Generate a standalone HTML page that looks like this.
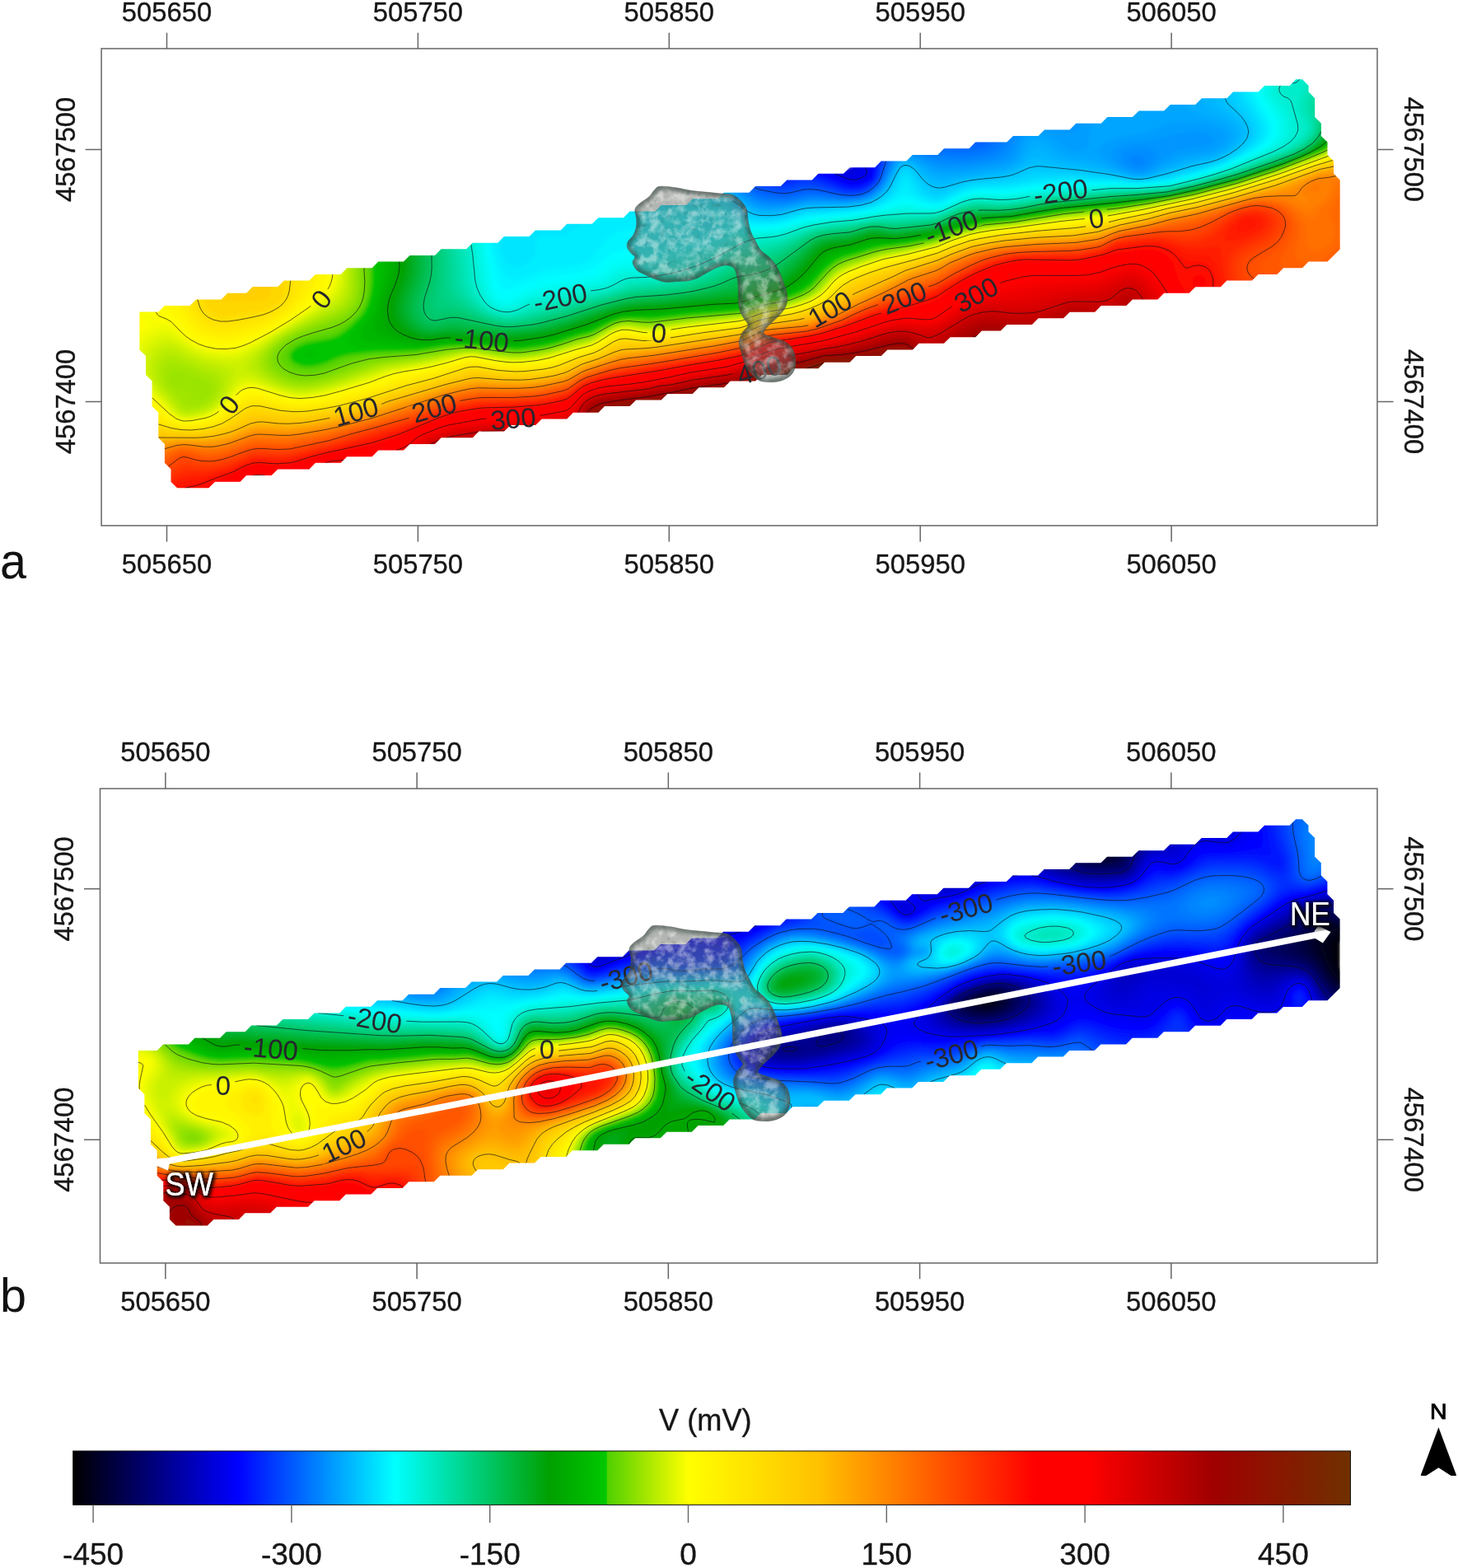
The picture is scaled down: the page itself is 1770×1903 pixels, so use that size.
<!DOCTYPE html>
<html lang="en"><head><meta charset="utf-8"><title>Self-potential maps</title>
<style>html,body{margin:0;padding:0;background:#fff}svg{display:block}text{font-family:"Liberation Sans",sans-serif}</style></head><body>
<svg width="1770" height="1903" viewBox="0 0 1770 1903" role="img" aria-label="Self-potential maps a and b with colour scale">
<rect width="1770" height="1903" fill="#fff"/>
<defs>
<clipPath id="cs"><path d="M230.4 371h-30.5l-7.6 7.6h-22.9v45.8l7.6 7.7v22.9l7.6 7.6v30.5l7.7 7.6v30.6l7.6 7.6v22.9l7.6 7.6v15.3l7.7 7.6h38.1l7.7-7.6h30.5l7.6-7.7h30.5l7.7-7.6h38.1l7.6-7.6h30.6l7.6-7.6h30.5l7.6-7.7h30.6l7.6-7.6h30.5l7.6-7.6h38.2l7.6-7.7h30.6l7.6-7.6h30.5l7.6-7.6h30.5l7.7-7.7h30.5l7.6-7.6h30.6l7.6-7.6h30.5l7.6-7.6h30.5l7.7-7.7h30.5l7.6-7.6h30.6l7.6-7.6h30.5l7.6-7.7h30.5l7.7-7.6h30.5l7.6-7.6h30.6l7.6-7.7h30.5l7.6-7.6h30.5l7.7-7.6h30.5l7.6-7.6h22.9l7.6-7.7h30.6l7.6-7.6h30.5l7.6-7.6h30.6l7.6-7.7h30.5l7.6-7.6h30.6l7.6-7.6h30.5l7.6-7.6h30.6l7.6-7.7h30.5l7.6-7.6h22.9l7.7-7.6h22.9l7.6-7.7h22.9l15.2-15.2v-84l-7.6-7.6v-15.3l-7.6-7.6v-15.3l-7.6-7.6v-15.3l-7.7-7.6v-22.9l-7.6-7.6v-7.6l-7.6-7.7h-7.7l-7.6 7.7h-30.5l-7.7 7.6h-30.5l-7.6 7.6h-30.5l-7.7 7.7h-30.5l-7.6 7.6h-30.5l-7.7 7.6h-30.5l-7.6 7.6h-30.5l-7.7 7.7h-30.5l-7.6 7.6h-30.5l-7.7 7.6h-38.1l-7.6 7.7h-30.6l-7.6 7.6h-30.5l-7.6 7.6h-30.6l-7.6 7.7h-30.5l-7.6 7.6h-30.6l-7.6 7.6h-30.5l-7.6 7.6h-30.6l-7.6 7.7h-30.5l-7.6 7.6h-30.6l-7.6 7.6h-30.5l-7.6 7.7h-30.6l-7.6 7.6h-30.5l-7.6 7.6h-30.6l-7.6 7.7h-30.5l-7.6 7.6h-30.6l-7.6 7.6h-30.5l-7.6 7.6h-30.6l-7.6 7.7h-30.5l-7.6 7.6h-30.6l-7.6 7.6h-30.5l-7.6 7.7h-30.6l-7.6 7.6h-30.5l-7.6 7.6h-30.6l-7.6 7.7h-22.9l-7.6 7.6h-30.5z"/></clipPath>
<filter id="soft" x="-2%" y="-5%" width="104%" height="110%"><feGaussianBlur stdDeviation="2.2"/></filter>
<filter id="glow" x="-30%" y="-40%" width="160%" height="180%"><feGaussianBlur stdDeviation="2.2"/></filter>
<filter id="tglow" x="-30%" y="-40%" width="160%" height="180%"><feMorphology in="SourceAlpha" operator="dilate" radius="2.2" result="d"/><feGaussianBlur in="d" stdDeviation="2.3" result="b"/><feOffset in="b" dx="0.5" dy="1" result="o"/><feComponentTransfer in="o" result="s"><feFuncA type="linear" slope="0.95"/></feComponentTransfer><feMerge><feMergeNode in="s"/><feMergeNode in="SourceGraphic"/></feMerge></filter>
<filter id="tex" x="0" y="0" width="100%" height="100%"><feTurbulence type="fractalNoise" baseFrequency="0.09" numOctaves="3" seed="7" result="n"/><feColorMatrix in="n" type="matrix" values="0 0 0 0 1  0 0 0 0 1  0 0 0 0 1  2.4 2.4 0 0 -2.1" result="w"/><feComposite in="w" in2="SourceGraphic" operator="in"/></filter>
<filter id="texd" x="0" y="0" width="100%" height="100%"><feTurbulence type="fractalNoise" baseFrequency="0.13" numOctaves="2" seed="3" result="n"/><feColorMatrix in="n" type="matrix" values="0 0 0 0 0.05  0 0 0 0 0.1  0 0 0 0 0.1  -2.6 -2.6 0 0 2.1" result="w"/><feComposite in="w" in2="SourceGraphic" operator="in"/></filter>
<linearGradient id="cb" x1="0" y1="0" x2="1" y2="0"><stop offset="0.0002" stop-color="#000000"/><stop offset="0.1286" stop-color="#0000ff"/><stop offset="0.2518" stop-color="#00ffff"/><stop offset="0.2880" stop-color="#00e4b4"/><stop offset="0.3734" stop-color="#00a000"/><stop offset="0.4174" stop-color="#00c800"/><stop offset="0.4184" stop-color="#50d000"/><stop offset="0.4816" stop-color="#ffff00"/><stop offset="0.5851" stop-color="#ffc000"/><stop offset="0.6420" stop-color="#ff8000"/><stop offset="0.7528" stop-color="#ff0000"/><stop offset="0.7942" stop-color="#ff0000"/><stop offset="0.8925" stop-color="#a00000"/><stop offset="0.9992" stop-color="#703000"/></linearGradient>
<mask id="lma" maskUnits="userSpaceOnUse" x="0" y="0" width="1770" height="1903"><rect width="1770" height="1903" fill="#fff"/>
<rect x="375.83" y="352.77" width="28.35" height="20.46" transform="rotate(-52 390 363)" fill="#000"/>
<rect x="641.98" y="350.77" width="76.03" height="20.46" transform="rotate(-12 680 361)" fill="#000"/>
<rect x="546.98" y="402.27" width="76.03" height="20.46" transform="rotate(6 585 412.5)" fill="#000"/>
<rect x="785.83" y="393.77" width="28.35" height="20.46" transform="rotate(4 800 404)" fill="#000"/>
<rect x="263.83" y="480.77" width="28.35" height="20.46" transform="rotate(-52 278 491)" fill="#000"/>
<rect x="399.48" y="489.27" width="65.04" height="20.46" transform="rotate(-16 432 499.5)" fill="#000"/>
<rect x="494.48" y="484.77" width="65.04" height="20.46" transform="rotate(-16 527 495)" fill="#000"/>
<rect x="590.48" y="497.77" width="65.04" height="20.46" transform="rotate(-5 623 508)" fill="#000"/>
<rect x="889.48" y="438.77" width="65.04" height="20.46" transform="rotate(-16 922 449)" fill="#000"/>
<rect x="1249.48" y="222.27" width="76.03" height="20.46" transform="rotate(-8 1287.5 232.5)" fill="#000"/>
<rect x="1116.98" y="265.77" width="76.03" height="20.46" transform="rotate(-20 1155 276)" fill="#000"/>
<rect x="1316.83" y="254.77" width="28.35" height="20.46" transform="rotate(-8 1331 265)" fill="#000"/>
<rect x="974.98" y="364.77" width="65.04" height="20.46" transform="rotate(-30 1007.5 375)" fill="#000"/>
<rect x="1064.98" y="350.77" width="65.04" height="20.46" transform="rotate(-22 1097.5 361)" fill="#000"/>
<rect x="1152.48" y="347.27" width="65.04" height="20.46" transform="rotate(-28 1185 357.5)" fill="#000"/>
</mask>
<mask id="lmb" maskUnits="userSpaceOnUse" x="0" y="0" width="1770" height="1903"><rect width="1770" height="1903" fill="#fff"/>
<rect x="418.32" y="330.72" width="76.03" height="20.46" transform="rotate(10 456.34 340.95)" fill="#000"/>
<rect x="292.46" y="365.91" width="76.03" height="20.46" transform="rotate(5 330.48 376.14)" fill="#000"/>
<rect x="258.37" y="411.16" width="28.35" height="20.46" transform="rotate(0 272.54 421.39)" fill="#000"/>
<rect x="650.93" y="366.92" width="28.35" height="20.46" transform="rotate(0 665.11 377.15)" fill="#000"/>
<rect x="386.36" y="484.06" width="65.04" height="20.46" transform="rotate(-25 418.88 494.29)" fill="#000"/>
<rect x="722.99" y="277.93" width="76.03" height="20.46" transform="rotate(-15 761 288.16)" fill="#000"/>
<rect x="825.37" y="416.19" width="76.03" height="20.46" transform="rotate(35 863.39 426.42)" fill="#000"/>
<rect x="1135.03" y="194.97" width="76.03" height="20.46" transform="rotate(-15 1173.05 205.2)" fill="#000"/>
<rect x="1272.38" y="261.34" width="76.03" height="20.46" transform="rotate(-8 1310.4 271.57)" fill="#000"/>
<rect x="1117.55" y="373.46" width="76.03" height="20.46" transform="rotate(-15 1155.57 383.69)" fill="#000"/>
</mask>
</defs>
<g>
<g clip-path="url(#cs)" filter="url(#soft)">
<path d="M230 370h-30.2l-.6 .3l-7.3 7.3h-22.5l-.6 .3l-.4 .7v45.9l.3 .7l7.3 7.3l.1 22.9l7.5 7.6l.1 30.3l7.6 7.9v30.3l7.6 7.8v22.7l7.6 7.8l.2 15.4l8.3 8.1h38.4l.6-.3l7.4-7.3h30.2l.6-.3l7.3-7.4h30.3l7.9-7.6h37.9l7.9-7.6h30.2l.6-.3l7.3-7.3l30.3-.1l7.9-7.6h30.2l.6-.3l7.3-7.3h30.4l7.8-7.6h37.9l7.8-7.7h30.2l.7-.3l7.3-7.3h30.4l7.7-7.6h30.3l7.9-7.7h30.3l7.8-7.6h30.3l7.9-7.6h30.3l7.8-7.6l30.3-.1l7.9-7.6h30.3l7.8-7.6h30.3l7.9-7.6h30.3l7.8-7.7h30.3l7.9-7.6h30.2l.6-.3l7.3-7.3l30.4-.1l7.8-7.6h30.3l7.8-7.6h30.4l7.8-7.6h30.3l7.8-7.6l22.9-.1l7.7-7.6h30.3l7.8-7.6h30.3l7.9-7.6h30.3l7.8-7.7h30.3l7.9-7.6h30.3l7.8-7.6h30.3l7.9-7.6l30.3-.1l7.8-7.6h30.3l7.9-7.6h22.6l7.9-7.6h22.6l.6-.3l7.3-7.4h22.8l15.9-16v-84.3l-.3-.6l-7.3-7.3l-.1-15.3l-7.5-7.6l-.1-15.2l-7.5-7.7l-.1-15.2l-7.6-7.7l-.1-22.9l-7.5-7.6l-.2-7.8l-7.7-7.8l-.7-.3h-7.8l-.6 .3l-7.3 7.4h-30.4l-7.8 7.6h-30.4l-7.7 7.6h-30.3l-7.9 7.7h-30.3l-7.8 7.6h-30.3l-7.9 7.6h-30.3l-7.8 7.6l-30.3 .1l-7.9 7.6h-30.3l-7.8 7.6h-30.3l-7.9 7.6l-37.9 .1l-7.9 7.6h-30.4l-7.7 7.6h-30.2l-.6 .3l-7.4 7.3h-30.3l-7.8 7.7h-30.3l-7.9 7.6h-30.3l-7.8 7.6l-30.4 .1l-7.8 7.5l-30.3 .1l-7.8 7.6h-30.2l-.6 .3l-7.4 7.3l-30.4 .1l-7.7 7.5l-30.3 .1l-7.9 7.6h-30.3l-7.8 7.6h-30.3l-7.9 7.6h-30.2l-.6 .3l-7.3 7.4h-30.4l-7.8 7.6h-30.2l-.6 .3l-7.3 7.3h-30.3l-7.9 7.6l-30.2 .1l-.6 .2l-7.3 7.4h-30.4l-7.8 7.6h-30.3l-7.8 7.6l-30.3 .1l-7.9 7.6h-30.3l-7.8 7.6h-30.4l-7.8 7.6h-30.3l-7.8 7.7h-22.9l-7.6 7.6h-30.4z" fill="#0000d4"/>
<path d="M1037.3 196.9l-4.3 5.6l-3 1.9l-6 .4l-11.2-3l-707.1 141.4l-137.5 30.6l-2.8 1.8l-1 3l.1 46.9l22.9 107l7.7 30.5l7.7 23.3l8.8 9.5l3.6 1.5l39.1-.1l320.5-61l610.4-122.1l335.7-68.7l91.8-22.9l17.6-16.6l1.4-3.5l-.2-85.5l-30.8-99.9l-7.6-15.3l-8.6-8.9l-11.2-1.5z" fill="#0000dc"/>
<path d="M1043.4 196l-5.6 12l-4.8 3l-9-1.4l-17-6.6l-701.3 140.2l-137.5 30.6l-2.8 1.8l-1 3l.1 46.9l22.9 107l7.7 30.5l7.7 23.3l8.8 9.5l3.6 1.5l39.1-.1l320.5-61l610.4-122.1l335.7-68.7l91.8-22.9l17.6-16.6l1.4-3.5l-.2-85.5l-30.8-99.9l-7.6-15.3l-8.6-8.9l-11.2-1.5l-390.1 76.4z" fill="#0000e4"/>
<path d="M1048.6 194.7l-1.4 13.3l-1.2 3l-3.4 3l-6.6 2.2l-10.7-2.2l-23.2-10l-696.4 139.2l-137.5 30.6l-2.8 1.8l-1 3l.1 46.9l22.9 107l7.7 30.5l7.7 23.3l8.8 9.5l3.6 1.5l39.1-.1l320.5-61l610.4-122.1l335.7-68.7l91.8-22.9l17.6-16.6l1.4-3.5l-.2-85.5l-30.8-99.9l-7.6-15.3l-8.6-8.9l-11.2-1.5l-390.1 76.4z" fill="#0000ec"/>
<path d="M1052.6 193.9l-.1 8.1l1.8 6l-.3 3.9l-1.5 2.1l-5.2 3l-8.3 2.5l-6-.1l-6-1.6l-29.5-12.9l-691.8 138.3l-137.5 30.6l-2.8 1.8l-1 3l.1 46.9l22.9 107l7.7 30.5l7.7 23.3l8.8 9.5l3.6 1.5l39.1-.1l320.5-61l610.4-122.1l335.7-68.7l91.8-22.9l17.6-16.6l1.4-3.5l-.2-85.5l-30.8-99.9l-7.6-15.3l-8.6-8.9l-11.2-1.5z" fill="#0000f4"/>
<path d="M1055.8 193.2l1.6 14.8l-1.2 6l-5.2 4.2l-9 3.3l-6 .6l-9-1.7l-34.2-14.6l-687.1 137.4l-137.5 30.6l-2.8 1.8l-1 3l.1 46.9l22.9 107l7.7 30.5l7.7 23.3l8.8 9.5l3.6 1.5l39.1-.1l320.5-61l610.4-122.1l335.7-68.7l91.8-22.9l17.6-16.6l1.4-3.5l-.2-85.5l-30.8-99.9l-7.6-15.3l-8.6-8.9l-11.2-1.5z" fill="#0000fc"/>
<path d="M1058.4 193l.9 15l-1 6l-2.1 3l-4.3 3l-9.9 3.6l-6 .5l-9-1.6l-27-11.7l-12.2-4l-682.1 136.4l-137.5 30.6l-2.8 1.8l-1 3l.1 46.9l22.9 107l7.7 30.5l7.7 23.3l8.8 9.5l3.6 1.5l39.1-.1l320.5-61l610.4-122.1l335.7-68.7l91.8-22.9l17.6-16.6l1.4-3.5l-.2-85.5l-30.8-99.9l-7.6-15.3l-8.6-8.9l-11.2-1.5l-390.1 76.4z" fill="#0005ff"/>
<path d="M1060.8 192.2l.1 15.8l-.9 6l-3 4.1l-3 2.4l-12 4.8l-6 .5l-9-1.5l-30-12.5l-14.9-3.8l-676.4 135.2l-137.5 30.6l-2.8 1.8l-1 3l.1 46.9l22.9 107l7.7 30.5l7.7 23.3l8.8 9.5l3.6 1.5l39.1-.1l320.5-61l610.4-122.1l335.7-68.7l91.8-22.9l17.6-16.6l1.4-3.5l-.2-85.5l-30.8-99.9l-7.6-15.3l-8.6-8.9l-11.2-1.5l-390.1 76.4z" fill="#000dff"/>
<path d="M1062.9 191.8l-1 19.2l-1.9 5.4l-3 3.4l-4.8 3.2l-10.2 3.7l-6 .5l-9-1.2l-39-14.9l-9-1.3l-9 .6l-664.3 132.8l-137.5 30.6l-2.8 1.8l-1 3l.1 46.9l22.9 107l7.7 30.5l7.7 23.3l8.8 9.5l3.6 1.5l39.1-.1l320.5-61l610.4-122.1l335.7-68.7l91.8-22.9l17.6-16.6l1.4-3.5l-.2-85.5l-30.8-99.9l-7.6-15.3l-8.6-8.9l-11.2-1.5l-390.1 76.4z" fill="#0015ff"/>
<path d="M1064.8 191.4l-1.6 19.6l-2.3 6l-6.9 6.4l-6 3l-6 1.7l-9 .4l-9-1.7l-30-11.9l-12-2.7l-9 .1l-18 3.2l-8.8-.4l-640.5 128.1l-137.5 30.6l-2.8 1.8l-1 3l.1 46.9l22.9 107l7.7 30.5l7.7 23.3l8.8 9.5l3.6 1.5l39.1-.1l320.5-61l610.4-122.1l335.7-68.7l91.8-22.9l17.6-16.6l1.4-3.5l-.2-85.5l-30.8-99.9l-7.6-15.3l-8.6-8.9l-11.2-1.5l-390.1 76.4z" fill="#001dff"/>
<path d="M1066.7 191l-2.5 20l-2.2 6l-2.2 3l-5.8 4.6l-12 4.7l-9 .4l-9-1.5l-30-11.2l-12-2.8l-9 .2l-18 3.7l-15.7-1.6l-633.6 126.7l-137.5 30.6l-2.8 1.8l-1 3l.1 46.9l22.9 107l7.7 30.5l7.7 23.3l8.8 9.5l3.6 1.5l39.1-.1l320.5-61l610.4-122.1l335.7-68.7l91.8-22.9l17.6-16.6l1.4-3.5l-.2-85.5l-30.8-99.9l-7.6-15.3l-8.6-8.9l-11.2-1.5z" fill="#0025ff"/>
<path d="M1068.5 190.7l-3.3 20.3l-2.2 6.2l-3 3.9l-6 4.8l-6 2.9l-6 1.7l-9 .4l-9-1.2l-30-10.7l-12-2.7l-9 .2l-15 3.7l-6 .5l-18.7-3l-627.6 125.5l-137.5 30.6l-2.8 1.8l-1 3l.1 46.9l22.9 107l7.7 30.5l7.7 23.3l8.8 9.5l3.6 1.5l39.1-.1l320.5-61l610.4-122.1l335.7-68.7l91.8-22.9l17.6-16.6l1.4-3.5l-.2-85.5l-30.8-99.9l-7.6-15.3l-8.6-8.9l-11.2-1.5z" fill="#002dff"/>
<path d="M1070.3 190.3l-4.1 20.7l-3.2 7.9l-3 3.6l-6 4.5l-6 3l-6 1.6l-9 .6l-9-1.2l-33-10.9l-9-1.7l-9 .4l-15 3.8l-6 .6l-9-.8l-15.5-3.5l-621.8 124.3l-137.5 30.6l-2.8 1.8l-1 3l.1 46.9l22.9 107l7.7 30.5l7.7 23.3l8.8 9.5l3.6 1.5l39.1-.1l320.5-61l610.4-122.1l335.7-68.7l91.8-22.9l17.6-16.6l1.4-3.5l-.2-85.5l-30.8-99.9l-7.6-15.3l-8.6-8.9l-11.2-1.5z" fill="#0035ff"/>
<path d="M1072 190l-2 6l-3.7 18l-3 6l-9.3 8.2l-6 2.9l-6 1.6l-9 .5l-10.5-1.2l-31.5-9.8l-9-1.7l-9 .4l-15 4.1l-6 .6l-12-1.3l-17.8-4.4l-616.5 123.3l-137.5 30.6l-2.8 1.8l-1 3l.1 46.9l22.9 107l7.7 30.5l7.7 23.3l8.8 9.5l3.6 1.5l39.1-.1l320.5-61l610.4-122.1l335.7-68.7l91.8-22.9l17.6-16.6l1.4-3.5l-.2-85.5l-30.8-99.9l-7.6-15.3l-8.6-8.9l-11.2-1.5z" fill="#003dff"/>
<path d="M1073.7 190l-3.2 9l-3.3 15l-2.9 6l-4.3 4.9l-6 4.4l-6 2.9l-6 1.5l-9 .6l-9-.8l-33-9.3l-9-1.5l-9 .5l-15 4.1l-9 .7l-18-3.1l-13.3-4.1l-612 122.4l-137.5 30.6l-2.8 1.8l-1 3l.1 46.9l22.9 107l7.7 30.5l7.7 23.3l8.8 9.5l3.6 1.5l39.1-.1l320.5-61l610.4-122.1l335.7-68.7l91.8-22.9l17.6-16.6l1.4-3.5l-.2-85.5l-30.8-99.9l-7.6-15.3l-8.6-8.9l-11.2-1.5l-390.1 76.4z" fill="#0045ff"/>
<path d="M1075.7 189.2l-3.7 9.3l-3.8 15.5l-2.9 6l-5.2 6l-6.1 4.4l-12 4.3l-9 .7l-9-.7l-30-7.6l-12-2.1l-9 .7l-18 4.6l-9-.2l-21-4l-11.3-4.5l-608 121.6l-137.5 30.6l-2.8 1.8l-1 3l.1 46.9l22.9 107l7.7 30.5l7.7 23.3l8.8 9.5l3.6 1.5l39.1-.1l320.5-61l610.4-122.1l335.7-68.7l91.8-22.9l17.6-16.6l1.4-3.5l-.2-85.5l-30.8-99.9l-7.6-15.3l-8.6-8.9l-11.2-1.5l-390.1 76.4z" fill="#004dff"/>
<path d="M1077.6 188.9l-4.4 10.1l-4.1 15l-3.1 6.5l-9 9.1l-6 3.4l-6 2.1l-9 1.2l-12-.4l-30-6.9l-12-1.6l-9 .9l-15 3.9l-9 .6l-27-5l-11.7-5.5l-604.6 120.9l-137.5 30.6l-2.8 1.8l-1 3l.1 46.9l22.9 107l7.7 30.5l7.7 23.3l8.8 9.5l3.6 1.5l39.1-.1l320.5-61l610.4-122.1l335.7-68.7l91.8-22.9l17.6-16.6l1.4-3.5l-.2-85.5l-30.8-99.9l-7.6-15.3l-8.6-8.9l-11.2-1.5l-390.1 76.4z" fill="#0055ff"/>
<path d="M1079.6 188.5l-5.2 10.5l-5.6 18l-3.5 6l-8.3 7.7l-6 3.3l-6 2l-9 1.3l-12-.3l-30-6.1l-12-1.1l-9 1.1l-15 3.7l-9 .5l-27-4.8l-6-2.2l-8.7-5.2l-601.6 120.3l-137.5 30.6l-2.8 1.8l-1 3l.1 46.9l22.9 107l7.7 30.5l7.7 23.3l8.8 9.5l3.6 1.5l39.1-.1l320.5-61l610.4-122.1l335.7-68.7l91.8-22.9l17.6-16.6l1.4-3.5l-.2-85.5l-30.8-99.9l-7.6-15.3l-8.6-8.9l-11.2-1.5l-375.3 73.5l-6 3.6l-9 2.7l-21.3 .9z" fill="#005dff"/>
<path d="M1081.7 188l-4.7 8l-7.2 21l-3.4 6l-9.4 8.8l-6 3.3l-6 1.9l-9 1.3l-12-.2l-27-4.9l-12-1l-9 .7l-21 4.4l-9-.2l-27-5.2l-6-2.7l-8.6-5.7l-598.7 119.7l-137.5 30.6l-2.8 1.8l-1 3l.1 46.9l22.9 107l7.7 30.5l7.7 23.3l8.8 9.5l3.6 1.5l39.1-.1l320.5-61l610.4-122.1l335.7-68.7l91.8-22.9l17.6-16.6l1.4-3.5l-.2-85.5l-30.8-99.9l-7.6-15.3l-8.6-8.9l-11.2-1.5l-367.3 72l-11 8.4l-12 3.5l-9 1.1l-29.7-.8z" fill="#0065ff"/>
<path d="M1084 187.6l-6.9 11.4l-6.3 18l-4.8 7.9l-9 8l-6 3.2l-6.3 1.9l-8.7 1.2h-12l-27-4.3l-12-.7l-12 1.5l-15 3.3l-12 .3l-15-2.1l-12-2.9l-9-4.4l-8.3-5.9l-596 119.2l-137.5 30.6l-2.8 1.8l-1 3l.1 46.9l22.9 107l7.7 30.5l7.7 23.3l8.8 9.5l3.6 1.5l39.1-.1l320.5-61l610.4-122.1l335.7-68.7l91.8-22.9l17.6-16.6l1.4-3.5l-.2-85.5l-30.8-99.9l-7.6-15.3l-8.6-8.9l-11.2-1.5l-361 70.7l-11.3 10.9l-6 3.3l-9 2.6l-15 1.7l-38.8-2.6z" fill="#006dff"/>
<path d="M1084 189.8l-5.5 9.2l-8.2 21l-4.1 6l-9.2 8l-12 4.9l-9 1.2l-12 .1l-36-4.2l-12 1.1l-21 4.2l-12-.1l-15-2.2l-9-2.3l-9-4.4l-10.9-7.7l-593.4 118.6l-137.5 30.6l-2.8 1.8l-1 3l.1 46.9l22.9 107l7.7 30.5l7.7 23.3l8.8 9.5l3.6 1.5l39.1-.1l320.5-61l610.4-122.1l335.7-68.7l91.8-22.9l17.6-16.6l1.4-3.5l-.2-85.5l-30.8-99.9l-7.6-15.3l-8.6-8.9l-11.2-1.5l-354.9 69.5l-6.4 8.2l-8 7.2l-9 4.4l-9 2.3l-15 1.8l-52.9-3.9l-31.4 6.2z" fill="#0075ff"/>
<path d="M1090 186.5l-4.1 3.5l-4.4 6l-8.7 21l-5.4 9l-10.4 9.1l-12 4.7l-9 1.3l-12 .2l-36-3.5l-12 1.1l-21 4.3l-15-.1l-15-2.3l-9-2.9l-9-5.1l-10.6-7.7l-590.7 118.1l-137.5 30.6l-2.8 1.8l-1 3l.1 46.9l22.9 107l7.7 30.5l7.7 23.3l8.8 9.5l3.6 1.5l39.1-.1l320.5-61l610.4-122.1l335.7-68.7l91.8-22.9l17.6-16.6l1.4-3.5l-.2-85.5l-30.8-99.9l-7.6-15.3l-8.6-8.9l-11.2-1.5l-349 68.4l-8.3 12.1l-6 6.3l-9 5l-14.1 3.9l-12.9 1.6h-9l-33-3l-21.6-3.3z" fill="#007dff"/>
<path d="M1229.6 158.7l-10.6 17.2l-6 6.4l-9 4.6l-15 3.7l-15 1.9l-15-.3l-24-2.2l-27-5.8l-9 .6l-6 1.9l-6 4.2l-4 5.1l-10.5 24l-6.5 9l-9 7.2l-12 4.5l-9 1.4l-12 .3l-36-3l-12 1.2l-21 4.3l-18 .1l-12-1.8l-9-2.9l-9-5.1l-13.2-9.6l-588.1 117.6l-137.5 30.6l-2.8 1.8l-1 3l.1 46.9l22.9 107l7.7 30.5l7.7 23.3l8.8 9.5l3.6 1.5l39.1-.1l320.5-61l610.4-122.1l335.7-68.7l91.8-22.9l17.6-16.6l1.4-3.5l-.2-85.5l-30.8-99.9l-7.6-15.3l-8.6-8.9l-11.2-1.5z" fill="#0085ff"/>
<path d="M1235.6 157.5l-11.7 20.5l-4.9 6.4l-9 5.3l-12.9 3.3l-17.1 2.8l-18 .7l-24-1.8l-21-6.6l-9-1.8l-9 .3l-6 1.9l-6 4.5l-3 4l-10.4 23l-6.2 9l-10.4 8.3l-12 4.4l-18 1.7l-30-2.2l-12-.1l-33 5.9l-18-.1l-12-2.1l-9-3.6l-21.8-15.1l-585.5 117.1l-137.5 30.6l-2.8 1.8l-1 3l.1 46.9l22.9 107l7.7 30.5l7.7 23.3l8.8 9.5l3.6 1.5l39.1-.1l320.5-61l610.4-122.1l335.7-68.7l91.8-22.9l17.6-16.6l1.4-3.5l-.2-85.5l-30.8-99.9l-7.6-15.3l-8.6-8.9l-11.2-1.5zM1378 188l6 .1l4.3 1.9l2.1 3l-.1 3l-2 3l-4.3 2.1l-3 .2l-6.2-2.3l-2.6-3l-.6-3l1.7-3z" fill="#008dff"/>
<path d="M1246 156l-6 4l-3 3.6l-9 19l-3 4.5l-6 4.3l-12 3.7l-30 4.7l-30 .3l-12-2l-18-7.2l-9-2.3l-9-.1l-6 1.9l-3.8 2.6l-4.8 6l-9.6 21l-6 9l-5.8 5.4l-6 4l-12 4.2l-21 1.9l-39-1.8l-33 6.1l-9 .6l-12-.6l-9-1.6l-9-3.5l-24.6-17l-582.7 116.5l-137.5 30.6l-2.8 1.8l-1 3l.1 46.9l22.9 107l7.7 30.5l7.7 23.3l8.8 9.5l3.6 1.5l39.1-.1l320.5-61l610.4-122.1l335.7-68.7l91.8-22.9l17.6-16.6l1.4-3.5l-.2-85.5l-30.8-99.9l-7.6-15.3l-8.6-8.9l-11.2-1.5l-262 51.3l-5.3 3.4l-9 3.3l-12 1.5l-19.3 .8zM1375 179.8h15l6 1.3l5.1 2.9l1.3 3l-.2 3l-4.6 9l-8.2 6l-8.4 1.2l-6.1-1.2l-9.9-6l-4.3-6l-.5-3l.7-3l5.1-4.6z" fill="#0095ff"/>
<path d="M1325.7 139.8l-19.7 18.2l-6 3.4l-6 .1l-18-3.8l-9-.9l-9 .7l-9 2.6l-4.6 2.9l-4.4 5.2l-6.8 15.8l-3.6 6l-7.6 5.3l-9 2.6l-36 5.4l-30 1.2l-12-2.5l-24-10.5l-9-1.4l-6 .8l-6 3.4l-3 3.2l-12.6 25.5l-5.4 7.3l-12 9.3l-12 4l-18 1.9l-42-1.3l-9 1l-27 5.7l-18 .1l-9-1.5l-9-3.4l-27.4-18.8l-579.9 115.9l-137.5 30.6l-2.8 1.8l-1 3l.1 46.9l22.9 107l7.7 30.5l7.7 23.3l8.8 9.5l3.6 1.5l39.1-.1l320.5-61l610.4-122.1l335.7-68.7l91.8-22.9l17.6-16.6l1.4-3.5l-.2-85.5l-30.8-99.9l-7.6-15.3l-8.6-8.9l-11.2-1.5zM1450 159.6l9 .7l9 2.8l4.1 2.9l1.2 3l-.9 3l-2.7 3l-6.7 3l-22 2.3l-15 4.5l-12 6.4l-12.9 10.8l-11.1 6.1l-6 1l-6-.3l-11.1-3.8l-9.5-6l-5.8-6l-1.5-3l.2-6l2-3l4.7-3.7l6-2.6l9-1.8l27-2.6l27-7.1z" fill="#009dff"/>
<path d="M1342 136.7l-6.7 5.3l-10.3 12l-3.5 9l.7 12l-.7 3l-4.4 3l-11.1 2.4l-6-.7l-6-2.8l-13.1-10.9l-4.8-3l-8.8-3l-6.3-.5l-9 1.8l-6 4.3l-3 4.5l-5.9 13.9l-6.1 7.9l-7.3 4.1l-10.7 2.7l-39 5.3l-27 1.6l-12-2.5l-19.2-10.1l-7.8-3l-6-1l-6 .7l-5.7 3.3l-3.3 4l-11.3 23l-6.7 8.9l-12 8.8l-12 3.9l-21 2l-39-1l-12 1.6l-24 5.5l-9 .7l-12-.6l-9-1.8l-9-4.1l-27.3-19.1l-577 115.4l-137.5 30.6l-2.8 1.8l-1 3l.1 46.9l22.9 107l7.7 30.5l7.7 23.3l8.8 9.5l3.6 1.5l39.1-.1l320.5-61l610.4-122.1l335.7-68.7l91.8-22.9l17.6-16.6l1.4-3.5l-.2-85.5l-30.8-99.9l-7.6-15.3l-8.6-8.9l-11.2-1.5l-166.9 32.7l-4.4 3l-8.5-.4zM1420 149.8l9-1l21 .2l24 4.6l8.7 3.4l3.7 3l1.8 3l.6 3l-.7 3l-4.4 6l-9.7 6.5l-7.3 2.5l-25.7 3.5l-12 3.4l-15 6.9l-16.9 10.2l-10.1 3.1l-12-.7l-14.8-5.4l-10.9-6l-8.4-6l-7.8-9l-.4-3l2.4-3l16.9-9l11-3.5l21-2.4l9-2.1z" fill="#00a5ff"/>
<path d="M1443.2 116.8l-3.4 7.2l.1 3l1.3 3l3 3l11.7 6l27.1 9.4l9.4 5.6l2.6 3.1l2.1 5.9l-.1 3l-2 5l-3 4l-6 5l-12 6.3l-9 2.4l-18 2.4l-12 2.8l-15 5.6l-21 10.1l-9 2.8l-9 .8l-9-1.5l-11.7-3.7l-33.3-13.6l-9-1.9l-18-1.6l-6-1.5l-10.3-5.4l-14.9-12l-4.8-2l-6-.6l-6 2.2l-3 3.1l-8 15.3l-7 7.6l-9 4.8l-12 2.8l-57 7.4h-12l-12-3.1l-22.4-13.5l-7.6-2l-6 .6l-6 3.9l-2.5 3.5l-10.3 21l-6.6 9l-11.8 9l-13.8 4.6l-18 2l-45-.2l-33 7.1l-9 .9l-12-.4l-9-1.6l-9-3.9l-21-15.3l-9.6-5.7l-573.7 114.7l-137.5 30.6l-2.8 1.8l-1 3l.1 46.9l22.9 107l7.7 30.5l7.7 23.3l8.8 9.5l3.6 1.5l39.1-.1l320.5-61l610.4-122.1l335.7-68.7l91.8-22.9l17.6-16.6l1.4-3.5l-.2-85.5l-30.8-99.9l-7.6-15.3l-8.6-8.9l-11.2-1.5z" fill="#00adff"/>
<path d="M1461.4 113.3l-1.1 7.7l.6 3l3.8 6l8.1 6l19.2 9.3l6 4.8l3 3.7l1.6 3.2l1.1 6l-1.7 6l-1.7 3l-9.4 9l-10.3 6l-6.6 2.6l-36 7.4l-18 6.2l-18.9 7.8l-10.4 3l-6.7 .8l-9.5-.8l-47.5-13.8l-36-5.7l-11.8-4.5l-12.2-7.6l-6-2.3l-3 .2l-3 1.4l-16.8 17.3l-7.2 4.5l-6 2.4l-9.2 2.1l-62.8 8.7h-12l-9-2.4l-6-3.4l-15.6-11.9l-5.4-2.3l-6-.8l-6 2.1l-3 2.9l-13 25.1l-5 6.4l-12 9.2l-6 2.7l-9 2.3l-18 2.1l-45 .1l-36 7.9l-21 .2l-9-2.1l-6-2.7l-23.4-17.1l-10.9-5.8l-570 114l-137.5 30.6l-2.8 1.8l-1 3l.1 46.9l22.9 107l7.7 30.5l7.7 23.3l8.8 9.5l3.6 1.5l39.1-.1l320.5-61l610.4-122.1l335.7-68.7l91.8-22.9l17.6-16.6l1.4-3.5l-.2-85.5l-30.8-99.9l-7.6-15.3l-8.6-8.9l-11.2-1.5z" fill="#00b5ff"/>
<path d="M1474 111.1l-.3 6.9l4.2 9l6.3 6l13.8 9.1l5.9 5.9l3.1 4.7l1.7 4.3l.5 6l-3.9 9l-5.7 6l-7.6 5.7l-15 7.6l-9 2.8l-27 5.5l-48 15.3l-9 1.2l-9-.6l-51-11.6l-39-5.6l-24-6.3l-9 2.5l-18 11.3l-12 4.2l-45 5.8l-27 5.3l-9 .4l-6-1l-6-2.5l-6-4.3l-12.3-11.7l-5.7-3l-6-1.2l-6 2.3l-3 3.6l-11.4 22.3l-7.4 9l-11.2 7.9l-15 4.8l-18 2.1l-45 .5l-9 1.4l-27 6.8l-21 .5l-9-1.8l-6-2.6l-24-17.6l-14.5-6.9l-565.8 113.1l-137.5 30.6l-2.8 1.8l-1 3l.1 46.9l22.9 107l7.7 30.5l7.7 23.3l8.8 9.5l3.6 1.5l39.1-.1l320.5-61l610.4-122.1l335.7-68.7l91.8-22.9l17.6-16.6l1.4-3.5l-.2-85.5l-30.8-99.9l-7.6-15.3l-8.6-8.9l-11.2-1.5z" fill="#00bdff"/>
<path d="M1484.6 109l.2 9l2.3 6l5.2 6l13.4 12l4.6 6l3 6l1 9l-4.4 9l-5.8 6l-7.9 6l-17.3 9l-10.9 3.5l-21 4.5l-32.9 10l-21.1 5.3l-9 1.1l-8-.4l-28-5.6l-33-5.2l-57-6l-9 2.3l-15 7.1l-9 3l-48 5.9l-30 7.5l-9 .7l-6-1.6l-6-3.4l-15.6-16.7l-5.4-3.6l-6-1.5l-5.2 2.1l-2.6 3l-10.8 21l-7 9l-13.4 9.3l-15 4.6l-21 2.2l-42 .8l-9 1.4l-27 7.1l-12 .9l-12-.4l-12-3.6l-7.1-4.3l-19.9-15.2l-9-4.2l-8.1-2.4l-560.2 112l-137.5 30.6l-2.8 1.8l-1 3l.1 46.9l22.9 107l7.7 30.5l7.7 23.3l8.8 9.5l3.6 1.5l39.1-.1l320.5-61l610.4-122.1l335.7-68.7l91.8-22.9l17.6-16.6l1.4-3.5l-.2-85.5l-30.8-99.9l-7.6-15.3l-8.6-8.9l-11.2-1.5z" fill="#00c5ff"/>
<path d="M1492.2 107.2l-.1 7.8l1.9 6l4.3 6l13.4 15l6.6 12l.5 9l-4.6 9l-6 6l-8 6l-10.2 6l-13 5.8l-57 15.7l-24.1 5.5l-8.9 1.3h-9l-33-5.4l-39-4.5l-48-2.3l-9 1.6l-17.3 6.3l-9.7 2.4l-33 2.9l-15 2.3l-30 9.7l-6 .7l-6-1.3l-6-3.4l-6-5.5l-12-15.6l-6-3.5l-3-.6l-3 .8l-3 2.6l-10.6 20.5l-4.4 6.6l-9.9 8.4l-11.1 5.9l-9 2.5l-15 2.3l-54 2.1l-30 7.9l-15 1.6l-15-.7l-9-2.7l-9-5.3l-12.7-10.6l-8.3-5.3l-9-3.4l-12.7-2.6l-552.6 110.5l-137.5 30.6l-2.8 1.8l-1 3l.1 46.9l22.9 107l7.7 30.5l7.7 23.3l8.8 9.5l3.6 1.5l39.1-.1l320.5-61l610.4-122.1l335.7-68.7l91.8-22.9l17.6-16.6l1.4-3.5l-.2-85.5l-30.8-99.9l-7.6-15.3l-8.6-8.9l-11.2-1.5z" fill="#00cdff"/>
<path d="M1498.3 106l.5 9l2.5 6l15.6 21l6 12l.2 9l-4.8 9l-6.2 6l-8.2 6l-10.1 6l-12.6 6l-10.2 3.5l-54 14.8l-24 4.2l-12 1l-33-4.4l-48-4.2h-42l-9 1.3l-27 7.1l-33 2.3l-15 2.4l-12 3.7l-16.7 7.3l-7.3 1.3l-7.1-1.3l-7.9-4.7l-6-6.4l-10.8-15.9l-4.2-2.7l-3-.6l-3 1l-3 3.3l-10.1 20l-4.7 6l-12.1 9l-9.1 4.3l-12 2.9l-12 1.6l-54 2.6l-30 8.1l-15 1.7l-15-.5l-9-2.3l-9-4.7l-15-12.5l-9-5.1l-12-3.2l-18.3-1.9l-541 108.2l-137.5 30.6l-2.8 1.8l-1 3l.1 46.9l22.9 107l7.7 30.5l7.7 23.3l8.8 9.5l3.6 1.5l39.1-.1l320.5-61l610.4-122.1l335.7-68.7l91.8-22.9l17.6-16.6l1.4-3.5l-.2-85.5l-30.8-99.9l-7.6-15.3l-8.6-8.9l-11.2-1.5z" fill="#00d5ff"/>
<path d="M1504.1 104.9l.1 7.1l1.9 6l17.6 27l3.7 9v9l-4.9 9l-6.5 6l-8.5 6l-22.2 12l-16.9 6l-51.4 13.9l-26.6 4.1l-9.4 .5l-33-3.7l-51-3.3l-39 1.5l-33 6.8l-33 1.8l-15 2l-12 3.6l-18.8 8.8l-8.2 1.9l-9-1.6l-9-5.3l-6-6.8l-8.9-15.2l-3.1-2.4l-3-.7l-3 1.5l-3 4l-7.4 15.6l-4.5 6l-9.1 7.2l-12 6.5l-12 3.3l-15 2.1l-54 3.1l-30 8.1l-15 1.8l-15-.3l-12-2.9l-9-4.9l-15-12.7l-6-3.1l-6-1.9l-15-1.8l-29.9-.3l-520.4 104l-137.5 30.6l-2.8 1.8l-1 3l.1 46.9l22.9 107l7.7 30.5l7.7 23.3l8.8 9.5l3.6 1.5l39.1-.1l320.5-61l610.4-122.1l335.7-68.7l91.8-22.9l17.6-16.6l1.4-3.5l-.2-85.5l-30.8-99.9l-7.6-15.3l-8.6-8.9l-11.2-1.5z" fill="#00ddff"/>
<path d="M1509.1 103.9l.4 8.1l1.9 6l16.8 27l3.4 9l-.1 9l-5 9l-6.7 6l-8.8 6l-16 9l-12 5.5l-12 4.2l-51.5 14.3l-38.5 4.4l-33-3.2l-51-2.2l-36 2l-36 6.5l-33 1.2l-12 1.3l-12 3.3l-24 11.2l-9 1.2l-9-2.2l-9.5-5.5l-5.4-6l-8.5-15l-3.6-1.5l-3 2l-7.2 14.5l-4.4 6l-9.4 7.4l-15 7.8l-9 2.5l-15 2.4l-57 3.8l-30 8.2l-15 1.9l-18-.5l-12-3l-9-4.8l-15-12.7l-9-3.1l-18-1.1l-48 1.8l-30.4 3.9l-468.9 93.7l-137.5 30.6l-2.8 1.8l-1 3l.1 46.9l22.9 107l7.7 30.5l7.7 23.3l8.8 9.5l3.6 1.5l39.1-.1l320.5-61l610.4-122.1l335.7-68.7l91.8-22.9l17.6-16.6l1.4-3.5l-.2-85.5l-30.8-99.9l-7.6-15.3l-8.6-8.9l-11.2-1.5z" fill="#00e5ff"/>
<path d="M1513.8 103l.6 9l3.3 9l13.2 21l4.1 9l1.2 6l-.6 6l-5.2 9l-6.8 6l-9.1 6l-29.2 15l-17.4 6l-47.9 13.1l-39 4.2l-33-2.7h-24l-30-1.4l-15 .7l-27 3.1l-27 5l-33 .6l-12 1.3l-15 4.7l-21 10.2l-9 1.3l-9-1.6l-11.7-5.5l-6.8-6l-5.5-7.9l-3-2l-3 2.7l-7.3 10.2l-7.4 6l-12.3 6.9l-12 4.7l-21 3.8l-57 4.3l-30 8.3l-12 1.7l-18 .1l-16.6-2.8l-10.4-4.8l-11.5-10.2l-3.5-2l-9-1.9l-54 2.8l-42 7.3l-21 1.4l-15-.6l-6 1.3l-8.5 3.7l-36.5 20.2l-9 1l-15-1.1l-6 1.6l-3.1 2.3l-1.3 3l.6 12l-.3 3l-2.9 6l-8 7.4l-6 3.1l-5.2 1.5h-4.7l-5.1-2l-6-6.3l-3-5.1l-3.1-7.6l-.9-6l1-8.6l2.1-6.8l-303.4 60.6l-137.5 30.6l-2.8 1.8l-1 3l.1 46.9l22.9 107l7.7 30.5l7.7 23.3l8.8 9.5l3.6 1.5l39.1-.1l320.5-61l610.4-122.1l335.7-68.7l91.8-22.9l17.6-16.6l1.4-3.5l-.2-85.5l-30.8-99.9l-7.6-15.3l-8.6-8.9l-11.2-1.5z" fill="#00edff"/>
<path d="M1518.3 102.1l.2 6.9l2.5 9l14.4 24l3.9 9l1 6l-.6 6l-5.2 9l-7 6l-9.4 6l-29.5 15l-16.4 6l-52.2 14.4l-39 3.8l-30-2.2l-63-.5l-33 3.7l-30 5.2l-39 .4l-15 3.3l-24 11.5l-9 2.6l-7.2-.2l-10.8-2.7l-18-8.6l-3-.7l-6 2l-11.7 7l-12.6 6l-14.7 4.9l-18 2.8l-57 4.8l-30 8.3l-12 1.8l-21 .1l-15-1.8l-15-4.6l-12-7.8l-6-.1l-6.9 3.6l-1.2 3l7.8 9v3l-2.1 3l-3.6 1.3l-6-.7l-3-1.6l-2.3-2l-3.7-9l-3-1.7l-15-4.1l-9.8-.2l-11.3 3l-29.9 11.5l-23.8 3.5l-9.2 3.5l-9 7.5l-17.9 22l-3.3 3l-5.8 3.2l-12 3.2l-33 4.4l-30 10.1l-9 2.1l-6-.1l-4-1.9l-4.7-6l-3.3-6.8l-6-16.5l-1.4-6.7l-.2-6l1.3-10.8l-295 59l-137.5 30.6l-2.8 1.8l-1 3l.1 46.9l22.9 107l7.7 30.5l7.7 23.3l8.8 9.5l3.6 1.5l39.1-.1l320.5-61l610.4-122.1l335.7-68.7l91.8-22.9l17.6-16.6l1.4-3.5l-.2-85.5l-30.8-99.9l-7.6-15.3l-8.6-8.9l-11.2-1.5z" fill="#00f5ff"/>
<path d="M1522.6 101.3l.1 7.7l2.5 9l14.5 24l3.8 9l.8 6l-.7 6l-5.2 9l-7 6l-9.8 6l-35.6 17.3l-20 6.7l-43.7 12l-41.3 3.9l-30-1.8l-27 .8l-33-.6l-39 4.6l-27 4.6h-39l-15 3.4l-24 11.4l-9 2.7l-12-.8l-24-6.7l-6-.2l-33 12.6l-18 4.1l-66 6.3l-27 7.6l-12 2.3l-18 .7l-33-.7l-6 2.3l-12 10.7l-9 3.5l-33 3.6l-33 9.7l-12 .5l-24-1.8l-9 1.3l-9 4.1l-18 14.7l-9.5 5.2l-13.9 3l-36.6 5l-18 5l-30 10.6l-3-.3l-3.3-2.3l-2.7-4.4l-3-8.5l-8.5-32.1l-.8-9l.5-9.7l-289.5 57.9l-137.5 30.6l-2.8 1.8l-1 3l.1 46.9l22.9 107l7.7 30.5l7.7 23.3l8.8 9.5l3.6 1.5l39.1-.1l320.5-61l610.4-122.1l335.7-68.7l91.8-22.9l17.6-16.6l1.4-3.5l-.2-85.5l-30.8-99.9l-7.6-15.3l-8.6-8.9l-11.2-1.5z" fill="#00fdff"/>
<path d="M1526.8 100.5v8.5l2.6 9l14.8 24l3.5 9l.7 6l-.9 6l-5.2 9l-7.1 6l-10 6l-37.9 18l-27.9 9l-39.4 10.4l-39 3.3l-30-1.4l-27 1l-33-.2l-33 4l-33 5.3l-39-.3l-15 3.4l-24 11.4l-9 2.8l-9-.1l-24-4.6l-9-.5l-9 2l-26.1 8.5l-12.9 2.8l-69 7.2l-27 7.8l-12 2.3l-45 2l-9 3.5l-14.2 10.4l-9.8 3.9l-66 16.8l-12 .9l-21-1.2l-12 1.7l-9 4.2l-17.4 12.7l-6.6 2.7l-15 3l-30 3.7l-18 4.1l-18 6l-21 10.8l-5.5-.3l-3.5-2l-3.4-4l-2.4-6l-9.2-43.2l-1.2-19.6l-285.1 57l-137.5 30.6l-2.8 1.8l-1 3l.1 46.9l22.9 107l7.7 30.5l7.7 23.3l8.8 9.5l3.6 1.5l39.1-.1l320.5-61l610.4-122.1l335.7-68.7l91.8-22.9l17.6-16.6l1.4-3.5l-.2-85.5l-30.8-99.9l-7.6-15.3l-8.6-8.9l-11.2-1.5z" fill="#00fdf9"/>
<path d="M1530.8 100l-.1 9l2.6 9l13.5 21l4.9 12l.5 6l-.9 6l-5.2 9l-7.2 6l-10.3 6l-38.6 18l-27.4 9l-42.6 11.2l-39 3.2l-30-1.2l-27 1.4l-33 .1l-36 4.5l-28.2 4.8l-40.8-.4l-9 1.5l-9 3l-21 10.1l-9 2.9l-9 .1l-27-3.6l-9 .3l-45 11.1l-69 7.6l-36 9.9l-42 2.8l-9 2.7l-18.6 12l-14.9 6l-39.9 12l-19.6 4.8l-12 1.5l-24-.7l-9 1.1l-9 3.6l-14.8 10.7l-6.2 3l-14.1 3l-33.9 4.5l-24 5.5l-15 5.3l-15 9.2l-6 2l-6-.4l-4.7-2.1l-4.3-4.1l-3-5.7l-3-11.2l-6.1-36l-1.8-20l-281.4 56.2l-137.5 30.6l-2.8 1.8l-1 3l.1 46.9l22.9 107l7.7 30.5l7.7 23.3l8.8 9.5l3.6 1.5l39.1-.1l320.5-61l610.4-122.1l335.7-68.7l91.8-22.9l17.6-16.6l1.4-3.5l-.2-85.5l-30.8-99.9l-7.6-15.3l-8.6-8.9l-11.2-1.5z" fill="#00faf2"/>
<path d="M1535.2 98.8l-.6 10.2l2.4 8.3l3.7 6.7l10.8 15l3.6 9l.7 12l-1.8 6l-4.2 6l-7.2 6l-10.6 6l-39.5 18l-26.8 9l-45.2 12l-37.2 3l-32.3-.9l-27 1.6l-33 .5l-33 4.2l-30 5.1l-15 .5l-27-1l-15 3.3l-24 11.1l-9 3l-9 .3l-27-2.5l-9 .3l-48 10.1l-39 3.8l-27 3.8l-36 10.1l-36 2.7l-13.3 4l-19.5 12l-9.2 4.2l-40.8 13.8l-16.2 4.4l-15 2.7l-12 .9l-18-.6l-9 1.4l-9 4l-12 8.7l-6 2.9l-51 8.1l-24 5.5l-12 4l-15 9l-9 3.1l-6-.4l-6.6-2.7l-5.4-5l-3.7-7l-3.8-15l-6.8-52.4l-278 55.6l-137.5 30.6l-2.8 1.8l-1 3l.1 46.9l22.9 107l7.7 30.5l7.7 23.3l8.8 9.5l3.6 1.5l39.1-.1l320.5-61l610.4-122.1l335.7-68.7l91.8-22.9l17.6-16.6l1.4-3.5l-.2-85.5l-30.8-99.9l-7.6-15.3l-8.6-8.9l-11.2-1.5z" fill="#00f8ea"/>
<path d="M1540 97.9l-1.6 8.1l1.7 9l3 6l11.6 15l3.1 6l1.7 6l.6 9l-1 6l-5.4 9l-7.4 6l-10.8 6l-40.5 18l-26.5 9l-45.5 12.2l-39 3.4l-33-.5l-63 2.8l-63 9.3l-39-.9l-15 3.3l-27 12.3l-6 1.8l-6 .5l-27-1.6l-12 .3l-48 8.8l-36 3.5l-27 3.9l-36 10.5l-30 2.4l-12 2.3l-9 3.5l-27 15.3l-40.6 14.9l-19.4 5.2l-15 2.7l-36 1.5l-9 3.5l-11.7 8.1l-6.3 3.2l-51 8.1l-24 5.4l-15 4.8l-15 8.8l-9 2.5l-9-1.2l-6-2.9l-5.2-4.7l-5-9l-3.9-15l-6.5-51.7l-274.7 54.9l-137.5 30.6l-2.8 1.8l-1 3l.1 46.9l22.9 107l7.7 30.5l7.7 23.3l8.8 9.5l3.6 1.5l39.1-.1l320.5-61l610.4-122.1l335.7-68.7l91.8-22.9l17.6-16.6l1.4-3.5l-.2-85.5l-30.8-99.9l-7.6-15.3l-8.6-8.9l-11.2-1.5z" fill="#00f5e3"/>
<path d="M1545.5 97l-2.9 9l1.7 9l3.6 6l8.2 9l4.2 6l3.8 12l.3 9l-1.1 6l-3 6l-2.6 3l-7.6 6l-11.1 6l-49.3 21l-39.4 12l-27.3 6.8l-39 3.4l-33-.3l-27 2l-36 1.3l-63 9.4l-12 .3l-27-1.3l-15 3.2l-24.7 11.2l-8.3 2.9l-9 .6l-27-1l-12 .8l-51 8.4l-30 2.7l-27 4.1l-36 10.9l-30 2.7l-12 3l-9 3.9l-20.7 12l-12.3 5.8l-23.8 9.2l-15.2 4.8l-17.5 4.2l-15.5 2.5l-24 .5l-9 1.2l-6 2.3l-13.1 8.5l-6.7 3l-49.2 7.8l-27 6.1l-12 3.5l-17.9 9.6l-6.1 1.7l-9-.1l-9-3.2l-6.1-4.4l-6-9l-3.4-9l-2-9l-6.3-51.1l-271.5 54.3l-137.5 30.6l-2.8 1.8l-1 3l.1 46.9l22.9 107l7.7 30.5l7.7 23.3l8.8 9.5l3.6 1.5l39.1-.1l320.5-61l610.4-122.1l335.7-68.7l91.8-22.9l17.6-16.6l1.4-3.5l-.2-85.5l-30.8-99.9l-7.6-15.3l-8.6-8.9l-11.2-1.5z" fill="#00f2db"/>
<path d="M1552 97l-4.1 6l-.7 3l.6 6l4.2 7.2l11.1 10.8l3.8 9l2.2 9l.2 9l-1.3 6l-6 9l-8.1 6l-11.4 6l-50.4 21l-39.2 12l-32.9 8.1l-36 2.7l-33-.1l-60 3.6l-66 9.6l-15 .3l-24-1.4l-15 3.2l-27 12l-9 2.4l-33-.1l-12 .8l-21 2.5l-30 5.1l-30 2.8l-24 3.8l-12 3l-27 8.9l-27 2.7l-12 2.9l-9 3.7l-36 19.2l-15 6.3l-21 7.1l-33 6.8l-33 2.1l-6 2l-15 8.7l-6 2.4l-51 8.5l-27 6.2l-12 3.5l-15 7.7l-9 2.8l-9-.2l-10.4-3.6l-7.8-6l-5.9-9l-3.7-9l-2-9l-6.1-50.4l-268.4 53.6l-137.5 30.6l-2.8 1.8l-1 3l.1 46.9l22.9 107l7.7 30.5l7.7 23.3l8.8 9.5l3.6 1.5l39.1-.1l320.5-61l610.4-122.1l335.7-68.7l91.8-22.9l17.6-16.6l1.4-3.5l-.2-85.5l-30.8-99.9l-7.6-15.3l-8.6-8.9l-11.2-1.5l-18.5 3.7z" fill="#00efd4"/>
<path d="M1580.8 92.3l-7.8 8.1l-3 .6l-9-1.1l-3 .9l-3 2l-1.8 3.2l-.4 3l2.2 5.2l12 7.9l8.5 28.9l-.3 9l-3.1 6l-5.5 6l-8.7 6l-11.9 6l-51.6 21l-38.9 12l-35.5 8.8l-39 2.8l-33 .1l-60 4.1l-63 9.4l-42-.8l-15 3.8l-24 10.8l-9 2.6l-33 .5l-27 2l-39 6.1l-27 2.4l-21 3.4l-12 2.9l-30 10.2l-27 3.1l-10.4 2.8l-10.6 4.6l-39 20.4l-30 11.2l-30 6.5l-39 3.6l-15.4 7.7l-11.6 4.4l-33 5.4l-33 6.8l-21 5.4l-18 8.3l-9 2.3l-12-.9l-11.2-4.7l-6.9-6l-6.1-9l-3.9-9l-2.1-9l-2.9-30l-3.1-19.8l-265.1 53l-137.5 30.6l-2.8 1.8l-1 3l.1 46.9l22.9 107l7.7 30.5l7.7 23.3l8.8 9.5l3.6 1.5l39.1-.1l320.5-61l610.4-122.1l335.7-68.7l91.8-22.9l17.6-16.6l1.4-3.5l-.2-85.5l-30.8-99.9l-7.6-15.3l-8.6-8.9z" fill="#00edcc"/>
<path d="M1586.3 94.7l-9.2 17.3l-3 12l1.4 12l6.1 15l.8 6l-2.7 6l-8.8 9l-9.1 6l-12.4 6l-52.7 21l-38.9 12l-35.8 9l-38 3.1l-36 .4l-60 4.4l-63 9.4l-15 .4l-18-1.5l-9 .3l-15 3.7l-24 10.8l-9 2.6l-33 1l-33 2.3l-33 5.3l-27 2.5l-18 2.9l-15 3.7l-30 10.7l-24 3.1l-12 3.1l-54 27l-27 9.7l-30 6.2l-36 3.3l-19.5 8.6l-9 3l-25.5 4.1l-36 7.5l-27 7l-18 7.6l-9 2l-12-.9l-12-4.8l-8.9-7.5l-6.3-9l-4.2-9l-2.2-9l-2.7-30l-3.1-19.1l-261.9 52.3l-137.5 30.6l-2.8 1.8l-1 3l.1 46.9l22.9 107l7.7 30.5l7.7 23.3l8.8 9.5l3.6 1.5l39.1-.1l320.5-61l610.4-122.1l335.7-68.7l91.8-22.9l17.6-16.6l1.4-3.5l-.2-85.5l-30.8-99.9l-7.6-15.3z" fill="#00eac5"/>
<path d="M1589.5 98.1l-9.3 19.9l-2 9l1.3 9l6.6 15l.5 6l-2.8 6l-5.5 6l-12.9 9l-12.8 6l-53.7 21l-28.3 9l-21.5 6l-32.1 7.3l-36 2.5l-33 .5l-57 4.5l-21 2.4l-33 5.9l-12 1.3l-15 .4l-18-1.5l-9 .3l-15 3.6l-24 10.7l-9 2.8l-69 3.5l-33 5.4l-24 2.2l-18 2.9l-15 4l-30 11.3l-24 3.6l-9 2.3l-15 6.5l-42 21.4l-24 8.8l-30 6.2l-39 4.1l-24 9.5l-66 13.6l-27 7l-15.2 6l-8.8 2.3h-12l-8.9-2.3l-6.1-2.7l-8.7-6.3l-9.6-12l-4.4-9l-2.3-9l-2.7-30l-2.9-18.5l-258.7 51.7l-137.5 30.6l-2.8 1.8l-1 3l.1 46.9l22.9 107l7.7 30.5l7.7 23.3l8.8 9.5l3.6 1.5l39.1-.1l320.5-61l610.4-122.1l335.7-68.7l91.8-22.9l17.6-16.6l1.4-3.5l-.2-85.5l-30.8-99.9l-7.6-15.3z" fill="#00e7bd"/>
<path d="M1592.3 101l-8 17l-2.3 9l1.2 9l6.1 15l.2 6l-2.7 6l-5.4 6l-12.9 9l-12.8 6l-54.6 21l-28.3 9l-33.5 9l-22.3 4.9l-36 2.4l-30 .6l-63 5.1l-63 9.5l-15 .4l-18-1.4l-9 .2l-15 3.5l-27 11.8l-9 2.2l-69 3.3l-30 5.1l-24 2.2l-15 2.4l-15 3.8l-33 12.9l-24 4.3l-9 2.6l-18 7.9l-36 18.3l-24 9.1l-30 6.3l-39 4l-30 10.5l-27 4.9l-36 8.4l-27 7l-21 7.1l-9 .9l-6-.5l-12.7-3.7l-10.3-6l-11.5-12l-5.4-9l-3-9l-3.3-33l-2.8-17.8l-255.3 51l-137.5 30.6l-2.8 1.8l-1 3l.1 46.9l22.9 107l7.7 30.5l7.7 23.3l8.8 9.5l3.6 1.5l39.1-.1l320.5-61l610.4-122.1l335.7-68.7l91.8-22.9l17.6-16.6l1.4-3.5l-.2-85.5l-30.8-99.9z" fill="#00e5b6"/>
<path d="M1594.5 104.5l-6.4 13.5l-2.6 9l.4 6l5.3 15l.6 9l-2.7 6l-5.2 6l-12.6 9l-12.6 6l-55.5 21l-28.3 9l-33.3 9l-24.6 5.4l-36 2.5l-30 .7l-63 5.4l-21 2.5l-27 5.2l-15 1.8l-15 .5l-18-1.5l-9 .2l-15 3.4l-27 11.8l-9 2.3l-45 2.8l-24 .4l-30 5.2l-24 2.2l-15 2.4l-15 4.1l-33 13.6l-24 5l-9 2.8l-24 10.5l-31 15.8l-23 8.4l-30 6l-39 4l-25 8.6l-62 13.8l-54 14.9l-9 .8l-6-.5l-15-4.5l-10.8-6.5l-12-12l-5.7-9l-3.1-9l-5.7-50.2l-252 50.4l-137.5 30.6l-2.8 1.8l-1 3l.1 46.9l22.9 107l7.7 30.5l7.7 23.3l8.8 9.5l3.6 1.5l39.1-.1l320.5-61l610.4-122.1l335.7-68.7l91.8-22.9l17.6-16.6l1.4-3.5l-.2-85.5l-30.8-99.9z" fill="#00e2ae"/>
<path d="M1596.3 108.1l-5.8 12.9l-1.5 6l.2 6l4.6 18l-.2 6l-2.6 6l-8.5 9l-8.9 6l-12.3 6l-56.1 21l-28.3 9l-33.2 9l-26.7 5.9l-36 2.5l-33 1.1l-57 5.1l-24 2.8l-30 5.7l-12 1.3l-15 .5l-27-1.1l-15 3.3l-27 11.7l-9 2.4l-45 3.1l-24-.1l-30 5.4l-24 2.2l-15 2.4l-15 4.4l-33 14.3l-24 5.8l-12 4.1l-21 8.9l-32.5 16.3l-18.5 6.7l-30 6.1l-42 4.3l-27 8.7l-30 6.4l-84 21.8l-15 .3l-9-2.2l-9-3.5l-14.4-9.6l-11.3-12l-4.8-9l-2.4-9l-2.4-30l-2.3-16.5l-248.7 49.7l-137.5 30.6l-2.8 1.8l-1 3l.1 46.9l22.9 107l7.7 30.5l7.7 23.3l8.8 9.5l3.6 1.5l39.1-.1l320.5-61l610.4-122.1l335.7-68.7l91.8-22.9l17.6-16.6l1.4-3.5l-.2-85.5l-30.8-99.9z" fill="#00dfa7"/>
<path d="M1597.8 112l-4.8 12l-.9 6l3.1 18l-.1 9l-4.1 8.2l-6.6 6.8l-14.3 9l-14 6l-49 18l-28.2 9l-33.1 9l-28.8 6.4l-36 2.6l-33 1.2l-60 5.6l-24 2.9l-27 5.3l-12 1.2l-15 .7l-27-1.2l-15 3.2l-27 11.7l-9 2.5l-45 3.4l-27-.2l-27 5.2l-36 4.1l-18 5.2l-33 15.1l-27 7.7l-18 6.5l-15 6.3l-27 13.8l-21 7.5l-33 6.3l-39 3.8l-26.5 8.2l-30.5 6.7l-81 21l-15 1.1l-9-1.6l-9-2.9l-7.3-3.3l-9.4-6l-13.5-12l-6-9l-3-9l-4.8-48.8l-245.3 49l-137.5 30.6l-2.8 1.8l-1 3l.1 46.9l22.9 107l7.7 30.5l7.7 23.3l8.8 9.5l3.6 1.5l39.1-.1l320.5-61l610.4-122.1l335.7-68.7l91.8-22.9l17.6-16.6l1.4-3.5l-.2-85.5l-30.8-99.9z" fill="#00dc9f"/>
<path d="M1599.7 115l-4.5 15l1.8 18l-.4 9l-4.7 9l-9.7 9l-10.1 6l-21.7 9l-50 18l-30.3 9l-22.3 6l-30.8 6.8l-36 2.7l-30 1.1l-63 6l-21 2.5l-27 5.2l-15 1.8l-15 .7l-27-1.1l-18 4.1l-24 10.7l-9 2.6l-45 3.6l-27-.6l-27 5.4l-36 4.1l-15.3 4.4l-35.7 17.2l-54 18l-31.8 15.8l-19.2 6.9l-30 5.9l-45 4.6l-21.8 6.6l-116.2 29l-15 1l-9-1.5l-9-2.8l-15.6-7.7l-12.6-9l-6.5-6l-6.1-9l-2.6-9l-4-48.1l-241.9 48.3l-137.5 30.6l-2.8 1.8l-1 3l.1 46.9l22.9 107l7.7 30.5l7.7 23.3l8.8 9.5l3.6 1.5l39.1-.1l320.5-61l610.4-122.1l335.7-68.7l91.8-22.9l17.6-16.6l1.4-3.5l-.2-85.5z" fill="#00d998"/>
<path d="M1601.2 118.5l-3.2 11.5l.5 21l-1.5 8.8l-6 8.8l-7.2 6.4l-16.1 9l-15.2 6l-50.2 18l-41.2 12l-44.1 10.2l-66 4.1l-63 6.1l-21 2.4l-27 5.3l-15 1.9l-15 .6l-21-1.2l-9 .6l-15 3.7l-24 10.6l-12 3.2l-42 3.4l-27-1.1l-30 6.1l-33 3.6l-15 4.6l-39 19.5l-51 17l-30 14.8l-21 7.4l-14 3.2l-19 2.8l-42 4.1l-109.3 29.1l-26.8 6l-16.9 1.2l-18.1-4.2l-19-9l-13.6-9l-7-6l-4.5-6l-2.9-9l-3.7-50.5l-238.5 47.7l-137.5 30.6l-2.8 1.8l-1 3l.1 46.9l22.9 107l7.7 30.5l7.7 23.3l8.8 9.5l3.6 1.5l39.1-.1l320.5-61l610.4-122.1l335.7-68.7l91.8-22.9l17.6-16.6l1.4-3.5l-.2-85.5z" fill="#00d690"/>
<path d="M1602.4 122.6l-2.2 10.4l-.3 18l-1.9 9l-4 6.6l-8.7 8.4l-15.9 9l-14.9 6l-50.5 18l-41.2 12l-45.8 10.7l-69 4.5l-66 6.5l-57 9l-15 .7l-21-1.1l-9 .7l-15 3.5l-27 11.8l-9 2.1l-42 3.6l-27-1.4l-30 6.2l-21 1.7l-12 2l-16.5 5.5l-25.5 14.2l-15 7.1l-18 6.6l-30 9.1l-28.6 14l-16.9 6l-11.5 3.1l-16.8 2.9l-52.2 5.3l-111 29.8l-21 4.5l-12 1.6l-9 .1l-18-4l-11.3-4.3l-11.9-6l-15.2-9l-7.5-6l-3.9-6l-1.5-6l-1.1-33l-1.7-19.8l-235.2 47l-137.5 30.6l-2.8 1.8l-1 3l.1 46.9l22.9 107l7.7 30.5l7.7 23.3l8.8 9.5l3.6 1.5l39.1-.1l320.5-61l610.4-122.1l335.7-68.7l91.8-22.9l17.6-16.6l1.4-3.5l-.2-85.5z" fill="#00d489"/>
<path d="M1603.6 127l-2.9 27l-1.5 6l-6 9l-10.9 9l-11.2 6l-22.9 9l-51.7 18l-31.9 9l-36.5 9l-14.1 2.5l-66 4.3l-63 6.3l-60 9.3l-15 .8l-21-1l-9 .7l-15 3.5l-27 11.8l-9 2.1l-42 3.8l-27-1.7l-9 1.3l-21 5.1l-21 1.7l-12 2l-15 5.1l-27 15.7l-18 9.2l-15 5.6l-30 8.4l-27 13l-12.2 4.5l-14.8 4.1l-15 2.8l-57 5.8l-48 12.4l-59.9 16.9l-18.1 3.9l-21 2.7l-9-.4l-9-1.8l-21.4-7.4l-31.3-15l-4.4-3l-3.9-6l-1.1-6l.3-30l-1.7-25.1l-231.8 46.3l-137.5 30.6l-2.8 1.8l-1 3l.1 46.9l22.9 107l7.7 30.5l7.7 23.3l8.8 9.5l3.6 1.5l39.1-.1l320.5-61l610.4-122.1l335.7-68.7l91.8-22.9l17.6-16.6l1.4-3.5l-.2-85.5z" fill="#00d181"/>
<path d="M1605 130.9l-2.6 20.1l-2.4 9.5l-5.6 8.5l-10.8 9l-17.8 9l-58.4 21l-52.3 15l-41.1 8.9l-66 4.5l-60 6.1l-21 2.5l-25.1 5l-16.9 2.2l-15 .8l-21-.9l-9 .7l-15 3.4l-27 11.9l-9 2.1l-42 4l-21-2.1l-9 .3l-27 6.3l-21 1.7l-12 2l-9 2.7l-8.2 3.9l-30.8 19l-15 7.8l-15 5.3l-27 6.8l-24 11.5l-12 4.5l-18 4.8l-12 2.2l-24 3.1l-36 3l-45 11.5l-34.4 10.5l-43.6 10.8l-24 2.9l-15-1.4l-21.3-6.3l-26.7-10.6l-14.6-4.4l-5-3l-1.8-3l-1.1-6l2.2-30l-1.4-30.5l-228.6 45.7l-137.5 30.6l-2.8 1.8l-1 3l.1 46.9l22.9 107l7.7 30.5l7.7 23.3l8.8 9.5l3.6 1.5l39.1-.1l320.5-61l610.4-122.1l335.7-68.7l91.8-22.9l17.6-16.6l1.4-3.5l-.2-85.5z" fill="#00ce7a"/>
<path d="M1606.2 134.9l-3.3 19.1l-3 9l-7.3 9l-12.8 9l-20 9l-50.9 18l-52.1 15l-39.9 9l-68.9 5l-60 6.2l-21 2.5l-24 4.7l-18 2.5l-45 .8l-15 3.4l-27 11.8l-9 2.2l-42 4l-21-2.2l-9 .3l-27 6.5l-31.1 3.3l-7.9 2.1l-8.7 3.9l-36.3 23.3l-12 6.5l-15 5.4l-27 6.1l-21 10l-12 4.5l-30.1 7.2l-26.9 3.3l-30 2l-9 1.5l-39 10.1l-39 12l-40.7 10.1l-22.3 2.7l-15-.6l-20.2-5.1l-30.8-10.3l-9-1.6l-12-.2l-3-.6l-3-2.2l-1.3-3.1l-.6-6l5-33l-1-32.8l-225.4 45l-137.5 30.6l-2.8 1.8l-1 3l.1 46.9l22.9 107l7.7 30.5l7.7 23.3l8.8 9.5l3.6 1.5l39.1-.1l320.5-61l610.4-122.1l335.7-68.7l91.8-22.9l17.6-16.6l1.4-3.5l-.2-85.5z" fill="#00cb72"/>
<path d="M1607.2 139l-3.9 18l-3.3 7.5l-9 9.9l-9.9 6.6l-19.7 9l-50.9 18l-52.1 15l-41.4 9.4l-69 5.3l-69 7.1l-54 8.8l-45 1l-18 4.3l-24 10.9l-9 2.1l-42 4.3l-21-2.5l-9 .2l-27 6.7l-30 3.2l-9 2.4l-9 4.4l-36 24.5l-12 6.9l-15 5.3l-27 5.6l-21 9.7l-9.4 3.4l-32.6 7.4l-66 6.7l-36 9.2l-40.4 12.7l-40.6 10.1l-24 2.8l-12-.2l-15-2.9l-42-11.4l-9-.1l-12 2.3l-6-.9l-3-3l-2.2-8.7l1.1-9l4.9-18l1.9-12l-.8-32.2l-222.2 44.4l-137.5 30.6l-2.8 1.8l-1 3l.1 46.9l22.9 107l7.7 30.5l7.7 23.3l8.8 9.5l3.6 1.5l39.1-.1l320.5-61l610.4-122.1l335.7-68.7l91.8-22.9l17.6-16.6l1.4-3.5l-.2-85.5z" fill="#00c86b"/>
<path d="M1608.1 142l-3.8 15l-4.2 9l-8.7 9l-9.1 6l-19.5 9l-50.8 18l-52 15l-43 9.7l-69 5.6l-66 6.8l-57 9.1l-15 .9l-21-.4l-9 .8l-18 4.3l-24 10.8l-9 2.1l-42 4.4l-21-2.6l-9 .2l-27 6.9l-30 3.2l-9 2.6l-6 2.8l-42 29.8l-9 5l-9 3.5l-30 6.2l-27.3 11.3l-26.7 6.7l-33 4.7l-36 2.4l-12 2.1l-31.5 8.1l-40.5 13l-42 10.4l-21 2.4l-12 .3l-12-1.6l-48-10.9l-9 .4l-15 3.3l-3-.3l-4.4-2l-4.2-6l-1.3-9l1.4-9l4.8-15l2.7-12l.8-12l-.9-22.6l-219.2 43.8l-137.5 30.6l-2.8 1.8l-1 3l.1 46.9l22.9 107l7.7 30.5l7.7 23.3l8.8 9.5l3.6 1.5l39.1-.1l320.5-61l610.4-122.1l335.7-68.7l91.8-22.9l17.6-16.6l1.4-3.5l-.2-85.5z" fill="#00c663"/>
<path d="M1609 144.1l-4.8 15.9l-3.2 6l-8.6 9l-8.9 6l-19.3 9l-50.8 18l-51.8 15l-44.6 10.1l-69 5.7l-63 6.5l-60 9.5l-15 1l-21-.3l-9 .9l-15 3.3l-27 11.7l-12 2.5l-39 4.1l-21-2.6l-9 .1l-27 7l-30 3.3l-9 2.7l-6.8 3.5l-41.2 30.9l-9 5l-9 3.5l-30 6.1l-27 10.4l-30 6.9l-33 4.2l-33 2l-12 2.1l-30 7.6l-42 13.7l-39 9.9l-21 2.4l-15 .6l-60-10.6l-9 .6l-15 3.3l-6-.8l-3.7-1.8l-3.1-3l-2.2-3.8l-1.5-5.2l-.3-6l1.5-9l6.1-18l2.5-12l.5-12l-.9-19l-216.2 43.2l-137.5 30.6l-2.8 1.8l-1 3l.1 46.9l22.9 107l7.7 30.5l7.7 23.3l8.8 9.5l3.6 1.5l39.1-.1l320.5-61l610.4-122.1l335.7-68.7l91.8-22.9l17.6-16.6l1.4-3.5l-.2-85.5z" fill="#00c35c"/>
<path d="M1609.7 146.3l-4.6 13.7l-5.4 9l-10.3 9l-10.4 6l-21.3 9l-51.7 18l-54.5 15l-37.5 7.9l-66 5.5l-63 6.5l-60 9.6l-42 1.4l-21 4.6l-21 9.5l-10.6 3l-43.4 4.9l-21-2.7l-9 .1l-27 7.2l-30 3.3l-7.3 2.2l-7.7 4l-40.8 32l-10.2 5.7l-9 3.4l-30 6.4l-24.1 8.5l-29.9 6.6l-33 4.3l-36 2.3l-12 2l-30 7.7l-39.1 13.1l-41.9 10.5l-21 2.4l-15 .6l-57-8.7l-9-.1l-18 3.5l-6-.5l-6-2.7l-3-2.6l-3.4-5.4l-1.7-6l-.2-6l1.5-9l6.3-18l2.7-12l.6-12l-.7-18.4l-213.4 42.6l-137.5 30.6l-2.8 1.8l-1 3l.1 46.9l22.9 107l7.7 30.5l7.7 23.3l8.8 9.5l3.6 1.5l39.1-.1l320.5-61l610.4-122.1l335.7-68.7l91.8-22.9l17.6-16.6l1.4-3.5l-.2-85.5z" fill="#00c054"/>
<path d="M1610.4 148.4l-5.6 14.6l-4.1 6l-10.2 9l-10.4 6l-21 9l-51.7 18l-54.3 15l-39.1 8.3l-126 11.9l-21 2.6l-42 7.3l-42 1.7l-21 4.6l-21 9.5l-9 2.6l-45 5.3l-21-2.7h-9l-27 7.4l-27 2.8l-9 2.5l-9 4.7l-39 32.2l-9 5.4l-12 4.7l-30 6.8l-27 8.1l-27 5.3l-33 4.2l-33 1.9l-15 2.3l-27 6.7l-45 15.1l-39 9.6l-21 2.4l-15 .5l-60-7.5l-9 .4l-18 2.8l-6-1l-6-3.1l-3.4-3.3l-3.5-6l-1.6-6l-.2-6l1.7-9l6.3-18l2.9-12l.7-12l-.7-17.9l-210.5 42.1l-137.5 30.6l-2.8 1.8l-1 3l.1 46.9l22.9 107l7.7 30.5l7.7 23.3l8.8 9.5l3.6 1.5l39.1-.1l320.5-61l610.4-122.1l335.7-68.7l91.8-22.9l17.6-16.6l1.4-3.5l-.2-85.5z" fill="#00bd4d"/>
<path d="M1611 150.3l-5.3 12.7l-4 6l-10.1 9l-10.4 6l-28.9 12l-43.6 15l-54 15l-40.7 8.6l-132 12.8l-57 9.3l-39 1.5l-24 5.1l-21 9.3l-9 2.6l-42 5.4l-9-.2l-15-2.5l-9 .1l-27 7.5l-27 2.9l-9 2.6l-7.5 4l-40.5 34.5l-9 5.2l-12 4.5l-50.1 12.8l-31.7 6l-35.2 4.4l-33 1.9l-15 2.2l-27 6.8l-43.3 14.7l-40.7 10l-21 2.4l-15 .5l-60-6.4l-9 .3l-15 2.5l-6-.1l-9.3-3.2l-3.9-3l-4.5-6l-2.3-6l-.8-6l1.7-12l7.4-21l2-9l.8-12l-.6-17.3l-207.8 41.5l-137.5 30.6l-2.8 1.8l-1 3l.1 46.9l22.9 107l7.7 30.5l7.7 23.3l8.8 9.5l3.6 1.5l39.1-.1l320.5-61l610.4-122.1l335.7-68.7l91.8-22.9l17.6-16.6l1.4-3.5l-.2-85.5z" fill="#00ba45"/>
<path d="M1611.5 152l-6.6 14l-5 6l-11.9 8.9l-11.9 6.1l-22.5 9l-43.6 15l-53.8 15l-42.2 9l-129 12.6l-60 9.7l-39 1.7l-24 5.2l-21 9.2l-9 2.5l-42 5.5l-9-.2l-15-2.4h-9l-27 7.7l-27 3l-8.4 2.5l-6.6 3.6l-39 34.4l-9 5.7l-12 4.9l-43.6 11.4l-40.4 7.2l-36 4.3l-33 1.9l-15 2.2l-24 5.9l-45 15.4l-42 10.3l-33 3l-66-5.7l-24 2.7l-9-1.4l-7.3-3.8l-3.3-3l-4.2-6l-2.2-6l-.8-6l1.8-12l7.4-21l2.1-9l.9-12l-.6-16.8l-205.1 41l-137.5 30.6l-2.8 1.8l-1 3l.1 46.9l22.9 107l7.7 30.5l7.7 23.3l8.8 9.5l3.6 1.5l39.1-.1l320.5-61l610.4-122.1l335.7-68.7l91.8-22.9l17.6-16.6l1.4-3.5l-.2-85.5z" fill="#00b73e"/>
<path d="M1611.9 154l-6 12l-5 6l-12 9l-11.7 6l-22.2 9l-43.7 15l-53.6 15l-43.7 9.4l-129 12.8l-60 9.7l-39 1.9l-24 5.3l-21 9.1l-9 2.5l-42 5.6l-9-.2l-15-2.4h-9l-27 7.8l-27 3.2l-9 3l-7.1 4.3l-28.6 27l-11.1 9l-10.2 5.6l-9.6 3.4l-32.4 9.2l-34.3 5.8l-45.5 6l-40.2 2.5l-15 2.2l-24 5.9l-47.9 16.4l-39.1 9.5l-33 2.9l-42-2.5l-24-2.6l-27 2.5l-9-2.1l-6-3.2l-5-4.5l-3.9-6l-2.1-6l-.8-6l1.9-12l7.5-21l2.1-9l1-12l-.7-16.2l-202.3 40.4l-137.5 30.6l-2.8 1.8l-1 3l.1 46.9l22.9 107l7.7 30.5l7.7 23.3l8.8 9.5l3.6 1.5l39.1-.1l320.5-61l610.4-122.1l335.7-68.7l91.8-22.9l17.6-16.6l1.4-3.5l-.2-85.5z" fill="#00b536"/>
<path d="M1612.5 155.2l-5.6 10.8l-4.9 6l-12.1 9l-11.7 6l-22 9l-43.6 15l-53.5 15l-45.1 9.7l-129 13l-60 9.8l-39 2.1l-24 5.4l-21 9l-9 2.4l-42 5.7l-9-.2l-15-2.3h-9l-24 7.3l-30 3.9l-8.8 3.2l-6.2 4l-26.7 26l-12.3 10.2l-9 5.2l-15 5.3l-24 7.3l-12 2.7l-62.9 8.3l-24.1 2.4l-30 1.5l-12 1.8l-24 6l-45 15.7l-27 7.2l-15 3l-33 3l-39-1.8l-27-2.7l-27 2.2l-9-1.6l-7.6-3.7l-4.4-3.7l-4.2-5.3l-2.9-6l-1.5-9l1.9-12l7.6-21l2.2-9l1-12l-.7-15.7l-199.7 39.9l-137.5 30.6l-2.8 1.8l-1 3l.1 46.9l22.9 107l7.7 30.5l7.7 23.3l8.8 9.5l3.6 1.5l39.1-.1l320.5-61l610.4-122.1l335.7-68.7l91.8-22.9l17.6-16.6l1.4-3.5l-.2-85.5z" fill="#00b22f"/>
<path d="M1612.7 157l-4.8 9l-4.9 6l-12.1 9l-11.6 6l-30.2 12l-44.4 15l-44.2 12l-46.5 10.1l-126 12.8l-62.6 10.1l-36.4 1.9l-27 6l-21 8.8l-9 2.4l-42 5.8l-9-.1l-15-2.3l-9 .1l-27 8l-24 2.8l-9 2.7l-9 5.6l-27 27.3l-15 11.5l-12 5.2l-32.3 10.3l-12.7 2.7l-57 6.8l-30 3l-30 1.4l-12 1.9l-21.3 5.2l-50.7 17.4l-24 6.5l-15 2.9l-33 3l-39-1.6l-30-2.8l-24 2.4l-9-1.4l-11.1-5.4l-6.1-6l-3.6-6l-2-6l-.6-6l1.9-12l7.8-21l2.3-9l.9-12l-.8-15.2l-197 39.4l-137.5 30.6l-2.8 1.8l-1 3l.1 46.9l22.9 107l7.7 30.5l7.7 23.3l8.8 9.5l3.6 1.5l39.1-.1l320.5-61l610.4-122.1l335.7-68.7l91.8-22.9l17.6-16.6l1.4-3.5l-.2-85.5z" fill="#00af27"/>
<path d="M1613.4 158l-6.7 11l-6.1 6l-9.6 6.5l-17.4 8.5l-23.2 9l-44.5 15l-44 12l-47.9 10.4l-126 13l-60 9.9l-39 2.3l-27 6.3l-27 10.3l-36 5.5l-15 1.1l-21-2.5l-9 .8l-21 6.9l-24 3.1l-12 3.6l-10.4 7.3l-19.6 21.1l-18 14.9l-12 5.6l-36 11.6l-12 2.4l-69.7 7.4l-47.3 3.1l-12 1.7l-21 5.2l-48.8 17l-23.2 6.4l-18 3.6l-30 2.9l-42-1.4l-30-2.6l-24 2.3l-12-1.9l-9-4.4l-5.9-4.9l-4.4-6l-2.6-6l-1.5-9l2.1-12l7.9-21l2.3-9l1-12l-.9-14.6l-194.3 38.8l-137.5 30.6l-2.8 1.8l-1 3l.1 46.9l22.9 107l7.7 30.5l7.7 23.3l8.8 9.5l3.6 1.5l39.1-.1l320.5-61l610.4-122.1l335.7-68.7l91.8-22.9l17.6-16.6l1.4-3.5l-.2-85.5z" fill="#00ac20"/>
<path d="M1613.8 159.4l-6.1 9.6l-6.1 6l-13.6 8.7l-13.4 6.3l-23 9l-44.4 15l-54.2 14.6l-39 8.2l-126 13.1l-60 9.9l-39 2.5l-27 6.4l-27 10.2l-36 5.6l-12 1.1l-24-2.3l-9 .9l-21 6.9l-24 3.2l-11.6 3.7l-8.6 6l-21.8 23.7l-15 12.5l-11.2 5.8l-39.8 12.9l-12 2.4l-81 7.9l-36 1.9l-12 1.7l-21 5.2l-35.6 13l-18.4 5.7l-21 5.6l-15 2.8l-30 3l-42-1.4l-30-2.5l-27 2.3l-12-2.5l-8.1-4l-7-6l-4.2-6l-2.5-6l-1.4-9l2.1-12l8.2-21l2.3-9l.9-12l-.9-14.1l-191.7 38.3l-137.5 30.6l-2.8 1.8l-1 3l.1 46.9l22.9 107l7.7 30.5l7.7 23.3l8.8 9.5l3.6 1.5l39.1-.1l320.5-61l610.4-122.1l335.7-68.7l91.8-22.9l17.6-16.6l1.4-3.5l-.2-85.5z" fill="#00a918"/>
<path d="M1614.1 160.6l-8.1 11.4l-7.5 6l-10.1 6l-20 9l-61.4 21.4l-54 14.6l-42 8.5l-123 12.9l-60 10l-39 2.6l-27 6.6l-27 10l-36 5.7l-12 1.1l-24-2.1l-9 .9l-21 7l-24 3.4l-9 2.7l-9 5.8l-21.6 23.9l-17.4 14.4l-12 5.5l-39 12.7l-12 2.2l-24 1.6l-60 6.2l-33 1.6l-12 1.6l-18 4.3l-39 14.1l-24 7.3l-15 4l-18 3.2l-27 2.6l-39-1.3l-33-2.6l-27 2.4l-12-2.1l-11.7-5.7l-6.6-6l-4-6l-2.4-6l-1.3-9l2.2-12l8.3-21l2.4-9l.9-9l-1-16.6l-189.1 37.8l-137.5 30.6l-2.8 1.8l-1 3l.1 46.9l22.9 107l7.7 30.5l7.7 23.3l8.8 9.5l3.6 1.5l39.1-.1l320.5-61l610.4-122.1l335.7-68.7l91.8-22.9l17.6-16.6l1.4-3.5l-.2-85.5z" fill="#00a611"/>
<path d="M1614.5 161.8l-7.5 10.2l-7.5 6l-10.2 6l-19.9 9l-59.9 21l-55.1 15l-43.4 8.9l-123 13.1l-60 9.9l-39 2.8l-30 7.6l-21 8.3l-39 6.5l-12 1.1l-24-1.9l-9 1l-21 7l-24 3.7l-9 2.9l-9 6.4l-18.9 21.7l-17.9 15l-11.2 5.5l-24 7.2l-18 6.4l-9 2l-132 10.7l-18 4.3l-36 13.3l-27 8.3l-15 3.9l-18 3.2l-27 2.6l-41.1-1.4l-30.9-2.4l-27 2.5l-12-1.8l-12-5.1l-6.9-5.2l-4.9-6l-2.9-6l-2-9l1.3-12l9.3-24l2.5-9l.8-9l-1.1-16l-186.4 37.2l-137.5 30.6l-2.8 1.8l-1 3l.1 46.9l22.9 107l7.7 30.5l7.7 23.3l8.8 9.5l3.6 1.5l39.1-.1l320.5-61l610.4-122.1l335.7-68.7l91.8-22.9l17.6-16.6l1.4-3.5l-.2-85.5z" fill="#00a409"/>
<path d="M1614.9 163l-6.8 9l-7.6 6l-10.2 6l-19.9 9l-23.9 9l-39.5 13.2l-51.2 13.8l-44.8 9.2l-36 4.5l-87 8.8l-60 10l-36 2.3l-33 8.3l-21 8.2l-36 6.1l-15 1.6l-24-1.6l-9 1.1l-21 6.9l-22.3 3.6l-9.4 3l-10.3 7.6l-19.3 22.4l-16.7 13.5l-9 4.6l-24 6.9l-21 7.6l-9 1.8l-24 1.3l-63 6.1l-33 1.5l-12 1.5l-18 4.3l-33 12.4l-33 10.3l-15 3.7l-18 2.9l-15 1.8l-12 .3l-72-3.8l-18 2.3l-9 .2l-12-2.1l-12-5.2l-7.6-5.9l-4.6-6l-2.7-6l-1.8-9l1.5-12l9.5-24l2.5-9l.8-9l-1.3-15.5l-183.6 36.7l-137.5 30.6l-2.8 1.8l-1 3l.1 46.9l22.9 107l7.7 30.5l7.7 23.3l8.8 9.5l3.6 1.5l39.1-.1l320.5-61l610.4-122.1l335.7-68.7l91.8-22.9l17.6-16.6l1.4-3.5l-.2-85.5z" fill="#00a001"/>
<path d="M1615 164.9l-5.6 7.1l-7.5 6l-10.3 6l-19.9 9l-23.6 9l-44.1 14.6l-46.3 12.4l-37.7 8.3l-27 3.8l-105 11.1l-60 10l-36 2.5l-33 8.5l-21 8l-36 6.3l-15 1.5l-21-1.2l-11.6 1.2l-21.4 7l-21 3.6l-9 2.9l-10.2 7.5l-19.8 23.2l-16.3 12.8l-10.7 5.1l-24 6.7l-21 7.6l-9 1.8l-27 1.3l-60 5.7l-33 1.5l-15 1.8l-15 3.9l-30 11.6l-36 11.3l-15 3.7l-24 3.8l-24 1l-69-3.7l-27 2.8l-16.7-2.9l-12.8-6l-7.4-6l-4.1-6l-2.2-6l-1.2-9l1.7-12l9.4-24l2.6-9l.7-9l-1.3-14.8l-180 36l-137.5 30.6l-2.8 1.8l-1 3l.1 46.9l22.9 107l7.7 30.5l7.7 23.3l8.8 9.5l3.6 1.5l39.1-.1l320.5-61l610.4-122.1l335.7-68.7l91.8-22.9l17.6-16.6l1.4-3.5l-.2-85.5z" fill="#00a600"/>
<path d="M1616.1 167l-7.4 8l-9.2 6l-11.6 6l-21.2 9l-61 21l-46.7 12.5l-39 8.6l-33 4.9l-99 10.4l-60 10.1l-36 2.7l-33 8.8l-21 8l-33 5.9l-18 2.1l-21-.5l-9 1l-24 7.5l-18 3.6l-9 2.9l-10.2 7.5l-20.5 24l-16.2 12l-10.1 4.6l-24 6l-24 8.8l-9 1.8l-27 1.2l-63 5.7l-33 1.2l-12 1.4l-12 3l-30 12.2l-39 12.2l-15 3.7l-24 3.8l-18 1l-75-4l-21 2.8l-12 .2l-18-3.3l-9-3.5l-9.3-4.8l-3.9-3l-4-6l-1.1-6l-.1-9l2.6-15l11.1-33l.6-9l-1.1-13.4l-173.1 34.6l-137.5 30.6l-2.8 1.8l-1 3l.1 46.9l22.9 107l7.7 30.5l7.7 23.3l8.8 9.5l3.6 1.5l39.1-.1l320.5-61l610.4-122.1l335.7-68.7l91.8-22.9l17.6-16.6l1.4-3.5l-.2-85.5z" fill="#00ae00"/>
<path d="M1616.8 169.2l-9.6 8.8l-10.8 6l-19.9 9l-23 9l-52.5 17.2l-54 14l-30 6.3l-33 5l-96 10.2l-60 10.1l-33 2.4l-33 8.6l-30 10.3l-39 6.3l-33 1.7l-24 7.2l-21 5l-6 2.2l-6.9 4.5l-23.1 26.1l-8.5 6.9l-9.8 6l-11.7 4.7l-27 6.4l-24 8.7l-102 8.3l-27 .6l-12 1.1l-15 4.1l-27 11.8l-39 12.1l-15 3.7l-24 3.9l-18 .7l-48-3.3l-27-.8l-24 3.3h-15l-21-3.5l-17.4-4.8l-7.4-3l-4.1-3l-1.5-3v-3l17.7-63l1.1-9l-.8-15l-165.9 33.2l-137.5 30.6l-2.8 1.8l-1 3l.1 46.9l22.9 107l7.7 30.5l7.7 23.3l8.8 9.5l3.6 1.5l39.1-.1l320.5-61l610.4-122.1l335.7-68.7l91.8-22.9l17.6-16.6l1.4-3.5l-.2-85.5z" fill="#00b600"/>
<path d="M1617.4 171.3l-7.6 6.7l-10.8 6l-44 18.4l-53.6 17.6l-54.4 14.1l-30 6.2l-36 5.6l-93 10.1l-60 10l-33 2.6l-36 9.7l-18 7l-9 2.5l-33 5.8l-33 2.5l-12 2.7l-36 10.2l-9 4.1l-9 7.6l-21 23.5l-6.5 4.8l-10.9 6l-9.6 3.6l-30 6.8l-21 8l-9 1.6l-45 2.8l-54 5.2l-36 .8l-14.8 4.2l-26.1 12l-19.1 5.2l-21 7.2l-15 3.7l-24 3.9l-15 .6l-48-3.9l-27-.4l-9 .5l-21 3.3l-18 .3l-47.5-5.4l-10.1-3l-3-3l-.6-6l2.9-6l10.3-14.9l4.5-12.1l8.1-33l1.2-12l-.5-13.5l-158.6 31.7l-137.5 30.6l-2.8 1.8l-1 3l.1 46.9l22.9 107l7.7 30.5l7.7 23.3l8.8 9.5l3.6 1.5l39.1-.1l320.5-61l610.4-122.1l335.7-68.7l91.8-22.9l17.6-16.6l1.4-3.5l-.2-85.5z" fill="#00be00"/>
<path d="M1618 173.2l-6 5.1l-10.3 5.7l-46.7 19.3l-51 16.8l-54 14.1l-33 6.9l-39 6.3l-30 3.9l-57 5.6l-63 10.4l-33 2.7l-33 8.9l-30 10.6l-30 5.6l-33 3.3l-12 2.7l-36 10.5l-9 4.1l-9 7.3l-20.8 23l-14.1 9l-15.3 6l-30.8 6.6l-22.6 8.4l-61.4 4.9l-48 4.9l-24-.7l-12 1.1l-12 3.9l-27 12.9l-15 3.7l-33 10.7l-30 5l-15 .6l-45-4.3l-15-.5l-21 .7l-24 3.9l-24 1.1l-54-1.7l-8.3-1.2l-6.4-3l-1.6-3l.1-3l2.6-6l6.3-9l12.6-15l3.7-6.6l3.1-8.4l5.4-27l.4-27l-151.2 30.2l-137.5 30.6l-2.8 1.8l-1 3l.1 46.9l22.9 107l7.7 30.5l7.7 23.3l8.8 9.5l3.6 1.5l39.1-.1l320.5-61l610.4-122.1l335.7-68.7l91.8-22.9l17.6-16.6l1.4-3.5l-.2-85.5zM376 426.4l6.1 .6l1.1 3l-4.2 3.1l-7.7-.1l-1.7-3l3.2-3z" fill="#00c500"/>
<path d="M1618.4 174.5l-6.4 5.1l-8.2 4.4l-51.7 21l-48.1 15.7l-54 14.1l-33 6.9l-39 6.6l-30 4l-57 5.6l-63 10.3l-33 2.9l-30 8l-33 11.6l-30 5.7l-30 3.5l-12 2.6l-36 10.7l-9 3.8l-12 9.6l-18 20.1l-12.1 8.3l-14.9 6.3l-33 6.9l-24 8.9l-9 1.6l-54 3.9l-48 5.2l-24-1.1l-12 1l-12 4l-24 12.2l-18 4.6l-27 9.1l-15 3.4l-30 3.9l-54-5.1l-30 .7l-39 5.6l-54 1.3l-27 2.5l-12 2.8l-21.7 9.3l-11.3 2.6l-12-.5l-9-3.8l-4.1-4.3l-1-3l.2-3l1.9-3.6l6-5.3l12-4.8l27-4.6l9-2.9l12-8.4l18.3-18.4l6.7-12l3.9-15l1.7-15l-.2-25.9l-145.7 29.1l-137.5 30.6l-2.8 1.8l-1 3l.1 46.9l22.9 107l7.7 30.5l7.7 23.3l8.8 9.5l3.6 1.5l39.1-.1l320.5-61l610.4-122.1l335.7-68.7l91.8-22.9l17.6-16.6l1.4-3.5l-.2-85.5z" fill="#04c800"/>
<path d="M1618.4 174.6l-6.4 5l-8.2 4.4l-51.6 21l-48.2 15.7l-54 14.2l-33 6.8l-39 6.6l-30 4l-57 5.6l-63 10.4l-33 2.8l-30 8l-33 11.6l-30 5.8l-30 3.4l-12 2.6l-36 10.7l-9 3.9l-12 9.6l-18 20l-12.1 8.3l-14.9 6.3l-33 6.9l-24 8.9l-9 1.6l-54 4l-48 5.2l-24-1.2l-12 1l-12 4l-24 12.2l-18 4.6l-27 9.1l-15 3.5l-30 3.9l-54-5.2l-30 .7l-39 5.6l-54 1.3l-27 2.6l-15 4l-18.3 8l-11.7 2.7l-12-.5l-9-3.7l-4.3-4.5l-1-3l.3-3l4-6l4-3l12-4.8l27-4.6l9-3l12-8.3l18.2-18.3l6.7-12l4-15l1.7-15l-.3-25.9l-145.6 29.1l-137.5 30.6l-2.8 1.8l-1 3l.1 46.9l22.9 107l7.7 30.5l7.7 23.3l8.8 9.5l3.6 1.5l39.1-.1l320.5-61l610.4-122.1l335.7-68.7l91.8-22.9l17.6-16.6l1.4-3.5l-.2-85.5z" fill="#0cc900"/>
<path d="M1618.5 174.6l-6.5 5l-8.1 4.4l-51.7 21l-48.2 15.7l-54 14.2l-33 6.8l-39 6.6l-30 4l-57 5.6l-63 10.4l-33 2.8l-30 8l-33 11.6l-30 5.8l-30 3.5l-12 2.5l-36 10.7l-9 3.9l-12 9.6l-18 20l-12 8.3l-15 6.4l-33 6.8l-24 8.9l-9 1.6l-54 4l-48 5.2l-24-1.1l-12 .9l-12 4l-24 12.2l-18 4.6l-27 9.1l-15 3.5l-30 3.9l-54-5.2l-30 .8l-39 5.6l-54 1.3l-27 2.7l-15 3.9l-18 7.9l-12 2.8l-12-.5l-9-3.7l-4.5-4.6l-1-3l.3-3l2.2-4l5.8-5l12.2-4.9l27-4.7l9-2.9l6-3.5l9-7.5l15.1-15.5l6.8-12l3.9-15l1.7-15l-.3-25.9l-145.5 29.1l-137.5 30.6l-2.8 1.8l-1 3l.1 46.9l22.9 107l7.7 30.5l7.7 23.3l8.8 9.5l3.6 1.5l39.1-.1l320.5-61l610.4-122.1l335.7-68.7l91.8-22.9l17.6-16.6l1.4-3.5l-.2-85.5z" fill="#14ca00"/>
<path d="M1618 175l-6 4.6l-8.1 4.4l-51.7 21l-48.2 15.7l-54 14.2l-33 6.8l-39 6.6l-30 4l-57 5.6l-63 10.4l-33 2.8l-36 9.9l-27 9.7l-30 5.8l-30 3.5l-12 2.6l-36 10.7l-9 3.9l-12 9.6l-18 20l-12 8.2l-15 6.4l-33 6.8l-24 9l-9 1.5l-54 4l-48 5.2l-24-1.1l-12 1l-12 3.9l-24 12.3l-18 4.5l-27 9.2l-15 3.4l-30 3.9l-54-5.2l-30 .8l-39 5.6l-54 1.4l-27 2.7l-15 4l-18 7.8l-12 2.8l-12-.5l-9-3.6l-4.7-4.8l-1-3l.3-3l2.4-4.2l5.6-4.8l6.4-3.1l9-2.7l24-3.9l9-3l6-3.5l9-7.4l15-15.4l6.8-12l3.9-15l1.7-15l-.3-25.8l-145.4 29l-137.5 30.6l-2.8 1.8l-1 3l.1 46.9l22.9 107l7.7 30.5l7.7 23.3l8.8 9.5l3.6 1.5l39.1-.1l320.5-61l610.4-122.1l335.7-68.7l91.8-22.9l17.6-16.6l1.4-3.5l-.2-85.5z" fill="#1ccb00"/>
<path d="M1618.1 175l-6.1 4.6l-8.1 4.4l-51.7 21l-48.2 15.7l-54 14.2l-33 6.8l-39 6.6l-30 4l-57 5.6l-63 10.4l-33 2.8l-36 9.9l-27 9.8l-30 5.7l-30 3.5l-12 2.6l-36 10.7l-9 3.9l-12 9.7l-18 19.9l-12 8.3l-15 6.3l-33 6.9l-24 8.9l-9 1.6l-54 3.9l-48 5.2l-24-1.1l-12 1l-12 4l-24 12.2l-18 4.6l-27 9.1l-15 3.5l-30 3.8l-54-5.2l-30 .8l-39 5.7l-54 1.4l-27 2.7l-12 3l-21 8.9l-12 2.7l-12-.4l-9-3.6l-4.9-5l-.9-3l.2-3l2.6-4.4l5.4-4.6l6.6-3.2l9-2.7l24-3.9l9-3l6-3.5l9-7.4l15-15.4l6.7-11.9l4-15l1.6-15l-.3-25.8l-145.3 29l-137.5 30.6l-2.8 1.8l-1 3l.1 46.9l22.9 107l7.7 30.5l7.7 23.3l8.8 9.5l3.6 1.5l39.1-.1l320.5-61l610.4-122.1l335.7-68.7l91.8-22.9l17.6-16.6l1.4-3.5l-.2-85.5z" fill="#24cc00"/>
<path d="M1618.1 175l-6.1 4.6l-8 4.4l-51.7 21l-48.3 15.8l-54 14.1l-33 6.9l-39 6.5l-30 4.1l-57 5.5l-63 10.4l-33 2.9l-36 9.8l-27 9.8l-30 5.8l-30 3.4l-12 2.6l-36 10.8l-9 3.9l-12 9.6l-18 20l-12 8.2l-15 6.3l-33 6.9l-24 8.9l-9 1.6l-54 4l-48 5.2l-24-1.2l-12 1l-12 4l-24 12.2l-18 4.6l-27 9.1l-15 3.5l-30 3.9l-54-5.2l-30 .7l-39 5.7l-54 1.4l-27 2.8l-12 3l-21 8.9l-12 2.7l-12-.4l-9-3.5l-3-2.4l-3-5.8l1.7-6l4.3-4.4l8.2-4.6l6.8-2.2l27-4.8l9-3l6-3.5l9-7.3l15-15.4l6.7-11.8l3.9-15l1.7-15l-.4-25.8l-145.2 29l-137.5 30.6l-2.8 1.8l-1 3l.1 46.9l22.9 107l7.7 30.5l7.7 23.3l8.8 9.5l3.6 1.5l39.1-.1l320.5-61l610.4-122.1l335.7-68.7l91.8-22.9l17.6-16.6l1.4-3.5l-.2-85.5z" fill="#2ccc00"/>
<path d="M1618.1 175l-6.1 4.7l-8 4.3l-51.7 21l-48.3 15.8l-54 14.1l-33 6.9l-39 6.5l-30 4.1l-57 5.6l-63 10.3l-33 2.9l-36 9.9l-27 9.7l-30 5.8l-30 3.5l-12 2.6l-36 10.7l-9 3.9l-12 9.7l-18 19.9l-12 8.2l-15 6.4l-33 6.8l-24 8.9l-9 1.6l-54 4l-48 5.2l-24-1.1l-12 .9l-12 4l-24 12.3l-18 4.5l-27 9.1l-15 3.5l-30 3.9l-54-5.2l-30 .8l-39 5.6l-54 1.5l-27 2.8l-12 3.1l-21 8.8l-12 2.7l-12-.4l-9-3.5l-3.1-2.3l-3.1-6l1.7-6l4.5-4.5l8-4.5l7-2.3l27-4.8l9-3l12-8.2l18-18l6.6-11.7l4-15l1.6-15l-.3-25.8l-145.2 29l-137.5 30.6l-2.8 1.8l-1 3l.1 46.9l22.9 107l7.7 30.5l7.7 23.3l8.8 9.5l3.6 1.5l39.1-.1l320.5-61l610.4-122.1l335.7-68.7l91.8-22.9l17.6-16.6l1.4-3.5l-.2-85.5z" fill="#34cd00"/>
<path d="M1618.2 175l-6.2 4.7l-8 4.3l-51.7 21l-48.3 15.8l-54 14.1l-33 6.9l-39 6.5l-30 4.1l-57 5.6l-63 10.3l-33 2.9l-36 9.9l-27 9.7l-30 5.8l-30 3.5l-12 2.6l-36 10.7l-9 4l-12 9.6l-18 20l-12 8.2l-15 6.3l-33 6.8l-24 9l-9 1.5l-54 4l-48 5.2l-24-1.1l-12 .9l-12 4l-24 12.3l-18 4.6l-27 9.1l-15 3.4l-30 3.9l-54-5.2l-30 .8l-39 5.7l-54 1.5l-27 2.9l-12 3l-21 8.8l-12 2.8l-12-.5l-9-3.4l-3.2-2.5l-3.1-6l1.7-6l4.6-4.6l7.7-4.4l7.3-2.4l27-4.9l9-3l12-8.1l18-18l6.5-11.6l4-15l1.6-15l-.3-25.8l-145.1 29l-137.5 30.6l-2.8 1.8l-1 3l.1 46.9l22.9 107l7.7 30.5l7.7 23.3l8.8 9.5l3.6 1.5l39.1-.1l320.5-61l610.4-122.1l335.7-68.7l91.8-22.9l17.6-16.6l1.4-3.5l-.2-85.5z" fill="#3cce00"/>
<path d="M1618.2 175l-6.2 4.7l-7.9 4.3l-51.7 21l-48.4 15.8l-54 14.1l-33 6.9l-39 6.6l-30 4l-57 5.6l-63 10.4l-33 2.8l-36 9.9l-27 9.7l-30 5.8l-30 3.5l-12 2.6l-36 10.8l-9 3.9l-12 9.7l-18 19.9l-12 8.2l-15 6.3l-33 6.9l-24 8.9l-9 1.6l-54 3.9l-48 5.3l-24-1.2l-12 1l-12 3.9l-24 12.3l-18 4.6l-27 9.1l-15 3.5l-30 3.8l-54-5.2l-30 .8l-39 5.7l-51 1.4l-27 2.6l-15 3.5l-18.8 8.1l-14.2 3.5l-12-.5l-9-3.3l-3.4-2.7l-3.1-6l1.7-6l4.8-4.8l7.5-4.2l7.5-2.5l27-4.9l9-3l12-8.1l18-18l6.5-11.5l3.9-15l1.6-15l-.3-25.8l-145 29l-137.5 30.6l-2.8 1.8l-1 3l.1 46.9l22.9 107l7.7 30.5l7.7 23.3l8.8 9.5l3.6 1.5l39.1-.1l320.5-61l610.4-122.1l335.7-68.7l91.8-22.9l17.6-16.6l1.4-3.5l-.2-85.5z" fill="#44cf00"/>
<path d="M1618.2 175l-6.2 4.7l-7.9 4.3l-51.7 21l-48.4 15.8l-54 14.1l-33 6.9l-39 6.6l-30 4l-57 5.6l-63 10.4l-33 2.8l-36 9.9l-27 9.8l-30 5.7l-30 3.6l-12 2.6l-36 10.7l-9 3.9l-12 9.7l-18 20l-12 8.1l-15 6.3l-33 6.9l-24 8.9l-9 1.6l-54 4l-48 5.2l-24-1.2l-12 1l-12 4l-24 12.2l-18 4.6l-27 9.1l-15 3.5l-30 3.9l-54-5.3l-30 .8l-39 5.7l-51 1.4l-27 2.7l-12 2.6l-21.5 8.9l-14.5 3.6l-12-.4l-9-3.4l-3.6-2.8l-2.2-3l-.9-3l1.7-6l5-4.9l7.2-4.1l7.8-2.6l27-5l9-2.9l12-8.1l18-18l6.4-11.4l4-15l1.6-15l-.4-25.7l-144.9 28.9l-137.5 30.6l-2.8 1.8l-1 3l.1 46.9l22.9 107l7.7 30.5l7.7 23.3l8.8 9.5l3.6 1.5l39.1-.1l320.5-61l610.4-122.1l335.7-68.7l91.8-22.9l17.6-16.6l1.4-3.5l-.2-85.5z" fill="#51d000"/>
<path d="M1618.4 175l-6.4 4.8l-7.7 4.2l-51.7 21l-48.6 15.8l-54 14.2l-33 6.8l-42 7.1l-27 3.6l-57 5.6l-63 10.4l-33 2.8l-36 9.9l-27 9.8l-30 5.8l-30 3.5l-12 2.7l-36 10.7l-9 4l-12 9.8l-18 19.9l-12 8l-15 6.3l-33 6.8l-24 8.9l-9 1.6l-54 4l-48 5.3l-24-1.2l-12 .9l-12 4l-24 12.3l-18 4.6l-27 9.1l-15 3.4l-30 3.9l-54-5.2l-30 .8l-39 5.8l-51 1.5l-27 3l-15 3.8l-21 8.6l-12 2.6l-12-.4l-10.2-3.8l-4.8-4.6l-1.6-4.4l1.7-6l5.9-5.8l6-3.3l8.1-2.9l27.9-5.4l9-3l15-10.4l15-15.4l6-10.8l4-15l1.5-15l-.4-25.6l-144.4 28.8l-137.5 30.6l-2.8 1.8l-1 3l.1 46.9l22.9 107l7.7 30.5l7.7 23.3l8.8 9.5l3.6 1.5l39.1-.1l320.5-61l610.4-122.1l335.7-68.7l91.8-22.9l17.6-16.6l1.4-3.5l-.2-85.5z" fill="#55d100"/>
<path d="M1618.7 175.4l-13.5 8.6l-51.8 21l-49.4 16.1l-54 14.2l-33 6.8l-42 7.1l-27 3.7l-57 5.6l-60 10l-36 3.3l-27 7l-36 12.7l-30 5.8l-27 3.3l-12 2.4l-39 11.7l-9 4.2l-11.2 9.1l-19.2 21l-5.6 4.1l-9.5 4.9l-14.5 5.3l-30 5.8l-24 8.9l-9 1.6l-54 4.1l-48 5.4l-24-1.4l-12 .9l-12 4l-24 12.5l-18 4.5l-27 9.1l-15 3.5l-30 3.9l-51-5.3l-18-.1l-18 1.3l-36 5.6l-48 2.2l-15 1.5l-21 4.2l-27 10.1l-15 3.3l-15-.8l-6-2l-6-3.4l-3.6-3.7l-2.1-6l1.9-6l5.7-6l7.1-4.3l9-3.5l33-7.8l9-3.7l15-10.8l11.2-11.9l6.2-12l3.3-15l.8-12l-.7-25.2l-142.1 28.4l-137.5 30.6l-2.8 1.8l-1 3l.1 46.9l22.9 107l7.7 30.5l7.7 23.3l8.8 9.5l3.6 1.5l39.1-.1l320.5-61l610.4-122.1l335.7-68.7l91.8-22.9l17.6-16.6l1.4-3.5l-.2-85.5z" fill="#5dd400"/>
<path d="M1618.9 175.9l-12.9 8.2l-54 21.7l-48 15.6l-54 14.1l-36 7.4l-42 7.1l-24 3.3l-57 5.6l-60 9.9l-36 3.4l-27 7.1l-36 12.7l-30 5.9l-30 3.9l-12 2.9l-36 11.1l-9 4.3l-9.8 7.9l-19.2 21l-7 5.1l-7.6 3.9l-16.4 6l-30 5.7l-24 9l-9 1.5l-57 4.5l-45 5.1l-27-1.5l-9 .9l-12 4.1l-24 12.6l-18 4.5l-30 9.8l-15 3.2l-21 3.1l-9 .2l-48-5.4h-18l-21 1.9l-33 5.4l-60 4.2l-21 4.6l-28.9 10.6l-13.1 3.1l-9 .5l-9-.8l-8.8-2.8l-5.4-3l-5.6-6l-1.5-6l2.1-6l5.4-6l7.8-5.1l9-4l36-9.5l9-3.7l12-7.7l12.1-12l5.9-10.5l3.5-13.5l1-12l-.9-27.7l-139.9 27.9l-137.5 30.6l-2.8 1.8l-1 3l.1 46.9l22.9 107l7.7 30.5l7.7 23.3l8.8 9.5l3.6 1.5l39.1-.1l320.5-61l610.4-122.1l335.7-68.7l91.8-22.9l17.6-16.6l1.4-3.5l-.2-85.5z" fill="#65d600"/>
<path d="M1619 176.4l-13 8.1l-54 21.5l-51 16.5l-51 13.3l-54 10.7l-36 5.6l-69 7.3l-60 9.8l-36 3.4l-33 9l-28.3 10.4l-29 6l-29.7 4l-12 2.6l-36 11.1l-9 3.8l-12 9l-18.7 20.5l-8.1 6l-5.9 3l-18.3 6.7l-30 5.6l-24 8.9l-9 1.5l-60 5l-42 4.9l-27-1.7l-9 .9l-12 4.1l-24 12.7l-18 4.5l-30 9.9l-14.1 3l-27.9 3.5l-54-5.8h-12l-21 1.9l-36 6l-42 2.9l-18 2.2l-21 5.2l-30.6 11.1l-14.4 2.7l-9 .2l-9-1.3l-9-3.2l-6-3.7l-5.5-6.7l-1-6l2.2-6l7.3-7.6l6.6-4.4l11.4-5.1l36-10.2l9-3.7l12-7.4l6-5.3l6-7.1l4.7-9.2l3.4-15l.5-12l-1.1-24.3l-137.8 27.5l-137.5 30.6l-2.8 1.8l-1 3l.1 46.9l22.9 107l7.7 30.5l7.7 23.3l8.8 9.5l3.6 1.5l39.1-.1l320.5-61l610.4-122.1l335.7-68.7l91.8-22.9l17.6-16.6l1.4-3.5l-.2-85.5z" fill="#6dd800"/>
<path d="M1619.2 176.9l-7.2 5l-10.9 5.1l-49.1 19.3l-51 16.5l-51 13.2l-54 10.8l-39 6.1l-66 6.9l-60 9.8l-36 3.5l-33 8.9l-27 10.1l-30 6.4l-30 4.2l-12 2.7l-36 11.2l-9 3.9l-12 9.2l-18 19.8l-6 4.7l-6.9 3.8l-20.1 7.3l-30 5.6l-24 8.9l-9 1.5l-60 5l-42 5.1l-27-1.9l-9 .8l-12 4.2l-24 12.8l-18 4.6l-27.7 9.1l-14.3 3.3l-30 3.8l-18-1.3l-36-4.6l-12 .1l-18 1.8l-39 6.5l-57 5.3l-21 5.4l-33 11.7l-15 2.9l-9 .2l-9-1l-9-2.9l-7.7-4.2l-5.7-6l-1.6-3.7l-.4-5.3l2.3-6l7.1-7.6l6.2-4.4l12.1-6l38.7-11.8l9-3.7l12-7.3l10-10.2l5-9.4l3.2-14.6l.5-9l-1.4-26.9l-135.6 27.1l-137.5 30.6l-2.8 1.8l-1 3l.1 46.9l22.9 107l7.7 30.5l7.7 23.3l8.8 9.5l3.6 1.5l39.1-.1l320.5-61l610.4-122.1l335.7-68.7l91.8-22.9l17.6-16.6l1.4-3.5l-.2-85.5z" fill="#74da00"/>
<path d="M1619.3 177.4l-7.3 4.9l-10 4.7l-50 19.6l-51 16.4l-51 13.3l-54 10.8l-39 6.2l-66 6.9l-60 9.8l-36 3.5l-30 8l-30 11.1l-33 7l-36 5.7l-39 12.2l-9 4.1l-12 9.3l-18 19.7l-12 7.8l-21 7.5l-30 5.5l-24 8.9l-9 1.6l-57 4.7l-45 5.6l-27-2.1l-9 .8l-12 4.2l-24 12.9l-18 4.6l-27 8.9l-18 4l-21 3l-9 .3l-48-5.8l-21 .6l-51 8l-54 5.5l-24 6.4l-33 11.6l-15 2.8l-12 .2l-7.8-1.1l-9.3-3l-6.9-3.7l-6-5.5l-3-5.8l-.4-3l.3-3l2.4-6l6.7-7.4l9-6.3l12-6l39-12.5l12-5.2l9-5.9l9-9.6l4.9-10.1l2.4-12l.4-9l-1.5-26.5l-133.5 26.7l-137.5 30.6l-2.8 1.8l-1 3l.1 46.9l22.9 107l7.7 30.5l7.7 23.3l8.8 9.5l3.6 1.5l39.1-.1l320.5-61l610.4-122.1l335.7-68.7l91.8-22.9l17.6-16.6l1.4-3.5l-.2-85.5z" fill="#7cdc00"/>
<path d="M1619.4 178l-13.4 7.7l-54 21.2l-51 16.4l-51 13.3l-57 11.4l-36 5.7l-66 6.9l-60 9.8l-36 3.5l-27 7.1l-33 12l-33 7.1l-36 6l-36 11.3l-12 5.2l-10.9 8.4l-19.1 20.7l-12 7.4l-21 7.4l-30 5.5l-24 8.9l-9 1.5l-57 4.9l-45 5.6l-27-2.2l-9 .8l-12 4.2l-24 13l-18 4.6l-30 9.7l-15 3.2l-21 3l-9 .3l-48-6l-18 .3l-54 8.8l-33 3l-21 3.1l-21 5.9l-35.7 12.4l-18.3 3.1l-9 .1l-9-1.3l-9-2.8l-9.4-5.1l-6-6l-1.6-3l-1.2-6l3.1-9l8.4-9l9.7-6.5l12-5.9l39-13.2l10.4-4.4l10.6-6.8l7.4-8.2l4.5-9l2.5-12l.3-9l-1.5-26.1l-131.5 26.3l-137.5 30.6l-2.8 1.8l-1 3l.1 46.9l22.9 107l7.7 30.5l7.7 23.3l8.8 9.5l3.6 1.5l39.1-.1l320.5-61l610.4-122.1l335.7-68.7l91.8-22.9l17.6-16.6l1.4-3.5l-.2-85.5z" fill="#84de00"/>
<path d="M1619.6 178.4l-15.8 8.6l-54.3 21l-48.5 15.6l-51 13.2l-57 11.5l-39 6.2l-63 6.6l-60 9.6l-36 3.6l-27 7.1l-33 12.1l-33 7.2l-36 6.1l-36 11.5l-12 5.3l-9.8 7.4l-19.4 21l-12.8 7.9l-20.5 7.1l-30.5 5.5l-24 8.9l-69 6.8l-42 5.4l-27-2.3l-9 .7l-12 4.3l-24 13.1l-18 4.6l-30 9.6l-15 3.3l-21 2.9l-9 .3l-21-2l-27-4.1l-18 .5l-54 9l-33 3.3l-18 2.8l-21 5.9l-39 13.3l-18 3.1h-12l-9-1.6l-9.4-3.3l-8.6-5l-6.6-7l-1.4-3l-.7-6l3.3-9l8.4-9l12-8.1l12-5.9l48-17.6l9-5.4l8-8l4.9-9l2.6-12l.3-9l-1.5-25.7l-129.6 25.9l-137.5 30.6l-2.8 1.8l-1 3l.1 46.9l22.9 107l7.7 30.5l7.7 23.3l8.8 9.5l3.6 1.5l39.1-.1l320.5-61l610.4-122.1l335.7-68.7l91.8-22.9l17.6-16.6l1.4-3.5l-.2-85.5z" fill="#8be000"/>
<path d="M1619.8 178.9l-15 8.1l-54.5 21l-49.3 15.8l-51 13.3l-57 11.5l-39 6.3l-63 6.6l-59.2 9.5l-36.8 3.8l-27 7l-33 12.1l-33 7.3l-36 6.3l-36 11.6l-12 5.5l-9 6.7l-19 20.7l-8 5.7l-6 2.9l-18.1 6.4l-32.9 6.1l-24 8.9l-69 6.9l-42 5.5l-9-.2l-18-2.3l-9 .7l-12 4.3l-24 13.2l-18 4.6l-30 9.6l-15 3.3l-18 2.6l-12 .6l-21-2.1l-27-4.1l-15 .1l-57 9.8l-30 3.1l-18 2.9l-21 5.9l-39.7 13.6l-20.3 3.7l-12 .1l-9-1.4l-9-3l-10.3-5.4l-6.6-6l-1.9-3l-1.7-6l2.1-9l4-6l5.4-5.4l9-6.7l15-8.2l51-19.7l9-5.7l6-6.1l4.6-8.2l2.8-12l.4-9l-1.5-25.3l-127.6 25.5l-137.5 30.6l-2.8 1.8l-1 3l.1 46.9l22.9 107l7.7 30.5l7.7 23.3l8.8 9.5l3.6 1.5l39.1-.1l320.5-61l610.4-122.1l335.7-68.7l91.8-22.9l17.6-16.6l1.4-3.5l-.2-85.5z" fill="#93e200"/>
<path d="M1619.9 179.3l-14.2 7.7l-56.7 21.7l-48 15.4l-51 13.3l-57 11.5l-39 6.4l-63 6.6l-57 9.2l-39 4.1l-24 6l-36 13.2l-30 6.7l-39 7.1l-36 11.7l-12 5.6l-9 6.9l-17.9 19.6l-8.3 6l-6 3l-18.8 6.5l-33 6.1l-24 8.9l-69 7l-42 5.6l-9-.2l-18-2.4l-9 .6l-12 4.3l-24 13.4l-18 4.6l-30 9.5l-15 3.3l-18 2.6l-12 .6l-21-2l-27-4.2l-15 .2l-54 9.6l-33 3.8l-18 3.2l-60 19.5l-21 4l-12 .1l-12-2.1l-9.8-3.5l-10.4-6l-6.1-6l-1.7-3l-1.4-6l2.6-9l4.2-6l6.1-6l12.7-9l12.8-6.8l51-20.6l8.3-5.6l5.6-6l4.1-7.8l2.4-10.2l.3-12l-1.4-21.9l-125.6 25.1l-137.5 30.6l-2.8 1.8l-1 3l.1 46.9l22.9 107l7.7 30.5l7.7 23.3l8.8 9.5l3.6 1.5l39.1-.1l320.5-61l610.4-122.1l335.7-68.7l91.8-22.9l17.6-16.6l1.4-3.5l-.2-85.5z" fill="#9be400"/>
<path d="M1620.1 179.8l-13.4 7.2l-57.7 22l-48 15.3l-51 13.3l-57 11.6l-42 6.9l-60 6.3l-57 9l-39 4.2l-24 6l-36 13.2l-33 7.4l-24 3.8l-12 2.8l-36 11.9l-12 5.7l-9.6 7.6l-16.2 18l-7.2 5.4l-6.6 3.6l-20.4 7.1l-33 6l-24 8.9l-69 7.1l-42 5.7l-9-.3l-18-2.4l-9 .6l-12 4.3l-24 13.4l-18 4.7l-30 9.5l-15 3.3l-21 2.9l-9 .3l-21-2.1l-27-4.3l-15 .3l-54 10l-30 3.5l-18 3.2l-62.6 20.3l-21.4 4.1l-12 .3l-12-2l-14.4-5.4l-9.5-6l-5.7-6l-1.7-3l-1-6l3-9l4.4-6l6.2-6l12.5-9l12.2-6.9l54-23.1l6-4.1l6-6.3l4-7.6l2.5-12l-1.1-30.5l-123.7 24.7l-137.5 30.6l-2.8 1.8l-1 3l.1 46.9l22.9 107l7.7 30.5l7.7 23.3l8.8 9.5l3.6 1.5l39.1-.1l320.5-61l610.4-122.1l335.7-68.7l91.8-22.9l17.6-16.6l1.4-3.5l-.2-85.5zM211 449.2l3-.4l6 1.3l12 5.6l15 5l6 3.1l3 3.7l.9 4.5l-.9 4.3l-2.7 4.7l-3.3 3.2l-6 3l-8.8-.2l-2.3-3l-2.1-6l-1.8-1.7l-12-2.8l-6-3.6l-5.5-6.9l-.8-6l2.9-6z" fill="#a2e600"/>
<path d="M1620.2 180.3l-12.6 6.7l-58.6 22.3l-48 15.3l-51 13.3l-60 12.2l-39 6.4l-60 6.3l-57 9l-39 4.3l-24 5.9l-36 13.3l-33 7.5l-33 5.8l-36 11.8l-12 5.2l-11.6 8.4l-16.1 18l-8 6l-6.3 3.4l-21 7.2l-33 6l-24 8.9l-69 7.2l-42 5.8l-9-.3l-18-2.5l-9 .6l-12 4.3l-24 13.5l-48 14.1l-15 3.4l-30 3.2l-21-2.1l-27-4.4l-15 .3l-54 10.4l-30 3.6l-15 2.8l-66 21.2l-12 2.8l-12 1.6l-12-.2l-12-2.4l-9.4-3.4l-11.6-6.4l-9.1-8.6l-2.2-6l1.9-9l3.8-6l5.4-6l11.2-9l16-9.7l54-24.2l7.6-5.1l5.6-6l4.4-9l1.8-9l-1-30.1l-121.7 24.3l-137.5 30.6l-2.8 1.8l-1 3l.1 46.9l22.9 107l7.7 30.5l7.7 23.3l8.8 9.5l3.6 1.5l39.1-.1l320.5-61l610.4-122.1l335.7-68.7l91.8-22.9l17.6-16.6l1.4-3.5l-.2-85.5zM211 441.1l9 1.9l30 11.7l9.5 5.3l3.2 6v6l-2.1 6l-4.1 6l-7.7 6l-8.3 3l-11.5 .9l-3.2-.9l-2.8-2.3l-7.6-9.7l-12.2-12l-4.3-9l.1-9l3-5.9l3-2.4z" fill="#aae800"/>
<path d="M1620 181l-11.4 6l-56.6 21.5l-48 15.5l-51 13.4l-63 13l-39 6.5l-60 6.4l-57 8.9l-39 4.3l-24 5.9l-36 13.3l-33 7.6l-33 6l-36 11.9l-12 5.2l-10.5 7.6l-16.5 18.3l-7.5 5.7l-7.5 4l-21 7.1l-33 6l-24 8.9l-72 7.7l-39 5.5l-9-.3l-18-2.6l-9 .5l-12 4.4l-24 13.5l-48 14.2l-15 3.3l-30 3.2l-21-2.1l-27-4.5l-15 .5l-51 10.2l-45 6.5l-12 3.2l-56.4 18.8l-12.6 3l-12 1.4l-15-.4l-12-2.8l-15-6.4l-10.3-6.8l-5.5-6l-1.4-3l-.3-6l4.1-9l11.4-12l12.3-9l16.7-9.8l50.2-23.2l6.8-4.8l4.1-4.2l4.9-8.7l2.2-9.3l.4-12l-1.1-17.7l-119.8 23.9l-137.5 30.6l-2.8 1.8l-1 3l.1 46.9l22.9 107l7.7 30.5l7.7 23.3l8.8 9.5l3.6 1.5l39.1-.1l320.5-61l610.4-122.1l335.7-68.7l91.8-22.9l17.6-16.6l1.4-3.5l-.2-85.5zM208 435.1l9 1.5l21 8.9l16.1 5.5l6.6 3l3.8 3l3.1 6l-.7 9l-4.2 9l-5.1 6l-8.5 6l-11.1 3.5l-12 .7l-3-1.1l-3-2.5l-7.4-9.6l-13.6-15l-3.1-6l-1.6-6l.2-9l2.4-6l5.1-5.1z" fill="#b2ea00"/>
<path d="M1620.5 181.2l-11.5 6l-60 22.6l-48 15.3l-51 13.3l-60 12.4l-39 6.5l-60 6.4l-57 8.8l-42 5l-24 6.3l-33 12.3l-33 7.7l-33 6.1l-33 11l-15 6.4l-9.5 6.7l-13.2 15l-6.5 6l-12.8 7.6l-21 7.1l-33 5.9l-24 8.9l-72 7.8l-39 5.5l-9-.2l-18-2.7l-9 .5l-12 4.4l-24 13.6l-48 14.1l-15 3.4l-21 2.8l-12 .2l-18-1.9l-27-4.6l-12 .1l-54 10.9l-44 6.6l-67 21.7l-12 3.1l-15 2.1h-12l-15-3l-14.6-5.9l-14.6-9l-5.7-6l-1.3-3l.1-6l5-9l8.4-9l11.4-9l20.3-12.5l51-24.9l6.7-4.6l5.3-5.7l3.5-6.3l2.5-9.8l.5-11.2l-.9-17.3l-117.9 23.5l-137.5 30.6l-2.8 1.8l-1 3l.1 46.9l22.9 107l7.7 30.5l7.7 23.3l8.8 9.5l3.6 1.5l39.1-.1l320.5-61l610.4-122.1l335.7-68.7l91.8-22.9l17.6-16.6l1.4-3.5l-.2-85.5zM208 429.7l6 1.3l24 10.5l21 6.9l6 2.6l4.1 3l3 6l-.1 6l-1.6 6l-4.6 9l-8.2 9l-7.6 4.9l-9 3l-12 2.1l-6-.9l-6-4.7l-19-22.4l-4-6l-2.5-6l-1.6-9l.5-6l2.3-6l3.3-4.3l6-4z" fill="#baec00"/>
<path d="M1620.6 181.6l-11.6 6l-60 22.5l-48 15.3l-51 13.3l-60 12.4l-42 7l-57 6.1l-57 8.7l-42 5l-24 6.3l-33 12.3l-33 7.8l-33 6.2l-36 12.2l-12 5.4l-9 6.3l-19.2 20.6l-13.8 8.3l-21 6.9l-33 5.9l-24 8.9l-69 7.5l-42 6l-9-.3l-18-2.8l-9 .5l-12 4.4l-24 13.7l-48 14.1l-15 3.4l-21 2.8l-12 .3l-18-1.9l-27-4.7l-12 .1l-51 10.8l-45 6.9l-72 23.2l-13.4 3l-13.6 1.5l-15-.9l-13.5-3.6l-19.6-9l-13.2-9l-3.8-6l.9-6l6.1-9l12.7-12l12.5-9l17.9-10.9l49.4-25.1l10.6-8.9l3.8-6.1l2.8-9l.9-12l-.9-16.9l-115.9 23.1l-137.5 30.6l-2.8 1.8l-1 3l.1 46.9l22.9 107l7.7 30.5l7.7 23.3l8.8 9.5l3.6 1.5l39.1-.1l320.5-61l610.4-122.1l335.7-68.7l91.8-22.9l17.6-16.6l1.4-3.5l-.2-85.5zM202 425.5l6-.4l6 1.6l24 11.2l27 8.5l9 4.6l2.3 3l.8 3l-2.5 12l-6 12l-8.1 9l-10.5 6.9l-18 4.7l-9-.4l-4.2-2.2l-3.3-3l-22.6-27l-3.3-6l-3-9l-.4-9l2.9-9l4.7-6z" fill="#c1ee00"/>
<path d="M1620.8 182l-14.8 7.1l-60 22.3l-45 14.2l-51 13.4l-60 12.4l-42 7.1l-57 6.1l-57 8.7l-42 5l-24 6.3l-33 12.4l-33 7.8l-33 6.3l-36 12.3l-12 5.5l-9 6.4l-18.2 19.7l-14.8 8.9l-21 6.8l-33 5.9l-24 8.8l-69 7.7l-42 6l-9-.2l-18-2.9l-9 .5l-12 4.4l-24 13.7l-48 14.2l-15 3.4l-21 2.7l-12 .3l-20.1-2.2l-24.9-4.4l-12 .1l-51 11.2l-45 7.1l-69 22.5l-15 3.6l-15 1.7l-15-.8l-15-4l-16.3-7l-21.9-12l-3.1-3l-.6-3l1-3l9.5-12l13.7-12l12.7-9l20-12.3l45-23.7l11.7-9l5.6-9l2.4-9l.7-12l-.8-13.5l-113.9 22.7l-137.5 30.6l-2.8 1.8l-1 3l.1 46.9l22.9 107l7.7 30.5l7.7 23.3l8.8 9.5l3.6 1.5l39.1-.1l320.5-61l610.4-122.1l335.7-68.7l91.8-22.9l17.6-16.6l1.4-3.5l-.2-85.5zM205 420.6l9 2.3l18 9.3l12 4.8l30 8.1l6.9 2.9l2.8 3l-.7 6l-10 21l-6.9 9l-10.1 8.6l-6.8 3.4l-11.2 3l-12 1.4l-5.8-1.4l-7.1-6l-22.8-27l-3.6-6l-3.4-9l-1-9l.9-6l2.5-6l4.7-6l8.6-5.4z" fill="#c9f100"/>
<path d="M1620.9 182.5l-14.9 7l-60 22.1l-45 14.3l-51 13.3l-60 12.5l-42 7.2l-57 6.2l-57 8.5l-42 5.1l-21 5.3l-36 13.4l-33 7.9l-33 6.4l-33 11.3l-15 6.7l-9.8 7.3l-16.4 18l-14.7 9l-22.1 7.1l-33 6l-24 8.8l-69 7.8l-42 6.1l-9-.3l-18-2.9l-9 .4l-12 4.5l-24 13.8l-57 16.4l-24 3.5l-15 .7l-21-2.4l-24-4.3l-12 .2l-48 10.9l-45 7.2l-69 22.4l-15 3.9l-12 1.8l-15 .5l-12-1.9l-15.9-5.2l-26.1-11.6l-6-1.9l-6-.4l-6 2.8l-3 3l-12.7 20.1l-11.3 12l-12 7.1l-18 4.3l-9 .1l-5.7-2.5l-3.3-2.7l-21.6-24.3l-8.4-12l-4.6-12l-.7-9l2.3-9l6-8.7l9-6.2l9-1.5l6 1.4l24 12.6l15 5.3l30 5.8l6 .1l6-1.6l27.9-22.2l13-9l25.1-15.3l37.9-20.7l12.3-9l6.4-9l2.8-9l.9-12l-.7-13.1l-111.9 22.3l-137.5 30.6l-2.8 1.8l-1 3l.1 46.9l22.9 107l7.7 30.5l7.7 23.3l8.8 9.5l3.6 1.5l39.1-.1l320.5-61l610.4-122.1l335.7-68.7l91.8-22.9l17.6-16.6l1.4-3.5l-.2-85.5z" fill="#d1f300"/>
<path d="M1621 182.9l-12 5.8l-60 22.2l-45 14.4l-51 13.5l-63 13.3l-45 7.7l-54 5.8l-57 8.4l-42 5.2l-21 5.2l-36 13.4l-33 8l-33 6.5l-33 11.3l-15 6.9l-9 6.6l-16.3 17.9l-14.4 9l-23.3 7.6l-33 5.9l-24 8.9l-75 8.6l-33 5.2h-12l-18-3l-9 .4l-12 4.4l-24 13.9l-51 15l-18 3.5l-27 2.1l-21-2.4l-24-4.3l-12 .2l-48 11.3l-45 7.3l-71.6 23.4l-24.4 4.8l-15 .6l-12-1.8l-12-3.6l-27-11l-12-2l-6 1.8l-6 4.9l-12.9 18.3l-12.8 12l-10.3 5.5l-15 3.6l-12 .7l-8-3.8l-25-27l-8.8-12l-5.1-12l-1-12l2.6-9l6.3-8.6l6-4.8l6-2.9l9-1l9 3.3l21 11.8l18 6.2l24 3.6l9-.5l6-1.9l6-3.3l32.7-22.9l61.2-36l12.7-9l7.2-9l3.2-9l1.2-12l-.6-12.7l-109.9 21.9l-137.5 30.6l-2.8 1.8l-1 3l.1 46.9l22.9 107l7.7 30.5l7.7 23.3l8.8 9.5l3.6 1.5l39.1-.1l320.5-61l610.4-122.1l335.7-68.7l91.8-22.9l17.6-16.6l1.4-3.5l-.2-85.5z" fill="#d9f500"/>
<path d="M1621 183.4l-12 5.7l-60 22.1l-48 15.2l-48 12.7l-63 13.3l-45 7.8l-57 6.2l-96 13.2l-21 5.2l-36 13.5l-33 8l-33 6.6l-33 11.4l-15 7l-9 6.7l-15.3 17l-14.7 9.3l-24 7.8l-33 5.9l-24 8.9l-72 8.3l-36 5.6h-12l-18-3.1l-9 .4l-12 4.5l-18 11.1l-6 2.8l-51 15l-18 3.5l-18 2h-12l-18-2.2l-24-4.4l-12 .2l-45 11l-48 8.2l-28.9 10.2l-38.4 12l-13.7 3.6l-14.5 2.4l-12.5 .7l-12-1.2l-15-4.2l-27-10.1l-6-1.3l-6 .1l-6 2.2l-3 2.1l-16.6 20.7l-13.4 11.4l-9 4.3l-18 3.9l-9 .3l-5.6-1.9l-4.4-3l-25.5-27l-9.1-12l-5.5-12l-1.7-12l.9-6l2.3-6l6.6-8.6l6-4.8l6-3.2l9-1.9l9 2.6l21 12.6l18 7l12 2.5l12 1.1l9-.3l9-2.3l9-4.8l32.4-20.9l50-30l17.6-12l7.8-9l3.2-7.3l1.9-10.7l-.4-15.3l-107.8 21.5l-137.5 30.6l-2.8 1.8l-1 3l.1 46.9l22.9 107l7.7 30.5l7.7 23.3l8.8 9.5l3.6 1.5l39.1-.1l320.5-61l610.4-122.1l335.7-68.7l91.8-22.9l17.6-16.6l1.4-3.5l-.2-85.5z" fill="#e0f700"/>
<path d="M167.2 438.3l1.2-8.3l2.5-6l7.1-8.9l12-8.1l9-2.7l9 1.7l27 16.7l18 6.3l12 2.1l12 .4l9-1l9-3l15-8.4l65.6-40.1l13.7-9l10.7-8.3l5.8-6.7l4.2-9l1.8-12l-.4-11.9l-105.7 21.1l-137.5 30.6l-2.8 1.8l-1 3l.1 46.9zM1621 183.9l-12 5.6l-60 22l-48 15.2l-48 12.6l-63 13.4l-48 8.4l-54 5.8l-99 13.7l-20.4 5.4l-33.6 12.7l-33 8.1l-33 6.7l-30 10.3l-15 6.5l-10 6.7l-14 15.7l-9 7.1l-12 6.2l-18 5.8l-33 5.9l-24 8.7l-9 2.1l-60 6.5l-45 6.7l-9-.3l-18-3.1l-9 .4l-12 4.5l-18 11.1l-6 2.8l-60 17.2l-24 3.1l-12 .4l-18-1.9l-27-4.9l-12 .3l-42 10.7l-48 8.3l-33 11.4l-39 12l-15 3.7l-15 2.1l-12 .3l-12-1.7l-39-13l-6-1l-6 .4l-6 2.5l-3 2.3l-14.8 17.7l-15.2 12.7l-13 5.3l-20 3.2l-9-2.2l-9-7l-28.1-30l-6.1-9l-3.4-6.9l17 79.4l7.7 30.5l7.7 23.3l8.8 9.5l3.6 1.5l39.1-.1l320.5-61l610.4-122.1l335.7-68.7l91.8-22.9l17.6-16.6l1.4-3.5l-.2-85.5z" fill="#e8f900"/>
<path d="M164.5 425.5l6.8-10.5l6.7-6l12-7l9-2.4l6 .9l3 1.4l24 16.8l9 4.3l9 3l12 2.4l12 .7l12-1.2l9-3l21-11.2l52.2-31.7l17.8-12l11.3-9l5.7-6.4l4.4-8.6l1.9-9v-14.5l-103.6 20.7l-137.5 30.6l-2.8 1.8l-1 3zM1621 184.4l-12.3 5.6l-59.7 21.7l-48 15.3l-48 12.6l-63 13.4l-48 8.6l-54 5.7l-99 13.7l-19.2 5l-34.8 13.1l-33 8.2l-33 6.8l-30 10.4l-15 6.5l-9.1 6l-14.9 16.5l-9 7l-13.1 6.5l-16.9 5.3l-33 5.8l-24 8.8l-9 2.1l-57 6.2l-48 7.1l-9-.3l-18-3.1l-9 .3l-12 4.5l-18 11.3l-6 2.7l-60 17.2l-24 3.1l-12 .4l-21-2.3l-24-4.5l-12 .3l-42 11l-46.2 8.1l-34.5 12l-39.7 12l-14.6 3.5l-15 2.1l-12 .3l-9-1l-15-3.9l-24-8.4l-9-1.4l-6 .6l-9 5l-16.1 18.2l-13.9 10.9l-9.2 4.1l-20.8 4l-9.8-1l-9.8-6l-26.8-27l-10.2-12.6l15 70.1l7.7 30.5l7.7 23.3l8.8 9.5l3.6 1.5l39.1-.1l320.5-61l610.4-122.1l335.7-68.7l91.8-22.9l17.6-16.6l1.4-3.5l-.2-85.5z" fill="#f0fb00"/>
<path d="M164.5 413.8l8.5-7.8l11-7l9-3.7l6-.9l6 1.3l3 1.7l21 17l9 5l9 3.5l12 2.9l12 .9l12-.7l12-3.4l18-8.8l33-19.3l28.7-18.5l19.2-15l6.1-6.6l4.7-8.4l2.2-9l.1-14l-101.3 20.2l-137.5 30.6l-2.8 1.8l-1 3zM1621.5 184.6l-11.8 5.4l-63.7 23l-45 14.3l-51 13.3l-63 13.3l-48 8.6l-51 5.3l-84 11.2l-27 5.2l-21 6.9l-18 7.6l-36 9.1l-30 6l-30 10.2l-15 6.2l-9 5.2l-6 5.1l-12.7 14.5l-8.1 6l-9.2 4.8l-22.1 7.2l-34.9 6.4l-27 9.5l-60 6.8l-48 7.2l-9-.3l-18-3.2l-9 .4l-12 4.5l-17.1 10.7l-6.9 3.3l-51 15.2l-15 3l-30 2.5l-21-2.3l-24-4.5l-12 .4l-42 11.3l-45 8l-31.6 11.1l-39.7 12l-27.7 6l-15 1.1l-12-1.1l-12.6-3l-26.4-8.8l-12-1l-6 1.7l-6 4.2l-14.4 15.9l-15.4 12l-12.2 4.7l-18 3.1l-9-.7l-8.5-4.1l-37.9-37.2l13.8 64.7l7.7 30.5l7.7 23.3l8.8 9.5l3.6 1.5l39.1-.1l320.5-61l610.4-122.1l335.7-68.7l91.8-22.9l17.6-16.6l1.4-3.5l-.2-85.5z" fill="#f8fd00"/>
<path d="M164.8 403l11.2-9l1-3l-8.2-9l-3.2-6.5l-1.2 3.1zM178 371.7l4.9 4.3l4.1 9.6l3 2.4l9 .9l6 2l6 4.6l14.1 13.5l12.9 8.2l12 4.6l12 2.3l12 .5l12-1.3l18-6.6l27-14.3l32.6-20.4l20.3-15l9.9-9l6.8-9l3.9-12l.3-13.6l-99.1 19.8zM1621.7 185l-11.1 5l-64.6 23.3l-45 14.2l-54 14l-60 12.8l-48 8.6l-51 5.4l-84 11.1l-27 5.2l-21 6.9l-18 7.6l-36 9.1l-30 6.2l-30 10.2l-15 6.2l-9 5.3l-6 5.3l-12 13.7l-7.9 5.9l-10.1 5.3l-21 6.9l-36 6.6l-27 9.6l-60 6.9l-45 7l-12-.1l-18-3.2l-9 .3l-12 4.5l-16.1 10.2l-7.9 3.8l-51 15.3l-15 3l-30 2.5l-21-2.3l-24-4.6l-12 .5l-42 11.6l-45 8.2l-30 10.7l-37.5 11.3l-16.5 4.4l-15 2.6l-15 1.1l-12-1l-12-2.8l-27-8.7l-12-.7l-9 3.7l-15.9 16.4l-15.1 12l-11 4.8l-21 3.8l-9-.7l-10.1-4.9l-35.5-33.2l13 60.7l7.7 30.5l7.7 23.3l8.8 9.5l3.6 1.5l39.1-.1l320.5-61l610.4-122.1l335.7-68.7l91.8-22.9l17.6-16.6l1.4-3.5l-.2-85.5z" fill="#fffd00"/>
<path d="M196.9 367.4l14.1 15.5l13.7 17.1l6.5 6l6.8 4.6l12 5.1l12 2.5l12 .4l12-1.4l18-5.7l24-11.3l21-12.5l20.2-14.7l12.8-12l9.8-12l4.9-12l.9-12.1l-91.9 18.3zM1622 186.2l-67 24.9l-42 13.6l-66 17.6l-57 12.4l-54 10.1l-48 5l-81 10.4l-30 5.5l-21 7.1l-18 7.5l-36 9.4l-30 6.3l-30 10.4l-12 4.9l-10.1 5.7l-7 6l-13.8 15l-15.2 9l-22.9 7.4l-36 6.7l-27 9.7l-60 7.1l-45 7.1l-9 .2l-21-3.5l-9 .2l-11 4.1l-16 10.2l-9 4.4l-51 15.5l-15 3l-21 2.1l-12 .1l-18-2.1l-24-4.6l-9 .1l-45 12.8l-42 8.3l-38.1 13.2l-42.3 12l-18.6 3.6l-15 1.4l-12-.4l-12-2.2l-30-8.7l-6-.7l-6 .7l-9 4.3l-18.2 17l-12.7 9l-11.1 4.3l-18 3.2l-12-.3l-10.5-4.2l-33.1-26.8l11 51.3l7.7 30.5l7.7 23.3l8.8 9.5l3.6 1.5l39.1-.1l320.5-61l610.4-122.1l335.7-68.7l91.8-22.9l17.6-16.6l1.4-3.5l-.2-85.5z" fill="#fff700"/>
<path d="M212.2 364l16.9 27l5.9 6.5l9 6.4l9 3.8l12 2.3l12 .1l12-1.8l18-5.3l21-8.7l15-8.4l13.5-9.9l11.8-12l8.6-12l5.8-12l2.4-12.6l-79.4 15.8zM1622.6 188.1l-67.6 24.4l-45 14.4l-60 16.1l-60 13.2l-57 11.3l-123 14.2l-33 5.9l-21 7.1l-18 7.6l-33 8.9l-33 7.5l-24 8.1l-15 6.1l-12 6.7l-6 5l-15 15.7l-15 8.4l-24 7.7l-36 6.7l-27 9.8l-48 5.8l-57 8.9h-12l-18-3.2l-9 .1l-9 3.2l-18 11.3l-9 4.2l-18 5.1l-30 10.1l-15 3.3l-24 2.4h-12l-18-2l-24-4.6l-9 .3l-42 13l-39 8.6l-42 14.1l-39 10.8l-21 4.1l-15 1.8l-15-.2l-15-2.5l-24-6.7l-12-.5l-9 3.4l-18.4 15.3l-13.3 9l-10.3 4l-12 2.5l-15 1.4l-12-2.1l-12.3-5.8l-22.8-15.5l8.5 40l7.7 30.5l7.7 23.3l8.8 9.5l3.6 1.5l39.1-.1l320.5-61l610.4-122.1l335.7-68.7l91.8-22.9l17.6-16.6l1.4-3.5l-.2-85.5z" fill="#ffef00"/>
<path d="M223.6 361.5l6.2 14.5l5.3 9l5.9 6.5l7.9 5.5l10.1 3.8l9 1.4l12-.4l12-2l18-4.9l15-5.3l14.8-7.6l9.2-6.7l8.1-8.3l7.3-12l4.7-12l2.6-13l-66 13.2zM1623.2 190l-71.2 24.9l-48 15.2l-48 12.8l-66 14.9l-60 12.4l-114 12.5l-39 6.8l-21 7.3l-18 7.5l-66 17.1l-35 12.6l-16.1 9l-20.9 20.1l-18 8.9l-21 6.3l-36 6.8l-27 9.9l-45 5.6l-60 9.4l-12 .1l-18-2.9h-9l-9 3.3l-24 14.2l-21 6.3l-27 9.8l-15 3.5l-24 2.5l-12 .3l-18-1.7l-24-4.6l-12 .3l-42 13.5l-36 8.7l-44.5 14.7l-39.5 10.4l-21 3.9l-18 2l-15-.5l-12-1.8l-24-6.2h-12l-9 3.8l-27 19.8l-10.8 4.6l-13.2 3.1l-18 1.4l-12-1.7l-15.6-5.8l-17.6-9.4l6.6 30.9l7.7 30.5l7.7 23.3l8.8 9.5l3.6 1.5l39.1-.1l320.5-61l610.4-122.1l335.7-68.7l91.8-22.9l17.6-16.6l1.4-3.5l-.2-85.5z" fill="#ffe700"/>
<path d="M234.3 359.1l3.7 12.8l3.5 7.1l5.5 6.4l9.2 5.6l8.8 2.4l9 .5l12-1.3l21-4.3l21-6.6l10.7-5.7l7.4-6l4.6-6l3.9-9l3.7-22.3l-52.6 10.5zM1623.8 191.9l-26.8 8.3l-45 16.1l-48 15.2l-51 13.5l-36 7.5l-27 6.9l-60 13l-114 12.1l-39 7l-21 7.3l-18 7.5l-68.6 18.7l-30.4 11.2l-9 4.4l-8.3 5.4l-19.1 18l-8.6 4.9l-12 5.2l-21 6.2l-36 6.7l-27 10.1l-45 5.8l-60 9.4l-12 .3l-21-2.9l-6 .4l-9 3.4l-24 13.7l-18 5.4l-27 10.4l-18 4.2l-24 2.5l-12 .1l-18-1.6l-24-4.3l-12 .5l-39 12.7l-39 10.3l-45 14.8l-36 9.3l-24 4.4l-18 2.1l-15-.1l-14.2-1.9l-21.8-5.2l-6-.5l-6 .8l-9 4l-17.8 12.9l-9.2 5.2l-12 4.2l-12 2.5l-15 1.2l-15-1.4l-12-3.2l-19.6-7.5l5 23.5l7.7 30.5l7.7 23.3l8.8 9.5l3.6 1.5l39.1-.1l320.5-61l610.4-122.1l335.7-68.7l91.8-22.9l17.6-16.6l1.4-3.5l-.2-85.5z" fill="#ffdf00"/>
<path d="M246 356.5l1.7 10.5l2.3 6.1l5.1 5.9l6.9 3.7l6 1.2l9-.1l39-6.2l15-5.5l6-4.1l3.7-4l3-6l1.3-6l.1-16.6zM1624.4 193.8l-24.4 7l-48 17l-51 16l-48 12.6l-33 6.9l-84 20.2l-30 4.5l-48 3.6l-42 4.7l-39 7.2l-39 14.9l-67.9 19.6l-31.1 11.6l-15 8.6l-21 18.3l-21 9.7l-21 6.1l-36 6.5l-27 10.4l-105 15.3l-12 .5l-21-2.2l-6 .4l-9 3.4l-15 8.9l-9 4.1l-18 5.5l-23.6 9.9l-18.4 4.5l-21 2.5l-15 .6l-21-1.5l-24-4l-9 .2l-45 13.9l-33 9l-51 16.7l-33 8.1l-27 4.8l-15 1.9l-18-.1l-12-1.4l-21-4.4h-9l-9 3.2l-18.3 12l-8.7 4.5l-12 4.1l-12 2.5l-15 1.4l-15-.7l-15.5-2.8l-17.8-5l3.7 17.5l7.7 30.5l7.7 23.3l8.8 9.5l3.6 1.5l39.1-.1l320.5-61l610.4-122.1l335.7-68.7l91.8-22.9l17.6-16.6l1.4-3.5l-.2-85.5z" fill="#ffd700"/>
<path d="M264.7 352.4l1.1 8.6l2.2 3.2l3 1.5l6 .6l15-1.4l15 .8l9-.8l6-2.1l6-4.8l2.9-9l-.9-9l-.4-1.5zM1625 195.7l-25 6.6l-45 16.1l-57 17.7l-45 11.8l-93 21l-24 6.7l-30 4.7l-48 3.3l-42 4.6l-39 7.3l-39 15.1l-42 12.4l-32.6 11l-23.1 9l-16.3 9.5l-18 14.9l-21 9.9l-21 6.4l-39 6.9l-27 10.6l-105 15.5l-12 .6l-21-1.2l-6 .5l-9 3.3l-18.8 10.1l-23.2 7.6l-18 8.4l-12 3.8l-12 2.4l-21 2.5l-15 .5l-21-1.3l-24-3.4l-9 .4l-99 28.9l-30 10.7l-30 7.2l-36 6.5l-12 1.2l-15 .2l-12-1.1l-21-3.5l-9 .4l-6 1.9l-18.5 10.7l-11.5 5.1l-15 4.1l-15 2.2l-12 .5l-15-.8l-29.2-4.8l2.6 12.2l7.7 30.5l7.7 23.3l8.8 9.5l3.6 1.5l39.1-.1l320.5-61l610.4-122.1l335.7-68.7l91.8-22.9l17.6-16.6l1.4-3.5l-.2-85.5z" fill="#ffcf00"/>
<path d="M1625.6 197.8l-25.6 6.1l-48 17.2l-51 15.7l-45 11.9l-36 7.6l-27 7.4l-33 7l-27 7.7l-30 4.5l-45 2.7l-39 4l-39 7l-24 8.6l-18 7.6l-40 12.2l-53.5 21l-17.5 9.2l-21 15.2l-24 10.5l-18 5l-39 6.5l-27 10.9l-102 15.3l-42 1.6l-9 3.1l-20.2 9.7l-21.8 7.2l-18 8.7l-24 5.8l-18 2.4l-15 .7l-21-.8l-27-3.1l-9 .7l-96 27.3l-33 12.1l-21 5.1l-42 7.9l-12 1.7l-18 .7l-30-3.3l-9 .1l-9 2.7l-22.6 11.1l-16.4 4.8l-15 2.6l-15 .8l-24-.8l-22.2-2.4l1.6 7.5l7.7 30.5l7.7 23.3l8.8 9.5l3.6 1.5l39.1-.1l320.5-61l610.4-122.1l335.7-68.7l91.8-22.9l17.6-16.6l1.4-3.5l-.2-85.5z" fill="#ffc700"/>
<path d="M1626.3 200l-24.5 5l-52.8 19l-51 15.2l-45 11.9l-33 6.9l-27 7.4l-33 7l-27 8.2l-27 4.2l-48 2.8l-42 4.2l-36 6.9l-23.1 8.3l-18.9 8.2l-40.5 12.8l-58.5 25.8l-32 19.2l-25 10.6l-15 4l-39 5.8l-30 11.9l-102 15.4l-42 2.9l-9 2.9l-18 8l-21 6.9l-21 10.3l-22.5 5.3l-19.5 2.7l-12 .7l-21-.4l-30-2.6l-12 1.3l-27 6.9l-66 19.4l-33 12.2l-21 5.1l-45 8.5l-27 2.3l-36-2.5l-9 1.9l-24 10.6l-21 5.3l-21 2.1l-51.2-1.1l.6 3.1l7.7 30.5l7.7 23.3l8.8 9.5l3.6 1.5l39.1-.1l320.5-61l610.4-122.1l335.7-68.7l91.8-22.9l17.6-16.6l1.4-3.5l-.2-85.5z" fill="#ffc000"/>
<path d="M1626.8 201.6l-23.8 4.4l-51 18.6l-51 14.9l-45 12.1l-35.5 7.4l-27.5 7.7l-33 7l-27 8.4l-30 4.5l-45 2.4l-39 3.8l-15.2 2.2l-23.8 5.1l-24 8.8l-18 8l-39 12.5l-15 7.7l-48 21.8l-30 16.9l-21 8.6l-15 4.4l-42 5.8l-30 12.1l-102 15.6l-42 3.5l-27 10.4l-18.2 5.8l-23.8 11.6l-24 5.3l-27 3.1l-24-.2l-30-2.1l-12 1.4l-27 6.6l-66 19.4l-21 8.5l-12 3.8l-21 5.1l-45 8.6l-27 2.5l-36-2.1l-9 2l-24 10l-21 4.9l-18 1.7l-53.6 .4l7.7 30.5l7.7 23.3l8.8 9.5l3.6 1.5l39.1-.1l320.5-61l610.4-122.1l335.7-68.7l91.8-22.9l17.6-16.6l1.4-3.5l-.2-85.5z" fill="#ffb700"/>
<path d="M1627 203l-15 2l-12 2.9l-45 17l-60 17.2l-45 11.9l-27 5.4l-30 8.3l-33 6.9l-27 8.7l-27 4.3l-48 2.5l-42 4.1l-36 7l-24 8.9l-18 8.2l-39 12.6l-15 8.1l-45 20.9l-29.6 16.1l-24.4 10.1l-15 4l-42 5.4l-30 12.3l-99 15.3l-45 4.4l-45 15.7l-24 11.8l-27 5.8l-24 2.6l-24-.1l-30-1.9l-12 1.5l-27 6.4l-66 19.6l-21 8.5l-12 3.7l-21 5.1l-45 8.7l-27 2.6l-36-1.8l-9 2l-24 9.6l-21 4.8l-15 1.3l-24-.4l-32 1.6l7.1 28.4l7.7 23.3l8.8 9.5l3.6 1.5l39.1-.1l320.5-61l610.4-122.1l335.7-68.7l91.8-22.9l17.6-16.6l1.4-3.5l-.2-85.5z" fill="#ffaf00"/>
<path d="M1627.7 204.5l-24.4 3.5l-42.3 16.4l-18 5.7l-90 24.2l-33 6.8l-27 7.6l-33 6.9l-27 8.9l-27 4.3l-48 2.4l-40.4 3.8l-37.6 7.4l-24 9l-18 8.3l-36 11.5l-40.5 20.8l-22.5 10.3l-25.6 13.7l-28.4 11.7l-12.3 3.3l-44.7 5.5l-30 12.4l-99 15.5l-45 4.8l-45 15.3l-24 12l-27 5.7l-24 2.5h-24l-27-1.6l-15 1.5l-30 7.1l-60.4 18.3l-32.7 12l-23.9 5.9l-45 8.7l-27 2.8l-36-1.6l-9 2l-24 9.3l-18 4.2l-18 1.5l-27-.5l-28.5 2.6l6.6 26.1l7.7 23.3l8.8 9.5l3.6 1.5l39.1-.1l320.5-61l610.4-122.1l335.7-68.7l91.8-22.9l17.6-16.6l1.4-3.5l-.2-85.5z" fill="#ffa700"/>
<path d="M1628.2 206l-25.2 3.4l-39 15.6l-15 5.1l-27 6.4l-66 18.1l-36 7.6l-27 7.6l-33 6.8l-27 9.2l-30 4.4l-45 2.2l-39 3.5l-15 2.3l-24 5.4l-24.9 9.4l-17.1 8.2l-36 11.7l-15 8.4l-45 21.6l-24.7 13.1l-28.7 12l-15.6 4.2l-45 5.3l-30 12.5l-99 15.7l-45 5.1l-45 15l-24 12.1l-30 6.2l-12 1.5l-18 .6l-45-1.4l-15 2.1l-30 7.4l-60 18.4l-30 10.9l-30 7.2l-39 7.6l-27 2.9l-36-1.5l-9 2l-24 9.1l-18 4.1l-15 1.2l-27-.9l-30.9 3.8l6 23.9l7.7 23.3l8.8 9.5l3.6 1.5l39.1-.1l320.5-61l610.4-122.1l335.7-68.7l91.8-22.9l17.6-16.6l1.4-3.5l-.2-85.5z" fill="#ff9f00"/>
<path d="M1628.7 207.7l-25.7 3l-48 19.7l-33 7.2l-72 19.6l-30 6.1l-27 7.5l-30.6 6.2l-29.4 10l-27 4.2l-48 2.3l-39 3.5l-36.3 7l-24.5 9l-20.2 9.8l-36 11.8l-18 10l-69 34.3l-22.5 9.1l-13.5 4.4l-51 6l-6 2l-18 8.8l-12 3.1l-96 15.1l-42 4.9l-42 13.6l-27 13.4l-27 5.6l-21 2.4l-24 .3l-33-1.1l-15 2.1l-27 6.4l-63 19.7l-27 9.7l-51 11.9l-42 6.6l-12 .3l-30-1.4l-9 1.9l-24 9l-18 4.1l-15 1l-27-1.3l-30.4 4.8l5.5 21.7l7.7 23.3l8.8 9.5l3.6 1.5l39.1-.1l320.5-61l610.4-122.1l335.7-68.7l91.8-22.9l17.6-16.6l1.4-3.5l-.2-85.5z" fill="#ff9700"/>
<path d="M1629.3 209.6l-20.3 1.7l-11.1 2.7l-27.9 13.6l-15 5.3l-33 5.8l-69 18.9l-33 6.9l-27 7.5l-30 5.9l-30 10.4l-30 4.4l-45 1.9l-38.8 3.4l-18.2 3l-18 4.2l-28.6 10.8l-19.4 9.6l-33 10.9l-15 8.5l-68.7 34l-30 12l-9.3 2.6l-51 5.8l-6 2l-18 8.9l-12 3.2l-93 14.8l-45 5.5l-42 13.4l-27 13.5l-27 5.6l-12 1.8l-15 .8l-51-.8l-15 2.2l-27 6.4l-90 29.3l-51 12.1l-42 6.8l-45-.7l-30 10.3l-18 4.2l-15 .7l-27-1.7l-29.8 5.9l4.9 19.4l7.7 23.3l8.8 9.5l3.6 1.5l39.1-.1l320.5-61l610.4-122.1l335.7-68.7l91.8-22.9l17.6-16.6l1.4-3.5l-.2-85.5z" fill="#ff8f00"/>
<path d="M1629.9 211.7l-24.1 2.3l-10.6 3l-11.8 6l-13.4 9.3l-6 2.2l-33 3.7l-12 2.3l-63 17.7l-33 6.8l-30 8.1l-33 6.5l-27 10l-27 4l-48 2.2l-36 3l-15.1 2.2l-23.9 5.5l-27 10.3l-18 9.6l-33 10.9l-34.1 17.7l-28.9 13.2l-21 11l-39 15l-54 6.2l-27 12.1l-30 5.9l-75 11.7l-42 5.2l-42 13.1l-27 13.7l-27 5.7l-12 1.7l-15 .8l-51-.5l-18 2.8l-24 5.8l-90 29.2l-51 12.4l-45 7.1l-42-.9l-9 2.4l-21 7.8l-15 3.7l-15 1.1l-30-2.2l-11.5 2l-17.7 5l4.3 17l7.7 23.3l8.8 9.5l3.6 1.5l39.1-.1l320.5-61l610.4-122.1l335.7-68.7l91.8-22.9l17.6-16.6l1.4-3.5l-.2-85.5z" fill="#ff8700"/>
<path d="M1630 214.2l-9 .7l-12 3l-9 .3l-6 1.8l-5.4 3l-3.7 3l-3.5 6l.6 3.6l3 3.4l3.4 2l1.1 3l-1.5 .9l-6 .2l-15-4.8l-9-1.2l-18-.1l-15 1.4l-15.2 3.6l-56.8 16.3l-33 6.8l-24 6.5l-36 7.1l-24 9.3l-6 1.5l-27 3.6l-45 1.9l-36 2.9l-15 2.3l-20.8 4.8l-31.4 12l-19.8 10.9l-33 11.1l-84 41.1l-36 13.1l-54 6.2l-27 12.2l-33 6.6l-72 11.3l-45 6l-39 12.2l-27 13.8l-27 5.7l-12 1.8l-18 .8l-48-.4l-21 3.5l-21 5.3l-87 28.2l-54 13.5l-45 7.2l-42-.9l-9 2.4l-24 8.7l-12 2.8l-15 1l-21-2.7l-9-.1l-9 1.7l-19.6 6.4l3.7 14.6l7.7 23.3l8.8 9.5l3.6 1.5l39.1-.1l320.5-61l610.4-122.1l335.7-68.7l91.8-22.9l17.6-16.6l1.4-3.5l-.2-85.5z" fill="#ff7f00"/>
<path d="M1591.8 226l-1.3 3l3.5 3.7l5.4-.7l2.6-3l.3-3l-2.3-3h-3.3zM1616.4 223l-1.8 9l-2.9 6l-14.7 12.8l-6 3.8l-3 .5l-6-1.3l-15-8.4l-9-3.1l-15-1.5l-15 .4l-18 3.8l-60 17.5l-27.5 5.5l-26.5 6.8l-36 6.9l-24 9.5l-6 1.5l-27 3.7l-45 1.7l-33 2.6l-15 2.2l-18.7 4.1l-11.3 3.4l-21.4 8.6l-23.6 13.4l-33 11.1l-60 27.7l-21 10.8l-33 12.6l-12 2.7l-48 5.1l-27 12.3l-33 6.7l-75 11.9l-42 5.6l-39 12l-21 11.6l-9 3.2l-27 5.5l-12 1.4l-27 .9l-33-.6l-12 1.2l-27 6l-90 29l-54 14l-48 8.1l-42-.9l-9 2.3l-24 8.7l-18 3.6l-12-.1l-18-3l-9-.2l-10.2 2.4l-17.8 6.9l3.1 12.1l7.7 23.3l8.8 9.5l3.6 1.5l39.1-.1l320.5-61l610.4-122.1l335.7-68.7l91.8-22.9l17.6-16.6l1.4-3.5l-.2-85.3l-10.5 1.7l-2.3 1.2z" fill="#ff7700"/>
<path d="M1631.5 221.2l-7.5 2.6l-6.9 17.2l-12.8 12l-7.3 10.5l-3 1.5l-3-.1l-6-2.4l-17.4-12.5l-9.6-4.7l-12-2.5l-18-.3l-21.4 4.5l-53.6 16.5l-57 12.5l-36 6.8l-9 2.9l-15 6.8l-6 1.5l-27 3.6l-72 3.6l-24 3.5l-18 4.4l-12 4.1l-21 8.9l-21 12.7l-33 11.2l-57 25.1l-28 13.9l-34 12l-52 5.7l-9 3l-21 10.1l-33 6.8l-75 12l-42 5.6l-39 11.8l-21 11.9l-6 2.4l-27 5.8l-12 1.7l-21 1l-45-.2l-21 3.5l-18 4.6l-87 28l-57 14.8l-45 7.8l-42-.8l-9 2.2l-24 8.7l-18 3.6l-12-.2l-18-3.5l-9-.2l-9 2.4l-18.3 8.1l10.1 32.7l8.8 9.5l3.6 1.5l39.1-.1l320.5-61l610.4-122.1l335.7-68.7l91.8-22.9l17.6-16.6l1.4-3.5z" fill="#ff6f00"/>
<path d="M1630.1 229l-7.2 15l-7.5 12l-.7 3l1.5 6l5.1 12l.5 6l-.8 3.7l-2.5 5.3l-3.5 4.6l-6 4.9l-6 2.8l-9 .6l-3-1l-3.2-2.9l-2.1-6l-.8-15l-1.4-6l-5.2-9l-12.1-12l-8.2-4.9l-12-3.4l-15-1l-12 1.3l-18.9 5l-29.1 10l-21 6.1l-90 17.7l-9 3l-15 6.9l-6 1.5l-27 3.6l-45 1.7l-30 2.1l-18 2.8l-18 4.3l-12 4.1l-21 9.1l-24 14.3l-39 13.5l-51 21.7l-25.2 12.6l-34.8 12.4l-12 2l-42 4.3l-7.3 2.3l-22.7 10.9l-33 6.9l-120 18.5l-36 10.9l-7.8 3.8l-13.2 8.3l-6 2.5l-27 5.8l-12 1.6l-21 1.1h-45l-24 4l-13.7 3.7l-43.3 14.6l-42 12.8l-60 16l-45 8.1l-42-.8l-9 2.2l-27 9.5l-15 2.9l-12-.3l-18-4l-9-.2l-7.9 2.2l-18.7 9.5l9.4 29.8l8.8 9.5l3.6 1.5l39.1-.1l320.5-61l610.4-122.1l335.7-68.7l91.8-22.9l17.6-16.6l1.4-3.5l-.2-74.2z" fill="#ff6700"/>
<path d="M1631.6 245.5l-3.2 10.5l3.1 24l-.5 6l-2 6l-5 8.3l-6 6.8l-15 10.9l-6 2.3l-9 .5l-6-1l-6-2.9l-3-3.9l-.6-9l3.6-18l.5-9l-1.3-6l-2.7-6l-7.5-9l-8.9-6l-10.1-3.3l-15-1.5l-12 1l-24.5 6.8l-20.5 7.9l-21 6.6l-90 16.7l-9 2.6l-15 7l-9 2.7l-27 3.6l-75 3.6l-15 2.4l-16.9 3.9l-16.1 5.7l-20.8 9.3l-25.6 15l-40.6 14l-45 18.4l-27 13.2l-31.2 11.4l-13.8 3l-45 4.7l-6 1.8l-24 11.5l-33 7l-72 11.8l-48 6.8l-36 10.8l-9 4.5l-12 7.8l-9 3.4l-24 5l-12 1.6l-27 1.3l-36-.3l-18 2.4l-18 4.2l-48 16.2l-42 12.6l-57 15.5l-48 9.2l-15 .2l-21-1.2l-9 .8l-33 11.1l-15 3l-12-.4l-18-4.4l-9-.3l-9.4 3.4l-16.4 9.6l8.6 26.7l8.8 9.5l3.6 1.5l39.1-.1l320.5-61l610.4-122.1l335.7-68.7l91.8-22.9l17.6-16.6l1.4-3.5z" fill="#ff5f00"/>
<path d="M1577.5 331.3l-17.8-3.3l-4.9-3l-1.8-3l.9-6l10.1-17.2l5.7-15.8l.8-6l-.5-6l-4-9l-8-7.9l-9-4.5l-15-2.8l-15 .6l-20.7 5.6l-27.3 11.1l-18 6l-15 3.3l-75 11.9l-12 3.7l-12 6l-9 2.8l-27 3.6l-72 3.2l-12 1.6l-18 3.9l-15 4.9l-22.1 10l-28.9 16.4l-45 15.8l-42 16.5l-30 14.3l-27 9.5l-15 3.3l-45 4.9l-6 1.9l-24 11.6l-30 6.5l-126 19.9l-33 10l-8.8 4.4l-12.2 8.1l-9 3.5l-33 6.2l-30 1.7l-36-.2l-18 2.4l-18 4.3l-60 20.1l-87 24.4l-48 9.6l-15 .3l-21-1.2l-9 .8l-33 11.1l-15 3.1l-12-.3l-18-4.7l-9-.4l-6 2.2l-19 11.9l7.8 23.4l8.8 9.5l3.6 1.5l39.1-.1l320.5-61l610.4-122.1l335.7-68.7zM1631 304l-1 1.1l-3.5 4.4l3.8-3.6z" fill="#ff5700"/>
<path d="M1548.8 338.5l-11.8-4.1l-4.7-3.4l-3.8-6l.3-3l4.9-6l18.3-13.9l6-6.9l3.4-6.2l3.3-9l.9-6l-.8-6l-5.3-9l-4.5-3.8l-6-3.3l-6-2l-9-1.5l-15 .2l-25.2 7.4l-22.8 10.5l-18 6.7l-18 3.7l-24 2.2l-45.7 6.9l-11.3 3l-15 7.3l-9 2.7l-27 3.7l-72 3l-12 1.7l-18 4.1l-13.2 4.5l-16.8 7.6l-36 19.7l-81 29.3l-41.4 18.4l-30.6 9.7l-51 6.1l-6.5 2.2l-17.5 9l-12 3.9l-39 7.6l-111 17.4l-33 9.8l-9 4.6l-12 8.2l-6 2.7l-24 5.4l-12 1.7l-24 1.5l-42 .1l-27 4.3l-57 19.1l-39 11.4l-57 16l-45 9.8l-15 1.4l-33-1l-9 2.1l-27 9.6l-15 3.1l-12-.1l-21-5.3l-6 .1l-6 2.7l-17.8 12.2l6.6 20l8.8 9.5l3.6 1.5l39.1-.1l320.5-61l610.4-122.1l335.7-68.7z" fill="#ff4f00"/>
<path d="M1530.9 342.9l-9.3-5.9l-5.6-6l-1.4-6l1.4-5.2l6.1-6.8l17.9-10.5l12-9.4l6.1-10.1l2.2-6l.7-6l-1.5-6l-1.7-3l-2.8-3.2l-6-4.3l-12-3.9l-15-1l-9 1.6l-15.3 4.8l-32.7 16.2l-18 6.2l-15 2.1l-24 .9l-42 5.7l-15 4.3l-15 7.5l-24 4.2l-78 3.5l-15 2.1l-18 4.3l-12 4.2l-15 6.9l-39 21l-78.6 27.9l-40.9 18l-33.5 10.5l-51 6.3l-6 2.1l-18 9.3l-12 3.9l-39 7.6l-114 18.2l-33 10.3l-18 11.8l-6 2.7l-24 5.4l-36 3.2l-42 .3l-27 4.2l-66 22.2l-87 24.7l-45 10.1l-15 1.5l-33-.9l-9 2.1l-27 9.7l-15 3.2l-15-.3l-18-4.6l-6 .3l-3 1.2l-12 9.4l-7.7 4.4l5.5 16.5l8.8 9.5l3.6 1.5l39.1-.1l320.5-61l610.4-122.1z" fill="#ff4700"/>
<path d="M1519 345.5l-6-5.1l-4.3-6.4l-1.7-9l1.4-6l4-6l3.3-3l24.3-14l8.5-7l5.6-9l2.4-9l-1.3-6l-6.2-7.2l-9-4.4l-12-2.2l-12 .8l-14.1 4l-13 6l-23.9 14l-9 4l-9 2.4l-15 1.5l-24-.6l-42 5.1l-13.5 3.6l-16.5 8.2l-27 4.7l-72 2.5l-15 2l-15.9 3.6l-11.1 3.4l-15 6.5l-45 23.9l-78 27.3l-36 15.9l-27 9.3l-15 3.5l-48 6.1l-30 13.8l-27 6l-132 21.5l-30 8.9l-9 4.7l-12 8.7l-9 3.6l-33 6.1l-27 1.8h-36l-27 3.8l-15 4.2l-48 17.2l-96 27.3l-48 10.6l-15 .7l-21-1.2l-9 .8l-30 10.6l-18 4.2l-15 .1l-21-3.8l-6 2.3l-9.2 7.2l-9.3 5.4l4.3 12.9l8.8 9.5l3.6 1.5l39.1-.1l320.5-61l610.4-122.1z" fill="#ff3f00"/>
<path d="M1510 347.3l-5.5-7.3l-3.1-9l-.1-9l2.7-7.4l3.5-4.6l5.5-4.5l21-11.4l7.3-5.1l5.7-6l4.3-9l.3-6l-2.9-6l-5.7-4.6l-6-2.4l-9-2l-6-.2l-15.3 3.2l-13.8 6l-27.9 18.6l-9 4l-9 2.1l-12 .7l-27-2l-27 2.5l-24 3.9l-21 9.7l-24 4.4l-15 1.3l-57 1.2l-14.6 1.6l-12.4 2.6l-15 4.3l-15 6.3l-48 25.3l-42 15.3l-36 11.7l-35.8 15.5l-33.2 10.9l-57 8.2l-24 11.5l-15 4.7l-36 6.9l-117 19l-30 9.4l-18 12.4l-6 2.8l-21 4.7l-12 1.9l-27 2l-42 .5l-27 4.2l-66 22.9l-60 16.5l-27 8.3l-45 10.6l-15 1.8l-33-.9l-9 2.3l-24 9.1l-21 4.6l-12 .3l-15-2.2l-6 .1l-6 2.7l-17.3 10.7l3.1 9.4l8.8 9.5l3.6 1.5l39.1-.1l320.5-61l610.4-122.1z" fill="#ff3700"/>
<path d="M1503.1 349l-5-9l-2.3-9l-.2-9l2.5-9l4.4-6l4.5-3.7l21.6-11.3l9.1-6l5.6-6l3-6l.3-6l-3.2-6l-3.9-3l-7.8-3l-12.7-1.1l-15.3 4.1l-11.2 6l-24.5 19.4l-9 4.2l-9 2.3l-15 .3l-27-3.6l-22.2 1.4l-25.8 3.5l-9 2.8l-15 7.6l-27 4.9l-69 1.7l-12 1.3l-15 3.1l-15 4.5l-15 6.4l-48 25.4l-39 14.5l-39 12.3l-36 15.2l-30 9.7l-12 2.6l-48 6.7l-24 11.6l-15 4.7l-33 6.4l-108 17.1l-15 3.3l-27 8.5l-21 14.3l-24 5.9l-12 1.9l-27 2l-42 .6l-27 4.3l-12 3.6l-51 18.8l-90 25.6l-51 12l-15 .8l-24-1.2l-6 .8l-27 10.3l-21 5.3l-12 1.2l-18-1.1l-6 .8l-22.1 11.8l1.9 5.8l8.8 9.5l3.6 1.5l39.1-.1l320.5-61l610.4-122.1z" fill="#ff2f00"/>
<path d="M1496.7 350.4l-4.3-10.4l-2.3-12l-.1-9l2-9l3-4.9l4.6-4.1l28.4-14l9-7.2l3.6-5.8l.5-6l-1.2-3l-2.8-3l-5.5-3l-6.6-1.6l-6-.2l-9 1.8l-7.6 3l-9.1 6l-19.3 19.6l-9 4.9l-12 3.2h-15l-27-5.5l-18 .1l-21 1.9l-15 2.5l-21 9.7l-27 4.9l-12 .8l-54 .4l-15 1.6l-15 3.2l-15 4.6l-15 6.4l-45 24.5l-42 15.8l-40.6 12.4l-34.4 14.3l-30 9.5l-12 2.5l-45 6.3l-9 3.2l-21 10.6l-12 3.4l-156 26.7l-18 5l-9 3.5l-21 14.7l-24 5.8l-12 1.9l-27 2l-42 .8l-27 4.3l-15 4.6l-51 19.1l-84 23.9l-54 13l-18 .8l-21-1.1l-6 .8l-27 10.6l-18 4.8l-15 2.5h-18l-6 1.2l-20.9 10.5l.7 2.1l8.8 9.5l3.6 1.5l39.1-.1l320.5-61l610.4-122.1z" fill="#ff2700"/>
<path d="M1504 264.5l-8.2 6.5l-5.9 9l-2.9 9l.5 3l1.5 1.2l12-1.2l18.1-6l9.9-6l4.9-6l.8-3l-.2-3l-1.8-3l-4.1-3l-3.6-1.2l-9-.4l-6.5 1.6zM1360 295.9l-7.5 2.1l-16.5 7.8l-27 5.1l-12 .8h-54l-12.5 1.3l-14.8 3l-14.7 4.3l-18 7.6l-48 26l-34.4 13.1l-40.6 11.9l-36 14.4l-33 10.5l-57 9l-9 3.3l-21 10.5l-12 3.5l-159 27.4l-24 7.7l-21 15l-21 5.3l-15 2.4l-24 1.8l-45 1.2l-27 4.3l-18 5.6l-51 19.5l-78 21.9l-30 6.8l-27 7.3l-15 1l-21-1.3l-9 .8l-27 11l-18 5.1l-15 3.2l-21 1.7l-22 9.8l7.6 8.2l3.6 1.5l39.1-.1l320.5-61l610.4-122.1l305.1-62.4l-5.2-20.7l-3.1-27l-2-4.2l-6-.5l-21 2.5l-9-.1l-27-7.6l-15-2.1l-15 .8z" fill="#ff1f00"/>
<path d="M1510 266.5l-6 3.9l-2.5 3.6l-.5 4.1l.8 1.9l2.2 1.4l6 .4l6-1.5l5.7-3.3l2.8-3l1.1-3l-.6-2.9l-3-2.3l-6-1zM1384 295.3l-27 3.3l-21 8.8l-27 5.2l-12 .7l-54-.4l-15 1.9l-15 3.3l-12.4 3.9l-14.6 6.1l-17.3 8.9l-27.7 16.4l-34.7 13.6l-46.3 13.5l-33 13l-33 10.4l-15 3.2l-39 5.6l-9 2.2l-24 11.7l-9 3.4l-33 6.5l-132 22.3l-15 4.1l-9 3.5l-21 15.4l-24 5.8l-39 3.9l-39 .8l-30 4.6l-18 5.6l-51 20l-39 12l-69 16.5l-27 7.5l-15 1l-21-1.3l-9 .7l-30 12.3l-30 8.8l-21 3l-19 7.8l4.6 5l3.6 1.5l39.1-.1l320.5-61l610.4-122.1l298.5-61.1l-3.4-19l-3.3-11.7l-3.1-6.3l-5.9-5.1l-6-1.5l-15-.6l-6-1.2l-21-9.3l-12-3.1l-9-.7z" fill="#ff1700"/>
<path d="M1476.4 354.5l-.2-11.5l-1.6-9l-2.3-6l-4.3-6l-3-2.3l-6-2.1l-18-.7l-17.5-12.9l-6.5-3l-12-3.3l-15-.4l-32.1 3.7l-21.9 8l-30 5.6l-57-.5l-19.9 1.9l-22.1 5.4l-17 6.6l-18.2 9l-33.8 20.5l-21 8.1l-56.8 16.4l-33.2 12.7l-33 10.2l-60 10.3l-36 16.1l-30 5.9l-138 23.5l-21 7l-21 15.7l-24 5.8l-39 3.9l-39 .9l-33 5.4l-18 5.9l-48 19.5l-36 11.4l-57 12.9l-42 11.5l-15 1l-21-1.4l-9 .7l-9 3l-21 9.8l-33 11.2l-18 3.8l-15.8 5.6l5 3l39.1-.1l320.5-61l610.4-122.1z" fill="#ff0f00"/>
<path d="M1465.2 356.8l4.1-7.8l.8-6l-2-9l-3.1-4.4l-6-3.5l-6-.2l-6 2.7l-6 7.1l-3 2.1l-3-4.6l-5.3-14.2l-6.3-9l-9.1-6l-12.3-3.6l-12-.3l-33 4.2l-21 6.4l-30 5.7l-60-.8l-18 2.2l-21 5.3l-26.2 10.9l-25.9 15l-16.9 11.8l-9 4l-63.6 17.2l-38.4 14l-30 9.1l-12 2.8l-51 8.6l-36 16.1l-99 18.1l-69 11.2l-14.2 4.1l-6.8 2.9l-21 16.1l-24 5.8l-39 4l-39 .9l-33 5.4l-18 5.8l-51 21.3l-36 11.3l-54 11.2l-42 12l-18 1l-21-1.5l-9 1.4l-21 10.2l-42 16.8l-24.2 6.7l37.5-.1l320.5-61l610.4-122.1z" fill="#ff0700"/>
<path d="M1447.8 343l2.2 4.6l3 1.9l3 .4l3-.7l3-2.9l.7-6.3l-1.5-3l-2.2-2l-3-.9l-3 .5l-3.3 2.4zM1390 303.2l-36 4.8l-45 10.1l-15 .6l-48-1.6l-12 1.2l-17.5 3.7l-17.6 6l-20.1 9l-20.1 12l-17.7 13.7l-9 4.9l-63 15l-39 13.7l-30 9.1l-12 2.9l-54 9.5l-30 14l-12 3.6l-99 17.8l-66 10.7l-18 6.3l-18 14.7l-6 2.9l-6 1.6l-21 4.1l-15 1.5l-21 1.7l-39 1l-33 6l-15 4.8l-28.3 11.5l-22.7 10.7l-33 10.5l-54 10.3l-45 13.2l-18 1.1l-21-1.6l-9 1.3l-6 2.3l-15 8.2l-21 8.8l-25.6 12.5l17.9-.1l320.5-61l610.4-122.1l257.4-52.7l-10.6-17.6l-9-24.8l-6-8.1l-9-5.2l-9-2.3z" fill="#ff0000"/>
<path d="M1420.5 366l-18.5-26l-5.2-6l-9.8-6.8l-9-3.3l-6-.3l-8 1.4l-28 9.7l-15 3.4l-51 1.6l-21 2.2l-30 6.8l-30 10.7l-27 12.5l-24 15.9l-6 2.2l-9 .7l-24-2l-15 1.8l-42 13.4l-36 9.7l-69 13.1l-30.1 12.3l-23.9 7.6l-45 6.9l-54 11.3l-57 7.3l-12 4l-6 3.4l-7.9 7.5l-7.1 9.3l-3 2.4l-6 2.2l-27 5.2l-30 4l-42 .3l-42 7.6l-12 3.6l-18.2 7.4l-5.8 3.4l-9 8.1l-6 3.8l-24 8.3l-24 5.1l-45 4.3l-33 12.3l-15 4l-15 1.4l-24-.7l-6 .6l-6 2.2l-14.2 9.2l288-54.8l610.4-122.1z" fill="#f60000"/>
<path d="M1416.4 366.8l-17.4-23.4l-5.9-6.4l-9.1-6.2l-9-2.8l-9 .9l-27 9.9l-15 3.9l-54 3.9l-54 9.9l-21 5.4l-24 9.3l-12 6.1l-18 12.5l-6 2.6l-12 1.2l-27-2.3l-12 1.4l-42 13.3l-33 8.8l-69 12.8l-30 11.6l-27 9l-45 6.9l-54 11.2l-57 7.1l-12 4.1l-6 3.6l-6.1 5.9l-8.7 12l-6.2 3.3l-27 5.5l-27 4l-15 1.1l-33-.1l-42 7.4l-9.8 2.8l-17.2 6.9l-8.4 5.1l-12.6 10.5l-15 6.2l-18 5l-15 3l-45 3.8l-9 2.6l-22.1 8.7l202.9-38.6l610.4-122.1zM333.5 582.1l-20.5-.2l-6 .8l-6 2.4l-7.3 4.6z" fill="#ee0000"/>
<path d="M1411.8 367.7l-21.8-27.1l-9-5.8l-9-1.9l-9 1.8l-24 9.3l-15 3.9l-36 3.2l-45 8.8l-42 4.7l-15 4.2l-15 5.9l-13.5 7.3l-13.5 9.5l-9 4.1l-12 .9l-27-2.6l-12 1.2l-42 13.1l-30 7.7l-72 13.5l-57 20.4l-42 6.3l-57 11.6l-57 7.1l-9.7 3.2l-8.3 4.8l-6.8 7.2l-5.3 9l-5.9 4.3l-6 2l-27 5.2l-27 3.9l-45 .8l-45 8l-23.1 8.8l-6.9 4.3l-12 10.1l-16.5 7.3l92.3-17.5l610.4-122.1zM320.5 584.6l-10.5 .7l-8.1 2.9zM430.4 563.7l-27.4 2l-19.5 6.9z" fill="#e60000"/>
<path d="M1406.6 368.8l-19.6-24.4l-6-4l-9-2.2l-9 1.5l-24 9.7l-12 3.4l-36 4l-45 9.9l-15 1.2l-21-.1l-12 1.5l-15 4l-12 4.9l-12 6.6l-15 10.1l-9 3.9l-12 .8l-27-3.2l-12 1l-42 12.9l-30 7.5l-72 13.3l-57 20.3l-42 6.2l-57 11.5l-57 7.1l-9 3l-8.3 4.8l-5.8 6l-6.9 11.6l-9 4.9l-27 5.7l-27 4.1l-12 1l-36 .3l-42 7.2l-13.5 4.2l-13.1 6l-15.2 12l-7.5 4.4l80.1-15.2l610.4-122.1zM414.7 566.7l-11.7 1.3l-8.5 2.5z" fill="#de0000"/>
<path d="M1401.1 369.9l-17.1-21.6l-6-3.6l-9-1.3l-6 1.2l-18 8.5l-12 4.3l-39 4l-39 10.5l-24 1.7l-24-1.4l-12 1.4l-12 3.2l-9 3.4l-30 18.1l-12 4.6h-9l-24-3.9l-15 .8l-12 2.9l-28.5 9.3l-24.3 6l-79.2 14.9l-39 13l-18 7.1l-42 6.2l-27 5.9l-15 1.8l-15 3.6l-57 7.1l-9 3.1l-6 3.3l-6.3 6l-6.9 12l-4.8 3.9l-6 2.6l-24 5.3l-27 4.3l-15 1.4l-36 .6l-42 7.2l-9 2.5l-12.3 5.2l-8.7 5.4l-12.3 9.7l73.1-13.9l610.4-122.1z" fill="#d60000"/>
<path d="M1395.5 371.1l-14.5-19.1l-6-3.2l-6-.7l-6 1.4l-15 9.7l-9 3.7l-9 1.3l-33 1l-33 10.5l-9 1.9l-24 1.1l-27-2.4l-12 1.6l-18 5.9l-30 18.1l-12 5.4l-6 .6l-27-6.5l-15 .8l-12 2.8l-27 8.7l-17.6 4.3l-87.4 16.7l-39 12.5l-12 5.8l-6 1.6l-42 6.1l-27 5.9l-15 1.6l-15 3.7l-57 7.2l-9 3.2l-6 3.5l-6 6.3l-6 10.9l-6 4.9l-6 2.6l-24 5.5l-27 4.3l-15 1.3l-36 1l-39 6.5l-10.8 2.9l-10.2 4.2l-9 5.2l-9.9 7.7l678.1-135z" fill="#ce0000"/>
<path d="M1389.9 372.2l-11.9-16.7l-3-1.9l-6-1l-6.7 2.4l-3.6 3l-7.7 9.1l-6 3l-9 .7l-36-2.1l-33 11.2l-18 3.2l-21 .1l-24-2.9l-12 1.2l-9 2.3l-9 3.8l-36 22l-9 4l-6-.8l-12-6.2l-9-2.6l-9-.6l-9 1.1l-48 13.5l-96 18.4l-37.1 11.6l-16.9 7.6l-45 6.6l-27 5.9l-12 .9l-18 4.3l-54 6.6l-9 2.8l-8.1 4.3l-5.7 6l-7.2 12.3l-6 4.4l-9 3.6l-24 5.3l-24 3.8l-51 2.7l-36 5.9l-12 3l-9 3.6l-9 4.9l-7.8 5.6l62.6-11.9l610.4-122.1z" fill="#c60000"/>
<path d="M1384.2 373l-7.2-12l-4-3l-4-.7l-3 1l-3.3 2.7l-8.7 12.2l-3 2l-6 1.8h-9l-30-4.2l-6-.1l-30 11l-18 3.6l-21 .5l-27-3.4l-15 1.6l-15 5.6l-36.9 23.4l-8.1 3.3l-6-.7l-12-7.9l-9-3.4l-9-.7l-12 1.7l-45 12.7l-18 3.5l-18 2.2l-60 12.5l-36 11.1l-12 6.1l-6 1.8l-45 6.6l-27 5.8l-12 .9l-15 3.8l-60 7.9l-9 3.5l-6 4l-3 3.3l-6.9 12l-5.1 4.7l-5.6 3.2l493.8-98.8zM628 525.5l-45 2.4l-30 5l-18 5l-17.2 9.1z" fill="#be0000"/>
<path d="M1377.7 374.7l-5.7-9l-3-.5l-3 2.8l-5.3 8l-3.4 2.9zM612.4 528.6l-29.4 1.8l-27.9 4.6l-17.1 4.6l-13 6zM1338.1 382.8l-35.1-5.8l-6 .9l-27 10.4l-21 3.5l-18 .2l-27-3.5l-12 .9l-15 5l-18 10.4l-19.3 13.2l-4.7 2.4l-6 1.5l-6-.7l-3-1.4l-10.4-7.8l-7.6-3.4l-9-.8l-12 1.8l-42 11.7l-21 3.8l-18 2l-24 5.8l-36 7.1l-35.9 11l-11.3 6l-6.8 1.9l-45 6.4l-27 5.7l-12 1l-15 3.8l-48 5.8l-12 2.3l-9 3.7l-6 4.4l-9 14.1l-6.3 5.7z" fill="#b60000"/>
<path d="M1324 385.6l-15-3.1l-9-.1l-30 10.4l-27 3.8l-12-.4l-27-3.4l-12 .8l-9 2.6l-9 4.2l-32.2 20.6l-9.8 3.7l-6 .1l-6-1.8l-12-8.8l-6-3.1l-6-1.1l-12 1.3l-42 11.2l-21 3.8l-21 2l-24 6.1l-33 6.6l-36 11l-12 6.1l-6 1.8l-48 6.9l-27 5.8l-12 1.1l-15 3.6l-57 7.5l-9 3.2l-7.6 5l-7.9 12l-5.4 6.1l485.1-97zM593.4 532.4l-13.4 .9l-24 4.1l-12 3l-9.3 3.4z" fill="#ae0000"/>
<path d="M1311.6 388.2l-14.6 .4l-20.1 6.7zM1122.3 426.7l-20.3-12.9l-9-1.4l-15 2.5l-39 10.2l-18 2.8l-21 1.7l-24 6.4l-39 8.4l-27 8.6l-12 5.9l-9 2.7l-48 6.8l-54 10.4l-57 7.8l-8.9 3.4l-6.1 3.9l-12.1 16.7zM1264.6 397.8l-24.6 3.1l-33-3.6l-15 .8l-9 2.7l-9 4.3l-26.2 16.5z" fill="#a60000"/>
<path d="M1118 427.5l-16-10.7l-9-1.9l-15 2.4l-39.5 9.7l-17.5 2.5l-21 1.4l-24 6.6l-39 8.7l-24.3 7.8l-12.3 6l-8.4 2.7l-51 7.2l-51 10.1l-33 4l-27 4.5l-9 3.7l-6 4.2l-9.8 13.7zM1232.1 404.5l-25.1-2.9l-15 1.1l-15 5.6l-19.3 11.3z" fill="#9e0200"/>
<path d="M1113 428.5l-14-8.6l-9-1l-12 1.8l-39 8.8l-18 2.2l-21 1.1l-24 6.9l-42 9.9l-18 6l-15 7l-6 1.8l-54 7.7l-48 9.7l-36 4.6l-24 4.1l-7.3 2.5l-7.7 4.4l-3 2.7l-6.7 9.4zM1214.9 408l-13.9-.2l-9 1.4l-17.2 7z" fill="#990700"/>
<path d="M1107.5 429.6l-11.5-5.6l-9-.7l-48 8.9l-39 2.7l-24 7.1l-42 10.3l-15 5.1l-18 8l-6 1.6l-54 7.5l-45 9.4l-36 4.7l-24.6 4.4l-8.4 2.8l-6 3.3l-3.7 2.9l-5.5 6.8z" fill="#930d00"/>
<path d="M1101.2 430.9l-8.2-2.8l-9-.5l-45 7.3l-39 2.2l-24 7.3l-42 10.7l-36 13.7l-57 8.1l-42 9.2l-39 5.2l-24 4.7l-12 4.9l-8.1 7.1z" fill="#8d1300"/>
<path d="M1092.5 432.6l-17.5-.1l-42 5.7l-33 1.2l-24 7.4l-39.3 10.2l-38.7 14.3l-57 8.1l-42 9.3l-51 7.6l-15 3.9l-11.9 6.7z" fill="#881800"/>
<path d="M799 491.3l-48 7.3l-12 2.9l-9.2 3.7zM859.4 479.2l-24.4 3.8l-26.7 6.5zM1074.4 436.2l-38.4 4.4l-36 1.3l-63 17.8l-22.9 8.6z" fill="#821e00"/>
<path d="M1040.9 442.9l-40.9 1.5l-72.4 21.2z" fill="#7c2400"/>
<path d="M1022 446.7l-22 .3l-48.5 13.8z" fill="#772900"/>
<path d="M1009.6 449.2l-9.6 .5l-16.7 4.8z" fill="#722e00"/>
</g>
<g clip-path="url(#cs)"><path d="M1013.7 210.8l7.3 3.3l9 3.3l6 .9l3-.3l3.9-1l6.3-3l1.8-1.6l1-1.4v-3l-1.2-4.8M915.6 227.6l3.4 1.4l6 1.7l15 2.9l9 1.2l9-.5l18-4.3l9-.4l9 1l21 4.7l9 1.5l9 .5l9-.8l6-1.4l6-2.7l6-4.2l5.1-5.2l2.1-3l2.7-6l5.7-18.5M877.2 235.5l8.8 4.8l15 12l9 5.6l6 2.3l6 1.2l15 .3l12-1.4l21-5.9l9-1.8l9-.6l42-.9l15-2l12-3.2l9.2-4.9l5.8-4.3l4.9-4.7l4-6l6.1-12.7l4.7-8.3l1.3-1.7l3-2.2l3-.6l3 .4l3 1.1l4.5 3l3 3l7.5 9.5l6 5.6l6 3.4l6 1.5l3 .1l6-1l21-6.1l9-1.9l12-1.6l27-2.6l9-1.5l7.7-2.4l16.3-7.2l9-2l6 .1l48 4.7l36 5.3l27 5.3l9 .4l9-1l23-5.6l31-9.4l21-4.6l9-2.8l9-3.8l6.4-3.4l9-6l6.9-6l4.8-6l1.4-3l1.2-6l-1.1-6l-3-6l-4.3-6l-6.3-6.5l-9.4-8.5l-2.3-3l-2-4.8M571.9 296.6l2 13.4l2.9 30l2.1 9l3.9 9l6.1 9l2.9 3l4 3l6 3l5.2 1.7l6 1l6-.1l9-2.3l12-6l6-2.3l21-5.4l15-3.4l18-3.4l12-2.2l15-1.9l6-1.3l4.6-1.4l7-3l9.4-5.3l6-2.4l6-1.1l18-.7l15-1.8l18-3.4l12-3.1l18-6.1l12-5.1l15-7.3l24-13.1l10.6-4.6l10.4-2.8l18-1.6l9-1.5l9-2.6l21-7.6l12-2.9l21-3.4l27-2.4l27-4.6l12-1.5l27-2l27-.1l6-.4l9-2.6l24-10.8l9-2.7l6-1.1l9-.4l21 1.5l12-.3l11.2-1.2l24.8-4.7l27-3.5l36-1.9l24-2.2l33-.1l39-2.8l35.5-8.8l20.8-6l18.1-6l51.6-21l11.9-6l8.7-6l5.5-6l3.1-6l.6-3l-.3-6l-6.8-24l-1.7-4.9l-3-2.7l-6-2.6l-3-2.6l-1.3-2.2l-.9-3l.4-3l1.1-2M1568.8 100.8l1.2 .2l3-.6l3-2.2l1.7-1.9M523.9 310l.3 15l-.8 9l-1.9 9l-6 18l-1.5 9l.5 6l.7 3l1.8 3.8l3 3.4l3 1.9l3 .8l3 .2l18-3.8l9 .2l45 9.6l12 1.6l12-.3l21-2.3l12-2.4l30-8l42-13.6l30-7.6l12-2.1l36.4-2.4l20.6-2.5l12-2l18-4.1l9-2.5l9-3.4l12-5.5l6-1.9l18-3.1l12-3l9-3.6l9-5l40.1-29.4l7.9-4.1l9-2.6l12-1.8l18-1.4l6-1.4l12-3.8l9-1.8l9-.1l15 2.2l6 .4l42-4.5l9-2.1l18-8.5l9-3.3l9-2.2l9-1.4l9-.6l21 .3l15-1.1l12-1.6l24-4.8l18-2.4l66-6.8l33-2.3l36-3.4l32.1-6.9l34-9l20.7-6l43.5-15l23.5-9l12.1-6l9-6l3.4-3l4.7-5.3l3.9-7.1M484.7 317.6l.3 7.4l-1.4 9l-3 9l-7.3 18l-2.2 9l-.6 6l.9 9l1.8 6l3.8 6l3.1 3l4.1 3l5.8 3.3l9 3.6l9 2l6 .7h9l15-2.3l6-.4l69 3.7l12 .1l9-.7l24-3.6l15-3.4l39-12.1l33-12.8l12-2.9l15-1.8l33-1.4l60-5.6l27-1.3l9-1.8l21-7.7l24.6-6.6l7.2-3l4.2-2.5l9-6.5l7-6l5.7-6l14.3-17.5l3.9-3.5l5.1-3.2l9-3.1l21-3.8l18-6l6-1.6l9-.7l21 1l15-1.6l33-5.5l6-1.7l12-5.1l9-2.9l21-5.7l9-1.9l6-.8l30-1.8l39-6.9l21-3.2l66-6.5l36-4.2l30-4.2l36-7.9l47.6-12.7l53.6-18l22.4-9l12.7-6l10.4-6l4.1-3l3.7-3.4M441.9 325.2l1 17.8l-.9 12.2l-1.1 5.8l-1.8 6l-2.9 6l-3.2 4.6l-4 4.4l-5 4.5l-6 4.1l-6 3.2l-9 3.6l-21 5.9l-15 4.9l-9 3.8l-9.9 6l-3.7 3l-4.4 4.9l-2.3 4.1l-.8 3l.1 3.8l.5 2.2l1.5 3l2.4 3l3.4 3l7.2 3.9l9 2.9l9 1.1l12-.6l12-2.5l33-11.8l21-5.3l18-2.2l39-3l36-6.1l21-2.1l15 .1l27 3.6l18 1.9l9 .1l6-.6l21-3.1l9-2l14.9-4.3l18.1-6.2l15-3.6l6-2.2l21-11.6l6-2.5l6-1.6l9-.8l18 1.7l9 .1l45-5.4l63-5.5l6-1.6l12-4.9l9-3.1l9-2.1l21-3.5l6-1.7l13.9-5.5l7.1-3.9l6-4.7l18-19.8l6-5.2l6-4l9-3.9l36-11.2l12-2.7l30-4.2l30-6.3l6-1.9l12-5.2l9-3l18-5.4l15-3.6l36-3.4l60-9.9l66-6.8l39-6.1l54-10.8l51-13.3l45.9-14.7l39.5-15l19.6-8.2l5.5-2.7M403.8 332.9l-.5 4.1l-1.4 6l-1.9 4.5l-2.7 4.5l-8 9l-14.2 12l-21.7 15l-25.4 15.4l-24 12.5l-9 3.7l-9 2.7l-12 1.3l-12-.4l-12-2.5l-9-3.2l-9-4.8l-6-4.3l-6.1-5.4l-11.9-12.4l-6-3.5l-9-3.6l-1.7-1.5l-2.2-3.4M184.6 482.6l20.8 19.4l8.4 6l6.2 2.4l3 .6l9-.3l18-3.5l6-2.1l5.9-3.1l8.1-6l6.9-6l12.1-12.9l3-2.5l3-1.9l6-2l6-.3l6 .9l27 8.5l12 2.8l12 1l15-1.1l15-2.6l18.4-4.9l35.6-10.7l19.1-7.3l10.9-3.4l11.8-2.6l21.2-3.3l12.9-2.7l17.1-4.3l24-7.1l6-.8l6 .2l24 4.6l12 1.6l9 .7l12-.4l18-2l15-3.1l33-10.4l18-4.9l8.4-4.1l15.6-9.9l6-2.8l6-1.8l3-.3l6 .1l18 3.2l6 .3l6-.3l39-6.2l66-7.7l6-1.6l21-8l9-2l18-2.8l9-1.8l11.7-3.4l9.3-3.4l6-2.9l9-5.8l6-5.5l9-10.6l6-5.3l6-3.8l6-3l15-6l27-9.1l30-6.1l36-9.2l18-7.6l21-7l12-2.7l15-2.4l30-3.6l54-7.5l48-4.9l51-9.2l60-12.8l45-11.5l21-6.1l42-13.6l57.9-21.1M352.7 340.5l-1.3 11.5l-1.5 6l-2.8 6l-5 6l-5.1 3.9l-9 4.9l-9 3.3l-12 2.8l-18 3.5l-12 1.6l-9 .1l-9-2l-6.3-3.1l-3.8-3l-2.8-3l-3.4-6l-2.9-9.6M192.3 514.9l15.7 4.7l12 2l12 .4l15-1.5l12-2.7l10.5-3.8l10.5-6l18-12.4l6-2.4l3-.6l9 .2l24 5.4l15 1.4h9l9-.6l20.1-3l18.9-3.7l33-8.5l48-15.8l33-8.7l39-12.7l6-1.3l9-.2l24 4.3l21 1.6l12-.4l23.2-2.6l9.8-2l9-2.7l24-9.7l18-5.4l8.7-4.2l15.3-9.3l6-2.6l3-.8l6-.3l21 2.6l12-.4l60-9.4l45-5.9l6-1.7l15-6.5l6-2l6-1.4l30-5.2l12-3.1l9-3.1l12-5l9-5l4.8-3.9l10.2-10.3l5.7-4.7l9.3-5.7l7.1-3.3l15.4-6l18-6l37.5-10l27-7.8l18-7.6l21-7.3l12-2.7l27-4.4l42-4.8l48-3.9l30-4.3l24-6.1l33-6.8l24.4-6.3l35.6-7.4l45-11.9l51-15.8l48-17.1l21.1-6.3M192.3 531l45.7 .3l9-.5l12-1.4l12-2.6l9-2.5l9-3.5l15-6.7l9-2l6-.1l18 1.9l12 .4l15-.8l12-1.6l45-8.5l21-5.1l12-3.8l15-6.5l6-2l66-19.4l27-6.7l6-1.1l6-.3l30 2.4l21 .3l12-.6l18-2.5l12-2.2l12-3.3l6-2.5l15.6-8.1l20.4-6.7l18-7.7l9-2.9l6-.8l21-1l15-1.4l102-15.5l9-3.2l15-7l6-1.8l41.4-6l6.6-1.5l9-3.1l21-8.8l8.4-4.6l15.6-9.6l9-4.8l45-19.8l15-7.4l39-12.4l18-7.9l24-8.7l21-4.5l18-2.8l39-3.8l45-2.4l30-4.6l27-8.3l33-7l27-7.5l33-6.8l45-11.9l51-15l54-19.5l16.1-3.3M199.9 544.7l14.1-4.1l9-1l6 .3l18 2.3l9 .1l6-.5l15-3.3l26.4-9.5l6.6-1.6l6-.4l24 1.4l12-.1l12-1.4l33-5.8l15-3.3l39-10.1l87-28.2l24-5.9l9-1.8l9-1l33 .6l18-.2l15-.8l12-1.7l27-5.8l6-2.4l15-8.7l6-2.6l30-9.7l12-3.3l9-1.5l30-3.3l75-11.7l27-5l6-1.5l6-2.4l15-7.7l6-2.1l9-1.4l36-3.3l9-1.5l11.9-3.8l23-9l25.1-12.8l31.1-14.2l18-9l11-6l7.9-3l25-8l6-2.7l12.3-7.3l21.9-9l9-3l22.8-5.3l15-2.2l36-3l48-2.1l27-4.1l6-1.9l12-5.2l9-2.9l36-7.2l24-6.5l33-6.9l55.3-15.7l13.7-3.5l15-2l18-.8h15l3-.6l3-2.6l3.6-5.5l2.9-3l4-3l5.2-3l8.3-3.2l12-1.3l10-1.9M204.3 566.2l12.7-9.8l3-1.3l3-.5l3 .2l12 3.4l6 1.1l9 .6l6-.3l9-1.6l9-2.5l21-7.8l9-2.6l9-.8l21 1.2l15-.6l48-10.3l28.7-8.6l25.3-6.7l42-11.9l51-18l15-3.7l15-2.4l9-.8l36 .1l27-1.7l12-1.7l21-4.5l6-2l3-1.6l12-8.4l9-4.7l30-9l12-2.5l39-5.3l78-13.1l24-4.9l6-1.6l9-3.7l15-7.9l6-2.1l9-1.5l39-4.3l12-2.7l30-10.4l24-11.3l12-4.8l78-27.7l6-2.8l18-10.6l18-9l15-6.7l12-3.8l18-4.1l15-1.8l18-.9l45-1.1l12-1.2l18-2.8l6-1.4l15-7.6l6-2.1l9-2.1l42-5.7l9-.6l15-.1l12-1.5l6-1.3l9-3l12-5.4l20-10.6l7-3l8.8-3l12.2-3l6-.4l6 .3l12 2.3l3 1l6 3.4l3 2.5l2.5 2.9l1.7 3l1 3l.3 6l-.6 3l-2.2 6l-2.7 5.3l-3 4.2l-3 2.9l-6 4.5l-21.7 13.1l-3.4 3l-2.2 3l-1.3 3l-.5 3l.3 3l1.1 3l2 3l4.8 4.3M224.3 592.3l13.7-2.9l6-2l18.8-7.4l20.2-7.3l15-7.7l9-3l9-.6l12 1.1l9 .3l15-1l9-2.2l18-5.7l15-3.9l57-12.4l33-10.4l51-21l18-5.9l21-3.8l12-1.5l39-1l27-2.2l12-1.7l18-3.8l6-2.1l6-3.9l9-7.9l6-4l9-3.7l12-3.3l15-3l54-8.4l36-6.6l36-6l27-5.4l9-3.4l18-9.1l9-3.6l9-1.9l42-6.5l12-2.8l30-9.3l36-13.4l44.4-12l21.6-6.8l9-3.9l20.2-13.3l15.4-9l11.8-6l22.4-9l11-3l9.2-1.9l9-1.5l9-.7l48 1.1l12-.4l9-1.3l24-5.1l15-5.6l3-.7l33-4.1l6-.2l6 .4l6 1.1l6 2l4.6 1.9l4.8 3l6.1 6l8.5 11.5l3 .8l9-2.8l6-.6l6 1.4l3 1.8l3 3l3.2 5.9l1.4 6l.1 8.2M306.3 577l6.7-.5l9 .5M374.7 569.4l1.1-.4M394.5 561.8l8.5-2.3l14.1-1.2M481.1 546.5l6.9-2.5l6.2-3l4.2-3l6.4-6l6.2-3.7l21-8.6l12-3.7l42-7.7l9-.4l24 .6l9-.5l30-3.9l27-5.2l3-1l3.4-1.9l2.6-2.4l9-10.4l6-5.2l6-3.3l12-3.9l9-1.6l30-3.2l18-2.6l27-5.2l27-6.1l45-7l21-6.2l24-10.5l9-3.2l9-2.2l42-7.2l15-3.1l36-9.8l35.5-11.9l9.5-2.5l15-2.2h6l18 1.6l6-.3l3-.7l6-2.6l12-8.6l12-7.5l30-15.1l27-11.5l24-5.9l12-1.3l51 .1l15-.8l15-3.5l14.6-5.2l11.1-3l10.3-1.6l6-.1l6 1.2l3 1.2l6 3.1l6 4.4l6 7.1l12.5 18.5M522.7 538.9l10.1-4.7M541.4 531.3l10.3-2.3l29.3-5M584 523.6l29-1M702.1 500.7l3.9-7.7l2.2-3l3-3l6.8-4.1l9-3.3l9-1.7l48-5.5l6-1.1l9-2.6l15-1.6l27-5.9l42-6.1l6-1.5l12-5.9l15-4.4l24-8l9-2l33-5.9l18-3.9l16.4-2.5l13.9-3l14.7-3.6l27-8.6l9-2.3l9-1.3l9-.1l12 2.5l15 5.2h3l3-.8l9-4.1l24-14.8l9-5.1l9-3.6l9-2.3l12-1.4l6 .3l18 2.2l12 .1l12-.6l6-.8l6-1.5l33-10.8l6-.6l30 .3l6-.6l6-1.6l3-1.6l12-9.6l6-2.8l3-.5l6 .8l3.3 1.6l3.5 3l6 8.4M712.7 500.7l2.3-2.8l6-4.4l6-2.8l6-1.8l24-3.9l33-4.1l12-2.5l12-1.8l24-5.3l46.4-6.4M896.4 462.6l4.6-1.7l12-5.8l21-7l12-3.2l30-6.5l24-6.7l21-1.3l18-2.4l12-2.4l27-6.9l12-2h6l3 .7l3 1.2l6.9 4.8M1181.2 409.2l5.1-2.1M949.5 455l7.8-2M979 447.3l20.9-6.4" fill="none" stroke="#101018" stroke-width="0.9" stroke-opacity="0.75" stroke-linejoin="round" mask="url(#lma)"/></g>
</g>
<g font-size="33" fill="#26262e" text-anchor="middle">
<text x="390" y="374.71" textLength="18.35" lengthAdjust="spacingAndGlyphs" transform="rotate(-52 390 363)">0</text>
<text x="680" y="372.71" textLength="66.03" lengthAdjust="spacingAndGlyphs" transform="rotate(-12 680 361)">-200</text>
<text x="585" y="424.21" textLength="66.03" lengthAdjust="spacingAndGlyphs" transform="rotate(6 585 412.5)">-100</text>
<text x="800" y="415.71" textLength="18.35" lengthAdjust="spacingAndGlyphs" transform="rotate(4 800 404)">0</text>
<text x="278" y="502.71" textLength="18.35" lengthAdjust="spacingAndGlyphs" transform="rotate(-52 278 491)">0</text>
<text x="432" y="511.21" textLength="55.04" lengthAdjust="spacingAndGlyphs" transform="rotate(-16 432 499.5)">100</text>
<text x="527" y="506.71" textLength="55.04" lengthAdjust="spacingAndGlyphs" transform="rotate(-16 527 495)">200</text>
<text x="623" y="519.72" textLength="55.04" lengthAdjust="spacingAndGlyphs" transform="rotate(-5 623 508)">300</text>
<text x="922" y="460.71" textLength="55.04" lengthAdjust="spacingAndGlyphs" transform="rotate(-16 922 449)">400</text>
<text x="1287.5" y="244.22" textLength="66.03" lengthAdjust="spacingAndGlyphs" transform="rotate(-8 1287.5 232.5)">-200</text>
<text x="1155" y="287.71" textLength="66.03" lengthAdjust="spacingAndGlyphs" transform="rotate(-20 1155 276)">-100</text>
<text x="1331" y="276.71" textLength="18.35" lengthAdjust="spacingAndGlyphs" transform="rotate(-8 1331 265)">0</text>
<text x="1007.5" y="386.71" textLength="55.04" lengthAdjust="spacingAndGlyphs" transform="rotate(-30 1007.5 375)">100</text>
<text x="1097.5" y="372.71" textLength="55.04" lengthAdjust="spacingAndGlyphs" transform="rotate(-22 1097.5 361)">200</text>
<text x="1185" y="369.21" textLength="55.04" lengthAdjust="spacingAndGlyphs" transform="rotate(-28 1185 357.5)">300</text>
</g>
<clipPath id="bca"><path d="M801.36 226.27C805.88 225.85 815.48 227.12 821.69 227.97C827.91 228.81 832.99 230.51 838.64 231.36C844.29 232.2 849.94 232.49 855.59 233.05C861.24 233.62 866.89 234.18 872.54 234.75C878.19 235.31 884.97 234.89 889.49 236.44C894.01 237.99 896.84 241.1 899.66 244.07C902.49 247.03 905.03 250.28 906.44 254.24C907.85 258.19 907.29 263.28 908.14 267.8C908.98 272.32 910.11 277.4 911.53 281.36C912.94 285.31 914.63 287.85 916.61 291.53C918.59 295.2 920.56 300 923.39 303.39C926.21 306.78 930.45 308.76 933.56 311.86C936.67 314.97 939.77 318.64 942.03 322.03C944.29 325.42 945.42 328.25 947.12 332.2C948.81 336.16 950.79 341.53 952.2 345.76C953.62 350 955.17 353.67 955.59 357.63C956.02 361.58 955.88 365.82 954.75 369.49C953.62 373.16 951.5 376.27 948.81 379.66C946.13 383.05 941.75 386.72 938.64 389.83C935.54 392.94 932.01 395.76 930.17 398.31C928.33 400.85 925.93 403.11 927.63 405.08C929.32 407.06 935.96 408.47 940.34 410.17C944.72 411.86 950.23 412.99 953.9 415.25C957.57 417.51 960.4 420.06 962.37 423.73C964.35 427.4 965.48 433.05 965.76 437.29C966.05 441.53 965.48 445.76 964.07 449.15C962.66 452.54 960.4 455.37 957.29 457.63C954.18 459.89 949.66 461.72 945.42 462.71C941.19 463.7 936.1 463.84 931.86 463.56C927.63 463.28 923.67 463.14 920 461.02C916.33 458.9 912.51 454.24 909.83 450.85C907.15 447.46 905.59 444.63 903.9 440.68C902.2 436.72 900.79 431.36 899.66 427.12C898.53 422.88 896.84 419.21 897.12 415.25C897.4 411.3 899.52 406.78 901.36 403.39C903.19 400 907.85 397.74 908.14 394.92C908.42 392.09 904.75 389.55 903.05 386.44C901.36 383.33 899.1 380.23 897.97 376.27C896.84 372.32 896.55 367.23 896.27 362.71C895.99 358.19 896.55 353.67 896.27 349.15C895.99 344.63 895.42 339.55 894.58 335.59C893.73 331.64 893.16 327.68 891.19 325.42C889.21 323.16 885.82 322.32 882.71 322.03C879.6 321.75 876.5 322.32 872.54 323.73C868.59 325.14 863.22 328.25 858.98 330.51C854.75 332.77 851.07 335.59 847.12 337.29C843.16 338.98 839.49 339.97 835.25 340.68C831.02 341.38 826.21 341.24 821.69 341.53C817.18 341.81 812.37 342.8 808.14 342.37C803.9 341.95 800.23 340.4 796.27 338.98C792.32 337.57 788.08 335.59 784.41 333.9C780.73 332.2 776.78 330.79 774.24 328.81C771.69 326.84 770.14 324.01 769.15 322.03C768.16 320.06 768.02 318.64 768.31 316.95C768.59 315.25 771.27 313.56 770.85 311.86C770.42 310.17 767.32 308.76 765.76 306.78C764.21 304.8 762.09 302.26 761.53 300C760.96 297.74 761.1 295.76 762.37 293.22C763.64 290.68 767.46 287.85 769.15 284.75C770.85 281.64 771.98 277.97 772.54 274.58C773.11 271.19 772.82 267.8 772.54 264.41C772.26 261.02 770.28 257.06 770.85 254.24C771.41 251.41 773.11 250 775.93 247.46C778.76 244.92 784.69 241.81 787.8 238.98C790.9 236.16 792.32 232.63 794.58 230.51C796.84 228.39 796.84 226.69 801.36 226.27Z"/></clipPath>
<g clip-path="url(#bca)">
<path d="M801.36 226.27C805.88 225.85 815.48 227.12 821.69 227.97C827.91 228.81 832.99 230.51 838.64 231.36C844.29 232.2 849.94 232.49 855.59 233.05C861.24 233.62 866.89 234.18 872.54 234.75C878.19 235.31 884.97 234.89 889.49 236.44C894.01 237.99 896.84 241.1 899.66 244.07C902.49 247.03 905.03 250.28 906.44 254.24C907.85 258.19 907.29 263.28 908.14 267.8C908.98 272.32 910.11 277.4 911.53 281.36C912.94 285.31 914.63 287.85 916.61 291.53C918.59 295.2 920.56 300 923.39 303.39C926.21 306.78 930.45 308.76 933.56 311.86C936.67 314.97 939.77 318.64 942.03 322.03C944.29 325.42 945.42 328.25 947.12 332.2C948.81 336.16 950.79 341.53 952.2 345.76C953.62 350 955.17 353.67 955.59 357.63C956.02 361.58 955.88 365.82 954.75 369.49C953.62 373.16 951.5 376.27 948.81 379.66C946.13 383.05 941.75 386.72 938.64 389.83C935.54 392.94 932.01 395.76 930.17 398.31C928.33 400.85 925.93 403.11 927.63 405.08C929.32 407.06 935.96 408.47 940.34 410.17C944.72 411.86 950.23 412.99 953.9 415.25C957.57 417.51 960.4 420.06 962.37 423.73C964.35 427.4 965.48 433.05 965.76 437.29C966.05 441.53 965.48 445.76 964.07 449.15C962.66 452.54 960.4 455.37 957.29 457.63C954.18 459.89 949.66 461.72 945.42 462.71C941.19 463.7 936.1 463.84 931.86 463.56C927.63 463.28 923.67 463.14 920 461.02C916.33 458.9 912.51 454.24 909.83 450.85C907.15 447.46 905.59 444.63 903.9 440.68C902.2 436.72 900.79 431.36 899.66 427.12C898.53 422.88 896.84 419.21 897.12 415.25C897.4 411.3 899.52 406.78 901.36 403.39C903.19 400 907.85 397.74 908.14 394.92C908.42 392.09 904.75 389.55 903.05 386.44C901.36 383.33 899.1 380.23 897.97 376.27C896.84 372.32 896.55 367.23 896.27 362.71C895.99 358.19 896.55 353.67 896.27 349.15C895.99 344.63 895.42 339.55 894.58 335.59C893.73 331.64 893.16 327.68 891.19 325.42C889.21 323.16 885.82 322.32 882.71 322.03C879.6 321.75 876.5 322.32 872.54 323.73C868.59 325.14 863.22 328.25 858.98 330.51C854.75 332.77 851.07 335.59 847.12 337.29C843.16 338.98 839.49 339.97 835.25 340.68C831.02 341.38 826.21 341.24 821.69 341.53C817.18 341.81 812.37 342.8 808.14 342.37C803.9 341.95 800.23 340.4 796.27 338.98C792.32 337.57 788.08 335.59 784.41 333.9C780.73 332.2 776.78 330.79 774.24 328.81C771.69 326.84 770.14 324.01 769.15 322.03C768.16 320.06 768.02 318.64 768.31 316.95C768.59 315.25 771.27 313.56 770.85 311.86C770.42 310.17 767.32 308.76 765.76 306.78C764.21 304.8 762.09 302.26 761.53 300C760.96 297.74 761.1 295.76 762.37 293.22C763.64 290.68 767.46 287.85 769.15 284.75C770.85 281.64 771.98 277.97 772.54 274.58C773.11 271.19 772.82 267.8 772.54 264.41C772.26 261.02 770.28 257.06 770.85 254.24C771.41 251.41 773.11 250 775.93 247.46C778.76 244.92 784.69 241.81 787.8 238.98C790.9 236.16 792.32 232.63 794.58 230.51C796.84 228.39 796.84 226.69 801.36 226.27Z" fill="#666b66" fill-opacity="0.5"/>
<path d="M801.36 226.27C805.88 225.85 815.48 227.12 821.69 227.97C827.91 228.81 832.99 230.51 838.64 231.36C844.29 232.2 849.94 232.49 855.59 233.05C861.24 233.62 866.89 234.18 872.54 234.75C878.19 235.31 884.97 234.89 889.49 236.44C894.01 237.99 896.84 241.1 899.66 244.07C902.49 247.03 905.03 250.28 906.44 254.24C907.85 258.19 907.29 263.28 908.14 267.8C908.98 272.32 910.11 277.4 911.53 281.36C912.94 285.31 914.63 287.85 916.61 291.53C918.59 295.2 920.56 300 923.39 303.39C926.21 306.78 930.45 308.76 933.56 311.86C936.67 314.97 939.77 318.64 942.03 322.03C944.29 325.42 945.42 328.25 947.12 332.2C948.81 336.16 950.79 341.53 952.2 345.76C953.62 350 955.17 353.67 955.59 357.63C956.02 361.58 955.88 365.82 954.75 369.49C953.62 373.16 951.5 376.27 948.81 379.66C946.13 383.05 941.75 386.72 938.64 389.83C935.54 392.94 932.01 395.76 930.17 398.31C928.33 400.85 925.93 403.11 927.63 405.08C929.32 407.06 935.96 408.47 940.34 410.17C944.72 411.86 950.23 412.99 953.9 415.25C957.57 417.51 960.4 420.06 962.37 423.73C964.35 427.4 965.48 433.05 965.76 437.29C966.05 441.53 965.48 445.76 964.07 449.15C962.66 452.54 960.4 455.37 957.29 457.63C954.18 459.89 949.66 461.72 945.42 462.71C941.19 463.7 936.1 463.84 931.86 463.56C927.63 463.28 923.67 463.14 920 461.02C916.33 458.9 912.51 454.24 909.83 450.85C907.15 447.46 905.59 444.63 903.9 440.68C902.2 436.72 900.79 431.36 899.66 427.12C898.53 422.88 896.84 419.21 897.12 415.25C897.4 411.3 899.52 406.78 901.36 403.39C903.19 400 907.85 397.74 908.14 394.92C908.42 392.09 904.75 389.55 903.05 386.44C901.36 383.33 899.1 380.23 897.97 376.27C896.84 372.32 896.55 367.23 896.27 362.71C895.99 358.19 896.55 353.67 896.27 349.15C895.99 344.63 895.42 339.55 894.58 335.59C893.73 331.64 893.16 327.68 891.19 325.42C889.21 323.16 885.82 322.32 882.71 322.03C879.6 321.75 876.5 322.32 872.54 323.73C868.59 325.14 863.22 328.25 858.98 330.51C854.75 332.77 851.07 335.59 847.12 337.29C843.16 338.98 839.49 339.97 835.25 340.68C831.02 341.38 826.21 341.24 821.69 341.53C817.18 341.81 812.37 342.8 808.14 342.37C803.9 341.95 800.23 340.4 796.27 338.98C792.32 337.57 788.08 335.59 784.41 333.9C780.73 332.2 776.78 330.79 774.24 328.81C771.69 326.84 770.14 324.01 769.15 322.03C768.16 320.06 768.02 318.64 768.31 316.95C768.59 315.25 771.27 313.56 770.85 311.86C770.42 310.17 767.32 308.76 765.76 306.78C764.21 304.8 762.09 302.26 761.53 300C760.96 297.74 761.1 295.76 762.37 293.22C763.64 290.68 767.46 287.85 769.15 284.75C770.85 281.64 771.98 277.97 772.54 274.58C773.11 271.19 772.82 267.8 772.54 264.41C772.26 261.02 770.28 257.06 770.85 254.24C771.41 251.41 773.11 250 775.93 247.46C778.76 244.92 784.69 241.81 787.8 238.98C790.9 236.16 792.32 232.63 794.58 230.51C796.84 228.39 796.84 226.69 801.36 226.27Z" fill="#fff" filter="url(#tex)" opacity="0.42"/>
<path d="M801.36 226.27C805.88 225.85 815.48 227.12 821.69 227.97C827.91 228.81 832.99 230.51 838.64 231.36C844.29 232.2 849.94 232.49 855.59 233.05C861.24 233.62 866.89 234.18 872.54 234.75C878.19 235.31 884.97 234.89 889.49 236.44C894.01 237.99 896.84 241.1 899.66 244.07C902.49 247.03 905.03 250.28 906.44 254.24C907.85 258.19 907.29 263.28 908.14 267.8C908.98 272.32 910.11 277.4 911.53 281.36C912.94 285.31 914.63 287.85 916.61 291.53C918.59 295.2 920.56 300 923.39 303.39C926.21 306.78 930.45 308.76 933.56 311.86C936.67 314.97 939.77 318.64 942.03 322.03C944.29 325.42 945.42 328.25 947.12 332.2C948.81 336.16 950.79 341.53 952.2 345.76C953.62 350 955.17 353.67 955.59 357.63C956.02 361.58 955.88 365.82 954.75 369.49C953.62 373.16 951.5 376.27 948.81 379.66C946.13 383.05 941.75 386.72 938.64 389.83C935.54 392.94 932.01 395.76 930.17 398.31C928.33 400.85 925.93 403.11 927.63 405.08C929.32 407.06 935.96 408.47 940.34 410.17C944.72 411.86 950.23 412.99 953.9 415.25C957.57 417.51 960.4 420.06 962.37 423.73C964.35 427.4 965.48 433.05 965.76 437.29C966.05 441.53 965.48 445.76 964.07 449.15C962.66 452.54 960.4 455.37 957.29 457.63C954.18 459.89 949.66 461.72 945.42 462.71C941.19 463.7 936.1 463.84 931.86 463.56C927.63 463.28 923.67 463.14 920 461.02C916.33 458.9 912.51 454.24 909.83 450.85C907.15 447.46 905.59 444.63 903.9 440.68C902.2 436.72 900.79 431.36 899.66 427.12C898.53 422.88 896.84 419.21 897.12 415.25C897.4 411.3 899.52 406.78 901.36 403.39C903.19 400 907.85 397.74 908.14 394.92C908.42 392.09 904.75 389.55 903.05 386.44C901.36 383.33 899.1 380.23 897.97 376.27C896.84 372.32 896.55 367.23 896.27 362.71C895.99 358.19 896.55 353.67 896.27 349.15C895.99 344.63 895.42 339.55 894.58 335.59C893.73 331.64 893.16 327.68 891.19 325.42C889.21 323.16 885.82 322.32 882.71 322.03C879.6 321.75 876.5 322.32 872.54 323.73C868.59 325.14 863.22 328.25 858.98 330.51C854.75 332.77 851.07 335.59 847.12 337.29C843.16 338.98 839.49 339.97 835.25 340.68C831.02 341.38 826.21 341.24 821.69 341.53C817.18 341.81 812.37 342.8 808.14 342.37C803.9 341.95 800.23 340.4 796.27 338.98C792.32 337.57 788.08 335.59 784.41 333.9C780.73 332.2 776.78 330.79 774.24 328.81C771.69 326.84 770.14 324.01 769.15 322.03C768.16 320.06 768.02 318.64 768.31 316.95C768.59 315.25 771.27 313.56 770.85 311.86C770.42 310.17 767.32 308.76 765.76 306.78C764.21 304.8 762.09 302.26 761.53 300C760.96 297.74 761.1 295.76 762.37 293.22C763.64 290.68 767.46 287.85 769.15 284.75C770.85 281.64 771.98 277.97 772.54 274.58C773.11 271.19 772.82 267.8 772.54 264.41C772.26 261.02 770.28 257.06 770.85 254.24C771.41 251.41 773.11 250 775.93 247.46C778.76 244.92 784.69 241.81 787.8 238.98C790.9 236.16 792.32 232.63 794.58 230.51C796.84 228.39 796.84 226.69 801.36 226.27Z" fill="#000" filter="url(#texd)" opacity="0.30"/>
<path d="M801.36 226.27C805.88 225.85 815.48 227.12 821.69 227.97C827.91 228.81 832.99 230.51 838.64 231.36C844.29 232.2 849.94 232.49 855.59 233.05C861.24 233.62 866.89 234.18 872.54 234.75C878.19 235.31 884.97 234.89 889.49 236.44C894.01 237.99 896.84 241.1 899.66 244.07C902.49 247.03 905.03 250.28 906.44 254.24C907.85 258.19 907.29 263.28 908.14 267.8C908.98 272.32 910.11 277.4 911.53 281.36C912.94 285.31 914.63 287.85 916.61 291.53C918.59 295.2 920.56 300 923.39 303.39C926.21 306.78 930.45 308.76 933.56 311.86C936.67 314.97 939.77 318.64 942.03 322.03C944.29 325.42 945.42 328.25 947.12 332.2C948.81 336.16 950.79 341.53 952.2 345.76C953.62 350 955.17 353.67 955.59 357.63C956.02 361.58 955.88 365.82 954.75 369.49C953.62 373.16 951.5 376.27 948.81 379.66C946.13 383.05 941.75 386.72 938.64 389.83C935.54 392.94 932.01 395.76 930.17 398.31C928.33 400.85 925.93 403.11 927.63 405.08C929.32 407.06 935.96 408.47 940.34 410.17C944.72 411.86 950.23 412.99 953.9 415.25C957.57 417.51 960.4 420.06 962.37 423.73C964.35 427.4 965.48 433.05 965.76 437.29C966.05 441.53 965.48 445.76 964.07 449.15C962.66 452.54 960.4 455.37 957.29 457.63C954.18 459.89 949.66 461.72 945.42 462.71C941.19 463.7 936.1 463.84 931.86 463.56C927.63 463.28 923.67 463.14 920 461.02C916.33 458.9 912.51 454.24 909.83 450.85C907.15 447.46 905.59 444.63 903.9 440.68C902.2 436.72 900.79 431.36 899.66 427.12C898.53 422.88 896.84 419.21 897.12 415.25C897.4 411.3 899.52 406.78 901.36 403.39C903.19 400 907.85 397.74 908.14 394.92C908.42 392.09 904.75 389.55 903.05 386.44C901.36 383.33 899.1 380.23 897.97 376.27C896.84 372.32 896.55 367.23 896.27 362.71C895.99 358.19 896.55 353.67 896.27 349.15C895.99 344.63 895.42 339.55 894.58 335.59C893.73 331.64 893.16 327.68 891.19 325.42C889.21 323.16 885.82 322.32 882.71 322.03C879.6 321.75 876.5 322.32 872.54 323.73C868.59 325.14 863.22 328.25 858.98 330.51C854.75 332.77 851.07 335.59 847.12 337.29C843.16 338.98 839.49 339.97 835.25 340.68C831.02 341.38 826.21 341.24 821.69 341.53C817.18 341.81 812.37 342.8 808.14 342.37C803.9 341.95 800.23 340.4 796.27 338.98C792.32 337.57 788.08 335.59 784.41 333.9C780.73 332.2 776.78 330.79 774.24 328.81C771.69 326.84 770.14 324.01 769.15 322.03C768.16 320.06 768.02 318.64 768.31 316.95C768.59 315.25 771.27 313.56 770.85 311.86C770.42 310.17 767.32 308.76 765.76 306.78C764.21 304.8 762.09 302.26 761.53 300C760.96 297.74 761.1 295.76 762.37 293.22C763.64 290.68 767.46 287.85 769.15 284.75C770.85 281.64 771.98 277.97 772.54 274.58C773.11 271.19 772.82 267.8 772.54 264.41C772.26 261.02 770.28 257.06 770.85 254.24C771.41 251.41 773.11 250 775.93 247.46C778.76 244.92 784.69 241.81 787.8 238.98C790.9 236.16 792.32 232.63 794.58 230.51C796.84 228.39 796.84 226.69 801.36 226.27Z" fill="none" stroke="#23302a" stroke-opacity="0.5" stroke-width="9" filter="url(#glow)"/>
</g>
<path d="M801.36 226.27C805.88 225.85 815.48 227.12 821.69 227.97C827.91 228.81 832.99 230.51 838.64 231.36C844.29 232.2 849.94 232.49 855.59 233.05C861.24 233.62 866.89 234.18 872.54 234.75C878.19 235.31 884.97 234.89 889.49 236.44C894.01 237.99 896.84 241.1 899.66 244.07C902.49 247.03 905.03 250.28 906.44 254.24C907.85 258.19 907.29 263.28 908.14 267.8C908.98 272.32 910.11 277.4 911.53 281.36C912.94 285.31 914.63 287.85 916.61 291.53C918.59 295.2 920.56 300 923.39 303.39C926.21 306.78 930.45 308.76 933.56 311.86C936.67 314.97 939.77 318.64 942.03 322.03C944.29 325.42 945.42 328.25 947.12 332.2C948.81 336.16 950.79 341.53 952.2 345.76C953.62 350 955.17 353.67 955.59 357.63C956.02 361.58 955.88 365.82 954.75 369.49C953.62 373.16 951.5 376.27 948.81 379.66C946.13 383.05 941.75 386.72 938.64 389.83C935.54 392.94 932.01 395.76 930.17 398.31C928.33 400.85 925.93 403.11 927.63 405.08C929.32 407.06 935.96 408.47 940.34 410.17C944.72 411.86 950.23 412.99 953.9 415.25C957.57 417.51 960.4 420.06 962.37 423.73C964.35 427.4 965.48 433.05 965.76 437.29C966.05 441.53 965.48 445.76 964.07 449.15C962.66 452.54 960.4 455.37 957.29 457.63C954.18 459.89 949.66 461.72 945.42 462.71C941.19 463.7 936.1 463.84 931.86 463.56C927.63 463.28 923.67 463.14 920 461.02C916.33 458.9 912.51 454.24 909.83 450.85C907.15 447.46 905.59 444.63 903.9 440.68C902.2 436.72 900.79 431.36 899.66 427.12C898.53 422.88 896.84 419.21 897.12 415.25C897.4 411.3 899.52 406.78 901.36 403.39C903.19 400 907.85 397.74 908.14 394.92C908.42 392.09 904.75 389.55 903.05 386.44C901.36 383.33 899.1 380.23 897.97 376.27C896.84 372.32 896.55 367.23 896.27 362.71C895.99 358.19 896.55 353.67 896.27 349.15C895.99 344.63 895.42 339.55 894.58 335.59C893.73 331.64 893.16 327.68 891.19 325.42C889.21 323.16 885.82 322.32 882.71 322.03C879.6 321.75 876.5 322.32 872.54 323.73C868.59 325.14 863.22 328.25 858.98 330.51C854.75 332.77 851.07 335.59 847.12 337.29C843.16 338.98 839.49 339.97 835.25 340.68C831.02 341.38 826.21 341.24 821.69 341.53C817.18 341.81 812.37 342.8 808.14 342.37C803.9 341.95 800.23 340.4 796.27 338.98C792.32 337.57 788.08 335.59 784.41 333.9C780.73 332.2 776.78 330.79 774.24 328.81C771.69 326.84 770.14 324.01 769.15 322.03C768.16 320.06 768.02 318.64 768.31 316.95C768.59 315.25 771.27 313.56 770.85 311.86C770.42 310.17 767.32 308.76 765.76 306.78C764.21 304.8 762.09 302.26 761.53 300C760.96 297.74 761.1 295.76 762.37 293.22C763.64 290.68 767.46 287.85 769.15 284.75C770.85 281.64 771.98 277.97 772.54 274.58C773.11 271.19 772.82 267.8 772.54 264.41C772.26 261.02 770.28 257.06 770.85 254.24C771.41 251.41 773.11 250 775.93 247.46C778.76 244.92 784.69 241.81 787.8 238.98C790.9 236.16 792.32 232.63 794.58 230.51C796.84 228.39 796.84 226.69 801.36 226.27Z" fill="none" stroke="#4c5650" stroke-opacity="0.5" stroke-width="1"/>
<g transform="matrix(1.00110 0 0 0.99450 -1.840 898.425)">
<g clip-path="url(#cs)" filter="url(#soft)">
<path d="M230 370h-30.2l-.6 .3l-7.3 7.3h-22.5l-.6 .3l-.4 .7v45.9l.3 .7l7.3 7.3l.1 22.9l7.5 7.6l.1 30.3l7.6 7.9v30.3l7.6 7.8v22.7l7.6 7.8l.2 15.4l8.3 8.1h38.4l.6-.3l7.4-7.3h30.2l.6-.3l7.3-7.4h30.3l7.9-7.6h37.9l7.9-7.6h30.2l.6-.3l7.3-7.3l30.3-.1l7.9-7.6h30.2l.6-.3l7.3-7.3h30.4l7.8-7.6h37.9l7.8-7.7h30.2l.7-.3l7.3-7.3h30.4l7.7-7.6h30.3l7.9-7.7h30.3l7.8-7.6h30.3l7.9-7.6h30.3l7.8-7.6l30.3-.1l7.9-7.6h30.3l7.8-7.6h30.3l7.9-7.6h30.3l7.8-7.7h30.3l7.9-7.6h30.2l.6-.3l7.3-7.3l30.4-.1l7.8-7.6h30.3l7.8-7.6h30.4l7.8-7.6h30.3l7.8-7.6l22.9-.1l7.7-7.6h30.3l7.8-7.6h30.3l7.9-7.6h30.3l7.8-7.7h30.3l7.9-7.6h30.3l7.8-7.6h30.3l7.9-7.6l30.3-.1l7.8-7.6h30.3l7.9-7.6h22.6l7.9-7.6h22.6l.6-.3l7.3-7.4h22.8l15.9-16v-84.3l-.3-.6l-7.3-7.3l-.1-15.3l-7.5-7.6l-.1-15.2l-7.5-7.7l-.1-15.2l-7.6-7.7l-.1-22.9l-7.5-7.6l-.2-7.8l-7.7-7.8l-.7-.3h-7.8l-.6 .3l-7.3 7.4h-30.4l-7.8 7.6h-30.4l-7.7 7.6h-30.3l-7.9 7.7h-30.3l-7.8 7.6h-30.3l-7.9 7.6h-30.3l-7.8 7.6l-30.3 .1l-7.9 7.6h-30.3l-7.8 7.6h-30.3l-7.9 7.6l-37.9 .1l-7.9 7.6h-30.4l-7.7 7.6h-30.2l-.6 .3l-7.4 7.3h-30.3l-7.8 7.7h-30.3l-7.9 7.6h-30.3l-7.8 7.6l-30.4 .1l-7.8 7.5l-30.3 .1l-7.8 7.6h-30.2l-.6 .3l-7.4 7.3l-30.4 .1l-7.7 7.5l-30.3 .1l-7.9 7.6h-30.3l-7.8 7.6h-30.3l-7.9 7.6h-30.2l-.6 .3l-7.3 7.4h-30.4l-7.8 7.6h-30.2l-.6 .3l-7.3 7.3h-30.3l-7.9 7.6l-30.2 .1l-.6 .2l-7.3 7.4h-30.4l-7.8 7.6h-30.3l-7.8 7.6l-30.3 .1l-7.9 7.6h-30.3l-7.8 7.6h-30.4l-7.8 7.6h-30.3l-7.8 7.7h-22.9l-7.6 7.6h-30.4z" fill="#000004"/>
<path d="M1631.3 283l-4.2-6l-2.4-6l-1.8-12l1.9-9l2.2-3l4.6-2.8l-.1-27.3l-30.8-99.9l-7.6-15.3l-8.6-8.9l-11.2-1.5l-390.1 76.4l-877.5 175.5l-137.5 30.6l-2.8 1.8l-1 3l.1 46.9l22.9 107l7.7 30.5l7.7 23.3l8.8 9.5l3.6 1.5l39.1-.1l320.5-61l610.4-122.1l335.7-68.7l91.8-22.9l17.6-16.6l1.4-3.5z" fill="#00000c"/>
<path d="M1631.1 289l-5.5-6l-4.9-9l-2.8-9l-1.7-12l.9-6l1.7-3l5.2-3.9l7.6-2.2l-.1-21l-30.8-99.9l-7.6-15.3l-8.6-8.9l-11.2-1.5l-390.1 76.4l-877.5 175.5l-137.5 30.6l-2.8 1.8l-1 3l.1 46.9l22.9 107l7.7 30.5l7.7 23.3l8.8 9.5l3.6 1.5l39.1-.1l320.5-61l610.4-122.1l335.7-68.7l91.8-22.9l17.6-16.6l1.4-3.5z" fill="#000014"/>
<path d="M1631.7 294.1l-8.4-8.1l-5.4-9l-6.6-18l-1.9-12l2.3-6l3.3-3.2l6.2-2.8l10.4-1.8l-.1-16.3l-30.8-99.9l-7.6-15.3l-8.6-8.9l-11.2-1.5l-390.1 76.4l-877.5 175.5l-137.5 30.6l-2.8 1.8l-1 3l.1 46.9l22.9 107l7.7 30.5l7.7 23.3l8.8 9.5l3.6 1.5l39.1-.1l320.5-61l610.4-122.1l335.7-68.7l91.8-22.9l17.6-16.6l1.4-3.5z" fill="#00001c"/>
<path d="M1349.5 135.2l-7.5 3.6l-11.4 .1l-147.4 28.8l-877.5 175.5l-137.5 30.6l-2.8 1.8l-1 3l.1 46.9l22.9 107l7.7 30.5l7.7 23.3l8.8 9.5l3.6 1.5l39.1-.1l320.5-61l610.4-122.1l335.7-68.7l91.8-22.9l17.6-16.6l1.4-3.5v-4.4l-7.7-6.5l-6.5-8.5l-12.8-27l-2-9l1.5-6l5-6l8.8-3.8l13.6-1.9l-.1-12.4l-30.8-99.9l-7.6-15.3l-8.6-8.9l-11.2-1.5zM1201 314.8l6.8 1.2l1 3l-2.2 3l-5.6 2h-3l-5.3-2v-3l3.8-3z" fill="#000024"/>
<path d="M1354.9 134.1l-6.9 6l-6 1.8h-9l-9.6-1.6l-140.2 27.4l-877.5 175.5l-137.5 30.6l-2.8 1.8l-1 3l.1 46.9l22.9 107l7.7 30.5l7.7 23.3l8.8 9.5l3.6 1.5l39.1-.1l320.5-61l610.4-122.1l335.7-68.7l91.8-22.9l17.6-16.6l1.4-4.3l-8-6.6l-7.5-9l-16.9-30l-2.3-6v-4.4l1.3-4.6l4.7-6.7l9-5.5l9-2l10.5-.9v-9l-30.8-99.9l-7.6-15.3l-8.6-8.9l-11.2-1.5zM1201 312l6-.1l3.9 1.1l2.9 3l.1 3l-1.8 3l-4.1 3l-7 2h-6l-6.5-2l-2.4-3l.9-3l5-3.9z" fill="#00002c"/>
<path d="M1358.6 133.4l-7.6 8.5l-6 2.1l-12 .3l-14.8-3l-1012.5 201.9l-137.5 30.6l-2.8 1.8l-1 3l.1 46.9l22.9 107l7.7 30.5l7.7 23.3l8.8 9.5l3.6 1.5l39.1-.1l320.5-61l610.4-122.1l335.7-68.7l91.8-22.9l17.6-16.6l.6-1.6l-9.9-8.6l-6-7.1l-12-20.3l-8.9-12.3l-2.5-6l-.2-3l1.7-6l6.9-9l6-4.2l6-2.3l19.5-2.6v-6l-30.8-99.9l-7.6-15.3l-8.6-8.9l-11.2-1.5zM1204 309.6l6.5 .4l5.8 3l1.6 3l-.1 3l-1.6 3l-3.3 3l-6.3 3l-8.6 1.3l-9-.9l-6.5-3.4l-1.1-3l1.2-3l3.2-3l9.2-4.4z" fill="#000034"/>
<path d="M1361.6 133l-6.1 9l-4.5 2.9l-6 1.6l-15-.3l-16.4-4l-1007.9 201l-137.5 30.6l-2.8 1.8l-1 3l.1 46.9l22.9 107l7.7 30.5l7.7 23.3l8.8 9.5l3.6 1.5l39.1-.1l320.5-61l610.4-122.1l335.7-68.7l91.8-22.9l16.9-16l-14.6-14.2l-13.5-21.3l-12.9-15l-2.7-6v-3l2.3-6l4.2-6l7.6-7l6-3.4l6-2.1l19.5-2.3v-3.3l-30.8-99.9l-7.6-15.3l-8.6-8.9l-11.2-1.5zM1198 309l9-1.3l9.8 2.3l3.5 3l1.2 3l-.2 3l-1.5 3l-7.7 6l-8.1 2.6l-6 .7l-12-1.3l-5-2l-3.3-3l-.6-3l1.5-3l3.4-3l5-3z" fill="#00003c"/>
<path d="M1627.9 308.1l-13.4-13.1l-17.5-25.7l-14.4-13.3l-2-3l-.3-6l3-6l7.6-9l7.2-6l5.1-3l8.6-3l19.7-2.4v-.7l-30.8-99.9l-7.6-15.3l-8.6-8.9l-11.2-1.5l-208.8 40.9l-4.5 8.7l-3 3.4l-9 4l-9 .7l-9-.7l-20.6-5.3l-1003.7 200.2l-137.5 30.6l-2.8 1.8l-1 3l.1 46.9l22.9 107l7.7 30.5l7.7 23.3l8.8 9.5l3.6 1.5l39.1-.1l320.5-61l610.4-122.1l335.7-68.7l91.8-22.9zM1207 306.2l9 1.2l5.1 2.6l2.7 3l1 3l-1.7 6l-6.7 6l-9.4 3.7l-15 1.2l-12-2.6l-4.1-2.3l-2.4-3l-.2-3l1.8-3l8.3-6l14.6-5.5z" fill="#000044"/>
<path d="M1626.3 309.6l-14.2-14.6l-15.1-22.2l-6-5.7l-15.5-11.1l-1.8-3l.6-6l4-6l8.4-9l10.3-8.2l7.4-3.8l7.6-2.3l19-2.5l-30.3-98.2l-7.6-15.3l-8.6-8.9l-11.2-1.5l-206.2 40.4l-4.1 8.8l-3.1 4.5l-4.1 3l-7.8 2.4l-9 .6l-12-1.2l-21.6-6l-999.7 199.4l-137.5 30.6l-2.8 1.8l-1 3l.1 46.9l22.9 107l7.7 30.5l7.7 23.3l8.8 9.5l3.6 1.5l39.1-.1l320.5-61l610.4-122.1l335.7-68.7l91.8-22.9zM1201 305.6l12-.5l9 3l5.1 4.9l.8 3l-1.6 6l-4.3 4.5l-6 3.8l-6 2.2l-9 1.8l-15.3-.3l-8.7-2.6l-5.3-3.4l-1.8-3l.1-3l1.8-3l3.5-3l11.2-6z" fill="#00004c"/>
<path d="M1369.5 131.3l-4.9 10.7l-4.5 6l-9.1 3.7l-12 1.1l-12-1l-9-1.9l-16.5-5.3l-995.8 198.6l-137.5 30.6l-2.8 1.8l-1 3l.1 46.9l22.9 107l7.7 30.5l7.7 23.3l8.8 9.5l3.6 1.5l39.1-.1l320.5-61l610.4-122.1l335.7-68.7l91.8-22.9l12.1-11.4l-12.8-13.3l-12-18l-6-7.1l-9-6.5l-14.2-7.2l-3.4-3l-1.3-3l.4-3l3.9-6l12.3-12l11.3-9l6-3.4l9-3.4l21.3-3.2l-29.6-96l-7.6-15.3l-8.6-8.9l-11.2-1.5zM1207 303.5l8.5 .5l6.5 2l6 3.9l2.1 3.1l.8 3l-1.6 6l-7.3 7l-12 5.2l-18 2l-13.8-2.2l-6.8-3l-3.4-3l-1.3-3l.4-3l5.2-6l11-6l7.8-3z" fill="#000054"/>
<path d="M1371.8 130.8l-8.5 17.2l-3.6 3l-5.7 2l-12 1.4l-15-.8l-12-2.5l-17.3-5.8l-992 197.9l-137.5 30.6l-2.8 1.8l-1 3l.1 46.9l22.9 107l7.7 30.5l7.7 23.3l8.8 9.5l3.6 1.5l39.1-.1l320.5-61l610.4-122.1l335.7-68.7l91.8-22.9l10.7-10.1l-11.4-11.9l-18-25.1l-9-6.5l-17.5-6.9l-5.3-3l-2.9-3l-.9-3l.8-3l5.1-6l21.7-18l8.9-6l14.1-5.8l20.6-3.4l-28.9-93.8l-7.6-15.3l-8.6-8.9l-11.2-1.5zM1201 303.3l9-1l6 .5l6 1.5l5.8 2.7l5.2 6l.7 3l-1.4 6l-5.5 6l-7.8 4.6l-9 3.1l-9 1.5l-12 .4l-9-1.3l-9-3.2l-6.2-5.1l-.9-3l.5-3l5.3-6l16.3-8.3z" fill="#00005c"/>
<path d="M1622 313.7l-11.6-12.7l-13.4-19.6l-6-6.2l-9-5.3l-23.5-7.9l-5.1-3l-2.8-3l-.6-3l4.3-6l36.6-27l15.1-6.9l23-4.3l-28.3-91.8l-7.6-15.3l-8.6-8.9l-11.2-1.5l-199.3 39.1l-8 17.6l-6 5.1l-6 1.7l-15 1.3l-15-1.1l-9-2l-21.2-6.9l-988.1 197.1l-137.5 30.6l-2.8 1.8l-1 3l.1 46.9l22.9 107l7.7 30.5l7.7 23.3l8.8 9.5l3.6 1.5l39.1-.1l320.5-61l610.4-122.1l335.7-68.7l91.8-22.9zM1198 302.9l15-1.7l9 1.6l6 2.4l6 4.8l1.8 3l.7 3l-1.3 6l-5.2 6l-8 5l-9 3.4l-9 1.7l-12 1l-12-1.2l-9-2.8l-6.7-4.1l-2.3-3l-.7-3l.8-3l5.2-6l10.5-6z" fill="#000064"/>
<path d="M1620.6 315l-11.6-13.2l-12.7-18.8l-8.3-7.8l-9-4.1l-22.7-6.1l-8.1-3l-5.5-3l-2.5-3l.2-3l6.4-6l45.4-30l14.4-6l21.8-4.1l-27.7-89.9l-7.6-15.3l-8.6-8.9l-11.2-1.5l-197 38.6l-10.1 21.1l-3.6 3l-5.6 2l-15 1.6l-18-.9l-9-1.8l-25.1-8.1l-984.2 196.4l-137.5 30.6l-2.8 1.8l-1 3l.1 46.9l22.9 107l7.7 30.5l7.7 23.3l8.8 9.5l3.6 1.5l39.1-.1l320.5-61l610.4-122.1l335.7-68.7l91.8-22.9zM1207 300.3l9 .1l6 1.1l7.4 2.5l4.6 3l2.8 3l2.6 6l-.1 3l-3.1 6l-7 6l-10.2 5l-9 2.5l-12 1.6l-12 .2l-9-1.5l-9-3.1l-6.7-4.7l-1.8-3l-.5-3l.9-3l2.1-3l6-5l7.3-4l13.7-5.5z" fill="#00006c"/>
<path d="M1619.1 316l-10.1-11.8l-14.6-21.2l-6.4-5.8l-12-5l-33-7.6l-6-2.7l-3.2-2.9l-1.3-3l.2-3l4.3-4.6l27-15.3l27-17.5l15-6.2l21.8-4.4l-27.1-88l-7.6-15.3l-8.6-8.9l-11.2-1.5l-194.7 38.2l-10 21.5l-5.6 4.9l-6 1.8l-18 1.4l-18-1.1l-34.9-10.4l-980.4 195.6l-137.5 30.6l-2.8 1.8l-1 3l.1 46.9l22.9 107l7.7 30.5l7.7 23.3l8.8 9.5l3.6 1.5l39.1-.1l320.5-61l610.4-122.1l335.7-68.7l91.8-22.9zM1201 300.3l15-1l9.3 1.7l7.4 3l4.1 3l4.5 6l.9 6l-1 3l-4.7 6l-11.5 7.2l-12 4.1l-12 1.8l-12 .7l-13.5-1.8l-10.5-3.8l-6.4-5.2l-1.4-3l-.2-3l1-3l7-7.3l14.6-7.7z" fill="#000074"/>
<path d="M1617.9 317.5l-11.9-15l-10.9-16.5l-7.1-6.9l-6-3.1l-9-2.6l-33-5.8l-5.8-2.6l-3.2-2.7l-3.1-6.3l.1-3l1.6-3l3.1-3l31.3-16.6l26.1-16.4l15.9-6.4l21.3-4.4l-26.6-86.2l-7.6-15.3l-8.6-8.9l-11.2-1.5l-192.4 37.7l-11.9 24.5l-4.1 3.5l-4.9 1.8l-21 1.8l-18-.9l-38.6-11.4l-976.7 194.9l-137.5 30.6l-2.8 1.8l-1 3l.1 46.9l22.9 107l7.7 30.5l7.7 23.3l8.8 9.5l3.6 1.5l39.1-.1l320.5-61l610.4-122.1l335.7-68.7l91.8-22.9zM1198 300.1l15-2l9 1l9 2.5l4.8 2.4l6.5 6l2.8 6l-.8 6l-4.6 6l-11.7 7.5l-12 4.5l-15 2.4l-15 .6l-12-1.8l-11.2-4.2l-6.6-6l-1.1-3l1-6l2.2-3l6.7-5.7l12.3-6.3z" fill="#00007c"/>
<path d="M1616.7 318.7l-10.7-14l-10.2-15.7l-7.8-8.1l-6-3.2l-9-2.5l-27-3.1l-9-1.9l-7.8-5.2l-2.3-3l-1.9-5.1v-3.9l1.2-3l4.8-4.9l33-17.2l22.4-13.9l19.6-8.1l20.8-4.4l-26.1-84.5l-7.6-15.3l-8.6-8.9l-11.2-1.5l-189.9 37.2l-4.5 7.5l-8.2 18l-4.7 4.3l-6 2.1l-21 1.6l-18-.7l-9-2l-33-10.3l-973.3 194.2l-137.5 30.6l-2.8 1.8l-1 3l.1 46.9l22.9 107l7.7 30.5l7.7 23.3l8.8 9.5l3.6 1.5l39.1-.1l320.5-61l610.4-122.1l335.7-68.7l91.8-22.9zM1009 360.2l7.2 .8l-.2 3l-4.8 3l-5.2 1.5l-3 .3l-3-1l-.6-.8l1.2-3l4.6-3zM1210 297.4l15 1.2l8 2.4l5.6 3l6.5 6l2.9 6l-.7 6l-1.8 3l-8.5 7.6l-12 5.9l-12 3.5l-18 2.2l-12-.2l-15-3l-8.5-4l-5.5-6l-.9-3l1.4-6l5.2-6l5.3-3.9l10-5.1l14-5.2l12-3.2z" fill="#000084"/>
<path d="M1615.4 319.9l-21.1-30.9l-6.3-6.4l-6-3.3l-9-2.3l-30-2.2l-6-1.2l-5.5-2.6l-3.5-2.8l-3-4l-2.1-5.2l-.3-6l1-3l1.8-3l5.6-4.5l30-15.4l30-17.3l15-5.6l20.2-4.4l-25.5-82.8l-7.6-15.3l-8.6-8.9l-11.2-1.5l-187.3 36.7l-5.2 8l-8.8 18.9l-5.7 5.1l-6.3 2l-21 1.4l-18-.5l-12-2.7l-33.5-10.5l-969.8 193.5l-137.5 30.6l-2.8 1.8l-1 3l.1 46.9l22.9 107l7.7 30.5l7.7 23.3l8.8 9.5l3.6 1.5l39.1-.1l320.5-61l610.4-122.1l335.7-68.7l91.8-22.9zM958 372.3l11 .7l3.6 3l-1.2 3l-7.4 2.1l-9-.1l-7.8-2l-.3-3l6.1-3zM1000 358.2l12-3l6 .2l7 2.6l1.9 3l-1 3l-3.4 3l-14.6 6l-10.9 2.1l-3-.3l-3-1.7l-.8-3.1l2.2-6zM1204 297.2l9-.8l12 1.1l9 2.5l7.4 4l3.7 3l4.7 6l1.3 6l-2.4 6l-8.7 8l-12 5.9l-12 3.9l-18 2.4l-12 .4l-15-2.2l-9.8-3.4l-7.6-6l-1.7-3l-.3-6l3.5-6l6.8-6l6.1-3.7l12.1-5.3z" fill="#00008c"/>
<path d="M1614.1 321.2l-20.1-30.7l-7.9-7.5l-4.1-2.1l-9-2.3l-30-.7l-9-1.9l-6-3.8l-3-3.3l-3-5.3l-1.3-4.6l-.1-6l1.4-4.1l3.7-4.9l5.3-3.8l27-13.8l32.9-18.4l15.1-5.5l19.7-4.4l-25-81.1l-7.6-15.3l-8.6-8.9l-11.2-1.5l-184.4 36.2l-6.2 8.5l-10.3 21l-3.4 3.2l-6.7 2.8l-23.3 1.8l-21-.8l-25.7-7l-20.3-6.7l-966.3 192.9l-137.5 30.6l-2.8 1.8l-1 3l.1 46.9l22.9 107l7.7 30.5l7.7 23.3l8.8 9.5l3.6 1.5l39.1-.1l320.5-61l610.4-122.1l335.7-68.7l91.8-22.9zM1006 353.5l12-1l9 2.3l3.9 3.2l1.2 3l-.5 3l-2.3 3l-4.8 3l-16.5 6l-11 2.8l-15 1.6l-12 3.4l-9 .8l-12-.7l-6.6-1.9l-2.7-3l.3-3.3l2.3-2.7l3.7-1.9l6-1.6l12-1.4l15 .9l3-.9l11.6-10.1zM1201 297l9-1.4l9 .1l12 2.1l8.4 3.2l8.6 6l4.7 6l1.3 6l-2.1 6l-5.9 6.2l-12 7l-15 5.2l-15 2.5l-15 1.1l-15-1.5l-12-3.3l-9-5.9l-3.1-5.3l.1-6l3-5.3l3.6-3.7l8.3-6l6.1-3.1l15-5.9z" fill="#000094"/>
<path d="M1612.5 322l-18.5-29.6l-3-3.7l-6-4.8l-6-2.5l-9-1.4l-27 1.1l-9-1.5l-6-3.4l-3-3l-3.5-5.2l-2.8-9l.1-6l2.3-6l3.9-4.6l6-4.2l57-30.7l18-6.6l19.2-4.4l-24.5-79.5l-7.6-15.3l-8.6-8.9l-11.2-1.5l-181.2 35.5l-8.1 10.2l-9.8 20l-5.2 4.9l-6 2.4l-24 2l-21-.8l-27-7.1l-22.4-7.4l-962.9 192.2l-137.5 30.6l-2.8 1.8l-1 3l.1 46.9l22.9 107l7.7 30.5l7.7 23.3l8.8 9.5l3.6 1.5l39.1-.1l320.5-61l610.4-122.1l335.7-68.7zM1006 351.3l12-.9l9.1 1.6l5.3 3l2.7 3l1.1 3l-.2 3l-1.6 3l-3.6 3l-6.8 3.2l-24 7.4l-27 5.3l-12 .9l-15-.9l-6-1.8l-3-2.1l-1.5-3l.1-3l1.7-3l5.7-3.8l9-2.4l27-3.7l14.8-8.1zM1213 294.6l12 .9l10.6 2.5l6.8 3l8.6 6l2.7 3l2.8 6l-.2 6l-3.4 6l-9.9 7.8l-12 5.3l-15 4.3l-21 2.6l-15-.3l-15-2.8l-9-3.7l-6-5.5l-2-4.7l-.1-3l2-6l5.2-6l6.9-5.2l9-4.8l15-5.8l15-4z" fill="#00009c"/>
<path d="M1611 322.9l-17-28.7l-4.4-5.2l-4.6-3.6l-6-2.5l-9-1.3l-27 2.7l-9-1l-6-3.1l-3.5-3.2l-4.1-6l-3-9l-.2-9l1.8-5.5l3-4.3l6-5.1l57-31l18-6.9l21.7-5.3l-24-77.9l-7.6-15.3l-8.6-8.9l-11.2-1.5l-177.3 34.8l-9.3 9.9l-9.1 18l-4 6l-4.6 3.5l-6 2.2l-24 1.9l-21-.6l-27.6-7l-25.3-8.3l-959.4 191.5l-137.5 30.6l-2.8 1.8l-1 3l.1 46.9l22.9 107l7.7 30.5l7.7 23.3l8.8 9.5l3.6 1.5l39.1-.1l320.5-61l610.4-122.1l335.7-68.7zM1012 348.7l12 .4l9 3.4l5.8 5.5l1.1 6l-1.2 3l-5.7 4.9l-9.9 4.1l-23.1 6.7l-27 5.3l-12 .6l-15.2-.6l-8.8-2.6l-3.9-3.4l-1.1-3l1.6-6l3.4-3.4l4.9-2.6l34.1-6.6l19.9-8.4zM1207 294.3l9-.5l11.9 1.2l9.1 2.3l8.5 3.7l8.5 6l4.4 6l1.2 6l-1.6 6l-3 4.2l-5.4 4.8l-11 6l-19.1 6l-15.5 2.4l-18 1l-18-2.2l-12-3.9l-7.6-6.3l-2.3-6l.8-6l3.8-6l6.6-6l9.6-6l14.3-6l13.8-4.2z" fill="#0000a4"/>
<path d="M1609 323l-15-26.9l-3.1-4.1l-5.9-5.1l-6-2.5l-9-1.1l-9 .8l-18 3.6h-6l-6-1.6l-6-3.9l-4.2-5.2l-2.9-6l-2.4-9l.1-9l2-6l4.4-6l6-4.7l54-29.7l19.9-7.6l22.3-5.7l-23.5-76.3l-7.6-15.3l-8.6-8.9l-11.2-1.5l-172.3 33.8l-8 6.4l-6 7l-12 21.9l-6 4.6l-6 2l-24 2l-21-.6l-27-6.5l-29.5-9.5l-955.8 190.8l-137.5 30.6l-2.8 1.8l-1 3l.1 46.9l22.9 107l7.7 30.5l7.7 23.3l8.8 9.5l3.6 1.5l39.1-.1l320.5-61l610.4-122.1l335.7-68.7zM1006 347.9l15-.9l12 3.2l6 3.9l3.3 3.9l1.2 6l-.9 3l-2.2 3l-4 3l-6.6 3l-31.6 9l-22.2 4.3l-18 1l-15-1l-9-3.1l-4.2-4.2l-.9-3l1.6-6l3.5-4l6-3.5l33-6.9l21-7.7zM1204 294l12-1l12 1.1l12 3l8.7 3.9l8.3 6l4.2 6l1.2 6l-1.4 6l-6 7.5l-11.9 7.5l-18.1 6l-18 3.3l-21 1.3l-18-1.8l-12-3.5l-4.3-2.3l-4.7-4.3l-2.3-4.7l-.4-3l1.1-6l3.9-6l6.6-6l9.1-6l12-5.2l12-4.2z" fill="#0000ac"/>
<path d="M1607.5 323.8l-13.5-25.8l-4.6-6l-4.4-3.7l-6-2.5l-9-.9l-9 1.3l-18 5.2l-6 .3l-6-1.2l-6-3.4l-5.9-7.1l-3.1-7.2l-1.8-7.8l-.5-9l2.3-9l4.2-6l7.8-6.5l53.5-29.5l21.5-7.9l20.7-5.4l-23-74.7l-7.6-15.3l-8.6-8.9l-11.2-1.5l-165.4 32.4l-11.9 7.9l-6 5.8l-5.1 7.6l-5.9 12l-4 5.3l-6 4.1l-6 1.8l-24 2.2l-24-1.1l-26-6.3l-31.5-9.8l-951.8 190l-137.5 30.6l-2.8 1.8l-1 3l.1 46.9l22.9 107l7.7 30.5l7.7 23.3l8.8 9.5l3.6 1.5l39.1-.1l320.5-61l610.4-122.1l335.7-68.7zM1015 345.5l12 .9l8 2.6l5.2 3l3.4 3l3.3 6l-.4 6l-1.8 3l-5.7 4.4l-11.8 4.6l-34.8 9l-17.5 3l-16.9 .7l-15-.8l-10.2-2.9l-4.2-3l-1.9-3l-.2-6l1.5-3.5l5.1-5.5l5.4-3l31.5-6.8l27-8.8zM1201 293.8l12-1.6l12 .5l12.2 2.3l11.8 4.5l7.7 4.5l5.7 6l2.6 6v6l-.9 3l-3.1 4.9l-4.1 4.1l-10.9 6.6l-18 6l-21 3.9l-21 1.4l-18-1.7l-15-4.2l-7.9-6l-2.6-6l.4-6l5-9l6.6-6l7.5-5.2l9-4.5l15-5.6z" fill="#0000b4"/>
<path d="M1605.7 324.2l-11.7-24.3l-3.4-4.9l-5.6-5.2l-6-2.6l-9-.7l-9 1.9l-18 7l-6 .7l-6-.9l-6-2.9l-6-6.1l-4.3-9.2l-2-9l-.6-9l1.3-9l5-9l6.6-6.2l52.3-29.8l22.7-8.5l23.3-6.3l-22.6-73.2l-7.6-15.3l-8.6-8.9l-11.2-1.5l-156.7 30.7l-17.6 10.2l-6 4.6l-6 7.6l-6.5 12.6l-4.4 6l-4.1 3.2l-9 3.3l-24 2.2l-24-1l-24-5.5l-27-8.7l-11.1-2.4l-947.2 189.1l-137.5 30.6l-2.8 1.8l-1 3l.1 46.9l22.9 107l7.7 30.5l7.7 23.3l8.8 9.5l3.6 1.5l39.1-.1l320.5-61l610.4-122.1l335.7-68.7zM1006 345.2l18-.8l7.8 1.6l7.4 3l4.8 3l5.3 6l1.4 6l-2 6l-6.7 5.6l-9 3.6l-33.5 8.8l-26.5 4.6l-21 .4l-15-1.7l-8.3-3.3l-3.3-3l-1.4-3v-6l3.1-6l3.9-3.8l6-3.5l30-6.7l22.5-7zM1210 291.6l12-.1l12 1.7l12 3.5l9.4 4.3l7.7 6l3.8 6l1.1 9l-2.2 6l-4.8 5.5l-4.4 3.5l-11.4 6l-21.4 6l-22.8 3.4l-18 .6l-21-2.3l-12-4l-5.4-3.7l-2.5-3l-1.8-6l2.1-9l4.1-6l10.6-9l10.9-6.2l15-6l15-4.1z" fill="#0000bc"/>
<path d="M1604 324.7l-10.6-23.7l-4.2-6l-4.2-3.8l-6-2.6l-9-.4l-9 2.5l-18 9.2l-6 1l-6-.6l-9-4.4l-6-6.9l-3-7.3l-2-10.7l-.5-12l1.4-9l4.8-9l8.3-7.9l48.2-28.1l23.8-9l25.8-7.3l-22.1-71.7l-7.6-15.3l-8.6-8.9l-11.2-1.5l-147.4 28.9l-8.9 6.3l-15 6.7l-6 3.7l-6 6l-12.1 20.1l-5.9 4.6l-9 3.1l-24 2.3l-24-1l-27-6l-27-8.6l-13.7-2.2l-73.1 14.3l-15.2 6.1l-9 1l-8.2-.6l-387.3 77.5l-18.5 6.4l-6 .7l-5.3-1.2l-419 83.8l-137.5 30.6l-2.8 1.8l-1 3l.1 46.9l22.9 107l7.7 30.5l7.7 23.3l8.8 9.5l3.6 1.5l39.1-.1l320.5-61l610.4-122.1l335.7-68.7zM1018 342.9l15 1.9l9 3.5l5.9 3.7l3 3l3.1 6l-.1 6l-3.6 6l-8.3 5.1l-11.7 3.9l-37.7 9l-19.6 3l-18 .4l-15-1l-12-3.6l-5.5-4.8l-1.4-6l1.6-6l5.3-6.7l8.5-5.3l30.5-6.8l28.6-8.2zM1207 291.2l12-.7l15 1.7l12 3.1l12.9 5.7l7.4 6l3.7 6l1.2 9l-2 6l-5 6l-3.7 3l-11.5 6.3l-19 5.7l-23 4l-21 1.3l-21-1.5l-15-3.7l-5.6-3.1l-3.3-3l-2.9-6l1.1-9l5.8-9l6.6-6l10.3-7.1l12-5.5l15-5.2z" fill="#0000c4"/>
<path d="M1602.2 325l-10-24l-4.2-5.8l-6-4.2l-6-1.4l-9 1l-9.1 4.4l-14.9 10l-6 1.2l-6-.5l-9-3.6l-6-5l-4.7-8.1l-1.9-9l-.6-18l1.7-12l4.6-9l6.9-7.3l39-24.2l12-6.3l24-8.7l25.3-7.3l-21.6-70.2l-7.6-15.3l-8.6-8.9l-11.2-1.5l-139.9 27.4l-7.4 7.3l-6 4l-18 5.9l-6 3.5l-6 6.3l-8.2 14.3l-3.8 4.6l-6 4.4l-9 2.9l-24 2.4l-24-1l-30-6.6l-27-8.4l-17.8-1.7l-55.5 10.9l-16.7 7.8l-9 3.2l-12 1.2l-13.3-2.1l-368.7 73.8l-17 7.2l-15 4.9l-6 .1l-6.9-3.3l-414.4 82.9l-137.5 30.6l-2.8 1.8l-1 3l.1 46.9l22.9 107l7.7 30.5l7.7 23.3l8.8 9.5l3.6 1.5l39.1-.1l320.5-61l610.4-122.1l335.7-68.7zM1009 342.5l12-.8l9 .9l9 2.5l8.7 3.9l4.3 3l4.7 6l1.1 6l-1.5 6l-5.3 6l-14 6l-37 8.9l-21 3.8l-24 1l-18-1.4l-10.9-3.3l-4.2-3l-2-3l-1.1-6l1.7-6l4.5-6.4l9-6.3l6-2.2l21-4l29.6-8.1zM1204 290.9l15-1.3l15 1.7l15.2 3.7l11.8 5.2l8.5 6.8l3.6 6l1.4 9l-1.7 6l-2.8 4l-5.4 5l-15.6 8.3l-18 4.9l-24 3.9l-24 1.3l-24-1.8l-14.4-4.6l-7.2-6l-2.1-6l2.1-9l6.2-9l6.6-6l11.8-8l9-4.3l15-5.5zM1369 281.1l6-1.1l3 .7l3.9 2.3l.8 3l-3.3 6l-6.8 6l-6.6 2.5l-3-.4l-3-2.8l-.4-5.3l2.8-6l3-3z" fill="#0000cc"/>
<path d="M1600.4 325l-5.1-15l-4.2-9l-3.1-4.1l-6-4.5l-6-1.4l-9 1.5l-8.9 5.5l-12.1 11.1l-6 2.2l-6 .2l-9-2.2l-9.5-5.3l-5.5-6l-3.4-9l-.1-15l1.8-21l3.3-9l7.4-9.3l9-6.9l42-25.2l17.9-6.6l34-10.2l-21.2-68.8l-7.6-15.3l-8.6-8.9l-11.2-1.5l-133.3 26.1l-11 12.3l-6 4.5l-18 3.4l-9 4.3l-5.6 6.1l-7.1 12l-4.9 6l-6.4 4.3l-9 2.7l-21 2.4l-24-.6l-29.7-5.8l-33.3-9.6l-12-1l-13.6 .3l-31.5 6.1l-38.9 16.3l-18 1.3l-6-.7l-7.7-2.8l-351.1 70.2l-23 9.9l-20.2 7.2l-6 .6l-3-.6l-7.1-5.2l-411.2 82.2l-137.5 30.6l-2.8 1.8l-1 3l.1 46.9l22.9 107l7.7 30.5l7.7 23.3l8.8 9.5l3.6 1.5l39.1-.1l320.5-61l610.4-122.1l335.7-68.7zM1003 342.4l15-1.7l9 .3l10.6 2l10.4 3.8l8.3 5.2l3.7 5.1l1.3 6.9l-1.5 6l-5.8 6.9l-12 5.4l-39 9.4l-27 4.6l-24 .5l-18-1.8l-11.6-4l-3.2-3l-1.7-3l-.8-6l1.6-6l4-6l8.7-6.9l9-3.5l18-3.4zM1216 288.8l12 .7l15 2.6l12 3.6l11.1 5.3l6.7 6l4.7 9l.1 9l-2.7 6l-4.9 5.1l-5.7 3.9l-15.3 7.1l-20.6 4.9l-27.4 3.8l-24 .7l-21-1.7l-9-2.3l-6-2.6l-5.4-3.9l-2.2-3l-1-3l.4-6l4.4-9l8-9l11.9-9l10.9-5.9l18-6.8l18-4.2zM1375 276.1l9 .5l6 2.3l4.6 4.1l-.2 3l-2.3 3l-20.1 18.1l-9 3l-6-1.2l-3-2l-2.5-5.9l2-9l3.7-6l5.8-5.9l6-3z" fill="#0000d4"/>
<path d="M1598.8 326l-4.7-16l-3.1-6.9l-6-7.4l-6-2.8l-6-.2l-6.9 2.3l-7.4 6l-9.7 12.4l-6 3.2l-6 .6l-12-2.2l-10.7-5l-8-6l-4.2-6l-.9-3l.3-9l6.1-36l4.3-9l7.1-8.1l9-6.8l39.1-24.1l11.9-4.7l42.5-13l-20.8-67.3l-7.6-15.3l-8.6-8.9l-11.2-1.5l-125.2 24.6l-7.1 6.2l-12 15.1l-6 2.9h-15l-9 2.5l-6 4.9l-10.1 15.5l-4.9 5l-6 3.6l-9 2.6l-21 2.5l-24-.7l-30-5.7l-33-9.3l-18-.8l-18 1.7l-24 6.2l-12 4.7l-16.2 8.2l-10 3l-12.8 1.3l-9-.1l-6-1.2l-7.4-3.9l-209.4 41.8l-17.2 5.3l-16.2 1.4l-92.9 18.6l-27 11.8l-28.9 10.6h-6l-3-1.4l-6.9-6.6l-408.4 81.6l-137.5 30.6l-2.8 1.8l-1 3l.1 46.9l22.9 107l7.7 30.5l7.7 23.3l8.8 9.5l3.6 1.5l39.1-.1l320.5-61l610.4-122.1l335.7-68.7zM1018 339.6l11.5 .4l9.5 1.8l12 3.9l6.5 3.3l3.7 3l3.3 6l-.2 9l-2.8 6l-2.4 3l-5.1 3.7l-14.6 5.3l-36.4 8.2l-27 4.3l-24 .5l-18-1.7l-12-3.5l-3-2l-3-4l-1.4-7.8l1.7-6l6.6-9l8.8-6l8.3-3l18-3.3l36.1-8.7zM1210 288.4l15-.1l18 2.7l14.5 4l12.4 6l6.5 6l4.9 9l.4 9l-2.2 6l-3.5 4.2l-6.6 4.8l-17.4 7.9l-16.3 4.1l-31.7 4.7l-24 1.2l-24-1.1l-9-1.9l-8.2-2.9l-5.3-3l-3-3l-2.1-6l2.8-9l9.2-12l10.8-9l10.8-7l15-6.5l15-4.6zM1375 273.3l9-.3l9.5 1l20.5 4l16.8 2l11.9 3l11.2 6l11.2 9l2.7 6l-.9 3l-1.9 1.8l-3 .4l-15-8.7l-12-3.7l-33-1.5l-6 .9l-6 2.8l-5.5 5l-6.5 8l-6 4.2l-6 1.8l-6 .4l-9.7-2.4l-4-3l-2.7-6l.6-6l2.6-6l6.4-9l6.8-6.7l6-3.6z" fill="#0000dc"/>
<path d="M1596.9 326.4l-4.1-16.4l-4.4-9l-6.4-5.6l-6-1.3l-6 1.1l-6 3.8l-4.4 5l-7.6 13.4l-6 4.3l-9 1.3l-9-1.4l-9-3l-21-9.9l-6-1.3l-3 .5l-3 1.8l-15 16.4l-3 2.1l-3 .7l-3-.8l-3-2.6l-7.4-9.5l-4.6-4.4l-6-3.7l-9-2.5h-9l-15 2.1l-12-1.3l-3 1.3l-2 2.5l-4 9l-3.3 3l-8.7 2.6l-9 .8l-12-.4l-10-3l-7.2-6l-2.2-6l1.1-6l3.4-6l7.4-9l9.3-9l9-6l13.2-3.4l24 .2l38.7 3.2l9.9 3l29.4 14.8l6 1.3l3-1l6-5.9l4.7-9.2l5.4-24l3.5-9l6.4-9l6.5-6l45.5-29l10.6-4l43.4-13.1l-20.3-65.9l-7.6-15.3l-8.6-8.9l-11.2-1.5l-77.8 15.3l-6.5 6l-6 2.1l-18-.1l-9 1.9l-6 3.1l-5.2 4.4l-10.7 15l-5.1 4.7l-6 1.5l-15-2l-9 2l-6 5.3l-8.4 12.5l-5.8 6l-6.8 3.9l-9 2.5l-21 2.5l-24-.8l-28.7-5.1l-34.3-9.3l-18-.6l-18 1.8l-24 6.3l-29.8 13.8l-9.2 2.4l-18 2l-9-.1l-6-2.5l-6.8-4.7l-191.5 38.3l-15.1 6.6l-17.6 5l-12 1.1l-13.8-1l-70.1 14.1l-31.6 13.8l-34.5 13.1l-6 .5l-3-1l-9.4-9.6l-405.9 81.2l-137.5 30.6l-2.8 1.8l-1 3l.1 46.9l22.9 107l7.7 30.5l7.7 23.3l8.8 9.5l3.6 1.5l39.1-.1l320.5-61l610.4-122.1l335.7-68.7zM1009 339.6l12-1.1l12 .7l17 3.8l10 3.9l6 4.6l2 3.5l.9 6l-2.2 9l-4.1 6l-3.3 3l-11.3 5.2l-36 8.8l-30 5.2l-27 1l-21-1.6l-13.4-3.6l-4.1-3l-2.2-3l-1.3-3l-.4-6l3.2-9l6.2-7.3l9-6l9-3.2zM1096 198.3l6 3.3l3 3.1v3.4l-3 1.8l-3-.1l-3.3-1.8l-3.4-6l.7-3.9zM1207 288l15-.8l15.7 1.8l14.7 3l16.6 6l8.6 6l6.9 9l2 9l-2 9l-4.8 6l-4.3 3l-20.9 9l-17.5 4.2l-33 4.6l-27 1.4l-24-.8l-12-2.6l-9-3.3l-5.3-3.5l-2.3-3l-.8-6l4.5-9l10.5-12l14.4-11.3l12-7.2l15-6l12-3.6z" fill="#0000e4"/>
<path d="M1595 326.9l-3.5-16.9l-3.5-7.3l-6-5.7l-6-1.3l-6 1.6l-5 3.7l-4.2 6l-5.8 13.9l-3 3.6l-6 3.2l-6 1l-9-.5l-9-2.2l-18-6.4l-9-.8l-7.5 3.2l-13.5 14l-6 2.6l-6-.9l-3-2l-9.5-13.7l-5.5-5.8l-6-3.5l-6-1.6l-9 .6l-6 2.3l-7.4 5l-13.6 12.3l-9 2.3l-33-2.3l-9-1.8l-6-2.4l-8.1-5.1l-5.4-6l-1-3l1.1-6l4.1-6l23.1-21l10.2-6.9l15-4.4l24-1.4l36 1.5l12 2.4l27 10.9l6 1l6-1.2l6-4.8l3-4.8l6.4-22.3l4.3-9l7.3-8.9l6-5.2l36-23.9l9-5l53.6-16.6l-19.9-64.4l-7.6-15.3l-8.6-8.9l-11.2-1.5l-67.4 13.2l-7 10.5l-3.9 3.5l-6 2.9l-6 .5l-18-2l-9 1.6l-9 6.2l-10 14.3l-5 4.7l-3 1.6l-6 .9l-15-2.9l-6 .5l-3 1.2l-6 5.6l-6.5 9.4l-5.6 6l-8.9 5.2l-9 2.4l-21 2.5l-27-1.1l-31.6-6l-25.4-7.1l-18-1.1l-18 1.6l-15 3.2l-18 6.1l-26.4 12.3l-30.6 5.2l-6 .5l-3-.7l-9-7.5l-5.1-1.9l-8.6 1.7l-2.4 2.7l-.7 3l.7 3l2.1 3l7.1 6l2 3l-.5 3l-2.9 3l-3.7 1.1l-5.5-1.1l-3.9-3l-13-19.5l-147.6 29.5l-19 9.5l-21 6.7l-15 1.3l-20.1-2.5l-42 8.4l-15.9 5.1l-28.8 12.5l-37.2 14.5l-6 1.6l-6-.5l-3-1.8l-8.7-10.3l-403.6 80.7l-137.5 30.6l-2.8 1.8l-1 3l.1 46.9l22.9 107l7.7 30.5l7.7 23.3l8.8 9.5l3.6 1.5l39.1-.1l320.5-61l610.4-122.1l335.7-68.7zM1006 339.1l15-1.6l12 .5l18 3.1l15 4.7l4.5 3.2l2.9 6l-.1 6l-1.6 6l-3.3 6l-5.5 6l-4.5 3l-7.1 3l-33.3 8.3l-33 5.8l-24 1.3l-27-1.6l-9-1.6l-6-2.2l-5-4l-2-3l-1.1-3l-.3-6l2.4-7.4l5.4-7.6l9.6-7.3l12-4.7zM1201 288.1l15-1.8l18 1.2l23.2 4.5l15.8 5.8l9.3 6.2l7.8 9l2 9l-2.1 9l-4 6l-3.6 3l-12.9 6l-23.5 6.9l-36 5.4l-36 2.3l-24-.4l-22.7-5.2l-5.8-3l-3.2-3l-1.7-3l-.2-3l2.9-6l14-15l14.7-12l11-7.3l12-5.8l15-5.3z" fill="#0000ec"/>
<path d="M1593 327.4l-2-14.4l-3.7-9l-5.3-5.3l-6-1.3l-6 2.1l-4.8 4.5l-3.1 6l-4.9 15l-2.2 3.3l-6 4.4l-9 2l-9-.2l-24-5.8l-9-.3l-6 2.3l-14.8 12.3l-6.2 2l-6-.2l-6-2.7l-4.7-5.1l-10.3-15.4l-6-4.3l-9-1.8l-6 1.2l-6 3.1l-19.1 17.2l-4.9 2.2l-6 1l-42-5.1l-11.1-4.1l-27.9-13.8l-3 2.8l-10.9 17l-7.1 6l-6 3l-33 8.4l-39 5.3l-45 2.9l-21-1.1l-15-2.6l-11.2-3.9l-11-6l-.5-3l5.2-6l25.8-21l24.7-17.4l21-9.1l21-5.3l12-1.6h12l21 2.7l16.5 3.7l16.1 6l21.4 13.5l6 2.5l15-13l37.3-27l7.7-3.8l9-2.7l24-2.8l36 .1l15 2.3l27 9.1l6 .6l6-1.3l3-1.9l4.3-5.6l6.3-18l4.4-9l7.2-9l7.8-6.9l36-24.3l8.8-4.8l53.3-16l-19.4-63l-7.6-15.3l-8.6-8.9l-11.2-1.5l-59.2 11.6l-3.3 9.1l-4.6 6l-7.8 6l-6.4 2.6l-9 .6l-18-2.3l-9 1.9l-6 4.1l-11 14.1l-7 5.5l-9 1.9l-15-2.9l-6 .3l-6 3.6l-10 12.6l-5 4.6l-6 3.7l-9 2.9l-21 3l-24-.6l-29.7-4.6l-36.3-9l-12-.5l-18 1.4l-12 2.2l-15 4.3l-36 15.7l-27 5.5l-15 4.8l-3 .4l-1.5-.8l-.6-6l-3.9-4.4l-3-.9l-3 .9l-1.3 1.4l-.2 3l1.5 2.5l3 2.4l6 2.2l1.1 1.9l-3.1 6l-2.9 3l-7.1 2.9l-6-1.4l-5.8-4.5l-14.8-18.7l-137.2 27.4l-22.8 12.3l-26.4 9l-12 1.1l-27-3.3l-12 1l-39 12.3l-27 11.5l-45 16.6h-6l-3-1.4l-11-12.8l-401.3 80.2l-137.5 30.6l-2.8 1.8l-1 3l.1 46.9l22.9 107l7.7 30.5l7.7 23.3l8.8 9.5l3.6 1.5l39.1-.1l320.5-61l610.4-122.1l335.7-68.7zM1021 336.6l21 1.1l28.1 5.3l6.3 3l3.4 3l1.4 3l-1.1 6l-4.1 9l-4 6l-5.8 6l-6.2 4.2l-21 7.1l-33 7l-33 4.1l-33-.7l-20.3-3.7l-5.2-3l-4.6-6l-1.2-9l3.2-9l7.5-9l11.6-7.3l12-3.7l52.1-10z" fill="#0000f4"/>
<path d="M1536.4 341.6l-32.4-2.7l-6 1.5l-18 9l-6 1.3l-6-.1l-6-1.8l-6-4.2l-10.9-16.6l-4.1-4.5l-6-3.4l-6-.8l-6 1.4l-6 3.7l-18 16.9l-6 2.8l-6 1.1l-12-.5l-24-3.4l-9-2.2l-21-7.5l-9-1.3l-6 1.3l-3 1.7l-12 10l-12 6.3l-47.6 8.4l-24.4 2.7l-54 4l-24-1.7l-24-4.3l-12 .4l-6 2.7l-17.4 17.2l-9.6 6.2l-30 9l-21 4.3l-18 2.5l-18 1.6h-18l-30-2.8l-8.9-2.8l-4.2-3l-4.1-6l-1.2-6l1.9-9l5.8-9l7.7-6.8l12-6.1l9-2.5l47.5-8.6l30.5-4.3l12-.1l17.8 1.4l18.2 1.9l15 2.8l9-.8l12-5l12-6.7l30-21.1l15-9.3l21-8.4l15-3.6l21-2.4l24 2.4l25.6 5.2l25.4 8.9l9 .9l9-2.3l12-5.7l36.9-22.8l8.1-3.3l15-3.6l24-2.4l27-.1l15 2l27 7.6l6 .4l6-1.7l6-6.1l6.9-16.8l5.4-9l7.9-9l9.8-7.7l39-26.2l9-3.2l24-5.8l22.7-7.6l-19-61.5l-7.6-15.3l-8.6-8.9l-11.2-1.5l-52.2 10.3l-1.8 10.4l-2.7 6l-3.6 3.9l-8.3 5.1l-7.7 3l-8 1.4l-21-1.6l-9 1.1l-6 3.3l-12.9 13.8l-8.1 5.4l-9 1.8l-15-2.6l-6 .4l-6 3.8l-7.9 9.2l-7.1 6.3l-9 4.5l-9 2.2l-21 2.5l-21-.8l-33-5.1l-33-7.9l-12-.4l-15 1.1l-24 5.2l-15 5.4l-24 11.1l-30 7.1l-12 5.6l-15 10.9l-6 1.5l-6-1.1l-4.8-3.1l-19.2-21l-127.6 25.5l-30.4 16.5l-19 7.4l-9 2.6l-15 .7l-24-3.6l-9 1.2l-18 6l-21 5.3l-24.7 10.4l-47.3 17.1l-6 .2l-4.8-2.3l-11.4-13.6l-399.1 79.8l-137.5 30.6l-2.8 1.8l-1 3l.1 46.9l22.9 107l7.7 30.5l7.7 23.3l8.8 9.5l3.6 1.5l39.1-.1l320.5-61l610.4-122.1l335.7-68.7zM1590.7 328l-1.2-15l-3.9-9l-3.6-3.4l-3-1.2l-6 .7l-3 1.8l-4.1 5.1l-5.7 21l-2.2 4.2l-5.6 5.3z" fill="#0000fc"/>
<path d="M1469.8 355.9l-7.8-2.4l-6.4-4.5l-4.9-6l-9.7-15.4l-6-4.1l-6-.8l-9 3.4l-18 17.6l-6 3.5l-6 1.9l-12 .8l-21-2.7l-12-2.7l-21-7.1l-9-1.3l-9 1.7l-21 12.9l-9 2.8l-54 6.9l-69 6.5l-15 .1l-30-3.2l-9 .4l-6 1.3l-6 2.8l-17.9 13.7l-12 6l-27.1 7.9l-33 5.9l-21 1.9l-18 .1l-18-.9l-18-2.4l-6-2l-6.5-4.5l-3.7-6l-1.1-6l.9-6l2.5-6l7.1-9l9.8-7.3l11.2-4.7l63.8-11.5l21-2.7l15-.3l48 2.1l9-1l12-3.9l12-5.9l45-28.1l18-7.4l15-3.9l18-2.7l15 .3l34 5l29 7l12 .6l9-1.9l12-4.6l40.6-22.1l22.4-6.2l24.7-2.8l23.3-.3l15 1.8l27 6.4l9-.7l6-4.2l11.3-21l9.9-12l8.8-7.4l36-25.3l9-4.7l27-6l25.2-8.5l-18.5-60.1l-7.6-15.3l-8.6-8.9l-11.2-1.5l-46.2 9.1l-1 17.6l-2.8 6l-4.3 3.3l-6.8 2.7l-17.2 4.4l-9 .6l-18-.9l-9 1.7l-6 3.6l-12.4 11.6l-5.6 3.6l-6 2.3l-6 .8l-15-1.9l-6 .5l-6 3.9l-8.5 8.8l-6.5 5l-6 3.1l-9 2.6l-21 2.9l-21-.6l-27-3.5l-42-9.1l-12-.4l-15 1.3l-12 2.2l-15 4.1l-12 4.5l-21 9.7l-33 8.8l-9 4.4l-15.2 10l-8.8 2.6l-6-1.2l-6-3.7l-21.1-21.1l-117 23.4l-35.9 19.3l-24 10.2l-9 2.6l-15 .5l-24-3.8l-6 1.1l-18 6l-18 3.4l-27 10.7l-48 16.8l-6 .3l-6-2.7l-12.4-14.5l-396.9 79.3l-137.5 30.6l-2.8 1.8l-1 3l.1 46.9l22.9 107l7.7 30.5l7.7 23.3l8.8 9.5l3.6 1.5l39.1-.1l320.5-61l610.4-122.1zM1588.2 328l.2-12l-2.7-9l-3.7-4.3l-3-1.3l-6 1l-3 2.4l-3.1 5.2l-4.4 25z" fill="#0005ff"/>
<path d="M1570.9 307l-1.7 3l-1.5 6l1.1 17.5l16.1-4.1l1.6-7.4l-.3-9l-1.2-3.9l-3-4.1l-3-1.5h-3zM1532.1 100l1.5 24l-1.9 6l-3.7 2.4l-33 5.2h-24l-9 1.3l-6 2.7l-15 11.7l-6.3 3.7l-11.7 2.9l-15-1.1l-6 .8l-6 3.7l-13.9 11.7l-7.1 3.4l-9 2.5l-18 2.6l-18-.1l-27-2.8l-48-9.6l-12-.3l-15 1.4l-27 6.4l-33 13.9l-30 8.1l-12 5.7l-15 9.2l-9 2.4l-6-1.1l-6-3.4l-24-22.1l-107.9 21.6l-41.6 22.2l-33.5 14.8l-6 1.3l-9 .3l-19.9-4.4l-7.1-.1l-18 6.3l-24 3.4l-20.9 8.4l-24.1 7.3l-27 9.9l-6 .5l-6-2.3l-10.3-12.4l-4.2-3.7l-394.8 78.9l-137.5 30.6l-2.8 1.8l-1 3l.1 46.9l22.9 107l7.7 30.5l7.7 23.3l8.8 9.5l3.6 1.5l39.1-.1l320.5-61l610.4-122.1l276.3-56.5l-8.5-6.6l-10.3-17l-4.7-5.5l-3-1.8l-6-1l-6 1.8l-3 2l-18 18.3l-6 3.4l-9 2.4l-12 .4l-15-1.8l-15-3.7l-21-7.1l-12-.9l-9 2.8l-18 10.4l-9 2.5l-15 .7l-39 4.6l-27 2l-45 5.7l-15 .4l-24-2l-12 .7l-9 2.8l-22.5 13.9l-10.5 4.5l-27 8.1l-27 5.1l-21 1.8l-18 .5l-21-.8l-21-2.5l-9-3.2l-5.7-4.5l-3.4-6l-1-6l2-9l3.4-6l4.7-5.7l9-7.2l12-5.6l9.7-2.5l77.3-12.1l63-.9l12-1.7l12-4.1l12-5.7l42-25l18-7.3l15-3.8l18-2.6l12 .1l26.8 3.1l36.2 6.6l12 .6l12-1.9l9-2.9l18-7.8l24-13.1l15-5.2l15-3.2l21-2.5l18-.5l18 1.7l24 4.9l6 .3l6-1.4l6-4.9l11.5-18.7l9.5-10.8l45-33.2l9-4.5l27-5.2l24.8-8.6l-18.1-58.7l-7.6-15.3l-8.6-8.9l-11.2-1.5z" fill="#000dff"/>
<path d="M1571.8 310l-1.7 6l1.4 9l1.5 3.2l3 2.2l3-.5l3-3l2-4.9l.3-9l-2.3-5l-3-1.9h-3zM1536.7 98.5l1.5 13.5l4.8 24l-.7 3l-2.3 1.4l-24-1.4l-51 2.7l-9 3.6l-12.2 8.7l-8.8 4.9l-12 3.2l-15-.4l-6 1.1l-21 14.5l-15 4.9l-18 2.4l-18-.2l-27-2.7l-48-9.2l-9-.2l-15 1.2l-27 6l-15 5.4l-21 9.1l-30 8.4l-9 4.1l-18 10.4l-9 2.1l-6-1.1l-6-3.1l-26.9-23l-100.1 20l-6.9 5.2l-67.1 33.9l-15 5.8l-9 .3l-21-5.6l-6 .9l-12 5.2l-24 .8l-24 8.8l-27 7.7l-18 7.2l-9 2l-6-.5l-3-1.4l-3-2.2l-9-11.3l-4.7-3.9l-392.6 78.5l-137.5 30.6l-2.8 1.8l-1 3l.1 46.9l22.9 107l7.7 30.5l7.7 23.3l8.8 9.5l3.6 1.5l39.1-.1l320.5-61l610.4-122.1l270.9-55.4l-6.3-6.7l-8.1-15l-3.7-5l-3-2.2l-6-1.2l-6 2.1l-3 2.4l-12 13.7l-6 5.1l-6 3.1l-9 2.5l-12 .7l-15-1.8l-12-2.9l-24-8.4l-12-1l-9 2.6l-15 8.3l-9 3.3l-21 .6l-63 5.6l-51 7.4l-33-1.2l-12 1.3l-9 2.9l-19 10.1l-14.3 6l-26.7 8.3l-27 5l-24 1.6h-21l-18-.9l-21-2.8l-6.1-2.2l-7.7-6l-3.2-6l-.8-6l1-6l1.8-4.6l7.4-10.4l10.6-8.4l12-5.3l9-2.3l75-11.5l66-3.5l12-1.7l12-3.9l15-6.8l42-23.7l15-5.8l12-3.2l18-2.8l12-.3l66 8.3l15-.1l12-2.3l9-2.8l15-6.2l27-13.6l15-5l12-2.7l18-2.7l18-1.1l18 1.2l27 4.4l6-.1l6-1.8l6-5.4l9.5-13.9l11.5-12.7l45-33.8l9-4.2l21-2.9l9-2.2l21.4-7.9l-17.7-57.3l-7.6-15.3l-8.6-8.9l-11.2-1.5z" fill="#0015ff"/>
<path d="M1573.2 316l.6 3l2.2 3.5h3l2.4-3.5l.3-6l-2.7-3.4l-3 .2l-2.3 3.2zM1541 97.7l3.5 20.3l9.4 27l.5 3l-.8 3l-1.6 1.4l-3 .1l-18-6.8l-12-2.5l-12-.3l-39 1.5l-9 2.7l-18 10.9l-9 4.2l-9 2l-18 .9l-6 2.3l-12 8.3l-9 4.5l-12 3.3l-18 2.3l-15-.1l-24-2.1l-54-9.4l-12-.1l-15 1.7l-24 5.6l-36 14.2l-27 7.5l-9 3.7l-18.2 10.2l-8.8 3l-9-.8l-6-3l-30.1-23.8l-92.6 18.5l-6.3 6.1l-24 10.8l-30.8 16.2l-26.2 15.4l-9 3.4l-9-.6l-18-4.2l-15 5.1l-18-2.3l-9 .1l-24 8.2l-24 6.2l-21 8.1l-12 2l-6-1.7l-3-2l-9-10.7l-7.1-5.8l-390.2 78l-137.5 30.6l-2.8 1.8l-1 3l.1 46.9l22.9 107l7.7 30.5l7.7 23.3l8.8 9.5l3.6 1.5l39.1-.1l320.5-61l610.4-122.1l266.3-54.5l-5.7-7.6l-7.8-15.8l-3-2.9l-6-1.6l-5.6 2.3l-3.3 3l-9.1 11.4l-6 5.8l-9 4.9l-9 2.3l-12 .9l-15-1.6l-12-3.2l-24-8.9l-12-1.2l-9 2.4l-15.8 8.2l-8.2 2.5l-24 .2l-60 4.7l-39 7.2l-15 1.9l-27-.9l-12 1.1l-12 3.5l-21.5 9.8l-29.5 10.4l-18 4.8l-15 2.5l-27 1.4l-21-.1l-18-1l-21-2.6l-9-3.4l-4.2-3l-4.6-6l-1.7-6l.9-9l2.6-6l4-6l9.2-9l5.8-3.8l9-4l15-3.7l72-10.8l69-5.8l9-1.4l12-3.8l15-6.4l42-22.6l12-4.8l12-3.5l15-2.7l15-1l63 6.7h21l12-2.2l12-3.6l15-5.9l27-12.9l15-5l15-3.3l18-2.6l12-.6l15 .6l27 3.7l6 .1l6-1.2l6-3.8l15.3-18.7l8.7-8.7l29-21.3l16-13.3l9-3.9l18-1.4l9-1.7l23.9-8.9l-17.2-55.8l-7.6-15.3l-8.6-8.9l-11.2-1.5z" fill="#001dff"/>
<path d="M1447 360.4l-3.5-5.4l-5.5-12.8l-3-4.7l-3-2l-3-.3l-6 3.4l-10.5 13.4l-7.5 6.7l-9 4.4l-9 2.2l-12 .9l-15-1.5l-15-4.3l-21-8.6l-12-1.5l-9 2.2l-17.7 8.5l-6.3 1.5l-27-.2l-54 3.7l-54 10.4l-9 .5l-21-.7l-9 .9l-15 4l-57 20.8l-18 4.4l-15 1.5l-45 .2l-36-3.5l-9-3l-6.5-4.5l-4.2-6l-1.6-6l.3-6l1.8-6l7.2-11.1l11.4-9.9l12.6-6l12-3.1l78-11.4l75-8.5l12-3.7l18-7.5l39-20.3l12-4.8l12-3.4l15-2.7l15-.9l57 5.6l27-.2l15-2.7l12-3.7l15-5.8l27-12.4l12-4.2l15-3.6l18-2.9l12-.8l15 .6l27 2.8l6-.2l6-1.6l6-4l15.8-17.6l8.2-7.7l26.3-19.3l18.7-16.6l9-3.3l18-.1l9-1.6l23.5-9l-16.8-54.4l-7.6-15.3l-8.6-8.9l-11.2-1.5l-28.3 5.6l2.9 18.1l9.9 27l1.4 6l-.4 6l-1.6 3l-2.2 1.7l-6-.3l-18-8.5l-12-3l-12-.9l-33 .7l-9 1.4l-6 2.1l-18 10l-9 3.9l-9 2.3l-18 1.6l-6 2.4l-19 10.6l-11 3.2l-12 2l-18 .8l-24-1.7l-60-9.6l-9-.1l-15 1.5l-27 6.2l-36 13.8l-27 7.7l-9 3.7l-21 11l-9 1.9l-6-1l-6-2.8l-33.3-24.6l-85.6 17.2l-2.4 3.8l-4.7 3.9l-30 13l-29.4 16.1l-24.6 16.2l-9 3.5h-6l-18-2.6l-18 4l-18-4.4l-9-.3l-24 7.6l-24 5.7l-21 7.9l-12 2l-6-1.5l-3.5-2.1l-11.5-12.7l-6.6-4.6l-387.7 77.5l-137.5 30.6l-2.8 1.8l-1 3l.1 46.9l22.9 107l7.7 30.5l7.7 23.3l8.8 9.5l3.6 1.5l39.1-.1l320.5-61l610.4-122.1z" fill="#0025ff"/>
<path d="M1442.1 361l-8.5-18l-1.6-2l-3-.9l-3 1.6l-10.7 13.3l-7.3 6.4l-9 4.7l-15 3.4l-12 .5l-15-2.1l-12-3.6l-21-9.3l-6-1.6l-6-.4l-9 2l-15 7l-9 2.3l-27-.6l-54 3.2l-54 11.5l-9 .7l-18-.6l-9 .9l-21 5.3l-57 19.8l-12 3.1l-12 1.6l-51-.1l-39-4.1l-9-3.5l-5.7-4.5l-3.9-6l-1.5-6l.4-6l1.9-6l5.8-9.5l12-11.3l12-6.2l15-4l153-21.4l12-3.7l18-7.1l42-20.8l21-6.9l15-2.6l12-.8l57 5l18 .2l15-1.2l12-2.3l18-5.4l42-18.1l24-6.6l24-3.5h12l33 2.5l6-.4l6-1.9l6-4.1l21-21.1l30.4-22.8l14.6-15l6-4.5l6-.5l15 1.6l9-.8l12-3.7l14-6.2l-16.3-52.9l-7.6-15.3l-8.6-8.9l-11.2-1.5l-24.5 4.8l2.9 18.9l9.3 26.3l1.5 6.7l-.1 6l-1.4 5.3l-3 4l-3 1.2l-6-1.4l-18-9.5l-12-3.4l-15-1.3l-27 .3l-15 2.6l-24 11.9l-9 3.4l-24 3.9l-24 11.3l-12 3.3l-12 1.8l-15 .8l-27-2l-60-8.9l-21 1.1l-15 2.8l-18 5l-30 11.4l-30 8.9l-9 3.6l-19 9.9l-11 2.6l-6-.9l-6-2.7l-36.9-25.2l-78.2 15.6l-2.4 4.6l-5.5 5l-24 9.3l-12 5.7l-23.2 13l-25.2 18l-8.6 3.9l-6 .8l-18-1.8l-15 3.2l-6 .4l-18-4.9l-9-.7l-24 6.9l-24 5.2l-21.6 8l-11.4 1.7l-6-1.3l-3-1.6l-13.8-13.8l-7.4-4.8l-385.1 77l-137.5 30.6l-2.8 1.8l-1 3l.1 46.9l22.9 107l7.7 30.5l7.7 23.3l8.8 9.5l3.6 1.5l39.1-.1l320.5-61l610.4-122.1z" fill="#002dff"/>
<path d="M1552.5 95.4l2.8 19.6l8 24l1.9 9l-.2 9l-2.7 12l.8 3l4 3l8.6 3l12.3 .8l12-2.9l16.5-7.6l-15.8-51.3l-7.6-15.3l-8.6-8.9l-11.2-1.5zM1459 155.7l-30 13.5l-24 4.7l-24 10.1l-21 4.4l-18 .9l-24-1.7l-63-8.7l-15 .6l-15 2.2l-21 5.5l-33 12l-30 8.9l-9 3.6l-18 9.2l-9 2.7l-6 .1l-9-3.2l-15-10.2l-26.1-15.7l-70.3 14.1l-4.1 8.3l-3.6 3l-24.9 8.7l-12 5.3l-24 13.5l-27 20.2l-9 3.7l-6 .6l-18-1.2l-15 3l-6 .3l-18-4.9l-9-.8l-21.6 5.6l-23.4 4.5l-21 7.6l-15 2.8l-6-1.2l-3.4-1.7l-14.6-13.8l-9-5.4l-382.3 76.4l-137.5 30.6l-2.8 1.8l-1 3l.1 46.9l22.9 107l7.7 30.5l7.7 23.3l8.8 9.5l3.6 1.5l39.1-.1l320.5-61l610.4-122.1l198.6-40.6l-11.8 .4l-15-2l-15-4.8l-21-10l-6-1.3l-6 .1l-6 1.6l-15 6.5l-9 2.1l-27-1l-54 2.7l-9 1.5l-30 8.3l-12 2.4l-9 1l-27 .5l-45 11.8l-42 14.7l-9 2.1l-9 .8l-54-.9l-36-3.8l-9-3.1l-6-4.1l-4.1-5l-2.8-9l.4-6l1.9-6l7.9-12l11.7-10.3l12-5.8l15-3.8l42-5.2l111-17.7l27-9.2l42-20l24-8.1l15-2.7l12-.6l54 4.7l18-.1l18-1.3l12-2.2l21-6.2l42-18.1l24-6.7l24-3.4l39 2l12-1.7l9-5.3l21-19.7l31-23.6l7.9-9l5.2-9l.6-3l-.9-3l-3.3-3l-16.5-10.5l-12-4.4l-15-2.2l-27-.1l-12 1.2zM1436.4 362.7l-7.4-8.7l-3 .2l-13.6 9.8l-12.4 6.2z" fill="#0035ff"/>
<path d="M1556.1 94.7l2.5 20.3l8.4 28.6l.8 7.4l-.6 15l.6 3l2 3l4.4 3l4.8 1.6l9 .7l12-2.9l16-7.7l-15.3-49.7l-7.6-15.3l-8.6-8.9l-11.2-1.5zM1459 158.3l-30 13.1l-24 5.4l-27 9.8l-18 3.2l-15 .7l-24-1.6l-63-8.3l-12 .1l-18 2.2l-24 6.1l-33 11.7l-30 9l-9 3.5l-18 9l-12 2.9l-6-.7l-6-2.4l-15-9.8l-30.6-16.7l-62.2 12.4l-3.4 9.1l-2.8 3.3l-5.4 2.7l-24.6 7.1l-12 5.3l-25 14.6l-22.3 18l-5.6 3l-7.1 2.3l-6 .6l-18-1l-15 2.8l-6 .3l-21-5h-9l-18 4.5l-24 4.3l-21 7.4l-15 2.7l-6-1l-5.5-2.9l-15.5-14.1l-9.1-4.5l-379.2 75.8l-137.5 30.6l-2.8 1.8l-1 3l.1 46.9l22.9 107l7.7 30.5l7.7 23.3l8.8 9.5l3.6 1.5l39.1-.1l320.5-61l610.4-122.1l180.8-37l-9-1.5l-12-3.4l-24-12l-9-1.9l-6 .7l-18 6.9l-9 1.8l-30-1.2l-24 1.7l-27 .5l-9 1.6l-27 8.3l-12 2.7l-12 1.6l-27 1.1l-48 11.5l-39 14.4l-9 2l-9 .7l-57-1.7l-36-4.2l-9-3.7l-6-4.8l-4.5-7.2l-1.2-6l.5-6l2-6l5.4-9l5.1-6l6.8-6l6.9-4.4l15-5.6l51-6.8l111-19.3l30-10.1l29.4-13.8l21.6-8.7l21-5.5l21-1.2l51 4.4l36-1.8l15-2.9l21-6.2l42-18.3l24-6.7l18-3l39 1.3l9-.6l6-1.5l9-5.3l21.4-19l26.6-20l6.7-7l4.9-9v-6l-4.2-6l-10.4-7.2l-12-4.7l-15-2.4l-24-.3l-12 .8z" fill="#003dff"/>
<path d="M1559.7 94l2 21l7.9 30l.9 21l2.5 4.6l3 2.4l4.6 2l10.4 .5l11.2-3.5l13.3-7l-14.8-48l-7.6-15.3l-8.6-8.9l-11.2-1.5zM1477 157.2l-9 1.1l-9 2.5l-36 14.8l-18 4.2l-24 7.8l-18 3.4l-15 .7l-15-.8l-75-8.8l-15 .5l-15 2.1l-21 5.3l-36 12.3l-30 8.9l-27 12.2l-12 3l-6-.5l-6-2.2l-15-9.6l-35.7-17.6l-53.4 10.7l-3.9 12.1l-3.8 3.7l-29.2 7.5l-15 6.3l-22.4 13.2l-22.6 18.9l-12 5.5l-9 1l-18-.6l-15 2.7l-6 .2l-21-4.6l-9-.1l-18 4.1l-24 4l-23.5 7.9l-12.5 1.9l-9-2.1l-6-4.1l-12-10.8l-6-3.5l-6.6-2.3l-375.7 75.1l-137.5 30.6l-2.8 1.8l-1 3l.1 46.9l22.9 107l7.7 30.5l7.7 23.3l8.8 9.5l3.6 1.5l39.1-.1l320.5-61l781.4-157.1l-17.2-5.5l-18-10.3l-9-2.5l-6 .6l-18 6.3l-9 1.7l-30-1.5l-24 1.5l-27 .2l-9 1.7l-36 11.2l-15 2.2l-24 1.1l-15 4.1l-30 5.3l-12 3.6l-30 12l-9 2.4l-9 1l-57-2l-39-4.3l-9-3.3l-6.6-4.6l-4.5-6l-2.3-9l.5-6l2-6l4.9-8.3l5.6-6.7l12.4-10l9-4.3l9-2.6l48-6.1l30-4.9l33-6.1l30-7l21-3.4l27-8.6l51.8-22l23.2-6.4l9-1.1h12l48 4.3l39-2.2l15-2.9l21-5.8l42-18.6l27-8l15-2.6l39 .8l9-.8l6-1.7l9-5.2l21-17.8l25.3-19l7.5-9l2.2-6l.1-3l-2.7-6l-5.4-4.9l-6-3.6l-9-3.3l-18-2.9z" fill="#0045ff"/>
<path d="M1563.3 93.3l1 18.7l6.7 27l1.9 24l2.5 6l6.6 4.3l9 .6l9-2.6l14.9-8.1l-14.2-46.2l-7.6-15.3l-8.6-8.9l-11.2-1.5zM1471 160.5l-18 5l-24 10.6l-9 3.1l-33 9l-21 4.1l-15 .7l-15-.7l-78-8.7l-12 .4l-15 1.9l-24 6l-66 20.9l-27 11.9l-12 3.1l-6-.3l-6-1.9l-15-9.3l-18-6.9l-24.1-11.6l-42.6 8.5l-2.1 4.7l-1.1 9l-2.1 3.6l-5.7 2.4l-27.3 5l-15 5.7l-24 14.1l-23.6 20.2l-12.4 5l-9 1l-18-.4l-18 2.6l-6-.4l-18-3.7l-9-.1l-42 7.3l-21 7.1l-15 2.5l-6-.9l-4.8-2l-19.2-15.1l-6-2.9l-7.7-2.1l-371.6 74.3l-137.5 30.6l-2.8 1.8l-1 3l.1 46.9l22.9 107l7.7 30.5l7.7 23.3l8.8 9.5l3.6 1.5l39.1-.1l320.5-61l773.4-155.4l-12.2-4.6l-15-9.4l-9-3.2l-6 .3l-18 5.6l-9 1.5l-30-1.6l-24 1.3l-27-.2l-9 1.9l-27 9.6l-9 2.3l-15 2.1l-21 1.3l-18 5.2l-15 1.3l-18 3.1l-9 2.9l-30 12.5l-9 2.4l-9 .8l-60-2.7l-30-3.1l-9-1.7l-9-3.8l-6-4.6l-4.2-6l-2.1-9l.7-6l2-6l3.6-6.4l6.9-8.6l6.4-6l7.7-5.4l15-5.7l9-1.8l42-4.7l30-5l30-6l33-8.3l21-3.8l27-8.2l57-23l18-4.8l9-1.1l12 .1l48 4.4l42-3l36-9l39-18l30-9.5l15-2.3l30 .8l18-1.9l6-2.5l6-3.8l39.4-30.5l8.6-8.1l4-6.9l.3-6l-3.4-6l-6.9-5.1l-6-2.6l-9-2.5l-13.7-1.8zM1057 241.1l-.2-.1h1.2z" fill="#004dff"/>
<path d="M1567 92.6l.3 19.4l6.2 27l1.5 21l1.6 6l2.4 3.1l6 3l6 .2l9-2.7l14.4-8.3l-13.7-44.3l-7.6-15.3l-8.6-8.9l-11.2-1.5zM1468 163.7l-18 5.2l-30 13.2l-30 7.8l-21 3.8l-15 .6l-15-.6l-78-8.4l-12 .1l-18 2.3l-21 5.2l-69 21.4l-27 11.6l-12 3.3l-6 .1l-6-1.4l-18-10.3l-15-4l-21-10l-11.8-4.1l-27.9 5.6l-2.3 2.9l-1.7 6l1.7 6.3l4.4 5.7l-37.4 4.3l-12 2.9l-9 3.4l-15 8l-12 7.8l-21 19.1l-6 3.2l-9 2.8l-27 .5l-18 2.5l-7.8-.5l-16.2-3l-9-.1l-42 6.6l-21 6.9l-15 2.4l-6-.7l-6-2.6l-21-15.4l-6-2.4l-9.6-1.8l-366.7 73.3l-137.5 30.6l-2.8 1.8l-1 3l.1 46.9l22.9 107l7.7 30.5l7.7 23.3l8.8 9.5l3.6 1.5l39.1-.1l320.5-61l766.6-154.1l-11.4-5.2l-12-8.2l-3.7-1.7l-5.3-.8l-21 5.2l-12 1.4l-27-1.9l-24 1l-27-.5l-9 2l-27 10.2l-9 2.4l-36 4l-18 5.7l-15 .5l-18 2.4l-9 2.9l-27 12l-9 2.8l-9 1.3l-63-3.3l-39-4.6l-9.6-3.7l-7.7-6l-3.9-6l-1.9-9l.8-6l2-6l8.3-12.6l12.2-11.4l5.8-3.7l9-3.7l15-3.3l39-4.1l36-6.1l28.2-6.1l34.8-9.5l18-3.5l27-7.8l54-21l21-6.1l9-1.2h9l51 4.7l42-3.4l21-4.5l18-5.2l39-18.6l30-10l12-1.8l33 .7l15-2.2l6-2.5l9-5.8l32.9-25.3l9.7-9l3.1-6l-.2-6l-3.5-5.1l-6-4.1l-7.6-2.8l-10.4-2.2l-12-1.2l-18-.1zM1051 233l9-.3l6 2.7l6.5 5.6l1.9 3l.6 3.8l-2.5 2.2l-3.5 .1l-12-2.8l-9-3.3l-10.5-6l4.9-3z" fill="#0055ff"/>
<path d="M1570.8 91.8l-.4 20.2l5.5 27l2.3 24l1.6 3l5.2 3.9l6 .6l6-1.5l16.7-9.7l-13-42.3l-7.6-15.3l-8.6-8.9l-11.2-1.5zM1003 207.8l-2.5 3.2l.2 3l3.3 3l26 10l6 1.3l6 .1l8.2-2.4l3.9-3l-.8-3l-8.2-6l-18.1-7.9l-12-1.8l-6 .7zM1462 167.7l-13.5 4.3l-28.5 13.3l-24 6l-21 3.5l-12 .9l-18-.4l-75-8l-12-.6l-12 .6l-18 2.7l-18 4.8l-72 22l-24 10.4l-12 3.6l-9 .3l-6-1.3l-15-8.1l-3-.3l-5.8 1.6l1 3l10.8 9.1l4.4 5.9l5.3 12l-.7 1.4l-3 1.2l-13.2-2.6l-40.8-14l-24-6.2l-15-2.5l-21 .5l-18 3.6l-15 6.4l-19.6 12.2l-22.4 20.6l-7.3 3.4l-7.7 1.8l-24 .4l-21 2.5l-24-3.1l-9-.1l-42 6.2l-21 6.7l-15 2.4l-6-.7l-6-2.4l-18-13.1l-6-3.1l-9-2.4l-10.5-.8l-359.8 71.9l-137.5 30.6l-2.8 1.8l-1 3l.1 46.9l22.9 107l7.7 30.5l7.7 23.3l8.8 9.5l3.6 1.5l39.1-.1l320.5-61l760.6-152.8l-8.4-4.4l-12-8.4l-6-1.5l-24 4.6l-9 .7l-27-2l-24 .8l-27-.9l-9 2.1l-27 10.8l-9 2.4l-33 4.2l-21 6.6l-18-.2l-15 1.7l-9.4 3.1l-26.6 12.3l-9 2.8l-9 1.1l-63-3.7l-33-3.5l-9-1.9l-9.5-4.1l-7.1-6l-3.6-6l-1.7-9l.8-6l2.2-6l3.3-6l7.1-9l14.1-12l12.4-5.5l15-2.9l45-4.8l30-5.4l23.9-5.4l39.1-11.4l42-10.2l57-21.1l24-7l15-.7l36 4.2l18 .6l39-3.5l27-6l15-4.8l33-16.6l33-12.5l12-1.8l33 .5l12-1.6l6-1.9l15-9.1l29.7-23.1l6.2-6l3.1-6l-.8-6l-2.2-3l-6-3.8l-9-3l-12-2.1l-15-.8l-15 .3z" fill="#005dff"/>
<path d="M1574.8 91.5l-1.1 20.5l4.9 27l1.6 21l1.8 4.2l3 2.9l3 1.1l6-.3l9-4.2l10-6.7l-12.3-40l-7.6-15.3l-8.6-8.9zM1462 170.5l-14.1 4.5l-21.9 11.5l-9 3.4l-18 4.1l-27 3.2l-30-.9l-60-6.6l-21-1.5l-18 1l-18 3.3l-87 25.9l-30 12.3l-19.8 4.3l-2.7 3l.6 6l7.9 12l-1 3l-3 1.2l-6 .1l-5.6-1.3l-48.4-16.8l-33-8.4l-15-1.7l-18 .4l-18 4.2l-15 7l-18.2 12.3l-17.8 17.8l-6 3.3l-9 2.6l-9 1l-21 .1l-18 2.2l-24-2.8h-9l-42 5.7l-21 6.5l-15 2.3l-6-.6l-6-2.2l-18-12.5l-9-4.2l-12-1.9l-15.2 .1l-349.1 69.8l-137.5 30.6l-2.8 1.8l-1 3l.1 46.9l22.9 107l7.7 30.5l7.7 23.3l8.8 9.5l3.6 1.5l39.1-.1l320.5-61l755.2-151.7l-15-10l-6-2.2l-33 3.8l-27-2.1l-21 .6l-30-1.3l-10.6 2.7l-28.4 11.9l-39 6.2l-18 6.5l-21-.7l-15 1.4l-9 3l-27 12.9l-9 2.7l-9 1l-27-2.6l-36-1.6l-33-3.5l-9-1.7l-12-5.2l-6-5.3l-4.2-7l-1.5-9l.9-6l2.1-6l7.8-12l12.9-12.5l8.5-5.5l6.5-2.7l16.3-3.3l46.7-4.8l45-9l51-15.4l42-10l57.9-20.8l20.1-6.1l15-.6l36 4.4l18 .6l39-3.7l30-6.7l12-4l36-18.5l30-12.7l12-1.9l21 1.1l12-.4l12-1.8l6-2l13.3-7.7l26.8-21l6.1-6l3-6l-1.2-5.1l-3-3l-6-2.9l-9-2.4l-12-1.8l-15-.5l-12 .6z" fill="#0065ff"/>
<path d="M1578.9 92.1l-1.8 19.9l4.3 27l1.2 18l2.4 6.2l3 2.1l6 .1l6-2.5l12.2-8.5l-11.5-37.4l-7.6-15.3l-8.6-8.9zM1462 173.5l-14 4.5l-28 15.2l-9 2.6l-12 1.7l-36 1.6l-24-1.8l-57-6.4l-21-1.2l-15 .8l-18 3l-90 26.4l-45 17.8l-2.5 3.3v3l7.4 12l-.6 3l-1.3 1.4l-6 2.8l-9-.8l-36-13.9l-30-9l-27-5.5l-15-.8l-9 .5l-18 4.1l-15 7.1l-16.2 11.1l-14.1 15l-5.7 4.9l-6 2.9l-9 2.2l-27 .7l-21 2.3l-24-2.4l-9 .1l-42 5.3l-21 6.3l-15 2.3l-6-.5l-6-2.1l-18-11.9l-9-4.2l-12-1.8l-26 .5l-338.3 67.6l-137.5 30.6l-2.8 1.8l-1 3l.1 46.9l22.9 107l7.7 30.5l7.7 23.3l8.8 9.5l3.6 1.5l39.1-.1l320.5-61l750.7-150.8l-13.5-8.6l-6-1.5l-33 2.6l-24-2.2l-21 .3l-30-1.8l-12 3.4l-27 11.9l-36 6.1l-20.7 7.4l-24.3-1.5l-13.4 1.5l-8.3 3l-26.3 13l-9 2.7l-9 .7l-27-2.8l-39-2l-30-3.2l-11.9-2.4l-12.1-5.9l-6-6l-3.2-6.1l-1.3-9l.9-6l2.2-6l3.4-6l7.1-9l13.3-12l7.6-4.5l6-2.3l15-2.8l45-4.3l42-8.2l24-6.7l36-12.2l42-9.8l60-20.8l18-5.3l12-.2l33 4.5l21 .8l39-3.9l30-6.6l13.6-4.7l52.4-27.9l15-6.1l9-1.1l30 1.5l12-1.4l9-2.8l9-4.8l11.5-8.4l17.5-15l4.4-6l.6-3l-.9-3l-3.1-2.8l-12-4.3l-12-1.8l-12-.6l-12 .4z" fill="#006dff"/>
<path d="M1583.4 92.7l-2.7 19.3l3.5 24l1.3 18l2.5 6.7l3 1.6l3-.1l6-2.6l11.3-8.1l-10.6-34.5l-7.6-15.3l-8.6-8.9zM1468 175.6l-11 2.4l-7 2.6l-27 16.9l-6 2.4l-9 1.5l-42-.4l-81-8.5l-18-1.2l-18 .5l-21 3.4l-93 27.2l-36.6 15.6l-3.2 3l-.7 3l5 9l1 3l-.4 3l-4.1 4l-6 2.6l-9-1l-33-13.7l-36-10.7l-24-4.7l-15-1.1l-9 .5l-18 4.1l-15 7.2l-15 10.4l-18 19.2l-6 3.5l-9 2.5l-12 1.2l-18-.1l-21 2.1l-24-2l-9 .2l-42 4.9l-21 6.1l-15 2.3l-6-.5l-6-1.9l-21-13.2l-9-3.1l-9-.9l-21 .9l-13.9-.4l-100.7 20.1l-6.9 3.5l-7.5 2.2l-9 1.1l-8.5-.4l-196.8 39.3l-137.5 30.6l-2.8 1.8l-1 3l.1 46.9l22.9 107l7.7 30.5l7.7 23.3l8.8 9.5l3.6 1.5l39.1-.1l320.5-61l746.4-149.9l-9.2-5.7l-9-2.3l-30 1.4l-24-2.3l-21 .1l-21-2.3h-9l-12 3.5l-27 12.3l-36 6.7l-18 7l-9 .6l-21-2.3l-12 1.8l-30 14.9l-9 3.1l-9 1.3l-33-3.6l-33-1.3l-36-4l-9-1.9l-10.4-4.3l-7.6-6l-5.2-9l-1.1-9l.9-6l2.3-6l7.9-12l15.6-15l12.6-6.9l15-3l48-4.6l36-6.9l27-7.6l42-15.1l30-5.8l21-5.8l66-22.6l12-.2l30 4.5l21 1.3l39-3.7l33-7.1l9-2.7l8-3.8l61-35.4l9-1.7l21 2.5l12 .4l12-1.4l9-2.9l11.4-6.5l11-9l9-9l3.2-6l-.5-3l-2.9-3l-7.2-3.1l-18-2.8z" fill="#0075ff"/>
<path d="M1587.8 96.2l-2.6 12.8l.1 9l4.4 33l1.3 3.9l3 2l6-2l10.2-7.2l-9.5-30.7l-7.6-15.3zM1453 183.5l-10.7 6.5l-12.2 12l-1.8 3l-.1 3l3 3l9.8 3.9l12 2.4l12-.1l9-1.7l10.4-4.5l8.4-6l8.7-9l2.9-6l-.4-3l-2.7-3l-7.3-3l-8-1.4l-18-.1zM1246 193.7l-21 4.1l-33 10.7l-54 14.6l-29.7 11.9l-5.5 3l-3.4 3l-1.1 3l4.5 12l-.4 3l-6.4 6.1l-6 2.5l-3 .4l-6-1.2l-33-14.7l-33-10l-27-5.4l-15-1l-9 .3l-18 4.2l-15 7.2l-15.8 11.6l-17.2 19l-6 3.1l-7.8 1.9l-10.2 1h-21l-21 2.1l-24-1.8l-9 .2l-42 4.8l-21 5.9l-15 2.2l-6-.4l-6-1.9l-21-12.5l-9-3.1l-9-.7l-27 1.4l-15.4-1.3l-87 17.3l-8.6 5.6l-9 3.3l-12 1.4l-14-1.5l-191.3 38.2l-137.5 30.6l-2.8 1.8l-1 3l.1 46.9l22.9 107l7.7 30.5l7.7 23.3l8.8 9.5l3.6 1.5l39.1-.1l320.5-61l742-149l-7.8-4.2l-9-1.9l-30 .4l-21-2.3l-21-.1l-21-2.8l-9-.2l-10.1 2.9l-25.9 12.7l-36 7.3l-21 8.1l-9 .4l-21-2.9l-11.1 1.4l-7.5 3l-23.4 12.6l-9 3.1l-9 1l-30-3.7l-36-1.4l-42-5.2l-10.8-3.4l-7.2-4l-6-5.8l-4.3-8.2l-1-6l1.1-9l2.3-6l5.6-9l7.8-9l9.5-8.7l9-5.9l6-2.5l12-2.3l48-4.2l39-7.5l30-9.1l39-15.3l33-5.8l21-5.5l63-21.9l12-.3l30 4.9l21 1.3l39-3.9l33-7.1l15-5.4l34.5-20.8l14.5-12l6.2-9l-.8-3l-5-3l-16.4-3.7l-21-1.4l-84-9.4l-21-.7z" fill="#007dff"/>
<path d="M1592.3 100.9l-1.9 8.1l-.2 9l3.2 21l1.9 6l1.7 2.2l3 .4l8.7-4.8l-8-25.8zM1459 186.2l-9 4.8l-7 8l-.9 3l.5 3l2.4 3l6.1 3l13.9 1.4l12-2.8l6-3.2l5.4-4.4l4.5-6l.9-3l-.6-3l-3.1-3l-7.1-2.5l-12-.8zM1234 197.3l-39 12.4l-60 15.9l-23.4 9.4l-6.6 4l-2.2 2l-1.4 3l.1 3l3.2 9l-.2 3l-5.5 5.7l-9 5l-3 .4l-6-1.3l-15-7.9l-15-6.6l-36-11.1l-30-5.7l-21-.4l-15 3.2l-18 8.3l-15 11.3l-15 17.9l-6 3.8l-9 2.4l-12 1l-21 .1l-21 1.9l-33-1.1l-42 4.5l-21 5.7l-15 2.2l-6-.4l-6-1.7l-21-12.1l-9-3l-9-.4l-27 1.9l-21.8-2.5l-75.1 15.1l-12.9 8.8l-10.2 3.5l-15 1l-15.5-2.6l-186.8 37.3l-137.5 30.6l-2.8 1.8l-1 3l.1 46.9l22.9 107l7.7 30.5l7.7 23.3l8.8 9.5l3.6 1.5l39.1-.1l320.5-61l737.5-148.1l-7.5-3.1l-7.8-1.3l-24-.1l-24-2.5l-21-.4l-21-3.4l-9-.2l-12 3.8l-24 12.4l-36 7.7l-21 8.3l-9 .2l-21-3.5l-12 1.7l-30 15.8l-9 3l-6 .9l-36-4.4l-33-1l-42-5.3l-12-3.7l-7.4-4l-6.3-6l-3.5-6l-1.7-6l.2-9l1.7-6l4.8-9l7.2-9l9.1-9l7.9-6.4l9-4.9l12-2.6l30-1.9l21-2.4l36-6.9l34.9-10.9l37.1-15.9l6-1.5l24-2.9l24-5.6l21-6.5l36-13.8l9-2.5l9 .1l33 5.8l18 1l39-4l33-7.2l15-5.6l26.8-16.4l7.8-6l5.8-6l3.5-6l.4-3l-.9-3l-3-3l-10.4-3.9l-63.4-8.1l-35.6-3.9l-15-.8l-18 .4z" fill="#0085ff"/>
<path d="M1597.3 110.2l-.2 10.8l2.3 9l3.6 4.3l3 .1l-5.3-17.4zM1456 198.5l.4 3.5l2.6 2l3 1.2l6 .3l3-.5l6.1-3l2.9-3l.9-3l-1.3-3l-2.6-1.4l-9-.9l-7.1 2.3l-3.6 3zM1249 196.5l-21 4l-33 11.4l-60 15.3l-20.2 7.8l-6.8 4l-4 5l-.2 3l2.9 9l-.1 3l-2.3 3l-8.3 6.6l-6 3.4l-3 .5l-6-1.5l-15.6-9l-14.4-6.6l-30-9.6l-33-6.8l-24-.8l-9 1.5l-9 2.7l-15.3 7.6l-15.1 12l-14.6 18l-6 3.4l-6 1.5l-12 1.1l-24 .2l-21 1.7l-33-.8l-42 4.4l-21 5.5l-15 2.2l-6-.4l-6-1.6l-21-11.6l-9-2.9l-9-.1l-27 2.5l-28.2-3.7l-62.7 12.6l-17.1 12l-9 3.4l-18 1.1l-19.8-3.8l-182.5 36.5l-137.5 30.6l-2.8 1.8l-1 3l.1 46.9l22.9 107l7.7 30.5l7.7 23.3l8.8 9.5l3.6 1.5l39.1-.1l320.5-61l732.3-147l-10.1-2.8l-66-3.8l-24-4.2l-9-.3l-12 3.9l-24 12.9l-33 7.2l-24 9.4h-9l-21-4l-11.4 1.5l-6.9 3l-23.7 13.5l-9 2.9l-6 .7l-36-4.8l-33-.9l-45-6.1l-12-4l-7.1-4.3l-5.9-6l-4.2-9l-.8-6l.5-6l1.7-6l4.8-9l7.2-9l12.6-12l8-6l7.2-3.5l12-2.3l27-1.2l24-2.7l36-7.1l23.5-7.2l15.9-6l32.6-15.6l6-1.5l27-2.3l27-6.1l21-6.8l33-13.4l6-1.5h9l33 6.3l18 1l39-4l30-6.6l15-4.9l22.7-13.6l7.9-6l6-6l3.6-6l.6-3l-.5-3l-2-3l-4.5-3l-9.8-2.8l-15-2.6l-75-9.2l-18-.7z" fill="#008dff"/>
<path d="M1301.1 390.4l-10.1-1.8l-63-4.4l-21-4.7l-9-.4l-9.6 2.9l-26.4 14.5l-33 7.6l-21 9l-9 .9l-21-4.7l-12 .6l-9 3.6l-15 9.5l-9 4.5l-9 2.9l-6 .6l-33-5.1l-36-.8l-39-5.3l-12-2.7l-11.8-5.1l-7.2-6l-5.4-9l-1.5-9l2.2-12l3-6l6.5-9l18.7-18l7.5-5.1l6-2.7l9-1.7l30-1.1l21-2.2l39-7.8l24-7.6l19.3-7.8l28.7-15.9l6-1.3l15 .4l9-.7l30-5.9l24-7.8l30-13l6-1.8l9 .1l30 6.6l21 1.4l39-4.2l33-7.4l12-4.4l10.7-6.1l13.3-9l6.5-6l4.1-6l.9-6l-2.5-4.4l-6-3.7l-15-3.9l-18.1-3l-59.9-7.2l-30-.2l-21 3.1l-36 12.7l-60 14.7l-24 8.9l-5.6 4l-2 3l-.4 3l3.1 12l-2.3 3l-13.8 11.1l-6 2.2l-6-1.9l-21-12.8l-21-8.5l-21-6.2l-15-3.2l-18-3l-15-.8l-9 .7l-9 2l-18 7.7l-9 6l-7.7 6.7l-11.3 15l-5 5.1l-6 3l-6 1.3l-36 .8l-21 1.7l-33-.5l-42 4.3l-24 5.9l-15 1.5l-9.8-2.1l-20.2-10.9l-9-2.7l-6-.1l-21 3l-9 .4l-12-1l-22.6-4l-48.2 9.6l-9.8 5.7l-12.4 9.4l-6 2.9l-6 1.5l-9 .8l-12-.4l-21.2-4.6l-178.1 35.6l-137.5 30.6l-2.8 1.8l-1 3l.1 46.9l22.9 107l7.7 30.5l7.7 23.3l8.8 9.5l3.6 1.5l39.1-.1l320.5-61z" fill="#0095ff"/>
<path d="M1294 391.7l-63-5.2l-24-5.8l-9-.5l-6 1.4l-6 2.7l-18 11.2l-6 2.6l-32.8 7.9l-21.2 9.5l-9 .7l-24-5.6l-9 .8l-8.6 3.6l-15.4 10l-9 4.6l-9 2.8l-6 .5l-33-5.6l-39-1l-36-5.2l-13.7-3.1l-13-6l-6.7-6l-5-9l-1.4-9l2.3-12l3-6l6.6-9l18.9-18.3l9-6.3l6-2.4l9-1.4l27-.5l21-2.1l18-2.9l23-5.1l27-9l20.6-9l10.4-6l15-11.7l3-1.2l12 2.6l9 .5l12-1.1l21-3.8l27-8.2l16.9-7.1l13.1-6.8l6-1.9l9 .1l30 7.2l21 1.5l36-3.8l33-7.3l9-2.7l9.1-4.3l14.2-9l10.1-9l3.5-6l.5-3l-.5-3l-1.9-3l-4.2-3l-9.8-3.3l-18-3.6l-35.3-5.1l-27.7-2.9h-30l-19.5 2.9l-10.5 3.1l-27 10.8l-57.2 13.1l-14.8 4.6l-10.6 4.4l-4.4 3l-2.2 3l-.7 3l.5 3l4 9l-11.6 9l-11 11.2l-3 .5l-3-1.2l-21-15.1l-21-9.3l-33-9.3l-24-4.1l-15-.8l-9 .7l-9 2l-18 7.8l-15 11.6l-16.5 21l-5.2 3l-8.3 1.8l-33 .2l-24 1.7l-33-.1l-42 4.2l-24 5.7l-15 1.5l-12-2.8l-18-9.7l-9-2.4h-6l-18 3.4l-12 .8l-12-1l-29.5-5.2l-31.2 6.2l-15.3 7.7l-16.2 12l-9.8 3.6l-9 .9l-15-.6l-26-5.3l-173.3 34.6l-137.5 30.6l-2.8 1.8l-1 3l.1 46.9l22.9 107l7.7 30.5l7.7 23.3l8.8 9.5l3.6 1.5l39.1-.1l320.5-61z" fill="#009dff"/>
<path d="M1240 202.7l-15 4.2l-27 11.6l-51 10.7l-20.2 5.8l-9.8 4.1l-5.8 4.9l-.9 3l.4 3l3.3 4.4l6.4 1.6l.8 3l-10.2 4.2l-7.9 4.8l-5.2 6l-1.9 6l3 3.7l9 2.5l12-.3l24-3.6l27-8l14.8-6.3l15.2-8.5l9-2.5l6 .6l24 6.8l21 2.6l15-.6l33-4.2l27-6.5l15-5.6l18.5-12.1l6-6l3-6l-.9-6l-5.6-4.7l-12-4.1l-16.4-3.2l-31.6-4.7l-30-3l-24 .2zM1286.2 393.4l-55.2-4.9l-24-6.7l-9-.5l-11.1 3.7l-21.9 13.6l-36 9.5l-21 9.8l-9 .6l-21-5.9l-9-.2l-9 2.9l-24 15l-9 3.5l-6 1.1l-9-.7l-27-5.4l-30 .1l-9-.8l-42-6.8l-9-2.3l-9-3.6l-9.1-6.4l-6.2-9l-2.3-9l1.2-12l4-9l6.7-9l11.8-12l14.9-12.2l6-3.1l6-1.6l33-.5l18-1.7l18-2.7l27-6.2l23.2-8l21.8-9.7l13-8.3l6.1-6l1.7-3l.5-3l-1.1-3l-8.4-9l-11.8-8l-15-6.9l-24-7.5l-15-3.5l-21-3.4l-18-.6l-9 1.1l-9 2.5l-17.2 8.3l-14.1 12l-13.7 18.9l-6 3.6l-6 1.4l-36 .1l-24 1.6l-30-.1l-45.3 4.5l-23.7 5.5l-15 1.4l-12-2.6l-18-9.3l-6-1.9h-9l-18 3.9l-12 1l-12-1.1l-27-5.4l-12-.3l-12 2.7l-13.8 6.1l-10.9 6l-14.3 10.8l-9 3.6l-9 1.1l-15-.6l-34.4-6.2l-167.9 33.5l-137.5 30.6l-2.8 1.8l-1 3l.1 46.9l22.9 107l7.7 30.5l7.7 23.3l8.8 9.5l3.6 1.5l39.1-.1l320.5-61l401-80.2l3.2-2.9l3-.9l5.5 1.4z" fill="#00a5ff"/>
<path d="M1255 202.2l-12 1.5l-12 2.9l-33 14.7l-48 8.9l-17.4 4.8l-15.2 6l-3.4 3l-1 3l.7 3l3.3 2.1l6 1.7l1.8 2.2l-.1 3l-3.2 3l-10.5 3.2l-6 3.2l-4.5 5.6l-.7 3l.7 3l4.5 3.1l9 1.2l18-1.3l18-2.9l24-7.8l15.5-7.3l11.5-7.6l9-2.6l6 .8l24 7.6l18 2.6l15-.1l36-4.6l30-7.7l12-5l11.7-7.4l7.2-6l4.3-6l.8-3l-.2-3l-1.7-3l-3.7-3l-7.4-3l-12.1-3l-34.9-5.9l-27-3l-12-.6zM1277.3 395.3l-46.3-4.7l-24-7.5l-9-.7l-6 1.5l-6 2.9l-21 13.5l-33 8.7l-24 11.4l-9 .5l-21-6.5l-9-.3l-9 3.1l-24 15.3l-9 3.6l-6 1.1l-9-.9l-27-5.8l-36-.1l-45-7.8l-18-5.5l-6-3.4l-5.6-4.7l-5.8-9l-2.2-9l1.2-12l4.1-9l6.7-9l15.3-15l13.3-10.8l6-3l6-1.3l33 .1l24-2.4l15-2.6l24-5.8l27.7-10.2l18.6-9l11.8-9l3.9-6l-.4-6l-7.2-9l-8.2-6l-13.2-6.7l-18-6.1l-21-5.6l-21-3.6l-18-1l-9 .7l-9 2.2l-18.2 8.1l-14.5 12l-12.2 18l-3 3l-3.1 2l-6 2l-36-.1l-24 1.5l-33 .2l-48 5l-21 4.9l-12 1.4l-6-.2l-7.4-1.7l-19.6-9.5l-6-1.7l-6-.1l-21 5l-12 1.1l-12-1.1l-27-5.8l-12-.3l-9 1.9l-10.7 4.5l-13.3 7.2l-15 11.1l-6 2.9l-6 1.5l-9 .8l-15-.9l-27-5.2l-13.9-1.4l-161.4 32.2l-137.5 30.6l-2.8 1.8l-1 3l.1 46.9l22.9 107l7.7 30.5l7.7 23.3l8.8 9.5l3.6 1.5l39.1-.1l320.5-61l396.8-79.4l1.4-2.9l3-2.9l3-1.4l6-.3l6.5 3.5z" fill="#00adff"/>
<path d="M1240 205.9l-12 3.6l-21 11.3l-9 3.5l-45 6.9l-14.1 3.8l-16.6 6l-4.5 3l-1.2 3l9.3 6l1.2 3l-.2 3l-3.9 4.2l-15 5.2l-3.3 2.6l-1.6 3l-.1 3l2 2.8l3 1.4l9 1.1l18-.9l15-2.2l15-4.2l10.2-4l12.3-6l13.5-9.8l3-1.6l6-1.2l6 1.1l21 7.8l21 3.5l15-.1l33-4.1l29.7-7.6l14.7-6l9.4-6l7.1-6l4.1-6l.6-3l-.7-3l-2.5-3l-8.4-4.2l-19.3-4.8l-25.7-4.5l-39-3.6l-21 .9zM1269.4 396.9l-38.4-4.1l-9-2.4l-15-6l-9-.9l-6 1.5l-6 3l-15 10.9l-6 3.1l-33 9.1l-24 11.9l-9 .4l-21-7.2l-9-.4l-9 3.4l-24 15.5l-9 3.7l-6 1.2l-9-.9l-27-6.2l-12-.3l-15 1l-9-.6l-48-9.3l-18-6l-6-3.7l-4.9-4.6l-5.6-9l-2.1-9l1.3-12l4-9l6.9-9l12-12l15.4-13.3l6-3.7l6-1.9l33 .5l15-1l24-3.5l27-6.6l25-9.5l18.4-9l8.8-6l5.3-6l1.4-3l-.1-6l-6.5-9l-8.3-6l-11.8-6l-17.7-6l-20.5-5.5l-21-3.6l-18-.9l-9 .8l-9 2.1l-18 8.2l-6.7 4.9l-8.3 8.1l-12.6 18.9l-5.4 3.9l-6 1.7l-36-.8l-24 1.5l-30 .2l-51 5.3l-21 4.7l-12 1.4l-9-.7l-6-1.6l-18-8.5l-6-1.7l-8 .6l-19 5.4l-12 1.1l-15-1.5l-24-5.6l-12-.4l-6 1.2l-9 3.5l-15.2 8.3l-17.2 12l-9.6 3.4l-9 1l-15-.8l-33-5.9l-18.4-1.2l-153.9 30.7l-137.5 30.6l-2.8 1.8l-1 3l.1 46.9l22.9 107l7.7 30.5l7.7 23.3l8.8 9.5l3.6 1.5l39.1-.1l320.5-61l393.4-78.7l3-6.5l4-3l3.8-1.5l9 .6l7 5z" fill="#00b5ff"/>
<path d="M1255 205.3l-12 1.6l-12 3.2l-8.1 3.9l-15.9 10l-9 3.8l-42 4.4l-15 4.1l-12.1 4.7l-4.7 3l-.4 3l2.2 1.9l3 6.6l-.3 3.5l-1.5 3l-4.2 3.2l-15 5.7l-1.7 3.1l.9 3l6.8 2.8l9 .6l18-.8l15-2.7l15-4.9l14.5-7l15.5-12.6l6-2.6l9 1.5l21 8.9l18 3.3l15 .4l33-3.8l21-5l22.9-8.1l13.6-9l5.6-6l1.4-3l.2-3l-1.3-3l-3.6-3l-6.8-3l-17-4.4l-27-5.1l-24-2.6l-12-.5zM1262 398.4l-31-3.4l-9-2.6l-15-6.6l-6-1.2l-4.7 .4l-10.3 4.4l-18 12.9l-9 3.4l-27 7.5l-24 12.5l-9 .3l-21-7.9l-9-.5l-8.6 3.4l-15.4 10.9l-9 5.2l-9 3.9l-6 1.3l-9-.6l-24-5.9l-12-.7l-24 .5l-24-6l-30-5.7l-16.9-5.9l-10.1-7.6l-6.6-10.4l-2-9l1.4-12l4-9l6.9-9l8.9-9l20.4-17.9l6-3.7l6-1.7l30 1.3l15-.6l24-3.3l27-6.4l25.3-9.7l18.3-9l10.4-7.4l5.2-7.6l.1-6l-1.3-3l-4.9-6l-8.3-6l-12.1-6l-35.7-10.6l-21-3.6l-18-.8l-9 .8l-9 2.2l-12 5l-7 4l-13.2 12l-12.8 19.5l-3 2.6l-6 2.6l-9 .5l-30-1.5l-24 1.4l-27 .2l-54 5.7l-21 4.6l-12 1.3l-9-.6l-6-1.5l-18-8.2l-6-1.4l-6 .5l-21 6.3l-12 1.1l-15-1.3l-24-5.8l-12-.4l-6 1.3l-7.5 3.1l-13.5 7.8l-15 10.2l-6 3l-9 2.5l-18 .3l-15-1.8l-24-4.5l-26.1-1.5l-146.2 29.2l-137.5 30.6l-2.8 1.8l-1 3l.1 46.9l22.9 107l7.7 30.5l7.7 23.3l8.8 9.5l3.6 1.5l39.1-.1l320.5-61l390.3-78.1l.6-4.1l3.4-6l3.9-2.9l6-2.2l9 .4l6 3l5.1 5z" fill="#00bdff"/>
<path d="M1240 209.2l-13.3 4.8l-19.7 14.1l-6 3.3l-6 .8l-21-.2l-15 1.4l-12 2.8l-12.3 4.8l-4.2 3l-1.1 3l1.4 9l-1.8 6.4l-3 3.2l-12 5.4l-2.2 3l5.2 3.2l18 1.3l12-.6l15-3.5l9.3-3.4l12.1-6l8.1-6l9.5-10.5l6-2.6l6 1.5l21 10.6l15 3.6l18 1.4l33-3.5l21-4.8l21.9-7.7l14-9l5.2-6l1.1-3l-.3-3l-2.4-3l-6.5-3.7l-17.3-5.3l-24.7-5l-36-3.2l-24 1.3zM1254.4 399.9l-26.4-3.3l-21-9.3l-6-1.3l-6 .6l-9 4.2l-18 13.4l-35 10.8l-19 11l-6 2.5l-9 .3l-21-8.5l-9-.6l-6 2.2l-18 12.5l-12 6.6l-12 4.5l-15 .9l-1.4 1.6l.3 2.1zM962 458.7l2-13.7l-.5-3l-32.5-9.9l-39-8.4l-9-3.1l-9.6-5.6l-8.1-9l-4-9l-.9-9l2.3-12l5.1-9l7.7-9l25.5-23.3l9-6l9-1.5l21 1.9l15 .2l33-4.4l21-5.1l11.4-3.8l20.7-9l16.5-9l5.4-4.2l4.2-4.8l2-6l-1.5-6l-4.8-6l-3.8-3l-17.1-9l-27-8.3l-24-4.6l-18-1.1l-15 1.5l-15 5.2l-12 7.1l-12 12.1l-8.9 15.1l-3.1 3.7l-6 3.9l-6 1.1l-33-2l-54 1.6l-54 6l-21 4.4l-12 1.3l-9-.6l-6-1.4l-18-7.6l-6-1.3l-6 .8l-18 6l-15 1.8l-15-1l-21-5.3l-12-1.3l-6 .9l-9 3.6l-24.6 15.4l-8.4 4.3l-9 2.7l-9 1l-21-1.5l-33-5.5l-30.1-1.6l-139.2 27.8l-137.5 30.6l-2.8 1.8l-1 3l.1 46.9l22.9 107l7.7 30.5l7.7 23.3l8.8 9.5l3.6 1.5l39.1-.1l320.5-61z" fill="#00c5ff"/>
<path d="M1255 208.3l-18 3.4l-11.9 5.3l-7.9 6l-6 6l-3.9 6l-.4 3l2 3l8.1 6l15.1 9l16.9 4.6l18 1.4l30-3l25.3-6l22.3-9l8.4-6l4.7-6l.5-3l-1-3l-3.1-3l-9.1-4.3l-16.5-4.7l-19.5-4l-21-2.3l-12-.5zM1150 236.9l-10.7 4.1l-4.4 3l-2 3l-.5 9l-1.4 6l-2 3.5l-7 5.5l-.3 3l10.3 2.5l12 .6l12-1.9l13.3-4.2l12.1-6l8-6l6.4-9l3.3-9l-2.5-3l-4.6-1.8l-12-2.1l-18 .5zM1246 401.5l-12-1.5l-9-2.2l-21-10h-9l-7 3.2l-14 11.2l-6 3.7l-36 11.8l-16.8 10.4zM1098.7 431.4l-20.7-8.8l-9-.6l-6 2.3l-18 12.6l-15.3 8.3zM959.2 459.3l-2-11.3l-2-3l-10.4-6l-16.8-6l-39.6-9l-8.4-3.2l-9.1-5.8l-7.7-9l-3.9-9l-.7-12l3.4-12l6.1-9l8.5-9l24.4-22.1l9-5.9l9-1.1l18 2.4l15 .6l33-3.9l33.2-9l20.2-9l15.6-8.5l6-4.4l4.6-5.1l2.2-6l-.3-3l-3-6l-2.9-3l-14.2-9l-26.4-9l-14-3.4l-21-3.2l-21 .1l-15 3.9l-9 4l-7.4 4.6l-12.3 12l-8.8 15l-4.5 5.7l-3 2.3l-6 2.2l-36-2.7l-51 1.6l-57 6.5l-21 4.2l-12 1.2l-15-1.7l-18-7.2l-6-1l-6 1.1l-18 6.2l-15 1.8l-15-.7l-24-5.8l-9-.7l-6 1.1l-6 2.4l-30 17.7l-15 4.7l-18 .5l-42-6.3l-39.4-2.4l-132.9 26.5l-137.5 30.6l-2.8 1.8l-1 3l.1 46.9l22.9 107l7.7 30.5l7.7 23.3l8.8 9.5l3.6 1.5l39.1-.1l320.5-61z" fill="#00cdff"/>
<path d="M1243 211.8l-12 3.9l-6.9 4.3l-9 9l-2.4 6l1.8 6l9.5 9l10 5.5l12 3.5l12 1.6l12 .3l24-2.5l15-2.9l17.7-5.5l13.6-6l8.5-6l4.1-6v-3l-1.7-3l-6.2-4.3l-12.6-4.7l-20.4-5l-33-3.4l-24 1.3zM1144 240.8l-5.5 3.2l-3.5 5.2l-2.2 12.8l-3.8 9l3 3l6 1.5l9 .3l9-1.4l12-3.7l11.4-5.7l7.9-6l4.1-6l1.9-6l-.2-3l-1.7-3l-5-3l-6.4-1.6l-9-.6l-12 .8zM1238.6 403l-13.6-3.1l-21-10.5l-9-.1l-9 4.6l-12 10.2l-6 3.7l-33 11l-13.3 8zM1093.6 432.4l-15.6-7.2l-9-.7l-6 2.5l-25 16.5zM956.5 459.8l-4.5-11.8l-6-5.2l-6.9-3.8l-14.1-5.1l-40.9-9.9l-7.1-3.1l-8.5-5.9l-7.4-9l-3.9-9l-.6-12l3.4-12l6-9l8.7-9l29.3-26.5l6-3.3l6-.9l21 3.3l12 .8l12-.6l21.1-2.8l14.9-3.3l19.1-5.7l19.7-9l16.1-9l5.1-3.7l5.1-5.3l1.5-3l.6-6l-1.2-3.3l-4.7-5.7l-14.5-9l-27.1-9l-22.7-4.6l-21-1.4l-15 1.7l-15 5.4l-12 7.6l-9.3 9.3l-8.7 15l-6 7.8l-3 2.3l-6 1.9l-33-3.5l-54 1.5l-57 6.9l-21 4l-12 1.2l-15-1.6l-21-7.1l-6 .3l-21 7l-18 2l-15-.7l-21-5.2l-9-.5l-9 2.4l-31.3 17.3l-10.7 3.5l-12 1.7l-18-.8l-36-5.5l-45.2-3.1l-127.1 25.4l-137.5 30.6l-2.8 1.8l-1 3l.1 46.9l22.9 107l7.7 30.5l7.7 23.3l8.8 9.5l3.6 1.5l39.1-.1l320.5-61z" fill="#00d5ff"/>
<path d="M1255 211.4l-12 2l-9 2.8l-6.8 3.8l-6.6 6l-3.7 6l-.2 6l3.4 6l6.4 6l12.3 6l16.2 3.3l15 .5l24-2.5l19.8-4.3l15.8-6l11-6l3.6-3l3.5-6l-.5-3l-2.1-3l-4.3-3l-10.8-4.4l-15.8-4.6l-14.2-2.4l-18-1.5zM1153 239.3l-11.1 4.7l-3.3 3l-1.6 3l-3.9 18l.7 3l4.2 2.6l12 .9l15-3.6l6.9-2.9l10-6l3.3-3l3.7-6l.7-6l-1.1-3l-5.5-4.1l-6-1.6l-9-.7zM1232.8 404.4l-10.8-3.6l-18-9.7l-9-.3l-6.6 3.2l-14.2 12l-6.2 3.6l-30 10.4l-10.3 5.6zM1089.1 433.3l-11.1-5.1l-6-1.1l-3 .4l-6 2.6l-17.5 11.9zM953.7 460l-2.3-6l-3.9-6l-10.5-7.5l-15-5.7l-39-9.8l-9-4l-6-4.3l-9-10.7l-4-9l-.5-12l3.4-12l6-9l8.7-9l31.4-28.7l6-3.2l6-.4l18 3.8l15 1.3l30-2.8l15-3.2l19.8-5.8l13.5-6l16.6-9l9.3-6l6.1-6l1.7-3l.7-6l-1.7-4.2l-4.1-4.8l-8.8-6l-6.3-3l-27.9-9l-21.9-4.2l-18-.8l-15 1.9l-15 5.5l-10.6 6.6l-10.4 10.5l-9 15.8l-6 7.8l-3 2.2l-6 1.7l-33-4.6l-51 1.3l-27 2.9l-57 8.9l-12 .8l-12-1.4l-18-5.8l-6-.4l-24 7.2l-24 2.4l-12-.7l-18-4.3l-9-.4l-9 2.9l-18.5 10.2l-11.5 4.9l-12 3.5l-12 1.5l-18-.8l-36-5.4l-50.9-3.7l-121.4 24.2l-137.5 30.6l-2.8 1.8l-1 3l.1 46.9l22.9 107l7.7 30.5l7.7 23.3l8.8 9.5l3.6 1.5l39.1-.1l320.5-61z" fill="#00ddff"/>
<path d="M1243 215.1l-9 3l-9 6.2l-5.3 7.7l-.3 6l3.1 6l6.4 6l8.1 4.2l12 3.1l21 1.5l24-2.5l15.6-3.3l9.1-3l12.6-6l8.2-6l2.2-3l.8-3l-.8-3l-2.6-3l-4.6-3l-15.3-6l-13.2-3.1l-18-2.1l-12-.3l-21 1.5zM1145.3 244l-4 3l-2.2 3l-3.3 15l.1 3l1.9 3l6.2 2.2l12-.7l13.8-4.5l10-6l3.3-3l3.3-6l-.2-6l-2.1-3l-7.1-3.5l-9-1.2l-9 .4l-6.4 1.3zM1228 405.3l-9-3.8l-15-8.6l-6-.9l-3 .5l-6 2.9l-18 14.6l-36.6 14.3zM1084 434l-9-3.3l-6 .2l-6 2.6l-10.8 7.2zM951.3 460.9l-3.1-6.9l-4.7-6l-9.5-6.6l-13.4-5.4l-40.6-10.7l-8.7-4.3l-6.3-5l-8.1-10l-4.1-9l-.8-6l.5-6l3.3-12l3.6-6l8-9l20.8-18l12.8-13.3l6-4.9l6-1.2l21 5.1l12 1.5l12-.2l15-1.6l18-3.4l20.7-6l24.2-12l17.9-12l3.2-3.7l2.2-5.3l-1-6l-1.9-3l-6.9-6l-5.1-3l-24.5-9l-22.8-5.3l-15-1.7l-18 .8l-18 5.4l-12 6.9l-11.8 11.9l-12.2 20.9l-3 3.6l-6 3.4l-6-.3l-21-4.5l-15-.8l-51 1.8l-84 12.1l-15-.4l-24-5.8l-6 .7l-21 6.3l-24 2.7h-12l-18-3.8l-6-.3l-9 2.2l-14.3 7.2l-15 6l-12.7 3.5l-15 1.9l-15-.5l-39-5.3l-33-2l-23.4-2.5l-115.9 23.1l-137.5 30.6l-2.8 1.8l-1 3l.1 46.9l22.9 107l7.7 30.5l7.7 23.3l8.8 9.5l3.6 1.5l39.1-.1l320.5-61z" fill="#00e5ff"/>
<path d="M1255 214.5l-12 2.3l-9 3.2l-6 4l-4.4 5l-2 6l1.2 6l4.5 6l3.9 3l11.8 4.9l15 2.5l12 .3l24-2.5l15-3.3l12.8-4.9l9.9-6l5.1-6l.5-3l-1.1-3l-2.8-3l-11.1-6l-10.3-3.3l-12-2.3l-15-1.4zM1153 242.4l-9 4.5l-4.2 6.1l-2 12l.8 3l3.3 3l5.1 1.2l6-.2l12-3l12.6-7l5.3-6l1-3l-.9-5.3l-3-3.2l-3-1.6l-12-2zM1223.9 406l-19.9-11.1l-3-.9l-6 .2l-6 3.1l-12 10.7l-6 4l-26.6 10.2zM1078.8 435.4l-9.8-.8l-9.5 4.6zM948.9 461.4l-6.2-10.4l-5.7-5.2l-6.1-3.8l-14.9-5.8l-36-9.4l-9-4.3l-6-4.5l-10.2-12l-4.3-9l-.7-6l.6-6l3.3-12l3.5-6l5.1-6l27.4-24l14.3-16.3l3-1.9l6-.3l18 5.8l9 1.7l9 .7l12-.4l21-3l17.9-4.3l15.1-5.1l13.4-6.9l22.3-15l3.3-3.6l2.5-5.4v-3l-2.8-6l-7.1-6l-5.4-3l-24.9-9l-22.3-5l-19.3-1l-16.7 2.2l-15 5.6l-12 8.3l-9 10.1l-9 16.5l-6 8.7l-3 2.4l-3 .8l-24-6.1l-18-1.3l-51 1.8l-84 12.3l-15-.2l-24-4.7l-27 6.7l-30 3.5l-9 .1l-15-2.7l-6-.1l-6 1.5l-18 7.4l-16.9 5.2l-13.1 2.7l-12 1.1l-15-.3l-39-5.1l-33-2.1l-29.2-3.1l-110.1 22l-137.5 30.6l-2.8 1.8l-1 3l.1 46.9l22.9 107l7.7 30.5l7.7 23.3l8.8 9.5l3.6 1.5l39.1-.1l320.5-61z" fill="#00edff"/>
<path d="M1246 217.8l-9 2.8l-6 3.4l-4.9 5l-2.3 6l1.2 6l4.5 6l7.5 4.7l9 2.8l21 2.2l33.1-3.7l11.9-3.4l11.4-5.6l7.1-6l1.6-3l.3-3l-1.3-3l-2.9-3l-11.3-6l-10.9-3.1l-15-2l-12-.6l-18 1.1zM1147 246.9l-5.3 6.1l-1.9 9l1.6 6l5.6 2.8l6 .2l6-1.1l12-4.9l7.5-6l2.7-6l-.4-3l-2.1-3l-7.7-3.6l-12-.6l-6 1.3zM1220.7 406.8l-16.7-9.7l-6-1.2l-3 .4l-6 3.3l-15 12.7l-16.1 7.2zM946.4 461.8l-7.1-10.8l-5.3-4.6l-7.3-4.4l-13.7-5.1l-36-9.9l-6.3-3l-7.9-6l-10.2-12l-4.6-9l-.4-9l3.9-15l3.5-6l8-9l27.9-24l13.1-18.5l3-1.8l24 9.8l12 2.2l12 .4l18-1.8l18-3.5l16.3-4.8l13.7-6l26.3-18l3.7-4l2.5-5l.1-3l-2.9-6l-7.3-6l-5.8-3l-25.1-9l-21.5-4.5l-21-.2l-15 3l-15 6.4l-12.4 10.3l-6.7 9l-13.9 26.2l-3 3l-21-8.1l-12-2.5l-12-.5l-45 1.3l-90 13.1l-15-.1l-21-3.5l-6 .3l-21 5.3l-39 5.7l-6 .3l-12-1.5l-6 .4l-15 4.7l-27 6.2l-24 3l-18-.6l-33-4.1l-39-2.7l-32.1-3.5l-104.2 20.8l-137.5 30.6l-2.8 1.8l-1 3l.1 46.9l22.9 107l7.7 30.5l7.7 23.3l8.8 9.5l3.6 1.5l39.1-.1l320.5-61z" fill="#00f5ff"/>
<path d="M1267 216.4l-24 3.9l-9 3.8l-5.5 4.9l-2.5 6l.9 6l4.7 6l5.4 3.4l9 3l21 2.2l33-3.8l12-3.7l7.9-4.1l6.6-6l1.4-3l.1-3l-1.4-3l-3-3l-8.6-4.7l-9-2.8l-24-2.7zM1145.9 250l-3.5 6l-.8 6l.6 3l2.4 3l5.4 1.7l9-.9l9.7-3.8l7.4-6l2.3-6l-.9-3l-3.2-3l-9.3-2.6h-6l-6 1.4zM958 254.6l-18 7.4l-9 7.1l-7.1 7.9l-9.6 18l-3.6 9l.1 6l6.3 6l13.9 6.7l18 2.9l21-1.4l21-4l21-6.8l12.1-6.4l19.8-15l4.1-4.5l2.2-4.5l-.7-6l-5.1-6l-10.7-6l-21.7-8l-17.1-4l-9.9-1.1l-15 .4zM1217.4 407.5l-13.4-8l-6-1.3l-3 .4l-6 3.5l-12 10.4l-8.6 5zM944.1 462.3l-5.2-8.3l-4.9-4.9l-11.4-7.1l-12.6-4.6l-30-8l-11.9-5.4l-10.3-9l-11.2-15l-1.8-6l.4-6l2.9-12l2.8-6l4.3-6l8.8-9l25.3-21l6.6-9l3.6-9l-.4-3l-2.1-3l-4.1-3l-12.9-5.6l-12-2.1l-57 1.2l-51 8.4l-36 4.7l-15 .2l-24-2.5l-21.7 4.7l-26.3 4l-24 6l-15 2.7l-24 .6l-39 5.3l-21-.4l-33-3.8l-39-2.8l-37.6-4.1l-98.7 19.7l-137.5 30.6l-2.8 1.8l-1 3l.1 46.9l22.9 107l7.7 30.5l7.7 23.3l8.8 9.5l3.6 1.5l39.1-.1l320.5-61z" fill="#00fdff"/>
<path d="M1243 222.1l-6 2.4l-6 4.5l-3 6l.8 6l2.2 3.4l6 4.6l15 4.3l18 1.1l21-2.1l11.4-2.3l14.1-6l3.9-3l3.7-6l-.1-3l-1.5-3l-3.1-3l-7.4-3.9l-12-3.2l-15-1.6l-12 .2l-18 1.9zM1148.5 250l-4.3 6l-.7 6l1.1 3l5.4 3.2l7.5-.2l8.5-3l4.7-3l4.5-6l.2-3l-1.6-3l-5.8-3.2l-6-.8l-6 .6zM967 253.8l-12 2.9l-12 4.8l-9 6.3l-8.8 9.2l-9.6 18l-2.8 9l1 6l5.9 6l11.7 6l17.6 3.1l21-1.4l21-4.1l20.1-6.6l11.1-6l18.1-15l5.1-6l1.3-3l-.6-6l-5.4-6l-11.1-6l-14.6-5.9l-24-5.8l-12-.4zM1214.2 408.2l-13.2-7.1l-6 .2l-3.5 1.7l-16.6 13.1zM941.9 462.8l-8.9-11.8l-11-7.4l-15-5.7l-29.2-7.9l-9.8-4.6l-6.1-4.4l-8.7-9l-7.3-9l-3.3-6l-.6-6l2.1-9l3.1-9l3.6-6l14.2-15l22.6-18l6.5-9l2.2-6l-.7-6l-6-6l-9.6-4.4l-12-2.4l-54 .9l-78 12.4l-24 1.7l-27-1.5l-48 8.3l-16.5 6l-6.8 6l-2.2 6l-1.5 16.4l-3 2l-3.9-3.4l-11.1-17.1l-6-3.7l-6-1.5l-9-.4l-30 3.3l-21 .5l-78-6.8l-43.1-4.7l-93.2 18.6l-137.5 30.6l-2.8 1.8l-1 3l.1 46.9l22.9 107l7.7 30.5l7.7 23.3l8.8 9.5l3.6 1.5l39.1-.1l320.5-61z" fill="#00fdf9"/>
<path d="M1255 221.1l-15 4l-6 3.6l-2.8 3.3l-1.2 3l.7 6l5.4 6l9.9 3.9l15 2.3l12-.1l18-2l12-2.6l9-3.8l5.2-3.7l3.5-6l-.2-3l-1.7-3l-3.3-3l-6.5-3.3l-9-2.4l-21-1.6zM1147 254.4l-1.6 4.6l.2 3l1.6 3l5.8 2l6-.7l6-2.3l6.1-5l1.4-3l-.3-3l-2.6-3l-7.6-2.2l-9 1.5zM952 258.8l-12 5.7l-12 10.5l-7.2 11l-6.1 15l-.1 6l3.7 6l8.1 6l7.6 3.1l15 2.4l15-.7l21-3.3l18-5.2l12.5-5.3l8.9-6l12.7-12l4.7-6l1.2-3l-.6-6l-5.6-6l-17.5-9l-13.3-4.6l-15-3.2l-12-.4l-15 1.5zM1210.9 408.8l-9.9-4.9l-6 .2l-15.1 11zM939.7 463l-8.7-11.2l-9.8-6.8l-14.9-6l-29.3-8.1l-12-6l-13.8-12.9l-7.7-9l-3.7-6l-.7-3l.7-6l4.1-12l5-9l16.1-16.9l21.1-16.1l4.7-6l2.8-6l.5-6l-3.4-6l-9.9-6l-12.8-3l-54 .9l-72 12l-27 2.5l-30-.5l-45 7.1l-13.8 5l-7.6 6l-4 9l-1.6 15l-3 4.3l-3 .1l-3-1.8l-12-16.3l-4.3-4.3l-4.7-2.9l-6-1.9l-9-.6l-30 2.5l-21 .2l-75-6.4l-48.2-5.3l-88.1 17.6l-137.5 30.6l-2.8 1.8l-1 3l.1 46.9l22.9 107l7.7 30.5l7.7 23.3l8.8 9.5l3.6 1.5l39.1-.1l320.5-61z" fill="#00faf2"/>
<path d="M1258 222.2l-18 4.9l-6 4.4l-1.9 3.5l.5 6l2.1 3l5.3 3.6l15 3.7l18 .6l17.9-1.9l9.1-1.9l12-5.5l4.6-4.6l1-3l-.4-3l-1.9-3l-3.8-3l-7.1-3l-10.4-2.1l-12-.8l-12 .5zM1150.5 253l-2.2 3l-.9 3l.5 3l2.1 2.4l3 1l6-.4l6-2.8l3.4-3.2l1.1-3l-1.5-3.6l-6-2.6l-6 .4zM958 257.9l-15 5.9l-9 6.6l-9 10l-7.3 14.6l-1.9 9l1.9 6l5.7 6l7.6 4.3l12 3.1l15 .5l21-2.8l20-5.1l14.8-6l8.9-6l11.3-12l5.1-9l-.7-6l-5.7-6l-10.2-6l-14.4-6l-14.1-3.5l-9-.9l-15 .8zM1207 409.5l-6-2.5l-6 .3l-10.3 6.9zM937.8 463.6l-7.2-9.6l-5.6-4.7l-7.1-4.3l-13.9-5.4l-27-7.5l-12-5.7l-6.8-5.4l-8.9-9l-8.3-9l-3.9-6l-.8-3l.8-6l4.7-12l5.2-9l16.9-18l20.7-15l4.6-6l2.6-6l.2-6l-3.7-6l-8.3-5.1l-12-3l-54 .8l-60 10.8l-39 4l-30 .5l-45 6.7l-12 4.8l-8.1 7.5l-2.7 6l-3.2 18l-1 1.8l-3 2.1l-4.7-.9l-3.8-3l-15.5-18.3l-6-3.7l-6-1.7l-9-.6l-33 1.9l-18-.2l-72-5.9l-53.2-5.9l-83.1 16.6l-137.5 30.6l-2.8 1.8l-1 3l.1 46.9l22.9 107l7.7 30.5l7.7 23.3l8.8 9.5l3.6 1.5l39.1-.1l320.5-61z" fill="#00f8ea"/>
<path d="M1255 224.6l-12 3.4l-6.6 4l-2 3l-.6 3l.9 3l2.3 3l6 3.3l12 2.8l12 .9l14-1l16-2.5l9-3.2l5.1-3.3l2.4-3l.9-3l-.5-3l-4.9-4.9l-12-4.1l-21-1.2zM1150 258.6l1.1 3.4l4.9 1.5l6-1.7l3.2-2.8l.7-3l-2.3-3l-1.6-.6h-6l-5 3.6zM967 256.8l-12 3.1l-12 5.1l-9 6.7l-7.7 8.3l-6.4 12l-2.8 9l.6 6l1.6 3l5.7 6l4.9 3l7.1 2.6l15 1.9l18.8-1.5l20.2-4.2l14.4-4.8l11.7-6l9.7-9l7.7-12l.8-6l-3.1-6l-7.7-6l-11.2-6l-10.3-3.5l-12-2.6l-12-.3zM1201.8 410.7l-6.8 .1l-4.1 2.1zM935.8 464l-7.8-10l-12-8.3l-15-5.9l-24.6-6.8l-12.5-6l-7.5-6l-15.1-15l-6.7-9l-.6-6l1.7-6l5.6-12l5.7-8.3l15-16.2l21-14.5l6.3-9l1.2-6l-.4-3l-4-6l-9.1-5.1l-9-2.1l-54 .8l-21.4 3.4l-35.6 7.4l-42 4.3l-30 1.4l-45 6.1l-10.9 4.8l-6.5 6l-4.2 9l-2.6 15l-2.8 4.3l-3 1.5l-3-.2l-4.6-2.6l-13.4-15.1l-6-5.3l-6-3.1l-6-1.5l-60 .6l-69-5.6l-58.2-6.4l-78.1 15.6l-137.5 30.6l-2.8 1.8l-1 3l.1 46.9l22.9 107l7.7 30.5l7.7 23.3l8.8 9.5l3.6 1.5l39.1-.1l320.5-61z" fill="#00f5e3"/>
<path d="M1249 228.3l-9 3.7l-3 3l-.7 3l.7 3l3 3.1l6 2.5l15 2.8l15-.2l21-3.3l5.8-1.9l5-3l2.6-3l.8-3l-.7-3l-4.5-4.1l-6-2.4l-9-1.7h-21zM1156 260.3l4.3-1.3l-.1-3h-4.6l-1.6 3zM955 261l-12 5.1l-10.1 7.9l-7.6 9l-5.6 12l-1.4 9l2.3 6l5.8 6l7.6 4l12 2.6l12 .2l21-2.8l18-4.6l13.4-5.4l9-6l7.6-9l4.4-9l.4-6l-3.2-6l-11.9-9l-10.7-4.5l-12-3.3l-12-.8l-15 1.4zM933.9 464.4l-8.9-10.8l-12-7.8l-12-4.7l-27-7.8l-12-6.2l-23-21.1l-4-4.4l-2.6-4.6l-.5-6l1.7-6l4.2-9l6.2-9.6l18-20.3l18-10.8l4.3-4.3l3.5-6l1.1-6l-.6-3l-2.3-3.9l-6.7-5.1l-11.3-3.3l-54 .7l-24 4.1l-30 6.7l-78 7.1l-39 4.7l-10.7 4l-7.3 6l-4.9 9l-4.1 17.8l-3 3.3l-3 1l-5.5-1.1l-3.5-2.4l-18-18.2l-6-3.5l-6-1.9l-9-.7l-36 1l-18-.5l-66-5.2l-63.3-7l-73 14.6l-137.5 30.6l-2.8 1.8l-1 3l.1 46.9l22.9 107l7.7 30.5l7.7 23.3l8.8 9.5l3.6 1.5l39.1-.1l320.5-61z" fill="#00f2db"/>
<path d="M1261 227.1l-18 6.4l-2.1 1.5l-1.6 3l.9 3l4.2 3l10.6 3l12 1.2l9-.4l21.9-3.8l6.2-3l2.9-3l.8-3l-1-3l-3.6-3l-9.5-3l-17.7-.9zM958 261l-12 4.6l-9 5.9l-9 9.1l-6.3 11.4l-2.4 9l.9 6l4.1 6l8.9 6l9.8 2.7l12 .7l18-1.9l18-3.9l12-4.1l10.9-5.5l7-6l5.8-9l2.4-9l-1.5-6l-4.9-6l-10.7-7l-12-4.4l-12-2.2l-15 .5zM931.9 464.7l-9-10.7l-9.9-6.6l-12.8-5.4l-26.2-7.7l-9.5-4.3l-11.6-9l-16.2-15l-4.9-6l-1.6-6l1.5-9l4.4-9l5.8-9l20.1-23.2l15-7.6l5.8-5.2l3.6-6l.9-6l-2.4-6l-3-3l-4.9-2.9l-9-2.4l-51 .2l-24 4.1l-33 7.4l-117 12l-9 3.4l-6 4.4l-3 3.4l-3.3 6.4l-4.6 18l-2.2 3l-4.9 2.3l-3-.2l-6-3l-15-14.9l-6-4.5l-6-2.9l-6-1.4l-48 .1l-24-1.1l-54-4.3l-68.6-7.4l-67.7 13.5l-137.5 30.6l-2.8 1.8l-1 3l.1 46.9l22.9 107l7.7 30.5l7.7 23.3l8.8 9.5l3.6 1.5l39.1-.1l320.5-61z" fill="#00efd4"/>
<path d="M1258 230.4l-10.5 4.6l-3 3l1.2 3l6.3 3l9 1.9l15 .3l14.6-2.2l6.4-2l6-4l.7-3l-1.6-3l-5.1-2.8l-9-1.8l-18 .1zM964 260.4l-12 3.7l-9 4.2l-9 7.1l-6.7 7.6l-4.7 9l-2.3 9l1.1 6l1.6 3l6.2 6l7.8 3.7l12 2.1l12-.3l17.3-2.5l12.7-3l15.9-6l9.4-6l5.3-6l4.3-9l.3-9l-3.2-6l-6.5-6l-10.5-5.4l-15-4l-12-.3zM930 465.1l-9.7-11.1l-10.3-6.6l-13.4-5.4l-22.6-6.6l-11.6-5.4l-24.8-21l-5.6-5.7l-2-3.3l-1.4-6l.6-6l3.6-9l7.4-12l19.7-24l11.1-4.6l6-3.5l4.3-3.9l3.6-6l.8-6l-2.6-6l-6.1-4.6l-9-2.8l-51 .1l-24 4.3l-30 7.3l-120 12.5l-9 3.6l-7.4 6.6l-3.5 6l-4.8 18l-2.3 3.4l-3 2.2l-3 .8l-3.8-.4l-5.8-3l-14.4-13.6l-6-4.5l-6-3.1l-6-1.6l-9-.7l-45 .2l-36-2l-110-10.9l-62.3 12.4l-137.5 30.6l-2.8 1.8l-1 3l.1 46.9l22.9 107l7.7 30.5l7.7 23.3l8.8 9.5l3.6 1.5l39.1-.1l320.5-61z" fill="#00edcc"/>
<path d="M1273 229.2l-9 1.9l-8.4 3.9l-2.8 3l1.5 3l7.8 3l10.9 .7l18-3.3l6.6-3.4l.8-3l-4.4-3.6l-9-2.1zM955 264.1l-9 3.6l-9.1 6.3l-8.6 9l-4.8 9l-2.3 9l1.3 6l4.2 6l7.3 4.9l9 2.6l12 .8l18-1.9l15.6-3.4l14.4-5.1l9-4.8l5.8-5.1l5.4-9l1.4-9l-1.8-6l-7.8-8.4l-9-4.9l-12-3.7l-9-.9l-15 1.1zM928 465.3l-9-10.3l-10.8-7l-13.2-5.4l-22.3-6.6l-12.1-6l-25.6-21.4l-6.5-8.6l-1.2-6l1.4-9l3.3-7.4l6.7-10.6l12.9-15l7.4-10.6l15-5.8l5.8-4.6l3.7-6l.7-6l-2.9-6l-7.3-4.8l-9-2l-21 .8l-27-.5l-24 4.6l-30 7.4l-36 3.1l-36 5.3l-39 2.6l-9 1.6l-9 3.9l-6 5.4l-4.7 8.6l-4.3 15.6l-4.8 5.4l-4.2 1.3l-6-1.1l-3-1.6l-15-13.2l-9-6.3l-6-2.5l-6-1.2l-54-.5l-36-1.8l-112.3-11.3l-57 11.4l-137.5 30.6l-2.8 1.8l-1 3l.1 46.9l22.9 107l7.7 30.5l7.7 23.3l8.8 9.5l3.6 1.5l39.1-.1l320.5-61z" fill="#00eac5"/>
<path d="M1271.5 232l-8.2 3l-2.2 3l2.6 3l6.3 1.2l12-1.2l7.1-3l.8-3l-4.9-2.3l-6-1zM958 264.1l-12 4.7l-9 6.2l-7.7 8l-5 9l-2.1 9l1.2 6l4.4 6l6.2 4.2l9 2.7l12 .9l15-1.5l16.2-3.3l10.8-3.4l12.1-5.6l7.3-6l4-6l2.5-9l-.8-6l-4.1-6.9l-9-6.9l-10.9-4.2l-10.1-1.9l-15 .6zM926.3 465.9l-10.3-11.3l-9-5.8l-12-5l-24-7.4l-12-6.2l-25.5-21.2l-4.5-5.2l-1.9-3.8l-1.1-6l1.5-9l4-9l5.8-9l15.2-18l5.7-9l15.8-5.6l4.3-3.4l3.9-6l.5-6l-3.2-6l-5.5-3.6l-9-2.2l-18 .8l-30-.6l-24 4.8l-27 7.1l-39 3.3l-36 5.9l-39 2.3l-9 1.5l-6 2.4l-7 5.3l-5 7.9l-6 18.4l-3.2 3.7l-5.8 2.1l-3-.1l-6-2.3l-15-12.6l-9-6.2l-12-3.9l-57-.9l-33-1.5l-117.3-11.8l-52 10.4l-137.5 30.6l-2.8 1.8l-1 3l.1 46.9l22.9 107l7.7 30.5l7.7 23.3l8.8 9.5l3.6 1.5l39.1-.1l320.5-61z" fill="#00e7bd"/>
<path d="M967 262.6l-15 4.5l-8.1 3.9l-9.9 7.9l-5.8 7.1l-4.2 9l-1 6l1.4 6l1.8 3l4.8 4.6l9 4l9 1.5l12-.3l15-2.2l15-3.6l10.6-4l10.2-6l5.5-6l2.9-6l.9-9l-2-6l-7.1-7.6l-9-4.7l-12-3.4l-12-.3zM924.3 466l-7.7-9l-9.6-6.7l-12-5.4l-27-8.8l-9-4.8l-27-21.9l-3-3.4l-3-5.5l-1-6.5l1.3-9l3.9-9l5.7-9l15.2-18l5.1-9l2.8-2.2l9-1.8l6-2.8l3-2.4l3.8-5.8l.5-6l-3.6-6l-4.9-3l-7.8-1.8l-18 .9l-21-1.3l-9 .4l-22.6 4.8l-28.4 7.6l-39 2.9l-39 6.9l-36 1.6l-9 1.5l-9 4.5l-5 5l-3.4 6l-3.4 12l-2.7 6l-3.5 3.8l-6 2.2l-9-2.4l-21-16.2l-6-3.3l-9-2.6l-90.8-2.5l-121.4-12.2l-47.1 9.4l-137.5 30.6l-2.8 1.8l-1 3l.1 46.9l22.9 107l7.7 30.5l7.7 23.3l8.8 9.5l3.6 1.5l39.1-.1l320.5-61z" fill="#00e5b6"/>
<path d="M973 262.5l-12 2.6l-12 4.2l-9 5.5l-8.6 8.2l-5.4 9l-2.1 9l1.5 6l4.6 6l7 4.1l9 2.1l9 .5l12-1.2l13.8-2.5l13.2-3.7l11.8-5.3l7.8-6l4-6l2.2-9l-2.4-9l-5.3-6l-9.1-5.3l-9-2.9l-9-1.1zM922.7 466.6l-8.4-9.6l-10.3-6.9l-11.8-5.1l-21.2-6.7l-12-5.8l-26.1-20.5l-7.1-9l-1.7-6l.4-9l4.5-12l5.5-9l15.2-18l6.3-10.6l3-2l12-2.7l4.1-2.7l4.4-6l.3-6l-2.8-4.8l-6-3.7l-6-1.3l-18 1l-21-1.6l-9 .5l-17.9 3.9l-30.1 8.4l-42 3.1l-39 7.3l-36 1.3l-9 1.6l-6 2.6l-6.7 5.7l-3.6 6l-6.4 18l-4.3 4.6l-6 2.1l-5.4-.7l-3.6-1.5l-21-15.6l-6-3.2l-9-2.7l-93-2.7l-123.8-12.6l-42.5 8.5l-137.5 30.6l-2.8 1.8l-1 3l.1 46.9l22.9 107l7.7 30.5l7.7 23.3l8.8 9.5l3.6 1.5l39.1-.1l320.5-61z" fill="#00e2ae"/>
<path d="M961 266l-12 4.2l-6 3.4l-9 7.6l-5.7 7.8l-3.3 9l.1 6l3 6l5.9 5l9 3.1l9 1l15-1.2l15-2.9l12-3.5l10.2-4.5l8-6l4.1-6l2.1-9l-1.1-6l-3.7-6l-8-6l-11.6-4.3l-9-1.1l-12 .8zM921 466.9l-9-9.9l-8.9-6l-11.1-5l-21.5-7l-12.4-6l-26.1-20.2l-7.3-9.8l-1.7-6l.5-9l2.9-9l6.9-12l15.1-18l7.6-12.3l15-4.1l5.5-4.6l1.6-3l.3-6l-1.5-3l-5.9-4.4l-6-1.4l-18 1.1l-21-1.9l-9 .5l-48 12.8l-42 2.7l-39 7.9l-42 1.7l-9 3.5l-5.3 4.5l-4 6l-6.6 18l-5.1 5.5l-6 1.8l-9-2l-24-16.7l-12-4.2l-24-1.4l-69-1.3l-102-9.6l-26.4-3.4l-37.9 7.5l-137.5 30.6l-2.8 1.8l-1 3l.1 46.9l22.9 107l7.7 30.5l7.7 23.3l8.8 9.5l3.6 1.5l39.1-.1l320.5-61z" fill="#00dfa7"/>
<path d="M964 266.1l-12 3.8l-9 4.7l-9 7.7l-4.9 6.7l-3.4 9l.3 6l3.1 6l4.9 4.2l9 3.3l9 1.1l22.9-2.6l13.1-3.2l12-4.5l7.4-4.3l5.9-6l2.9-6l.6-9l-2.5-6l-5.8-6l-8.5-4.4l-12-2.9l-12 .2zM919 466.8l-9-9.7l-9.4-6.1l-11.6-5.1l-21-7l-12-6.2l-24-18.3l-5-5.4l-3.4-6l-1.6-9l1-7.9l3-8.5l6-10.6l15.1-18l8.9-13.6l15-4l4-3.4l1.8-3l.2-6l-1.8-3l-4.2-3.2l-6-1.6l-18 1.3l-18-2l-9-.1l-13 2.6l-35 10.6l-42 2.3l-42 8.7l-42 1.5l-6 2l-7 4.9l-4.3 6l-6.7 18l-5.6 6l-6.4 2l-9.3-2l-20.7-14.3l-6-3.2l-12-3.3l-93-2.4l-99-9.2l-31.2-4l-170.6 37.2l-2.8 1.8l-1 3l.1 46.9l22.9 107l7.7 30.5l7.7 23.3l8.8 9.5l3.6 1.5l39.1-.1l320.5-61z" fill="#00dc9f"/>
<path d="M970 265.7l-15 4l-9 4l-8.4 6.3l-5.6 6l-4.7 9l-.9 6l1.6 6l5.3 6l6.7 3.2l9 1.6h9l13.5-1.8l13.5-3l12-4.2l8.8-4.8l6.2-6l2.9-6l.5-9l-2.6-6l-3.8-4.2l-8.1-4.8l-9.9-3l-9-.6zM917.6 467.6l-10-10.6l-9.5-6l-31.9-12l-11.4-6l-22.8-17l-6-6.6l-3.5-6.4l-1.5-9l1.3-9l3.3-9l5.1-9l16.3-19.5l6-10.6l3-2.9l13.4-3l4.1-3l1.9-3l.6-3l-2-5.3l-3-2.4l-6-1.9l-18 1.5l-18-2.5l-9-.1l-9.2 1.7l-29.8 10l-9 2l-42 1.8l-42 9.1l-15 1l-21-.5l-6 .8l-6 2l-6 4.2l-4.3 5.6l-5.6 15l-3.5 6l-4.6 3.9l-6 1.8l-6-.8l-4.8-1.9l-22.2-14.7l-6-2.7l-9-2l-30-1.5l-63-.9l-99-9l-36.3-4.6l-165.5 36.2l-2.8 1.8l-1 3l.1 46.9l22.9 107l7.7 30.5l7.7 23.3l8.8 9.5l3.6 1.5l39.1-.1l320.5-61z" fill="#00d998"/>
<path d="M958 269.6l-9 3.5l-9 5.9l-6 5.7l-4.7 7.3l-1.9 6l.2 6l3.4 6l6 4.4l9 2.5l9 .5l12.8-1.4l14.3-3l10-3l10.9-5.2l5-3.8l4.5-6l2-9l-1.4-6l-4.4-6l-8.7-5.3l-9-2.7l-9-.7l-12 1.2zM915.9 467.9l-10.5-10.9l-9.7-6l-31.4-12l-11.1-6l-21.2-15.5l-6-6.4l-4.5-8.1l-1.4-9l1.3-9l3.2-9l4.9-9l17.5-21.1l7.2-11.9l1.8-1.3l12-2.2l3.8-2.5l2.2-3l.6-3l-.7-3l-2.9-3.3l-6-2.2l-18 1.8l-18-3l-9-.1l-9 1.8l-27 9.7l-9 2.3l-45 1.7l-12 2.2l-21 5.9l-9 1.4l-15 .9l-21-.7l-6 .7l-6 2.2l-6 4.3l-4.9 7.4l-4.3 12l-3.4 6l-5.4 4.6l-6 1.7l-9-1.8l-24-15l-6-2.6l-9-2.1l-33-1.6h-42l-21-.9l-96-8.5l-41.2-5.2l-160.6 35.2l-2.8 1.8l-1 3l.1 46.9l22.9 107l7.7 30.5l7.7 23.3l8.8 9.5l3.6 1.5l39.1-.1l320.5-61z" fill="#00d690"/>
<path d="M964 268.8l-12 3.9l-6 3l-9 7l-5.2 6.3l-2.9 6l-.9 6.2l1.7 5.8l6.1 6l7.2 2.7l9 1.1l11.5-.8l15.7-3l11.8-3.4l9-4l6.6-4.6l4.6-6l1.9-6l-1.1-8.4l-3-4.6l-6.4-5l-8.6-3.4l-9-1.3l-9 .3zM914.3 468.3l-10.3-10.7l-9-5.7l-32.5-12.9l-15.4-9l-18.1-13.8l-5.6-7.2l-2.9-6l-1.2-9l1.1-9l3.1-9l5.5-10.1l18-21.7l6-10.8l3-1.9l12-2.3l4.4-4.2l.6-3l-.9-3l-3.4-3l-3.7-1.2l-18 2.1l-18-3.7l-9-.2l-11.8 3l-21.2 8.5l-9 2.5l-9 .9l-27-.3l-12 .9l-12 2.4l-21 6.1l-12 1.7l-12 .6l-21-.9l-6 .7l-6 2.2l-6.1 4.7l-3.9 6l-6 15l-4.7 6l-3.3 2.2l-6 1.6l-9-1.6l-24-14.5l-9-3.5l-6-1.2l-36-1.8l-39 .2l-21-.8l-96-8.3l-46.2-5.7l-155.6 34.2l-2.8 1.8l-1 3l.1 46.9l22.9 107l7.7 30.5l7.7 23.3l8.8 9.5l3.6 1.5l39.1-.1l320.5-61z" fill="#00d489"/>
<path d="M964 269.7l-12 3.9l-6 3.1l-8.1 6.3l-5.2 6l-3.7 9l.3 6l3.7 6l4 2.9l6 2.2l9 1.1l9-.5l15.1-2.7l11.9-3.2l9-3.6l8.1-5.2l4.8-6l2.1-9l-1.7-6l-4.3-5.3l-5.7-3.7l-8.9-3l-6.4-.8l-9 .3zM912.6 468.6l-7.7-8.6l-9.9-6.9l-9-4.3l-25.4-9.8l-10.8-6l-11.8-8l-6-4.5l-6-6.2l-6.4-11.3l-1.1-6l.4-9l2.4-9l4-9l5.8-9l15.5-18l6.4-11.6l3-1.5l9-.9l3-1.2l2.6-2.8l.7-3l-1.3-3l-5-2.7l-6 .2l-9 2.4l-21-4.7l-9-.2l-9 2.2l-24 10.5l-9 2l-45 .3l-12 2.1l-21 6.3l-9 1.9l-15 1.2l-21-1.1l-9 .7l-6 2.3l-6 4.8l-3.2 4.8l-6.1 15l-4.6 6l-4.1 2.9l-6 1.5l-9-1.5l-24-14.1l-6-2.5l-9-2l-36-2l-42 .3l-18-.7l-96-8l-51.4-6.2l-150.4 33.1l-2.8 1.8l-1 3l.1 46.9l22.9 107l7.7 30.5l7.7 23.3l8.8 9.5l3.6 1.5l39.1-.1l320.5-61z" fill="#00d181"/>
<path d="M955 273.4l-7.9 3.6l-7.1 5.1l-6 6.4l-3.4 6.5l-1 6l1.9 6l2.5 3l6 3.5l9 1.9h9l14.8-2.4l12.2-3.1l9-3.2l9-5.3l3.6-3.4l3.3-6l.8-6l-1.7-6l-5.6-6l-6.4-3.3l-9-2.3l-9-.2l-12 1.7zM911 468.9l-8.2-8.9l-8.4-6l-8.4-4.3l-27.1-10.7l-23.9-14.7l-9-8.4l-4.7-6.9l-2.6-6l-1.1-6l.4-9l2.3-9l3.8-9l5.6-9l15.6-18l7.7-14.1l10.4-.9l5.2-3l.6-3l-1.9-3l-2.3-1l-6 .3l-9 3.2l-18-5.8l-12-.7l-9 2.5l-18 9.4l-9 2.8l-12 .8l-36-.9l-15 2.4l-21 6.5l-9 1.9l-15 1.2l-21-1.2l-9 .7l-6 2.3l-6 5l-3 4.8l-5.7 13.8l-4.4 6l-4.9 3.5l-6 1.4l-10.4-1.9l-22.6-13.1l-6-2.5l-9-2l-36-2l-42 .4l-21-.8l-93-7.5l-56.6-6.8l-145.2 32.1l-2.8 1.8l-1 3l.1 46.9l22.9 107l7.7 30.5l7.7 23.3l8.8 9.5l3.6 1.5l39.1-.1l320.5-61z" fill="#00ce7a"/>
<path d="M958 273.3l-9 3.6l-6 3.9l-6 5.3l-4.2 5.9l-2.2 6l.4 6l3 4.9l6 3.9l9 2l9-.1l12-1.8l15-3.8l9-3.3l8-4.8l4-4.1l2.7-4.9l.7-6l-1.9-6l-4.5-4.8l-8.2-4.2l-6.8-1.6l-9-.3l-9 1.1zM862 326.2l3.6-1.2l.8-3l-1.4-1.4l-3-.6l-5 2l-.7 3zM909.1 469l-8.2-9l-8.6-6l-35.1-15l-20.2-12l-8-6.2l-8.7-11.8l-2.5-6l-1.1-9l.9-9l2.7-9l7.9-15l17.7-21l4.2-12l-.8-3l-4.5-3l-6.8-3.3l-10.6-2.7h-7.4l-6 1.5l-8.7 4.5l-9.3 6.5l-9 2.9l-12 .6l-39-1.6l-15 2.5l-21 6.7l-9 1.9l-18 1.2l-18-1.4l-9 .7l-6 2.3l-6 5.4l-8.2 17.3l-4.1 6l-5.7 4l-6 1.5l-6-.5l-6-2l-24-13.5l-12-3l-39-2.2l-39 .7l-21-.8l-93-7.2l-61.9-7.2l-139.9 31l-2.8 1.8l-1 3l.1 46.9l22.9 107l7.7 30.5l7.7 23.3l8.8 9.5l3.6 1.5l39.1-.1l320.5-61z" fill="#00cb72"/>
<path d="M964 272.5l-15 5.4l-7.4 5.1l-5.9 6l-3.4 6l-1 6l2.1 6l2.9 3l6.3 3l6.4 1.2l9-.2l12-1.9l15-3.9l9-3.4l6.3-3.8l5.6-6l2.1-6l-.6-6l-4-6l-4.4-3l-8-3l-6-.8l-9 .1zM907.6 469.6l-8.8-9.6l-8.6-6l-34.8-15l-20.4-11.9l-9-8.1l-6.7-10l-2.4-6l-1.1-9l.8-9l2.5-9l7.5-15l18-21l2.9-9l-.3-3l-1.9-3l-4.1-3l-6.2-3l-9-2l-6 .1l-6.5 1.9l-5.2 3l-9.3 8.6l-6 2.9l-12 .3l-33-2.6h-12l-12 1.8l-24 7.7l-12 2.3l-15 .8l-18-1.5l-9 .7l-6 2.3l-6 5.7l-7.6 16l-4.4 6.4l-6 4.2l-6 1.5l-6-.5l-6-1.9l-21-11.8l-6-2.4l-9-1.8l-39-2.3l-39 .8l-21-.7l-93-6.9l-67.2-7.7l-134.6 29.9l-2.8 1.8l-1 3l.1 46.9l22.9 107l7.7 30.5l7.7 23.3l8.8 9.5l3.6 1.5l39.1-.1l320.5-61z" fill="#00c86b"/>
<path d="M955 276.2l-12.1 6.8l-6.2 6l-3.5 6l-1 6l.6 3l1.6 3l5.6 4.2l9 2.3l9-.1l27-6.1l8.6-3.3l5-3l4.4-4.1l2.9-4.9l.8-6l-2.4-6l-4.3-4l-6-2.9l-9-1.9l-9 .1l-9 1.5zM906 469.9l-9.1-9.9l-8.7-6l-34.6-15l-18.6-10.5l-9-7.9l-7.6-11.6l-2.4-6l-1.1-9l.8-9l3.3-12l5.9-12l16.1-18.1l3-4.4l1.5-4.5l-.7-6l-2.4-3l-7.4-4.5l-9-2.4l-9 .9l-6 3l-3.5 3l-6.2 9l-2.3 2l-3 .9l-42-4.4l-15-.7l-15 2.1l-24 7.8l-9 1.9l-15 1.2l-21-1.6l-9 .6l-6 2.5l-5.9 5.7l-7.1 15l-5 7.1l-6 4l-6 1.5l-6-.4l-6-1.9l-24-12.7l-12-2.9l-39-2.3l-39 .9l-21-.6l-93-6.6l-72.2-8.1l-129.6 28.8l-2.8 1.8l-1 3l.1 46.9l22.9 107l7.7 30.5l7.7 23.3l8.8 9.5l3.6 1.5l39.1-.1l320.5-61z" fill="#00c663"/>
<path d="M958 276.2l-12 5.6l-6 4.9l-4.3 5.3l-1.7 3.5l-.9 5.5l2.4 6l3.6 3l6.9 2.4l9 .6l21-4l15-4.9l5.8-3.1l3.6-3l4.1-6l.8-6l-2.3-5.5l-3.7-3.5l-6.1-3l-8.2-1.7h-9zM904.4 470.2l-9.4-10.2l-8.8-6l-34.5-15l-19.7-11.1l-6-5.7l-8.6-13.2l-2.2-6l-1.1-9l1.1-12l2.4-9l3.8-9l3.6-6l16-17.3l3-6.7l-1.6-6l-2.8-3l-4.6-3l-9-2.7l-6 .2l-6.2 2.5l-5.7 6l-3.3 9l-2.5 3l-3.3 .8l-33-6l-27-2.2l-15 2.1l-24 8l-12 2.3l-15 .8l-18-1.7l-9 .6l-6 2.5l-5 4.8l-9.1 18l-3.9 4.8l-6 3.9l-6 1.4l-6-.4l-6-1.8l-24-12.4l-12-2.8l-39-2.3l-45 1l-39-1.9l-72-5.1l-51-5l-23.4-3.2l-124.4 27.6l-2.8 1.8l-1 3l.1 46.9l22.9 107l7.7 30.5l7.7 23.3l8.8 9.5l3.6 1.5l39.1-.1l320.5-61z" fill="#00c35c"/>
<path d="M964 275.5l-15 5.5l-9.9 8l-2.4 3l-2.5 6l.6 6l2.2 3.3l3.8 2.7l8.2 2.1l9-.2l10.6-1.9l16.4-4.7l9-3.9l4.6-3.4l4.4-6l.7-6l-.9-3l-2.8-3.7l-6-3.7l-12-2.4l-9 .5zM902.8 470.6l-9.7-10.6l-8.8-6l-34.6-15l-17.7-9.6l-6-5.5l-9.5-14.9l-2.8-9l-.5-9l1.5-12l3.5-12l4.5-9l16.8-18l2.6-6l-1.1-4.4l-4.2-4.6l-5.5-3l-5.3-1.3l-9 1.3l-4.1 3l-3.3 6l-1.6 9l-3 3.8l-3 .8l-33-8.2l-27-3l-9 .4l-9 1.7l-24 8.1l-12 2.4l-15 .8l-18-1.8l-9 .6l-6 2.6l-4.1 3.8l-9.5 18l-4.4 5.4l-6 3.8l-6 1.4l-10.8-1.6l-25.2-12.6l-12-2.7l-39-2.3l-48 1.1l-39-1.9l-72-4.9l-51-4.9l-25.7-3.5l-119.1 26.5l-2.8 1.8l-1 3l.1 46.9l22.9 107l7.7 30.5l7.7 23.3l8.8 9.5l3.6 1.5l39.1-.1l320.5-61z" fill="#00c054"/>
<path d="M955 279.3l-11.5 6.7l-3.5 3.3l-3.8 5.7l-1.1 6l.8 3l2.1 3l4.9 3l6.1 1.3l9-.2l12-2.4l15.8-4.7l10.9-6l3.3-3.8l2.1-5.2l-1.2-6l-2.4-3l-4.6-3l-5.9-1.8l-6-.8l-9 .4zM901 470.7l-6.4-7.7l-12.2-9l-34.9-15l-16.9-9l-5.9-6l-9.1-15l-2.7-9l-.5-12l1.6-12l3.1-12l4.3-9l15.8-15l2.6-6l-.6-3l-4.2-4.9l-9-3.9l-6 .5l-4.1 2.3l-1.9 2.2l-1.6 3.8l-1.4 12.6l-3 3.9l-3 .9l-6-.9l-15-5.9l-12-3.4l-15-2.7l-15-1.3l-15 1.4l-27 8.9l-12 2.4l-15 .8l-18-1.8l-9 .6l-6 2.6l-3.2 2.9l-9.8 18l-4.9 6l-6.1 3.8l-6 1.3l-6-.3l-6-1.6l-24-11.8l-12-2.7l-39-2.3l-48 1.3l-42-1.9l-69-4.6l-51-4.5l-31.3-4.1l-113.5 25.2l-2.8 1.8l-1 3l.1 46.9l22.9 107l7.7 30.5l7.7 23.3l8.8 9.5l3.6 1.5l39.1-.1l320.5-61z" fill="#00bd4d"/>
<path d="M958 279.3l-12 6l-6.9 6.7l-2.1 3.9l-.8 5.1l.8 3l3 3.4l5.8 2.6l6.2 .7l8.3-.7l12.8-3l14.9-5.1l6-3.4l3.7-3.5l2.6-6l-.3-3.6l-3-4.5l-9-4.4l-12-.8zM814.8 334l2.2 16.4l6-1.7l6-3.8l6-5.7l2.2-5.2l-.8-3l-4.4-4.4l-3-1.7l-6-.8l-3.4 .9l-3.3 3zM899.5 471.2l-10.1-11.2l-8.9-6l-15.5-7.4l-26.6-10.6l-6.4-3.4l-6.5-5.6l-10.8-18l-2.6-9l-.6-12l3.2-27l.1-6l-.8-1.8l-12-1.8l-27-11.3l-24-4.5l-12-.7l-9 .9l-9 2.2l-21 7.5l-12 2.3l-15 .8l-18-1.9l-9 .6l-6 2.7l-3 2.8l-9.4 17.2l-4.8 6l-6.8 4.3l-6 1.3l-6-.2l-6-1.6l-24-11.6l-12-2.6l-39-2.2l-48 1.4l-42-1.7l-60-3.6l-36-3.7l-21-1l-39.5-5.1l-108.3 24.1l-2.8 1.8l-1 3l.1 46.9l22.9 107l7.7 30.5l7.7 23.3l8.8 9.5l3.6 1.5l39.1-.1l320.5-61z" fill="#00ba45"/>
<path d="M967 278.1l-15 4.7l-9 6.3l-3 3.5l-2.5 5.4l-.2 3l2.7 5l6 3.1l6 .8l17.4-2.9l18.6-6.5l6-4l3.5-4.5l.9-3l-1.4-5.4l-6-4.6l-6-1.7l-6-.5zM818.5 337l1.5 4l3 2.1l3-.4l6-4.4l1.8-4.3l-1-3l-3.1-3l-6.7-1.3l-2.9 1.3l-1.6 3zM897.9 471.6l-10.3-11.6l-8.8-6l-13.8-6.7l-29.6-11.3l-9.4-6.4l-10.6-17.6l-3.5-9l-1.3-12l.9-24l-1.1-6l-2.3-3l-18.1-10.2l-12-5.5l-12-3.4l-15-2.6l-12-.7l-9 1l-9 2.3l-21 7.4l-12 2.4l-15 .8l-18-2l-9 .6l-6 2.8l-3 2.9l-8.9 16.2l-4.7 6l-7.4 4.8l-6 1.3l-6-.2l-6-1.5l-24-11.3l-12-2.6l-39-2.1l-51 1.5l-45-1.8l-63-3.8l-27-2.9l-21-.9l-44.5-5.7l-103.3 23l-2.8 1.8l-1 3l.1 46.9l22.9 107l7.7 30.5l7.7 23.3l8.8 9.5l3.6 1.5l39.1-.1l320.5-61z" fill="#00b73e"/>
<path d="M955 282.8l-9 5.2l-6.2 7l-1.1 6l1.1 3l3.4 3l5.8 1.6l6 .2l20.6-4.8l14-6l4.4-4l2.1-5l-.4-3l-1.9-3l-4.9-3l-6.9-1.6l-12 .5zM824.8 334l1.2 1l1-1l-1-1.3zM896.2 471.9l-10.5-11.9l-8.7-6l-15-7.3l-27-9.3l-6-3.1l-4.6-4.3l-12.5-24l-2.1-12l-1-27l-2.8-6l-3-3l-13.9-9l-11.1-5.4l-12-3.7l-15-2.7l-12-.8l-9 1l-30 9.8l-12 2.4l-12 .8l-21-2l-9 .6l-6 2.9l-3 2.9l-8.4 15.2l-4.5 6l-5.1 3.9l-9 2.8l-6-.3l-6-1.4l-24-11l-12-2.6l-42-2.1l-54 1.7l-75-3.4l-33-2.2l-21-2.4l-24-.9l-36-3.8l-9.9-2.5l-98.9 22l-2.8 1.8l-1 3l.1 46.9l22.9 107l7.7 30.5l7.7 23.3l8.8 9.5l3.6 1.5l39.1-.1l320.5-61z" fill="#00b536"/>
<path d="M964 281.3l-12 4.2l-8.6 6.5l-3.3 6l-.1 3l1.5 3l4.5 3l3 .6l12-.6l10.7-3l13.3-5.3l5.6-3.7l2.2-3l.9-3l-.7-3l-5-4.3l-9-2zM894.4 472l-7.2-9l-11.9-9l-13.3-6.6l-26.7-8.4l-9.3-4.9l-3.4-4.1l-11.6-24l-1.7-9l-2.1-27l-2.2-5.8l-2.3-3.2l-11.4-9l-13.3-7.2l-12-4l-15-2.9l-12-.8l-9 1l-30 9.9l-12 2.4l-12 .8l-21-2l-9 .6l-6 3l-3 3l-7.9 14.2l-4.4 6l-5.7 4.4l-9 2.8l-12-1.6l-24-10.8l-12-2.5l-42-2l-54 1.9l-75-3.1l-33-2.1l-21-2.4l-21-.5l-39-3.6l-13.8-3.8l-95 21.1l-2.8 1.8l-1 3l.1 46.9l22.9 107l7.7 30.5l7.7 23.3l8.8 9.5l3.6 1.5l39.1-.1l320.5-61z" fill="#00b22f"/>
<path d="M955 285.5l-6.4 3.5l-5.8 6l-1.1 6l1.8 3l2.5 1.5l6 1.4l6-.5l18.2-5.4l11.3-6l2.4-3l.9-3l-1.1-3l-4-3l-6.7-1.5l-12 .7zM892.7 472.6l-4.6-6.6l-5.9-6l-13.9-9l-9.3-4l-27-7.5l-6.7-3.5l-4.5-6l-10.6-24l-4.1-33l-3.6-9l-9.2-9l-12.3-7.6l-15-5.7l-15-3.1l-12-.8l-9 1l-30 10.1l-12 2.3l-12 .8l-21-2.1l-9 .7l-6 3l-3 3.2l-7.3 13.2l-4.7 6.4l-6 4.6l-9 2.7l-12-1.5l-24-10.6l-9-2.2l-45-2.1l-54 2l-75-2.7l-114-8l-9-1.6l-8.3-3.6l-91.5 20.4l-2.8 1.8l-1 3l.1 46.9l22.9 107l7.7 30.5l7.7 23.3l8.8 9.5l3.6 1.5l39.1-.1l320.5-61z" fill="#00af27"/>
<path d="M951.3 289l-5.3 4.5l-2.5 4.5l.2 3l2.3 2.8l6 1.6l10.8-1.4l15.8-6l6.4-4.5l1.9-4.5l-1.7-3l-3.2-1.5l-9-1.3l-12 1.9zM890.9 473l-4.7-7l-5.9-6l-13.6-9l-10.7-4.2l-27-6.2l-6-3.5l-3-4.4l-3.8-11.7l-6.8-15l-4.2-30l-1.6-6l-3.2-6l-9.3-9l-13.1-8l-15-5.2l-15-2.8l-9-.5l-9 1.1l-27.8 9.4l-14.2 3l-12 .7l-21-2l-9 .7l-6 3.1l-3 3.3l-8.7 15.2l-3.3 4l-6 4.5l-9 2.7l-12-1.4l-24-10.4l-9-2.1l-42-2l-57 2.2l-75-2.3l-54-4l-21-.5l-24-2.6l-18-.4l-9-2.3l-8.6-4.2l-88.2 19.6l-2.8 1.8l-1 3l.1 46.9l22.9 107l7.7 30.5l7.7 23.3l8.8 9.5l3.6 1.5l39.1-.1l320.5-61z" fill="#00ac20"/>
<path d="M958 287.8l-6 2.8l-5 4.4l-1.3 3l.5 3l5.8 3l6-.4l15.9-5.6l5.1-3l2.8-3l.2-3.1l-6-3.1l-9-.1zM889 473.3l-4.8-7.3l-5.6-6l-13.4-9l-9.2-3.5l-27-4.6l-8-3.9l-3-6l-2.9-12l-5.6-12l-5.5-33l-2.1-6l-3.4-6l-9.3-9l-11.2-6.9l-12-4.7l-18-3.7l-9-.5l-9 1.1l-27 9.2l-15 3.2l-15 .7l-21-2l-6 .8l-5.4 2.8l-2.9 3l-8.9 15l-3.8 4.6l-6 4.4l-9 2.7l-12-1.3l-24-10.2l-9-2.1l-42-1.8l-57 2.4l-75-2l-54-3.7l-18-.4l-27-2.7l-18 .1l-9-2.2l-11.6-5.9l-85.2 18.9l-2.8 1.8l-1 3l.1 46.9l22.9 107l7.7 30.5l7.7 23.3l8.8 9.5l3.6 1.5l39.1-.1l320.5-61z" fill="#00a918"/>
<path d="M953.5 292l-3.5 3l-1.4 3l1.8 3l4.6 .9l5.9-.9l7.5-3l4.8-3l2.4-3l-2.1-3l-6.5-.7l-6.1 .7zM887 473.7l-10.3-13.7l-7.9-6l-6.8-3.7l-9-2.6l-27-2.8l-7.1-2.9l-2.7-6l-2.2-15l-6.2-15l-5.1-30l-2.2-6l-3.5-6l-9.5-9l-12.5-7.4l-12-4.2l-15-3l-9-.5l-9 1.1l-27 9.3l-15 3.1l-15 .7l-21-2l-6 .8l-3 1.3l-4.5 3.8l-9.2 15l-5.2 6l-8.1 4.9l-6 1.3l-12-1.3l-24-9.9l-9-2l-45-1.8l-51 2.6l-48-.6l-102-4.9l-27-2.7l-18 .6l-9-1.9l-14.6-7.8l-82.2 18.3l-2.8 1.8l-1 3l.1 46.9l22.9 107l7.7 30.5l7.7 23.3l8.8 9.5l3.6 1.5l39.1-.1l320.5-61zM751 482.1l1.7 1.9l-1.7 6.5l-3 4.1l-3 2.2l-3-.2l-3-3.6l-1.1-3l.2-3l3.9-3.6l6-1.7z" fill="#00a611"/>
<path d="M955 298.2l4.9-.2l5.1-3l-1-1.7l-3-.5l-3 .9l-3 1.3zM884.8 474.2l-10-14.2l-12.9-9l-11.9-2.8l-27-.1l-6-1.1l-1.9-2l-1.2-3l-.4-18l-6.4-18l-4.6-27l-4.9-12l-7.9-9l-11.7-8l-12-5l-18-3.9l-9-.5l-9 1.1l-30 10.2l-12 2.2l-15 .7l-21-2l-6 .9l-6.8 4.3l-9.3 15l-5.1 6l-5.8 4.1l-9 2.6l-12-1.2l-24-9.7l-9-2l-45-1.6l-51 2.7l-48-.3l-30-.7l-69-3.7l-30-2.8l-21 .9l-9-2.9l-14.7-8.2l-79.1 17.6l-2.8 1.8l-1 3l.1 46.9l22.9 107l7.7 30.5l7.7 23.3l8.8 9.5l3.6 1.5l39.1-.1l320.5-61l157.1-31.5l1.5-5.7l-.5-9l.7-3l2.5-3l5.1-3l6.8-1.9l6-.4l3.9 2.3l-1.3 6l-5.5 13.9z" fill="#00a409"/>
<path d="M882.1 474.7l-9.3-14.7l-7.3-6l-6.5-3.3l-6-1.1l-9-.1l-12 1.2l-15 2.9l-3 .3l-3-1l-.9-4.9l2-24l-5.1-15l-4.8-27l-4.2-12l-6.5-9l-13.5-10l-15-6.1l-15-3.1l-9-.6l-9 1.2l-27.7 9.6l-14.3 2.9l-15 .6l-21-1.9l-6 .9l-6 3.6l-9.6 14.9l-5.4 6.4l-6 4.2l-9 2.6l-12-1.1l-24-9.5l-12-2.1l-45-1.3l-48 2.9l-48 .1l-27-.5l-69-3.7l-33-2.8l-21 1.4l-9-2.7l-17.9-10l-75.9 16.9l-2.8 1.8l-1 3l.1 46.9l22.9 107l7.7 30.5l7.7 23.3l8.8 9.5l3.6 1.5l39.1-.1l320.5-61l151.6-30.3l3.7-18.9l2.6-3l4.5-3l10.8-3.7l12-1.1l4.7 1.8l-6 12l-2.6 9.9l93.7-18.7l-2.7-3.2l-1-3l.2-3l3.7-3.7l6-.3l3 1.5l2 2.5l.8 3l-1.1 4z" fill="#00a001"/>
<path d="M876.8 475.8l-5-12.8l-4.9-6l-4.9-3.6l-6-2.2l-9 .1l-10.7 2.7l-25.3 9.7l-6 4.6l-9 9.7l-5.5 3l-6.5 1.1l-12 .1l-3 .9l-3 2.2l-3 4.6l-1.8 9l81.5-16.3l-2.2-4.6l-.8-6l1.3-3.5l2.7-2.5l3.3-1.2h9l6 2.2l5.6 5l1.6 5.3zM722.5 506.6l2.9-16.6l1.3-3l3.3-3.6l3.4-2.4l8.6-3.7l30-6.8l15-5.6l9-5.4l5.8-5.5l3.5-6l2.1-6l2.7-15l-.3-6l-3.8-12l-4.9-27l-4.6-12l-6.8-9l-8.7-6.9l-12-6.2l-12-3.6l-12-2l-12 .5l-30 9.9l-15 3l-15 .6l-21-1.7l-6 .9l-6 3.8l-11.1 16.7l-3.9 4.2l-6 4.1l-9 2.6l-12-1l-24-9.3l-9-1.8l-48-1.2l-48 3.1l-69 .5l-75-4l-33-2.7l-21 1.9l-9-2.4l-22.2-12.1l-71.6 15.9l-2.8 1.8l-1 3l.1 46.9l22.9 107l7.7 30.5l7.7 23.3l8.8 9.5l3.6 1.5l39.1-.1l320.5-61z" fill="#00a600"/>
<path d="M859 459.8l1.4-2.8l-4.4-2.1l-3 .5l-2 1.6l5 2.6zM827.8 485.6l-4.8-6.7l-3-1.6l-3-.1l-3 1.2l-9 9.2l-4.7 3.5zM783 494.5l-8 .6l-1 1.2zM717.8 507.6l3.2-17.6l3.8-6l3.6-3l12.9-6l27.7-7.6l15-5.7l9-5.9l5-4.8l3.9-6l2.3-6l2.4-12l.1-6l-6.9-36l-4.2-12l-6-9l-8.6-7.7l-9-5.2l-12-4.3l-12-2.6l-12-.3l-9 2.1l-24 8.5l-12 2.4l-15 1.1l-24-1.7l-6 1.1l-6 4.1l-9.8 14.5l-5.7 6l-8.5 4.8l-9 1.5l-12-1.8l-21-8l-9-1.6l-15 .4l-33-1.1l-48 3.5l-69 2l-33-2.9l-72-4l-27 2l-9-2.8l-27.4-14.3l-63.4 14.1l-2.8 1.8l-1 3l.1 46.9l22.9 107l7.7 30.5l7.7 23.3l8.8 9.5l3.6 1.5l39.1-.1l320.5-61z" fill="#00ae00"/>
<path d="M714.5 508l1-9l2.5-9l3-5.1l3.7-3.9l11.2-6l36.1-11.2l12-5.3l6.4-4.5l5.6-5.5l5.2-9.5l2.5-12v-9l-4.3-27l-4.5-15l-5.3-9l-8.6-8.5l-9-5.5l-12-4.6l-15-3l-9 .1l-9 2.2l-20.1 7.3l-13.3 3l-17.6 1.4l-21-1.4l-6 .4l-6 2.5l-3 2.8l-8.4 12.3l-6.6 7l-9 5.1l-9 1.5l-12-1.6l-21-7.5l-9-1.5l-15 .7l-18-1.1l-18 .3l-42 3.6l-24 .4l-24 2.6l-21 1l-12-.5l-27-3.6l-60-3.3l-12-.2l-24 1.9l-12-3.3l-32.5-16l-55.3 12.3l-2.8 1.8l-1 3l.1 46.9l22.9 107l7.7 30.5l7.7 23.3l8.8 9.5l3.6 1.5l39.1-.1l320.5-61z" fill="#00b600"/>
<path d="M711.6 508.8l3.4-17.5l3-5.8l3.9-4.5l11.1-6.5l39-12.9l9-4.1l6-3.9l6.1-5.6l4.3-6l2.3-6l1.8-12l-.8-15l-3.5-21l-4.2-12l-5.6-9l-6.4-6.4l-9-5.9l-12-4.7l-12-2.7l-9-.5l-9 1.6l-18 6.7l-18 4.2l-18 1.5l-21-1.1l-6 .5l-7.1 3.8l-11.4 15l-6.5 6l-8 4.4l-9 1.5l-12-1.4l-21-7.1l-9-1.4l-15 1l-18-.9l-21 .8l-42 3.9l-21 .3l-27 4.3l-18 1.2l-9-.5l-30-5.1l-48-2.9l-21-.4l-27 1.9l-15-3.6l-27-12.1l-10.1-5.7l-47.7 10.6l-2.8 1.8l-1 3l.1 46.9l22.9 107l7.7 30.5l7.7 23.3l8.8 9.5l3.6 1.5l39.1-.1l320.5-61z" fill="#00be00"/>
<path d="M708.9 509.3l1.5-10.3l2.9-9l3.5-6l4.2-4.3l6-4l8.2-3.7l33.8-11.2l12-5.6l6-4.3l5.8-5.9l4.6-9l2.1-12l-.1-12l-2.4-18l-4.4-15l-5-9l-6.6-7.3l-9-6.3l-9-3.9l-12-3.3l-12-1l-9 1.8l-21 7.5l-15 3.2l-15 1.4l-24-.7l-6 .6l-6 3l-11.2 14l-6.8 6.6l-9 5.1l-9 1.6l-12-1.2l-21-6.8l-9-1.2l-15 1.2l-27-.4l-54 5l-18 .3l-30 6.2l-15 1.5l-12-1.2l-24-5.3l-18-1.9l-45-2.3l-42 1.7l-13.7-2.9l-22.3-8.8l-12-5.9l-7.7-5.6l-41.1 9.1l-2.8 1.8l-1 3l.1 46.9l22.9 107l7.7 30.5l7.7 23.3l8.8 9.5l3.6 1.5l39.1-.1l320.5-61z" fill="#00c500"/>
<path d="M707 509.7l1.7-10.7l3-9l3.5-6l5.8-5.8l12-6.4l36-12.4l9-4l6.5-4.4l5.5-5.2l5.8-9.8l2.2-12l.2-12l-1.8-15l-3.8-15l-4.4-9l-7.2-8.7l-8.4-6.3l-9.6-4.4l-12-3.3l-12-.9l-9 1.8l-18.4 6.8l-14.6 3.2l-18 1.9l-24-.4l-6 .8l-6 3.1l-12 14.5l-6 5.5l-9 5.1l-9 1.7l-12-1.1l-18-5.7l-9-1.8l-18 1.2l-21-.4l-63 5.9l-15 .4l-30 7.5l-15 1.9l-9-1.4l-24-6.3l-18-2.2l-45-2.5l-39 1.9l-12-.8l-15-3.9l-21-8l-9-4.9l-9.1-7.6l-36.7 8.2l-2.8 1.8l-1 3l.1 46.9l22.9 107l7.7 30.5l7.7 23.3l8.8 9.5l3.6 1.5l39.1-.1l320.5-61z" fill="#04c800"/>
<path d="M707 509.7l1.7-10.7l2.9-9l3.5-6l5.9-5.8l12-6.4l36-12.4l9-4.1l6.5-4.3l5.5-5.2l5.8-9.8l2.2-12l.1-12l-1.7-15l-3.8-15l-4.4-9l-7.2-8.7l-8.5-6.3l-9.5-4.3l-12-3.4l-12-.9l-9 1.8l-18.4 6.8l-14.6 3.2l-18 1.9l-24-.4l-6 .8l-6 3.2l-12 14.4l-6 5.5l-9 5.1l-9 1.7l-12-1.1l-18-5.7l-9-1.7l-18 1.2l-21-.5l-63 5.9l-15 .5l-30 7.5l-15 1.8l-9-1.3l-24-6.3l-18-2.3l-42-2.4l-42 1.8l-15-1.3l-12-3.3l-21-8l-9-5l-9.2-7.5l-36.6 8.1l-2.8 1.8l-1 3l.1 46.9l22.9 107l7.7 30.5l7.7 23.3l8.8 9.5l3.6 1.5l39.1-.1l320.5-61z" fill="#0cc900"/>
<path d="M706.9 509.7l1.7-10.7l3-9l3.5-6l5.9-5.9l12-6.3l36-12.4l9-4.1l6.4-4.3l5.6-5.2l5.7-9.8l2.3-12l.1-12l-1.7-15l-3.8-15l-4.4-9l-7.2-8.7l-8.5-6.3l-9.5-4.3l-12-3.4l-12-.9l-9 1.8l-18.3 6.8l-14.7 3.2l-18 1.9l-24-.4l-6 .8l-6 3.2l-12 14.4l-6 5.6l-9 5.1l-9 1.6l-12-1.1l-18-5.6l-9-1.8l-18 1.2l-21-.4l-63 5.9l-15 .4l-30 7.6l-15 1.8l-9-1.4l-24-6.3l-18-2.2l-42-2.5l-42 1.9l-15-1.4l-12-3.2l-21-8l-9-5l-9.3-7.6l-36.5 8.1l-2.8 1.8l-1 3l.1 46.9l22.9 107l7.7 30.5l7.7 23.3l8.8 9.5l3.6 1.5l39.1-.1l320.5-61z" fill="#14ca00"/>
<path d="M706.9 509.7l1.7-10.7l3-9l3.5-6l5.9-5.9l12-6.4l36-12.3l9-4.1l6.4-4.3l5.6-5.3l5.7-9.7l2.3-12l.1-12l-1.8-15l-3.7-15l-4.5-9l-7.1-8.7l-8.5-6.3l-9.5-4.3l-12-3.3l-12-1l-9 1.9l-18.2 6.7l-14.8 3.3l-18 1.8l-24-.3l-6 .7l-6 3.2l-12 14.5l-6 5.5l-9 5.1l-9 1.6l-12-1.1l-18-5.6l-9-1.8l-18 1.2l-21-.4l-63 5.9l-15 .5l-30 7.5l-15 1.9l-9-1.4l-24-6.3l-18-2.3l-42-2.4l-42 1.8l-15-1.3l-12-3.3l-21-8l-9-4.9l-9.3-7.7l-36.5 8.1l-2.8 1.8l-1 3l.1 46.9l22.9 107l7.7 30.5l7.7 23.3l8.8 9.5l3.6 1.5l39.1-.1l320.5-61z" fill="#1ccb00"/>
<path d="M706.9 509.8l1.7-10.8l3-9l3.5-6l5.9-5.9l12-6.4l36-12.4l9-4l6.4-4.3l5.6-5.3l5.7-9.7l2.3-12l.1-12l-1.8-15l-3.8-15l-4.4-9l-7.1-8.6l-8.6-6.4l-9.4-4.3l-12-3.3l-12-1l-9 1.9l-18.2 6.7l-14.8 3.3l-18 1.9l-24-.4l-6 .7l-6 3.2l-12 14.5l-6 5.5l-9 5.1l-9 1.7l-12-1.1l-18-5.7l-9-1.8l-18 1.2l-21-.4l-63 5.9l-15 .5l-30 7.6l-15 1.8l-9-1.3l-24-6.4l-18-2.3l-42-2.4l-42 1.9l-15-1.4l-12-3.2l-21-8l-9-4.9l-9.4-7.8l-36.4 8.1l-2.8 1.8l-1 3l.1 46.9l22.9 107l7.7 30.5l7.7 23.3l8.8 9.5l3.6 1.5l39.1-.1l320.5-61z" fill="#24cc00"/>
<path d="M706.8 509.8l1.8-10.8l2.9-9l3.5-6l6-5.9l12-6.4l36-12.4l9-4l6.3-4.3l5.7-5.3l5.7-9.7l2.2-12l.2-12l-1.8-15l-3.8-15l-4.4-9l-7.1-8.6l-8.6-6.4l-9.4-4.3l-12-3.3l-12-1l-9 1.9l-18.1 6.7l-14.9 3.3l-18 1.9l-24-.4l-6 .8l-6 3.2l-12 14.4l-6 5.5l-9 5.1l-9 1.7l-12-1.1l-18-5.7l-9-1.7l-18 1.2l-21-.4l-63 5.9l-15 .5l-30 7.5l-15 1.9l-9-1.4l-24-6.3l-18-2.3l-42-2.5l-42 1.9l-15-1.3l-12-3.3l-21-7.9l-9-5l-9.5-7.8l-36.3 8.1l-2.8 1.8l-1 3l.1 46.9l22.9 107l7.7 30.5l7.7 23.3l8.8 9.5l3.6 1.5l39.1-.1l320.5-61z" fill="#2ccc00"/>
<path d="M706.8 509.8l1.7-10.8l3-9l3.5-6l6-6l12-6.3l36-12.4l9-4.1l6.3-4.2l5.7-5.4l5.6-9.6l2.3-12l.2-12l-1.8-15l-3.8-15l-4.4-9l-7.1-8.6l-8.6-6.4l-9.4-4.2l-12-3.4l-12-.9l-9 1.8l-18 6.7l-15 3.3l-18 1.9l-24-.4l-6 .8l-6 3.2l-12 14.4l-6 5.5l-9 5.1l-9 1.7l-12-1.1l-18-5.6l-9-1.8l-18 1.2l-21-.4l-63 5.9l-15 .5l-30 7.6l-15 1.9l-9-1.4l-24-6.4l-18-2.3l-42-2.4l-42 1.9l-15-1.4l-12-3.2l-21-8l-9-4.9l-9.5-7.9l-36.3 8.1l-2.8 1.8l-1 3l.1 46.9l22.9 107l7.7 30.5l7.7 23.3l8.8 9.5l3.6 1.5l39.1-.1l320.5-61z" fill="#34cd00"/>
<path d="M706.8 509.8l1.7-10.8l3-9l3.5-6l6-6l12-6.3l36-12.4l9-4.1l6.2-4.2l5.8-5.4l5.6-9.6l2.3-12l.1-12l-1.7-15l-3.8-15l-4.4-9l-7.1-8.6l-8.7-6.4l-9.3-4.2l-12-3.4l-12-.9l-9 1.8l-18 6.7l-15 3.3l-18 1.9l-24-.4l-6 .8l-6 3.2l-12 14.4l-6 5.5l-9 5.1l-9 1.7l-12-1.1l-18-5.6l-9-1.8l-18 1.2l-21-.4l-63 6l-15 .5l-33 8.2l-12 1.2l-9-1.4l-21-5.8l-18-2.6l-45-2.7l-42 1.9l-15-1.3l-12-3.3l-21-7.9l-9-4.9l-9.6-8l-36.2 8.1l-2.8 1.8l-1 3l.1 46.9l22.9 107l7.7 30.5l7.7 23.3l8.8 9.5l3.6 1.5l39.1-.1l320.5-61z" fill="#3cce00"/>
<path d="M706.8 509.8l1.7-10.8l3-9l3.5-6l6-6l12-6.3l36-12.4l9-4.1l6.2-4.2l5.8-5.5l5.6-9.5l2.3-12l.1-12l-1.7-15l-3.8-15l-4.5-9l-7-8.5l-8.7-6.5l-9.3-4.2l-12-3.4l-12-.9l-9 1.8l-17.9 6.7l-15.1 3.3l-18 1.9l-24-.3l-6 .7l-6 3.2l-12 14.4l-6 5.6l-6 3.8l-9 2.7l-6 .2l-9-1.1l-18-5.6l-9-1.8l-18 1.3l-21-.5l-63 6l-18 .9l-24 6.5l-15 2.6l-9-.7l-27-7.1l-18-2.3l-42-2.4l-42 1.8l-15-1.3l-12-3.2l-21-7.9l-9-4.9l-9.7-8l-36.1 8l-2.8 1.8l-1 3l.1 46.9l22.9 107l7.7 30.5l7.7 23.3l8.8 9.5l3.6 1.5l39.1-.1l320.5-61z" fill="#44cf00"/>
<path d="M706.7 509.8l1.8-10.8l2.9-9l3.5-6l6.1-6l12-6.3l36-12.5l9-4l6.2-4.2l5.8-5.5l5.6-9.5l2.3-12l.1-12l-1.8-15l-3.8-15l-4.4-9l-7-8.5l-8.7-6.5l-9.3-4.2l-12-3.3l-12-1l-9 1.9l-17.8 6.6l-15.2 3.4l-18 1.8l-24-.3l-6 .8l-6 3.2l-12 14.4l-6 5.5l-6 3.8l-9 2.7l-6 .3l-9-1.2l-18-5.6l-9-1.7l-18 1.2l-21-.4l-63 5.9l-18 .9l-24 6.6l-15 2.6l-9-.8l-27-7.1l-18-2.2l-42-2.5l-42 1.9l-15-1.3l-12-3.2l-21-8l-9-4.9l-9.7-8l-36.1 8l-2.8 1.8l-1 3l.1 46.9l22.9 107l7.7 30.5l7.7 23.3l8.8 9.5l3.6 1.5l39.1-.1l320.5-61z" fill="#51d000"/>
<path d="M706.6 509.8l1.7-10.8l3-9l3.5-6l6-6l12.2-6.4l36-12.5l9-4.1l6-4l6-5.7l5.4-9.3l2.3-12l.2-12l-2.3-18l-3.3-12l-4.4-9l-6.9-8.4l-8.9-6.6l-9.1-4.1l-12-3.3l-12-1l-9 1.9l-17.5 6.5l-15.5 3.4l-18 1.9l-24-.3l-6 .8l-6 3.2l-12 14.4l-6 5.5l-6 3.8l-9 2.7l-6 .3l-9-1.1l-18-5.6l-9-1.8l-18 1.2l-21-.3l-63 6l-15 .5l-30 7.8l-12 1.9l-9-.8l-24-6.6l-18-2.7l-45-2.7l-42 1.9l-15-1.3l-15-4.1l-21-8.2l-6-3.5l-10.1-8.4l-35.7 7.9l-2.8 1.8l-1 3l.1 46.9l22.9 107l7.7 30.5l7.7 23.3l8.8 9.5l3.6 1.5l39.1-.1l320.5-61z" fill="#55d100"/>
<path d="M705.8 510l1.8-11l3-9l3.6-6l5.9-6l10.8-6l38.1-13.4l9-4.2l11.4-9.4l5.4-9l2.4-12l.2-12l-2.3-18l-3.3-12l-4.5-9l-6.3-7.7l-9-6.8l-9-4.1l-12-3.4l-12-.9l-9 1.9l-18 6.6l-15 3.2l-18 1.9l-24-.2l-6 .9l-6 3.3l-12 14.1l-6 5.5l-6 3.8l-9 2.7l-6 .3l-9-1l-18-5.5l-9-1.7l-18 1.3l-21-.3l-79.2 7.1l-28.8 8.2l-12 2.1l-9-1.1l-24-7.3l-18-2.6l-45-2.6l-42 1.8l-17.1-1.5l-15.9-4.4l-18-6.9l-9-5.6l-8.8-7.9l-34 7.6l-2.8 1.8l-1 3l.1 46.9l22.9 107l7.7 30.5l7.7 23.3l8.8 9.5l3.6 1.5l39.1-.1l320.5-61z" fill="#5dd400"/>
<path d="M705 510.1l1.9-11.1l3.1-9l3.5-6l5.9-6l10.6-6.1l39-13.8l8.6-4.1l11-9l5.5-9l2.5-12l.3-12l-1.7-15l-3.8-15l-4.7-9l-5.7-7l-9-7l-9-4.1l-12-3.4l-12-1l-9 2l-18 6.6l-15 3.1l-18 2l-24-.1l-6 .9l-6 3.3l-11.7 13.7l-6.3 5.7l-6 3.8l-9 2.8l-6 .3l-9-1l-18-5.4l-9-1.6l-18 1.3l-21-.2l-78 7.4l-33 9.7l-9 1.6l-9-1.5l-21-7.2l-18-3l-51-3l-39 1.9l-18-1.5l-15.8-4.1l-17.2-6.4l-9-5.5l-10.4-9.5l-32.4 7.2l-2.8 1.8l-1 3l.1 46.9l22.9 107l7.7 30.5l7.7 23.3l8.8 9.5l3.6 1.5l39.1-.1l320.5-61z" fill="#65d600"/>
<path d="M704.2 510.3l2-11.3l3.1-9l3.6-6l5.8-6l11.3-6.5l36-12.8l10.5-4.7l11.3-9l5.7-9l2.5-12l.4-12l-1.6-15l-3.9-15l-4.7-9l-5.2-6.4l-9-7.1l-9-4.2l-12-3.4l-12-1l-9 2l-15 5.8l-15 3.4l-18 2.3l-27 .2l-6 1l-6 3.4l-11.3 13l-6.7 6.1l-6 3.8l-9 2.8l-6 .4l-9-1l-18-5.3l-9-1.6l-18 1.4l-21-.1l-78 8l-36 11.2l-6 1l-6-.9l-24-9.2l-15-2.5l-54-3.2l-42 1.8l-18-1.8l-18-4.9l-15-6l-6-4l-12-11l-30.8 6.8l-2.8 1.8l-1 3l.1 46.9l22.9 107l7.7 30.5l7.7 23.3l8.8 9.5l3.6 1.5l39.1-.1l320.5-61z" fill="#6dd800"/>
<path d="M703.4 510.4l2.1-11.4l3.2-9l3.5-6l5.8-6l12-6.9l45.5-17.1l11.5-9l5.8-9l2.7-12l.3-15l-2-15l-3.4-12l-4.8-9l-4.9-6l-8.7-7l-9-4.2l-12-3.5l-12-.9l-9 2l-15 5.8l-15 3.3l-18 2.2l-27 .5l-6 1l-6 3.5l-10.8 12.3l-7.2 6.5l-6 3.9l-9 2.8l-6 .4l-9-1l-18-5.2l-9-1.5l-18 1.4l-24 .2l-75 8.3l-42 13.5l-6-1.4l-18-8.4l-18-4.1l-57-3.4l-42 1.8l-21-2.1l-18-4.9l-12-4.9l-7.2-4.9l-12.4-11.7l-29.2 6.5l-2.8 1.8l-1 3l.1 46.9l22.9 107l7.7 30.5l7.7 23.3l8.8 9.5l3.6 1.5l39.1-.1l320.5-61z" fill="#74da00"/>
<path d="M702.6 510.6l2.2-11.6l3.2-9l3.6-6l5.7-6l12.7-7.3l45-17l11.2-8.7l6-9l2.8-12l.5-12l-1.6-15l-2.9-12l-4-9l-6-8l-6-5.4l-9-5.1l-15-4.7l-12-1l-9 2.1l-15 5.7l-15 3.3l-18 2.2l-27 .7l-6 1l-6 3.5l-10.4 11.7l-7.6 6.9l-6 3.9l-9 2.8l-6 .4l-9-.9l-18-5.1l-9-1.4l-18 1.4l-24 .4l-42 4.2l-33 4.6l-42 15l-3-.5l-19.7-10.7l-16.3-4.2l-63-3.7l-42 1.8l-23.4-2.9l-15.6-4.3l-9-3.9l-9-6.4l-12.2-11.7l-27.6 6.1l-2.8 1.8l-1 3l.1 46.9l22.9 107l7.7 30.5l7.7 23.3l8.8 9.5l3.6 1.5l39.1-.1l320.5-61z" fill="#7cdc00"/>
<path d="M701.9 510.8l2.2-11.8l3.3-9l3.6-6l5.7-6l13.3-7.7l36-13.1l9-4.1l10.4-8.1l6.1-9l3-12l.5-12l-1.5-15l-3-12l-4.1-9l-5.4-7.4l-6-5.5l-9-5.1l-15-4.8l-12-.9l-6 1.1l-18 6.7l-15 3.2l-21 2.4l-28.3 1.3l-7.7 3.9l-12 13.2l-6 5.3l-6 3.8l-9 2.9l-15-.4l-18-5.1l-9-1.3l-18 1.4l-21 .2l-39 3.9l-33 4.5l-9 2.1l-21.1 7.6l-17.9 8.4l-3-.7l-10.4-7.7l-7.6-4.3l-9-3.2l-9-1.7l-63-3.6l-45 1.7l-15-1.4l-12-2.4l-12-3.6l-9-4.5l-6-4.6l-13.8-13.4l-26 5.8l-2.8 1.8l-1 3l.1 46.9l22.9 107l7.7 30.5l7.7 23.3l8.8 9.5l3.6 1.5l39.1-.1l320.5-61z" fill="#84de00"/>
<path d="M701.1 510.9l2.4-11.9l3.3-9l3.6-6l5.6-6l14-8l35.3-13l9.7-4.4l9.7-7.6l6.2-9l3-12l.7-12l-1.5-15l-3-12l-4.2-9l-4.9-6.7l-6-5.7l-9-5.2l-15-4.8l-12-.9l-6 1.1l-18 6.8l-15 3.1l-21 2.4l-27 1.1l-6 2.2l-3 2.2l-12.5 13.4l-8.5 6.9l-6 3.1l-6 1.6h-12l-24-6l-9-.6l-39 2l-42 4.3l-27 4.1l-12 3.3l-14.4 5.3l-21.6 11.2l-3-.6l-8.5-7.6l-9-6l-6.5-2.7l-9-2.2l-45-1.8l-21-2l-45 1.7l-15-1.2l-15-2.7l-9-2.6l-9-4.5l-6-4.7l-15.3-15l-24.5 5.5l-2.8 1.8l-1 3l.1 46.9l22.9 107l7.7 30.5l7.7 23.3l8.8 9.5l3.6 1.5l39.1-.1l320.5-61zM238 480.8l5.1 3.2l-.8 3l-1.3 .7l-6 1l-3-.7l-2-1l-1.6-3l1.8-3z" fill="#8be000"/>
<path d="M700.3 511l2.5-12l3.3-9l3.7-6l5.6-6l5.6-4l9-4.4l36-13.3l9-4.3l8.9-7l6.4-9l2.6-9l1.2-12l-.6-12l-2.9-15l-3.5-9l-6.1-9l-6.3-6l-8.7-5.1l-15-4.8l-12-1l-6 1.2l-17.9 6.7l-14.3 3l-21.8 2.5l-27 1.3l-6 2.2l-3 2.2l-12 12.8l-9 7.3l-6 3.1l-6 1.6l-12 .1l-24-5.9l-9-.5l-39 2.1l-45 4.8l-21 3.3l-12 3l-18 6.8l-8.2 4.3l-9.8 6.8l-3 1l-3-.5l-1.8-1.3l-8.6-9l-7.6-5.2l-6-2.6l-9-2.2l-45-1.2l-21-2.3l-48 1.6l-15-1.2l-15-2.6l-9-2.9l-6-3.2l-22.9-21.5l-22.9 5.1l-2.8 1.8l-1 3l.1 46.9l22.9 107l7.7 30.5l7.7 23.3l8.8 9.5l3.6 1.5l39.1-.1l320.5-61zM235 477.7l9.5 3.3l2.2 3l-.5 3l-4.3 3l-6.9 .9l-5.4-.9l-3.6-2.8l-1.4-3.2l-.1-3l1.5-2.2l3-1.2z" fill="#93e200"/>
<path d="M699.6 511l2.4-12l3.5-9l3.6-6l5.6-6l6.3-4.4l9-4.4l36-13.4l9-4.4l8.1-6.4l6.5-9l2.8-9l1.3-12l-.6-12l-3-15l-3.5-9l-5.6-8.3l-7-6.7l-8-4.6l-15-4.9l-12-.9l-6 1.2l-16.3 6.2l-13.7 3l-21 2.7l-30 1.7l-6 2.2l-3 2.2l-12 12.6l-9 7.3l-6 3.2l-6 1.6l-12 .2l-21-5.2l-9-1.2l-39 2l-45 4.8l-21 3.3l-12 2.8l-18 6.7l-9 4.6l-12 8.5l-3 .9l-3-.3l-3-2l-6.1-7.6l-7-6l-7.9-3.9l-6-1.7l-9-.9h-36l-24-2.9l-48 1.7l-30-3l-9-2.6l-6-3.2l-24.6-23.4l-21.2 4.7l-2.8 1.8l-1 3l.1 46.9l22.9 107l7.7 30.5l7.7 23.3l8.8 9.5l3.6 1.5l39.1-.1l320.5-61zM226 475.2l9 .6l9 2.7l3.8 2.5l1.6 3l-.6 3l-3.1 3l-7.7 2.3l-6 .1l-6-2.1l-2.9-3.3l-1.9-6l.4-3l1.4-1.7z" fill="#9be400"/>
<path d="M698.8 511l2.5-12l3.5-9l3.7-6l5.6-6l6.9-4.8l8.5-4.2l42.5-16.4l10.4-7.6l6.6-9l2.9-9l1.3-12l-.5-12l-3-15l-3.6-9l-5.1-7.6l-6-6l-9-5.5l-15-5l-12-.9l-6 1.2l-15 5.9l-15 3.3l-21 2.6l-30 2l-6 2.3l-3 2.1l-12 12.4l-9 7.3l-6 3.2l-6 1.7l-12 .2l-21-5.1l-9-1.2l-39 2.2l-45 4.8l-18 2.9l-15 3.5l-17.4 6.7l-9.6 5.2l-9 6.9l-6 2.7l-3-.3l-3-1.7l-7.7-9.8l-7.1-6l-12.2-4.7l-9-.8l-30 .8l-30-3.6l-42 1.9l-33-1.9l-9-1.6l-9-4.2l-6-5.1l-12.4-13.8l-8-6.5l-19.4 4.3l-2.8 1.8l-1 3l.1 46.9l22.9 107l7.7 30.5l7.7 23.3l8.8 9.5l3.6 1.5l39.1-.1l320.5-61zM223 472.8l12 1.3l11.9 3.9l3.6 3l1.3 3l-.7 3l-2.7 3l-7.4 3.1l-9 .6l-6-1.4l-3-2.3l-2-3l-2.2-6l.2-6z" fill="#a2e600"/>
<path d="M698 511l2.6-12l3.5-9l3.7-6l5.6-6l7.6-5.3l7.6-3.7l43.4-16.9l9.6-7.1l6.7-9l3-9l1.4-12l-.5-12l-3-15l-3.7-9l-4.5-6.9l-6-6.2l-9-5.6l-15-4.9l-12-1l-6 1.3l-15 5.8l-12 2.8l-21 2.8l-33 2.5l-9 4.4l-12 12.3l-9 7.3l-6 3.2l-6 1.7l-6 .6l-9-.7l-18-4.7l-9-1.1l-39 2.3l-60 7.2l-15 3.4l-17.4 6.5l-9.6 5l-12 8.8l-6 2.5l-6-1.6l-9.2-11.7l-5.8-5l-6-3.1l-6-1.7l-9-.7l-30 1.5l-33-4.3l-36 2.1l-39-1.4l-9-1.8l-6-2.9l-6-5.3l-14.2-16.4l-8-6.1l-17.6 3.9l-2.8 1.8l-1 3l.1 46.9l22.9 107l7.7 30.5l7.7 23.3l8.8 9.5l3.6 1.5l39.1-.1l320.5-61zM220 470.2l12 1.6l15 4.6l6.1 4.6l.9 3l-.8 3l-2.5 3l-3.7 2.2l-6 1.9l-9 .8l-7.9-1.9l-4.9-6l-3.3-9l.5-6z" fill="#aae800"/>
<path d="M697.2 511.7l2.7-12.7l3.5-9l3.8-6l5.6-6l5.2-3.9l9.8-5.1l44.2-17.5l8.9-6.5l6.8-9l3.1-9l1.5-12l-.5-12l-3.1-15l-3.7-9l-4-6.2l-6-6.3l-9-5.7l-15-5l-12-.9l-6 1.2l-15 5.9l-12 2.7l-21 2.8l-33 2.6l-9 4.5l-12 12.1l-9 7.3l-6 3.2l-6 1.8l-6 .6l-9-.7l-18-4.6l-9-1.1l-36 2.2l-63 7.6l-15 3.6l-15 5.7l-11.1 5.7l-12.9 9.5l-6 2.2l-3-.1l-4.6-2.6l-9-12l-4.4-3.9l-6-3.3l-6-1.8l-9-.5l-24 2.5l-12-1l-24-4.1l-39 2.1l-45-1l-6-1.6l-6-3.8l-16-19.6l-11.2-8.7l-15.6 3.5l-2.8 1.8l-1 3l.1 46.9l22.9 107l7.7 30.5l7.7 23.3l8.8 9.5l3.6 1.5l39.1-.1l320.5-61zM217 467.4l9 1.2l21.6 6.4l5.2 3l2.6 3l.7 3l-.9 3l-2.5 3l-4.6 3l-7.1 2.1l-12 .9l-6-2l-5.5-7l-4.4-12l.7-6z" fill="#b2ea00"/>
<path d="M696.3 511.9l5-18.9l5.2-9l5.6-6l5.9-4.3l8.9-4.7l45.1-18l8.2-6l6.9-9l3.2-9l1.5-12l-.4-12l-2.3-12l-3.1-9l-5.4-9l-5.7-6l-8.9-5.7l-15-5.1l-12-.9l-6 1.3l-15 5.8l-12 2.7l-21 2.8l-33 2.8l-9 4.5l-12 11.9l-9 7.3l-6 3.3l-6 1.8l-12 .4l-24-5.5l-9-.4l-33 2.2l-45 4.9l-18 2.8l-15 3.7l-15 6l-9 4.6l-15 10.8l-6 2.1l-5.6-1.1l-3.4-2.6l-6.5-9.4l-5.8-6l-5.7-3.3l-6-1.8l-9-.3l-24 3.2l-39-6l-33 2.3l-51 .3l-6-1.8l-3-2.1l-15-20.5l-6-5.9l-8.4-5.3l-13.4 3l-2.8 1.8l-1 3l.1 46.9l22.9 107l7.7 30.5l7.7 23.3l8.8 9.5l3.6 1.5l39.1-.1l320.5-61zM217 464.5l33.9 10.5l4.7 3l2.3 3l.4 3l-1.1 3l-6.8 6l-6.4 2.4l-12 1.6l-9-1.5l-3.1-2.5l-3.8-6l-5.6-15l-.1-3l1.4-3l2.2-1.4z" fill="#baec00"/>
<path d="M695.5 512l2.9-13l3.7-9l3.8-6l5.6-6l6.5-4.8l8.1-4.2l45.9-18.5l9-7.1l6-8.5l3.4-10.9l1-12l-.9-12l-2.7-12l-3.8-9l-4-6l-5.8-6l-8.2-5.2l-15-5.2l-12-.9l-6 1.3l-15 5.8l-9 2.1l-21 3l-36 3.4l-9 4.5l-12.5 12.2l-8.5 6.8l-6 3.4l-9 2.3l-12-.4l-21-5.1l-9-.4l-33 2.4l-60 7.2l-15 3.5l-11.7 4.3l-12.4 6l-17 12l-6.9 2.3l-3-.1l-4.8-2.2l-13.2-16.5l-6-3.8l-6-1.9l-9-.1l-24 4.1l-9-1.1l-21-4.9l-9-.9l-30 2.3l-27 .6l-27 1.9l-6-.6l-3-1.3l-3-3l-7.3-13.8l-6.4-9l-10.3-8.3l-4.8-2.3l-11 2.4l-2.8 1.8l-1 3l.1 46.9l22.9 107l7.7 30.5l7.7 23.3l8.8 9.5l3.6 1.5l39.1-.1l320.5-61zM214 461.3l40.2 13.7l4.2 3l2 3l.1 3l-1.3 3l-6.8 6l-8.4 3.3l-15 1.6l-7.5-1.9l-3.1-3l-3.7-6l-6.3-15l-.4-6l1.5-3l1.5-1.3z" fill="#c1ee00"/>
<path d="M694.6 512.2l3.1-13.2l3.7-9l3.8-6l5.6-6l7.2-5.2l7.3-3.8l46.7-19l9.6-8l5.4-8.4l2.9-9.6l1.1-12l-.9-12l-2.7-12l-3.4-8l-4.6-7l-5.9-6l-7.5-4.7l-15-5.2l-12-1l-6 1.4l-15 5.8l-9 2l-57 6.5l-9 4.5l-12 11.7l-9 7.2l-6 3.4l-9 2.4l-12-.3l-21-5l-9-.5l-33 2.6l-60 7.2l-15 3.6l-15 6.1l-11.4 6.3l-12.6 9.2l-9 3.4l-6-1l-3-2l-9-12.6l-6-5.7l-6-2.8l-6-1l-7 .5l-17 4.5l-6 .5l-30-7.1l-12-.9l-21 2.1l-39 1.8l-33 5.9l-3-1.6l-1.7-11.2l-4.5-12l-3.8-6l-5-5.4l-6-4.2l-7.7-3.4l-8.1 1.8l-2.8 1.8l-1 3l.1 46.9l22.9 107l7.7 30.5l7.7 23.3l8.8 9.5l3.6 1.5l39.1-.1l320.5-61zM211 457.5l45 16.8l5.3 3.7l1.7 3l-.1 3l-4.5 6l-4.1 3l-6.5 3l-15.8 2.7l-9-.7l-3-1.6l-3.1-3.4l-6.5-12l-3.7-9l-1.2-9l2.5-4.9z" fill="#c9f100"/>
<path d="M693.8 512.4l2.2-10.4l3.2-9l5.3-9l5.7-6l7.8-5.6l6.5-3.4l35.5-13.9l12-5.7l8.9-7.4l5.8-9l2.7-9l1.2-12l-1-12l-2.6-11.7l-3-7.4l-5.2-7.9l-6.1-6l-6.7-4.2l-15-5.3l-12-.9l-6 1.3l-15 5.8l-9 2l-57 6.7l-9 4.4l-21 18.9l-6 3.4l-9 2.5l-12-.3l-21-5l-9-.4l-33 2.7l-60 7.3l-15 3.7l-12.8 5.4l-11.1 6l-15.1 10.7l-9 3.1l-6-.9l-3-1.8l-12-16l-5.3-4.1l-3.7-1.6l-6-.9l-6 .6l-18 5.8l-6 .5l-27-7.8l-12-1.6l-27 2.6l-30 1.2l-21 4.2l-7.6 3l-4.4 3l-5 6l-7 11.7l-3 .3l-3-2.5l-2.4-3.5l-1.9-6l.6-6l5.3-9l2.1-6l-.6-9l-3.8-9l-8.3-8.9l-6-3.4l-8.1-3l-4.7 1.1l-2.8 1.8l-1 3l.1 46.9l22.9 107l7.7 30.5l7.7 23.3l8.8 9.5l3.6 1.5l39.1-.1l320.5-61zM204.7 451l6.3 1.8l17.8 10.2l25.9 9l6.1 3l3.6 3l1.6 3l-.5 3l-2 3l-7.3 6l-9.2 4l-18 2.7l-6-.6l-3-1.4l-6.2-7.7l-9.8-21l-1.7-12l.5-3z" fill="#d1f300"/>
<path d="M692.9 512.6l5.5-19.6l5.4-9l5.7-6l14.2-9l37.8-15l10.5-5.1l8.2-6.9l5.9-9l2.8-9l1.2-12l-.5-9l-2.3-12l-3.3-9.1l-5.8-8.9l-6.2-6l-6-3.8l-15-5.3l-12-.9l-27 8.6l-60 7.3l-9 4.5l-21 18.7l-6 3.5l-9 2.5l-12-.2l-21-5l-9-.4l-30 2.5l-63 7.8l-15 3.8l-10.2 4.4l-11.1 6l-17.3 12l-9.4 3l-6-.8l-3-1.6l-3.8-3.6l-5.7-9l-5.1-6l-4.9-3l-4.5-1.3l-9 .7l-15 6.3l-6 1.4l-6-.9l-21-7.7l-12-2.4l-30 2.8l-26.4 1.1l-15.6 2.9l-12 4.7l-8.3 7.4l-3.2 6l-1.6 6v3l2.1 6l5.6 6l8.7 6l8.7 4.1l24 8.1l6 3.2l3 2.6l1.5 3l-.9 3l-2.7 3l-7.8 6l-5.1 2.7l-11.4 3.3l-12.6 1.4l-9-1.5l-6-6.6l-10.5-20.3l-7-21l-8.2-18l-1.1-6l.8-6l6.7-12l2.2-6l-.1-6l-3.4-9l-6.4-7l-10.1-5l-8.3-2.3l-3.2 1.9l-1 3l.1 46.9l22.9 107l7.7 30.5l7.7 23.3l8.8 9.5l3.6 1.5l39.1-.1l320.5-61z" fill="#d9f500"/>
<path d="M691.9 512.7l3.4-13.7l3.9-9l4-6l5.7-6l14-9l37.6-15l11.5-5.6l7.6-6.4l5.9-9l2.9-9l1.3-12l-.5-9l-2.3-12l-3.4-9l-3.6-6l-5.1-6l-8.8-6.3l-15-5.4l-12-.9l-27 8.6l-60 7.4l-9 4.5l-21 18.6l-6 3.5l-9 2.7l-12-.2l-21-4.9l-9-.5l-69 7l-24 3.5l-12 3l-10.6 4.4l-13.4 7.6l-15 10.5l-6 2.8l-6 1.3l-6-.7l-3-1.4l-5.2-5.1l-5.6-9l-4.2-4.9l-3-2.2l-6-2.2l-9 1.1l-15 8.1l-6 1.4l-6-1.5l-18-8.3l-15-3.4l-30 3.1l-24 1.1l-10.4 1.7l-13.6 4.8l-6 3.7l-3.6 3.5l-3.7 6l-1.5 6l.6 6l1.3 3l4.9 6l8.4 6l8.6 3.9l24.9 8.1l9.3 6l1.5 3l-1.3 3l-3.7 3l-14.4 9l-10.3 3.2l-15 2l-9-1.3l-6-5.9l-12.1-22l-16.5-36l-1.5-6v-6l1.7-6l8.3-15l.6-6l-1.5-6.1l-3.9-5.9l-8.1-5.5l-15.4-4l-1.2 3.1l.1 46.9l22.9 107l7.7 30.5l7.7 23.3l8.8 9.5l3.6 1.5l39.1-.1l320.5-61z" fill="#e0f700"/>
<path d="M691 512.9l3.5-13.9l3.9-9l4-6l5.8-6l13.9-9l46.9-19.4l9.9-7.6l6-9l3-9l1.3-12l-.5-9l-2.3-12l-3.4-9l-5-7.8l-6-6l-6.5-4.2l-14.5-5.2l-12-1l-27 8.6l-60 7.5l-9 4.5l-15 13.8l-9 6.7l-6 2.8l-6 1.5l-12-.1l-21-4.9l-9-.5l-72 7.6l-21 3.2l-12 3.1l-8.1 3.4l-30.9 19.8l-6 2.6l-6 1.1l-6-.6l-6-3.5l-11.5-16.4l-3.7-3l-5.8-2.1l-6 .5l-4.4 1.6l-13.6 10.1l-3 1.1l-6-1l-11.7-7.2l-9.3-4.4l-15-3.5l-30 3.5l-24 1.3l-9 1.7l-15 6.3l-7.8 7.1l-3.6 9l.4 6l1.2 3l4.7 6l8.1 5.7l9 3.9l26.6 8.4l5.6 3l3.6 3l1.9 3l-1 3l-21.7 12.1l-12 3.7l-18 2.3l-6-1.2l-6-5.2l-15.2-26.7l-16.7-33l-1.5-9l.7-6l2.2-6l6.5-10.5l1.8-4.5l.3-3l-1.2-6l-3.9-5.6l-6-3.8l-9.8-2.6l-6.6-1l-.2 .6l.1 46.9l22.9 107l7.7 30.5l7.7 23.3l8.8 9.5l3.6 1.5l39.1-.1l320.5-61zM364 460l3.2 3l1.8 6l-.4 3l-1.6 2.7l-3 .4l-3.5-3.1l-2.1-6l.4-3l2-3z" fill="#e8f900"/>
<path d="M690 513.1l2.6-11.1l3.5-9l5.6-9l5.8-6l13.9-9l47.6-19.8l9.2-7.2l6.2-9l3-9l1.3-9l-.4-12l-2.4-12l-3.4-9l-4.5-7.1l-6-6.1l-7.5-4.8l-13.5-4.8l-12-.9l-27 8.5l-60 7.6l-9 4.6l-15 13.6l-9 6.8l-6 2.9l-6 1.5h-12l-21-5l-9-.5l-72 7.8l-21 3.2l-17.6 5.7l-30.4 19.9l-6 2.9l-9 2l-6-.5l-6-3.1l-3.1-3.2l-8.9-13.7l-5.7-4.3l-3.3-.8l-6 .6l-5.7 3.2l-9.3 11.1l-3 2.5l-3 .3l-6-3l-9.8-7.9l-8.2-5l-15-4.6l-9-.1l-21 3.3l-24 1.6l-9 1.5l-12 4.7l-9.9 7.6l-2.1 3l-2.3 6l.2 6l1.1 3l4.6 6l9.1 6l8.3 3.2l21 5.8l9 3.8l7.2 5.2l2.1 3v3l-33 15l-24.3 3.7l-6-.8l-3-1.7l-3.8-4.2l-28.4-48l-5.5-12l-1.6-9l.6-6l2.7-7.8l7.7-13.2l.7-6l-.9-3l-1.8-3l-5.7-4l-16.6-3.1l.1 44.6l22.9 107l7.7 30.5l7.7 23.3l8.8 9.5l3.6 1.5l39.1-.1l320.5-61zM361 452.7l6 3.8l3 4.5l1.7 5l.3 6l-.9 3l-4.1 3.8l-4.7-.8l-3.4-3l-3.9-9l.9-9l2.1-3.6z" fill="#f0fb00"/>
<path d="M688.9 513.3l6.4-20.3l5.7-9l5.8-6l14.2-9.2l48-20.1l8.6-6.7l6.2-9l3.1-9l1.3-9l-.1-9l-1.9-12l-2.8-9l-5.2-9l-5.4-6l-6.8-4.7l-15-5.7l-12-.9l-27 8.5l-60 7.7l-9 4.5l-15 13.6l-9 6.8l-12 4.6h-12l-21-5l-9-.5l-90 10.7l-18.2 5.4l-31.3 21l-7.5 3.4l-6 1.5l-9-.1l-6-2.7l-4.9-5.1l-7.1-11.7l-3-3.2l-6-2.5l-3 .1l-5.3 2.3l-5.2 6l-2.5 6l-1.1 6l1.2 6l9.9 12.7l2.7 5.3l1.6 6l.1 6l-1.4 4.7l-3 3.5l-3 1.2l-6-1.3l-3-2.5l-3.7-5.6l-2.4-9l.1-15l-1.5-6l-16.2-18l-9.3-6.7l-12-4.4l-9-.8l-27 4.3l-27 2.5l-12 4.6l-9 6.5l-3 3.8l-2.2 5.2l-.1 6l1 3l4.7 6l8.6 5.4l9 3.2l21 5.4l9.4 4l7.4 6l1.8 3l.3 3l-2.5 3l-13.4 3.5l-18.5 8.5l-11.5 2.6l-15 1.8l-7.7-1.4l-6.2-6l-28.2-45l-7.3-15l-1.8-9l.5-6l2.7-9.3l8.2-14.7l.2-3l-1-3l-2.7-3l-4.7-1.9l-13.6-1.7l.1 41.1l22.9 107l7.7 30.5l7.7 23.3l8.8 9.5l3.6 1.5l39.1-.1l320.5-61z" fill="#f8fd00"/>
<path d="M688 513.3l2.9-11.3l3.6-9l5.8-9l5.8-6l8.2-6l6.7-3.6l48-20.2l7.9-6.2l6.3-9l3.2-9l1.4-9l-.1-9l-1.9-12l-2.9-9l-4.9-8.6l-5.9-6.4l-6.1-4.2l-15-5.8l-12-.9l-24 7.9l-63 8.4l-9 4.5l-15 13.5l-9 6.8l-12 4.8l-12 .1l-21-5.1l-9-.5l-90 10.9l-15.8 4.6l-5.4 3l-8.8 7.4l-15.8 10.6l-8.2 4l-9 2.3h-9l-6-2.3l-4.6-4l-10.4-15.8l-3-2.2l-6-.5l-5.3 3.5l-1.9 3l-1.9 9l2.4 9l6.7 11.7l2.4 6.3l1.1 6v6l-3.5 8l-6 3.3l-3-.1l-5-2.2l-5.4-6l-3.6-9l-2.4-18l-2.2-6l-10.3-15l-6.3-6l-4.6-3l-11.2-4.2l-9-.7l-24 4.4l-30 3.3l-13.3 6.2l-7.7 7.4l-2.9 7.6l.2 3l2.7 5.7l6 5.3l8.3 4l24.7 6.1l9 3.4l9 6.5l3 4.5l.4 3.5l-1.7 3l-1.7 1.1l-15 3.5l-18 7.9l-10.7 2.5l-16.3 2l-6-.6l-3.3-1.4l-3.3-3l-35.2-54l-5-12l-1-9l2.8-14.9l6.2-12.1l.4-3l-3.6-3.5l-13.6-1.9l.1 36.9l22.9 107l7.7 30.5l7.7 23.3l8.8 9.5l3.6 1.5l39.1-.1l320.5-61z" fill="#fffd00"/>
<path d="M684.4 514l3.4-12l4-9l6.1-9l6-6l8.3-6l8.8-4.7l45.8-19.3l8.2-6l6.6-9l3.4-9l1.4-9v-9l-2-12l-3.1-9l-3.3-6.1l-6-7l-6.6-4.9l-14.4-5.7l-12-.9l-24 7.9l-63 8.5l-9 4.5l-24 20.3l-6 3.3l-9 2.5l-9-.3l-21-5.2l-12-.4l-75 9.3l-18 3.7l-9 3.6l-16.5 14.9l-10.5 7.4l-9 4.5l-9 2.2l-12 1l-15-2.4l-3 2.3l-1.6 18l-3.6 12l-4.7 6l-5.1 2.9l-3 .6l-6-.5l-6-3l-8.5-9l-4-9l-3-18l-4.1-12l-5.6-9l-7.8-6.7l-9-3.5l-9-.6l-27 7l-21 3l-9.4 3.8l-7.3 6l-3.3 6l.8 6l4.2 4.3l6 3.1l24 5.1l12 5.2l6 4.4l4.6 4.9l1.4 3v6l-4.5 6l-4.5 1.9l-15 2.6l-20.1 7.5l-21.9 3.6l-6 .3l-4.9-.9l-4.1-2.3l-3.6-3.7l-14.4-20.9l-18.8-24.1l-5.7-9l-5.1-10.6l21 98.1l7.7 30.5l7.7 23.3l8.8 9.5l3.6 1.5l39.1-.1l320.5-61z" fill="#fff700"/>
<path d="M677.8 515.6l2.9-10.6l6.3-12l6.8-9l6.3-6l8.5-6l9.4-5l33-13.7l15-7.1l6-4.3l6-7.3l3.7-7.6l2.2-9l.5-9l-.9-9l-2.5-9.7l-3.8-8.3l-5.2-6.9l-6-5.1l-12-5.7l-12-2.2l-6 .9l-21 7.2l-60 7.9l-6 1.9l-6 3.5l-27 22.2l-12 5.2l-9-.3l-21-5.8l-12-.6l-75 10.4l-15 3.2l-6 2.2l-6 4l-9 9.2l-21 17.9l-6 2.5l-18 4.9l-6 3.1l-6 5.9l-12 16.9l-7.8 5.6l-7.2 2l-6-.1l-9-2.9l-8.4-5l-10.5-9l-2-3l-1.6-6l1.4-18l-2.3-12l-5.6-9l-4-3.2l-6-2.4l-9-.2l-9 3.2l-12.4 8.6l-5.5 6l-1.1 3l.7 3l4.6 6l18.2 15l5.6 6l1 3l-.3 3l-3.1 6l-5.4 6l-5.3 3.6l-6 1.9l-12 1.8l-18 6.1l-30 4.9h-6l-6-2.1l-8-7.2l-13-16.8l-21.5-24.1l15.9 74.4l7.7 30.5l7.7 23.3l8.8 9.5l3.6 1.5l39.1-.1l320.5-61z" fill="#ffef00"/>
<path d="M301 428.7l-4.8 4.3l-2.8 6l.3 6l1.3 3l3 3.8l6 4.3l6 1.9l6-.9l3.7-3.1l3.1-6l.5-9l-2.1-6l-2.3-3l-5.9-3.4l-6-.2zM739 364.4l-24 7.8l-51 6.2l-12 2.5l-9 4.6l-27 22.7l-12 6.6l-9-.4l-21-6.8l-12-.8l-72 10.9l-18 4.2l-6 2.7l-6 4.8l-26.9 27.6l-27.1 11.2l-6 4.5l-18 17.1l-6 3.5l-6 1.9l-6 .8l-9-1.2l-24-9.6l-6-1.8l-6-.2l-6 1.7l-18 10.6l-6 2.3l-15 2.7l-21 6.1l-24 3.6l-9 .4l-6-1.6l-6.3-4l-33.8-35.4l13.5 62.9l7.7 30.5l7.7 23.3l8.8 9.5l3.6 1.5l39.1-.1l320.5-61l96.4-19.3l1.3-8.9l2.5-6l6.1-9l11-12l7.9-6l12-7l39-16.5l13.3-6.5l7.7-6l4.4-6l2.9-6l2.8-12l-.3-12l-4.1-15l-5.7-9.4l-10.3-8.6l-13.7-5.3z" fill="#ffe700"/>
<path d="M306.7 442l3.3 1.7l3-1l1.5-3.7l-.9-3l-3.6-1.4l-3 1.3l-1.1 3.1zM733 368.1l-15 5.5l-54 6.5l-15 3.9l-9 5.8l-27 23.7l-9 6l-6 .1l-24-9.2l-12-1l-36 6.4l-33 4.7l-18 4.3l-9 4.3l-6 5l-10.5 10.9l-8.4 12l-5.1 5l-24 10.3l-9 5.8l-19.3 14.9l-5.8 3l-7.9 2.5l-6 .8l-9-.7l-24-7.1l-12-1.4l-9 1.9l-18 7.6l-15 3.1l-18 5.1l-30 4.5l-9 .3l-6.9-1.6l-8.1-4.9l-29.2-27.9l11.6 54.3l7.7 30.5l7.7 23.3l8.8 9.5l3.6 1.5l39.1-.1l320.5-61l90.8-18.2l.8-10l3.5-9l7.2-9l9.8-9l8.3-6l13.8-7.5l39.2-16.5l14.8-7.5l8.8-7.5l5.1-9l2.6-9l.4-12l-2.4-12l-5.8-12l-8.7-8.4l-12-6l-9-1.5z" fill="#ffdf00"/>
<path d="M660.8 519l1.4-14l3.7-9l4.5-6l10.2-9l9.1-6l11.6-6l55.2-24l9.4-6l5.4-6l3.2-6l2.7-9l.7-6l-.6-9l-2.2-9l-3.1-7.2l-3.2-4.8l-6.4-6l-11.4-6.1l-9-1.7l-6 .9l-18 6.5l-48 5.4l-15 2.7l-9 3.8l-6 4.2l-19.1 17.3l-13.9 14.3l-3 1.7l-6-.5l-21-10.4l-12-2.3l-9 .9l-30 5.9l-30 4.5l-16.8 3.9l-10.2 4.4l-9 7.4l-8.1 9.2l-9.5 15l-3.4 2.9l-24 10.9l-30 19.3l-15 5.5l-6 .7l-9-.4l-27-6.3l-12-.6l-9 1.9l-15 5.4l-30 7.3l-31 4.4l-11 .5l-9-2.2l-7.6-4.3l-26-22.5l10 47l7.7 30.5l7.7 23.3l8.8 9.5l3.6 1.5l39.1-.1l320.5-61z" fill="#ffd700"/>
<path d="M656.2 519.9l1.7-14.9l2.9-9l6-9l6.8-6l9.7-6l12.5-6l55.2-23.2l11.5-6.8l6.1-6l3.5-6l2.9-9l.7-6l-.6-9l-2.3-9l-2.7-6l-4.1-5.7l-6-5.1l-12-6l-9-.6l-21 7l-48 5.1l-18 3.8l-9 4.8l-10.5 8.7l-14.6 15l-10.9 15.1l-3 1.4l-6-1.7l-18.4-11.8l-8.6-2.9l-6-.7l-9 .8l-33 6.6l-27 4.2l-15 3.8l-9 3.9l-9 7.1l-8.4 10.2l-6.9 12l-5.7 6l-24 11.8l-31.5 18.2l-16.5 5.5l-15 .4l-27-5.4l-12-.7l-9 1.4l-18 5.7l-27 6l-30 3.9l-12 .5l-9-1.9l-7.1-3.4l-25.2-19.3l8.7 40.8l7.7 30.5l7.7 23.3l8.8 9.5l3.6 1.5l39.1-.1l320.5-61z" fill="#ffcf00"/>
<path d="M651.1 520.9l2.3-15.9l2.6-9l4.9-9l6.1-6.1l15.5-8.9l65.5-26.7l10.9-6.3l7.1-6.4l3.6-5.6l2.3-6l1.3-6l.1-9l-1.8-9l-2.3-6l-3.9-6l-5.3-5l-12-6.4l-9-.8l-21 6.7l-48 4.8l-18 4.1l-12 7.1l-11.5 10.5l-10.1 12l-8.4 17.3l-3 2.7l-3 .7l-6-3.1l-9.2-8.6l-8.8-5.9l-8-3.1l-7-1.1l-12 1.2l-57 10.8l-12 3.2l-9.1 3.9l-8.9 6.9l-6.7 8.1l-8.8 15l-8.5 8l-51 26.4l-18 6.3l-15 1.2l-33-5.4l-12-.2l-9 1.7l-18 5.5l-21 4.2l-27 3.4l-18 .9l-6.6-1l-8.4-3.1l-10.1-5.9l-15.1-10.9l15.3 65.9l7.7 23.3l8.8 9.5l3.6 1.5l39.1-.1l320.5-61z" fill="#ffc700"/>
<path d="M643 522.5l4.3-17.5l5.9-15l4-6l6.8-6l11-6l67-25.8l13.1-7.2l7.9-6.5l4-5.5l2.5-6l1.4-6l.2-9l-3-12l-3.4-6l-4.7-5l-6-4.2l-6-2.7l-9-1.1l-21 6.4l-48 4.6l-18 4.3l-12 7.1l-14.8 14.6l-7.3 12l-4.9 15.4l-3 4l-3 1.7l-3 .3l-3-1l-13.2-14.4l-7.8-5.9l-6.9-3.1l-8.1-1.6l-15 1.7l-63 13.3l-10.4 4.6l-7.6 6l-7.1 9l-8.5 15l-8.4 8.2l-30 15.8l-19.3 9l-10.7 4.3l-12 3.2l-15 1.1l-33-5l-12-.3l-9 1.6l-15 4.8l-10.6 2.3l-31.4 4.2l-24 1.6l-9-1l-9-2.8l-9.8-5l-14.3-9.2l14.2 61.2l7.7 23.3l8.8 9.5l3.6 1.5l39.1-.1l341.8-65.3l-8.5-5.9l-4.6-6l-.6-3l1-3l5.6-3l9-.1l9.6 3.1l9.7 6l5.1 6.6z" fill="#ffc000"/>
<path d="M581 534.9l-7-9.1l-3.1-8.8l1.4-6l2.4-3l4.2-3l7.1-2.9l9-1.2l9 1.1l18 5.2h6l6-1.2l6-3.7l3-3l7.3-12.3l5-6l8.5-6l13.6-6l55.6-20.2l14.5-6.8l9.3-6l8.3-9l4.2-12l.3-9l-1-6l-2.1-6l-3.7-6l-5.8-5.4l-6-3.6l-6-2.1l-6-.4l-21 6.2l-45 4l-12 2.1l-9 2.7l-12 7.3l-13.2 13.2l-7.1 12l-5 18l-1.7 3l-6 4.3l-6-.6l-3-2.2l-10-13.5l-6.8-6l-7.2-3.8l-9-2l-6 .2l-15 2.6l-54.7 12l-11.3 5l-8.3 7l-4.6 6l-10.1 18l-7 7l-36 18.8l-24 9.7l-12.9 3.5l-8.1 1.3l-9 .1l-33-4.8l-12-.3l-9 1.6l-15 4.9l-9 1.9l-33 3.9l-24 1.3l-9-.9l-10-3l-22.5-12.3l13.6 58.3l7.7 23.3l8.8 9.5l3.6 1.5l39.1-.1z" fill="#ffb700"/>
<path d="M574.4 536.2l-7.6-13.2l-1-9l2.6-6l8.6-6.9l12-4.8l9-1.1l6 .9l18 5.6l9-.8l8.1-4.9l11.9-15l8.6-6l13.6-6l56.8-20l15.4-7l9.4-6l8.7-9l2.9-6l1.6-6v-12l-1.6-6l-3.4-6.6l-5-5.4l-7-4.5l-6-2.3l-6-.5l-21 6.1l-45 3.8l-12 2.1l-9 2.8l-12.1 7.5l-6.5 6l-7.7 9l-4.7 9l-5 20.2l-3 4.4l-6 3.9l-6-.4l-3-2l-9.6-14.1l-5.4-5.8l-6-4.1l-9-3.1l-9-.2l-9 1.4l-60 13.5l-10.1 4.3l-7.5 6l-6.7 9l-8.7 16.5l-3.7 4.5l-5.3 4.2l-32.9 16.8l-24.1 9.3l-15 4l-9 1.4l-9 .1l-33-4.7l-12-.3l-6 .8l-18 5.8l-9 1.8l-33 3.5l-24 1.1l-9-.9l-9-2.5l-10.2-4.4l-12.9-7.2l13.2 56.2l7.7 23.3l8.8 9.5l3.6 1.5l39.1-.1z" fill="#ffaf00"/>
<path d="M569.1 537.2l-7-14.2l-1-9l2.3-6l2.3-3l11.3-8.1l12-5.4l9-1.8l9 1.6l15 5.5l8.6-.8l6.4-4.4l9.1-10.6l8.7-6l14.2-6l58-19.8l16.2-7.2l9.7-6l9.1-9l3-6l1.7-6v-12l-1.6-6l-3.2-6l-4.9-5.1l-6-4l-6-2.3l-6-.7l-21 5.9l-45 3.7l-12 2.1l-9 2.9l-12 7.5l-13 14l-4.7 9l-3.7 18l-2.3 6l-3.3 4.1l-6 3.8l-6-.1l-3-1.9l-14.1-20.9l-6.9-5.3l-9-3.2l-9-.3l-15 2.5l-54 13l-9 3.9l-8.6 7.4l-4.2 6l-9 18l-5 6l-3.9 3l-32.3 16.2l-27 9.9l-12 3.2l-18 2l-36-4.6l-12-.5l-33 8.4l-33 3.2l-24 .9l-9-.9l-9-2.4l-22.6-10.6l12.7 54.2l7.7 23.3l8.8 9.5l3.6 1.5l39.1-.1z" fill="#ffa700"/>
<path d="M564.5 538l-6.7-15l-1.1-6l.7-6l3.3-6l2.9-3l19.4-12.4l9-4.4l9-1.7l6 1.4l15 6.3l6-.1l6-3.8l9.8-9.3l5.2-3l15.5-6l59.5-19.7l16.9-7.3l10.1-6l9.4-9l3.2-6l1.8-6l.1-12l-1.8-6l-3.4-6l-9.3-7.6l-6-2.5l-6-.7l-6 .9l-15 4.7l-45 3.6l-12 2.2l-9 2.9l-12 7.7l-11.8 12.8l-5.5 12l-4.1 21l-5.6 7.7l-3 2.6l-6 2.6l-3-.5l-3-1.9l-3-3.5l-8.4-16l-4.8-6l-7.8-5.1l-6-1.9l-9-.3l-12 1.9l-57 14.2l-9 4.2l-6 5.1l-6 8.9l-8.4 18l-3.6 4.3l-6 4.6l-31.2 15.1l-37.8 12.2l-12 2l-9 .5l-36-4.6l-12-.4l-32.6 8.3l-30.4 2.7l-24 .9l-12-1l-9-2.2l-22.2-9.7l12.3 52.3l7.7 23.3l8.8 9.5l3.6 1.5l39.1-.1z" fill="#ff9f00"/>
<path d="M739 381.4l-24 5.9l-33 2l-18 2.5l-12 3.7l-7.7 4.5l-10 9l-6.8 9l-3.6 9l-4.4 24l-13.8 18l-.8 3l2.3 3l8 6l6.8 2.8l3 .2l3-.8l15-8.9l78-24.9l17.7-7.4l10.4-6l9.7-9l4.2-8l1.8-10l-1.8-10.3l-2.2-4.7l-3.8-4.7l-9-5.9zM538 431.2l-21 6.4l-24 5.5l-9 3.5l-9 7.7l-3.5 5.7l-7.6 18l-3.9 5.2l-6 5l-12 6.7l-16.1 7.1l-40.9 13.2l-15 2.5l-9 .3l-36-4.4l-12-.5l-6 1l-18 5.7l-9 1.6l-30 2.5l-24 .5l-12-.9l-9-2.1l-21.9-9l12 50.6l7.7 23.3l8.8 9.5l3.6 1.5l39.1-.1l306.2-58.3l-4.6-9.9l-2.8-9l-.5-6l1.4-6l2-3.3l5.9-5.7l35.1-24l2.8-3l-.2-3l-4.6-7.4l-10.2-22.6l-7.8-7.9l-6-2.8l-9-1.2z" fill="#ff9700"/>
<path d="M736 382.8l-21 5.5l-33 1.9l-18 2.5l-12 3.9l-10.1 6.4l-10.9 11.5l-5 9.5l-2.3 9l-1.7 17.7l-4.4 9.3l-1.7 6l.5 3l1.9 3l3.7 2.2l6 .3l54-13.3l47.8-16.2l12.4-6l8.9-6l8.1-9l3.6-9l.6-9l-3.4-10.7l-6-6.8l-9-4.8zM547 430.7l-60.8 17.3l-5.2 3.3l-5.2 5.7l-9.8 22.8l-3.1 4.2l-6.8 6l-10.1 6l-13.7 6l-44.3 14.1l-15 2.6l-12 .7l-39-4.6l-9-.2l-30 7.8l-33 2.6l-21 .3l-12-.6l-9.5-1.7l-24-8.8l11.6 48.8l7.7 23.3l8.8 9.5l3.6 1.5l39.1-.1l302.3-57.6l-4.7-10.6l-2.7-9l-.6-9l1.4-4.5l6.3-7.5l18-12l10.9-9l4.4-6l1.2-3l.2-6l-3-12l-3.4-9l-4.1-6l-3.5-3l-6-3l-6-1.2z" fill="#ff8f00"/>
<path d="M736 384.1l-21 5.3l-30 1.5l-18 2.2l-13.7 3.9l-10 6l-11.4 12l-5.6 12l-1.8 9l-.4 15l-1.9 9l.2 3l2.1 3l6.5 2.1l15-.1l30-6.2l51-16.7l13.1-6.1l9.2-6l8.4-9l3.8-9l.5-9l-2.6-9l-5.4-6.7l-9-5.2zM541 433.8l-27 9.3l-21 4.9l-9 4.1l-3 2.4l-4.2 5.5l-6.8 18l-3.7 6l-6.3 6.2l-9 6.1l-20.1 8.7l-42.9 12.7l-15 2.5l-12 .6l-39-4.6l-9-.1l-30 7.6l-30 2.3l-21 .3l-12-.5l-12-1.8l-24.2-8.2l11.3 47.2l7.7 23.3l8.8 9.5l3.6 1.5l39.1-.1l298.5-56.8l-7.4-20.4l-.9-9l1.4-6l4.6-6l22.4-15l9.2-9l4.5-9l.3-9l-1.9-9l-2.4-6l-4.6-6l-4-2.9l-6-2.1l-6-.5z" fill="#ff8700"/>
<path d="M733 385.7l-21 5l-27 1.1l-18 2.2l-12 3.3l-10.1 5.7l-6.8 6l-5 6l-5.6 12l-1.9 9l-.2 6l1 15l1.6 4l6 3.6l9 1.2l12-.7l15-2.9l24-6.8l30-10.2l13.9-6.2l9.6-6l8.7-9l4-9l.5-9l-2.9-9l-6.8-7.2l-9-4.1zM550 433.8l-10.1 2.2l-25.9 9.8l-21 5l-6 2.6l-7 6.6l-7 18l-3.6 6l-5.5 6l-6.9 5.5l-9 5.4l-10.1 4.1l-46.9 13.6l-18 3.1l-12 .6l-39-4.6l-9-.2l-30 7.6l-39 2.3l-21-.5l-12-1.4l-12-2.9l-14.8-5.3l10.9 45.7l7.7 23.3l8.8 9.5l3.6 1.5l39.1-.1l294.7-56.1l-7.2-21.1l-1.1-9l.9-6l2.4-4.7l4.1-4.3l19.9-12.5l9-8.3l5.5-9.2l1.5-9l-2.2-12l-3.5-6l-3.3-3l-4-2.2l-6-1.3z" fill="#ff7f00"/>
<path d="M733 386.9l-21 4.9l-27 1l-18 2.1l-12 3.4l-9 5l-6.6 5.7l-5 6l-3.6 6l-2.8 8.4l-1.3 12.6l1.9 12l2.4 4.9l6 3.7l9 1.4l9-.4l15-2.6l21-5.7l30.8-10.3l14-6l9.9-6l6.6-6l5.6-9l1.7-9l-.9-6l-1.7-4.4l-6-7.1l-9-4.4zM544 437l-9 2.8l-18 7.9l-24 6.2l-6 3l-5.3 6.1l-5.8 15l-3.6 6l-9.3 9.7l-12 8.4l-15.3 5.9l-44.7 12.2l-18 2.9l-12 .6l-39-4.5l-9-.2l-30 7.4l-36 2.1l-24-.8l-12-1.4l-14-3.3l-12.5-4.2l10.6 44.2l7.7 23.3l8.8 9.5l3.6 1.5l39.1-.1l290.9-55.4l-4.7-12.8l-2.8-12l-.4-9l1.4-6l2.3-4.1l5-4.9l19-11.5l7.5-6.5l6.2-9l2-6l.5-6l-.7-6l-2.5-6l-2.5-3l-4.5-3l-9-1.6z" fill="#ff7700"/>
<path d="M730 388.6l-15 4.1l-30 1l-15 1.6l-12 2.8l-10 4.9l-7.3 6l-5.1 6l-3.6 6l-2.2 6l-1.9 9v6l2 9l3 6l4.1 3l9 2.3l12-.4l15-2.6l18-5l30-10.1l12.5-5.2l10.3-6l7.2-6.3l5.5-8.7l1.5-6l-.7-9l-3.3-6.4l-6.4-5.6l-8.6-3zM541 440.2l-24 10.6l-21 5.6l-7.2 3.6l-4.8 5.7l-5.1 12.3l-6 9l-9.9 9.5l-9 6.8l-15 5.9l-48 12.5l-18 2.8l-12 .6l-36-4.2l-12-.5l-27 6.8l-36 2.4l-36-2l-12-2.3l-17.2-5.1l10.3 42.8l7.7 23.3l8.8 9.5l3.6 1.5l39.1-.1l287.2-54.7l-3.9-10.5l-3.2-15l-.6-9l2.1-9l4.2-6l3.5-3l18.4-10.8l8.4-7.2l5.9-9l2.1-9l-.6-6l-2.9-6l-3.3-3l-3.6-1.5l-9-.7z" fill="#ff6f00"/>
<path d="M730 389.8l-18 4.3l-24 .4l-18 1.7l-12 2.9l-9 4.3l-7 5.6l-5.2 6l-3.6 6l-2.2 6l-1.9 9l.1 6l1.8 7.1l2.4 4.9l3.6 3.5l9 3.1l9 .3l15-2.1l18-4.6l28-9.2l15.2-6l10.8-6l7.1-6l6-9l1.7-9l-2.4-9l-6.4-6.9l-9-3.6zM538 444.1l-18 9.1l-22.8 6.8l-5.6 3l-4.6 5.2l-6.4 12.8l-4.5 6l-16.1 15.1l-6 4.1l-13.4 4.8l-49.6 12.2l-18 2.7l-12 .6l-39-4.5l-9-.2l-27 6.6l-36 2.3l-36-2.3l-13.1-2.4l-15.8-4.4l10 41.4l7.7 23.3l8.8 9.5l3.6 1.5l39.1-.1l283.3-54l-3.8-11.2l-2.8-15l-.5-12l1.5-6.7l3-5.6l5.7-5.7l18.3-10.5l9-7.5l5.6-9l1.5-9l-1.1-4.7l-3-4.1l-6-2.5l-12 .4z" fill="#ff6700"/>
<path d="M733 390.6l-21 4.8l-27 .3l-15 1.4l-12 2.9l-9 4.5l-9 8l-4 5.5l-2.8 6l-2.5 9l-.5 6l1 6l2.8 6.5l6 5.5l6 2l9 .5l15-1.8l15-3.7l27.9-9l15.8-6l11.2-6l8.1-6.6l5.7-8.4l1.6-9l-1.2-6l-3.9-6l-8.2-5.2zM541 446.4l-21 11.1l-18.1 5.5l-6.4 3l-5.5 5.6l-10.3 15.4l-23.4 21l-11.3 4.1l-51 11.9l-15 2.6l-15 1.4l-42-4.6l-9-.2l-27 6.5l-36 2.1l-37.4-2.8l-27.2-6.1l9.7 40.1l7.7 23.3l8.8 9.5l3.6 1.5l39.1-.1l279.4-53.2l-3.9-12l-3-21v-9l2.2-7.9l3-5.2l6-5.8l18-9.9l6-4.2l6-7l3.1-8l-.8-6l-2.2-3l-3.1-1.5l-9-.7z" fill="#ff5f00"/>
<path d="M718 395.9l-45 1.7l-15 3.4l-9 4.6l-9.8 9.4l-3.6 6l-2.2 6l-1.9 12l1.3 6l3.1 6l4.1 3.8l9 3.1l9 .2l12-1.4l21-5.6l27.3-9.1l11.7-4.8l9-5l9-7.7l4.2-6.5l1.6-9l-2.8-8.3l-6-5.7l-9-2.9l-6 .2zM544 450l-21 12.2l-18 5.5l-6 2.8l-5.1 4.5l-9.7 12l-12.2 10l-10.5 11l-4.5 3l-9 2.9l-27 5.2l-27 6.4l-30 3.9l-42-4.6l-9-.3l-27 6.4l-33 2.1l-39-3l-28.3-5.8l9.4 38.8l7.7 23.3l8.8 9.5l3.6 1.5l39.1-.1l275.4-52.4l-3.4-9.8l-3.7-27l-.1-9l2.3-9l4.2-7l5.4-5l18.6-9.4l6-4.2l3.8-4.4l2.3-6l-.4-3l-2.7-2.7l-3-.9l-9 .6z" fill="#ff5700"/>
<path d="M733 393.5l-18 4.4l-27-.3l-15 .9l-12 2.5l-9 3.7l-9.1 7.3l-4.6 6l-2.8 6l-2.2 9l-.3 6l3.1 9l3.9 4.5l6 3.2l9 1.3l12-.9l15-3.4l24.2-7.7l17-6l12.5-6l8.2-6l5.1-6l2.7-6l-.1-9l-3.6-6.3l-6-4.3zM502 477.6l-14.7 12.4l-13.9 9l-9.9 12l-5.1 3l-34.4 6.1l-42 9l-21 1.7l-36-4.4l-12-.5l-27 6.3l-33 2l-42-3.8l-25.1-5l9.2 37.6l7.7 23.3l8.8 9.5l3.6 1.5l39.1-.1l271.5-51.7l-3.8-10.5l-1.6-15l-3.8-18l-.3-6l1.9-15l-.4-3l-3.8-2.7l-6 .1z" fill="#ff4f00"/>
<path d="M718 399l-45 .5l-12 2.4l-9 3.9l-6 4.4l-4.5 4.8l-4.9 9l-2.2 12l.8 6l1.8 4l4.1 5l7.9 3.9l6 .7l12-.6l12-2.5l14.7-4.5l26.2-9l13.4-6l8.7-6l5.3-6l3.3-9l-.9-6l-4.7-6.5l-4.1-2.5l-4.9-1.5l-6-.1zM475 501.7l-2.7 3.3l-4.4 9l-6 3l-37.9 4.8l-30 6.8l-24 3.4h-12l-33-4.2l-12-.7l-27 6.3l-33 2l-42-4.2l-24.8-4.5l8.9 36.3l7.7 23.3l8.8 9.5l3.6 1.5l39.1-.1l267.6-51l-3.7-8.2l-4.2-21.7l-3-5.9l-6-7.5l-6-4.3l-9-1.4l-9 1.1z" fill="#ff4700"/>
<path d="M676 400.2l-12 1.9l-9 3.1l-9 6.2l-5.4 6.6l-3.6 9l-.8 12l2.3 6l5.6 6l4.9 2.3l6 1l15-.9l15-3.8l31.3-10.6l13.7-5.7l9-5.7l6.5-6.6l2.8-6l.2-6l-2.9-6l-3.6-3.1l-6-2.5l-6-.3l-15 4l-21-1.1zM466 520.7l-39 2.4l-33 7l-24 3.3l-12 .1l-36-4.8l-9-.3l-27 6.3l-27 1.9l-12-.5l-36-4.1l-24.5-4.1l8.6 35.1l7.7 23.3l8.8 9.5l3.6 1.5l39.1-.1l263.9-50.2l-4.5-9l-3.7-12l-2-3.6l-3-2.6l-6-1.6l-18 .2z" fill="#ff3f00"/>
<path d="M730 399.3l-15 3.6l-21-1.6l-18-.1l-12 1.8l-9 3.2l-9 6.5l-5.9 8.3l-2 6l-.7 6l1.7 9l4.2 6l5.7 3.6l9 1.6l9-.5l19.4-4.7l41.1-15l9.8-6l6.1-6l2.9-6l-.1-6l-3.8-6l-6.4-3.3zM514.6 547.6l-8.5-15.6l-4.1-4.5l-6-2.6l-9-1.1l-27 1.1l-21-.6l-12 .5l-33 6.9l-27 3.4l-9-.1l-36-5l-9-.3l-27 6.2l-27 2.1l-12-.8l-60.3-8.1l8.4 33.9l7.7 23.3l8.8 9.5l3.6 1.5l39.1-.1z" fill="#ff3700"/>
<path d="M664 404l-9 3.2l-6 3.9l-6.2 6.9l-2.8 6l-1.2 9l2.3 9l4.9 6l6 3l12 .9l12-2l47.8-16.9l6.2-3.1l8.2-5.9l3.8-4.5l2-4.5l-.5-6l-1.8-3l-4.1-3l-4.6-1.2l-18 3.1l-18-2.1l-15-.6zM511 547.9l-6.2-9.9l-5.8-6.1l-6-2.8l-9-1.5l-24 .8l-21-1.8h-12l-33 6.8l-30 3.3l-42-5.4l-9-.4l-27 6.3l-27 2.1l-72-9l8.1 32.7l7.7 23.3l8.8 9.5l3.6 1.5l39.1-.1z" fill="#ff2f00"/>
<path d="M655 408.2l-6 4l-5.1 5.8l-2.8 6l-.9 9l1.3 6l4.5 6.6l6 3.8l6 1.2l9-.1l11.8-2.5l40.3-15l7.9-3.6l8.2-5.4l3.8-4.2l2.2-4.8v-3l-1.2-3l-3.3-3l-3.7-1.1l-18 2.3l-21-3.2l-18-.7l-12 1.6zM508 548.9l-6-8.5l-6-5.5l-6-2.8l-9-1.5l-24 1.2l-18-2.8l-12-.5l-9 1.2l-21 4.9l-33 3.6l-51-6l-27 6.3l-27 2.2l-71.8-9.2l7.9 31.5l7.7 23.3l8.8 9.5l3.6 1.5l39.1-.1z" fill="#ff2700"/>
<path d="M658 407.8l-7.3 4.2l-5.7 6l-2.8 6l-.9 6l.8 6l3.9 7.2l6 4.5l6 1.6h9l12-2.6l41.7-16.7l10.6-6l4.7-5.1l1.4-3.9l-1.4-4.2l-3-2l-3-.3l-15 1.3l-17.3-3.8l-18.7-1.6l-12 .8zM504.7 549.5l-10.5-11.5l-10.2-4l-9-.5l-18 2l-18-4l-9-1l-12 1l-21 5l-30 3.2l-9-.2l-36-5.6l-9-.5l-27 6.4l-24 2.4l-9-.5l-27-4.8l-38.5-4.2l7.6 30.3l7.7 23.3l8.8 9.5l3.6 1.5l39.1-.1z" fill="#ff1f00"/>
<path d="M664 406.8l-9 3.4l-6 4.4l-4.6 6.4l-1.7 6l.3 6.6l3 6.9l6 5.5l6 2l12-.2l12-3.4l21-10.6l16.9-6.8l5.4-3l3.6-3l1.9-3l-.3-3l-3.5-1.3l-12-.5l-21-6l-18-1.7zM501.3 550l-8.3-8.9l-9-4.1l-9-.7l-15 2.7l-6 .2l-15-4.9l-9-1.6l-12 .7l-21 5l-33 3l-51-6.7l-27 6.5l-24 2.4l-9-.5l-27-5.3l-38.2-3.9l7.3 29.1l7.7 23.3l8.8 9.5l3.6 1.5l39.1-.1z" fill="#ff1700"/>
<path d="M655 411.2l-5.2 3.8l-3.8 5l-1.7 4l-.6 6l1.5 6l3.8 5.8l4.3 3.2l4.7 1.6l12 .1l14.4-4.7l28.4-18l2-3l-2.6-3l-9.3-6l-14.9-4.1l-18-1.1l-9 1.8zM498.1 550.8l-8.1-8l-9-3.5l-9 .1l-12 3.4l-6 .5l-18-7l-9-1.6l-9 .6l-21 5l-30 2.7l-12-.7l-33-5.6l-9-.6l-27 6.4l-24 2.6l-9-.7l-30-6.2l-34.9-3.2l7 28l7.7 23.3l8.8 9.5l3.6 1.5l39.1-.1z" fill="#ff0f00"/>
<path d="M658 410.7l-6 3.6l-3.7 3.7l-1.8 3l-1.6 6l.6 6l3.1 6l3.4 3.4l6 2.9l6 .7l6-.5l9-2.6l6-2.8l13.3-10.1l4.7-6l1-3l-.6-3l-3.4-3.8l-3.6-2.2l-10.5-3l-15.9-1.2zM494.5 551.5l-7.5-6.9l-6-2.4l-9 .1l-12 4.3l-6 .8l-6-1.8l-12-6.2l-12-2.3l-8.5 .9l-18.5 4.4l-33 2.4l-12-1.2l-31.2-5.6l-7.8-.5l-27 6.4l-24 2.6l-9-.7l-30-6.8l-34.6-2.8l6.7 26.8l7.7 23.3l8.8 9.5l3.6 1.5l39.1-.1z" fill="#ff0700"/>
<path d="M664 409.7l-6 2l-5.4 3.3l-3.6 3.7l-2.6 5.3l-.4 3.3l.9 5.7l3.6 6l4.5 3.6l6 1.9l6 .2l12-3.1l6-3.2l6.8-5.4l6.4-9l-.1-6l-2.4-3l-5.5-3l-14.2-3.2zM490.8 552.2l-6.8-5.6l-6-1.7l-6 .6l-15 5.6l-6-.3l-18-9.3l-9-1.8l-9 .9l-18 4l-33 2l-51-7.5l-27 6.3l-24 2.6l-9-.8l-18-5l-12-2.3l-34.4-2.6l6.5 25.7l7.7 23.3l8.8 9.5l3.6 1.5l39.1-.1z" fill="#ff0000"/>
<path d="M658 420.5l-2.4 3.5l-.2 3l1.2 3l2.7 3l4.7 2.2l3 .3l6-1.6l4.5-3.9l1.3-3v-3l-1.4-3l-4.4-3.1l-9-.4zM401.8 569.1l-28.8 .8l-30-8.3l-30-6l-51 4.4l-6-.2l-6-2l-13.9-7.8l-10.1-3.2l-15-2l-20.3 1l4.4 17.2l7.7 23.3l8.8 9.5l3.6 1.5l39.1-.1z" fill="#f60000"/>
<path d="M657.8 424l-.1 3l1.5 3l4.8 3.2l6.1-.2l4.4-3l1.5-3l-.1-3l-2.1-3l-3.8-1.8l-6 .1l-3.7 1.7zM367 575.6l-21-8.9l-30-7.1l-12-.5l-42 3.7l-6-.2l-6-2.2l-12-8l-12-4.5l-15-2l-19.9 1.3l4 15.8l7.7 23.3l8.8 9.5l3.6 1.5l39.1-.1z" fill="#ee0000"/>
<path d="M661 427.7l3 2.8l6-.3l2.7-3.2l-.4-3l-2.3-2l-3-.9l-3 .6l-3.1 2.3zM357.6 577.5l-17.6-8l-24-6.1l-15-.7l-39 3.4l-6-.2l-6-2.6l-13.6-10.3l-10.4-3.9l-15-2l-19.5 1.7l3.6 14.2l7.7 23.3l8.8 9.5l3.6 1.5l39.1-.1z" fill="#e60000"/>
<path d="M348.8 579.2l-19.2-8.2l-19.6-4.2l-15-.1l-33 2.9l-6-.3l-6-2.6l-12-11.2l-12-5.1l-15-2.1l-19.1 2.1l3.2 12.6l7.7 23.3l8.8 9.5l3.6 1.5l39.1-.1z" fill="#de0000"/>
<path d="M339.3 581l-17.8-7l-14.5-2.6l-15-.1l-27 1.9l-9-.6l-6-2.5l-12-12.9l-9-4.6l-9-2.2l-9-.9l-18.7 2.6l10.5 34.2l8.8 9.5l3.6 1.5l39.1-.1z" fill="#d60000"/>
<path d="M324.5 583.8l-14.5-3.9l-42-2.4l-12-1.8l-8.7-4.7l-6.4-9l-5.9-5.2l-12-4.5l-15-1.3l-15.2 2.9l10 32.4l8.8 9.5l3.6 1.5l39.1-.1l34.9-6.6l2.8-2.6l6-2.8l6-.5l6.9 1.7z" fill="#ce0000"/>
<path d="M276.7 592.9l-.6-3.9l-2.3-3l-2.8-1.8l-18-7l-6-3.5l-8.1-11.7l-3.9-3.5l-4.7-2.5l-10.3-2.9l-9-.8l-7.1 .7l-10.6 2.8l9.5 30.5l8.8 9.5l3.6 1.5l39.1-.1z" fill="#c60000"/>
<path d="M268.4 592l-4.6-6l-19.4-12l-6.4-10.5l-6-5.1l-9-3.2l-12-1.3l-9 1.4l-8.2 2.7l9 28.3l8.8 9.5l3.6 1.5l39.1-.1l14.7-2.8z" fill="#be0000"/>
<path d="M263.2 595l-2.5-6l-2.8-3l-13.9-9.6l-3-3.7l-3.9-7.7l-2.6-3l-4.9-3l-9.6-2.7l-9-.7l-6 .9l-10.6 3.9l8.4 25.9l8.8 9.5l3.6 1.5l39.1-.1z" fill="#b60000"/>
<path d="M258.4 596.4l-2.4-7.4l-2.4-3l-11.9-9l-6.7-11.9l-3.6-3.1l-8.4-3.2l-12-1.1l-6.5 1.3l-9.4 4.2l7.7 23.1l8.8 9.5l3.6 1.5l39.1-.1z" fill="#ae0000"/>
<path d="M253.8 597.2l-1.7-8.2l-2.4-3l-11-9l-4.5-9l-2.2-3l-3-1.8l-9-2.5l-9-.3l-6.1 1.6l-8.6 4.9l6.5 19.4l8.8 9.5l3.6 1.5z" fill="#a60000"/>
<path d="M249.4 595l-1.5-6l-10.2-9l-7.1-12l-4.6-2.9l-9-1.2l-6 .6l-6.9 3.5l-5.8 4.7l4.5 13.6l8.8 9.5l3.6 1.5l33.8-.1z" fill="#9e0200"/>
<path d="M225.9 589l2.6 6l2.4 2.3h6.9l1.7-2.3l.8-3l-1.5-3l-6.8-4.6l-3-.9l-2.8 2.5z" fill="#990700"/>
</g>
<g clip-path="url(#cs)"><path d="M1626.7 230.3l-9.4 1.7l-6.7 3l-3.3 3l-2 3l-1.2 3l-.4 3l.2 3l1.7 6l9.2 21l5.2 9l6.7 7.5M1198 316l-4.2 3l.3 3l.9 .5l3 .8h3l3-.7l1.2-.6l2.5-3l-1.5-3l-2.2-.6l-6 .6M1299.3 156.7l15.7 4.6l9 1.4l9 .4l12-.3l12-.8l6-1.2l3-1.1l3-2l3-3.5l7.5-16.6M1619.1 201.6l-16.1 4l-13.5 5.4l-10.5 5.7l-18 11.1l-30 15.4l-3 2.1l-3 3.4l-1.7 4.3l-.2 3l1.5 6l3.4 5l3 2.6l6 3.1l6.3 1.3l20.7 1.4l9 1.1l9 2.4l6 3.2l3 2.6l3.7 4.3l11.3 17.4l7.1 9.6M1201 298l-11.6 3l-8.6 3l-12.8 5.6l-6 3.7l-6.5 5.7l-2.2 3l-1.2 3l-.3 3l.7 3l1.8 3l3 3l4.7 2.9l6 2.3l6 1.5l9 1.3l6 .3l18-1.4l12-2.3l6-2l9-3.8l6-3.5l5.3-4.3l2.5-3l1.7-3l.7-3l-.1-3l-1.1-3l-1.9-3l-2.8-3l-3.7-3l-5.2-3l-7.4-2.5l-9-1.6l-9-.2l-9 1.3M1006 357.2l-3 .8l-5.6 3l-3.1 3l-1.6 3l-.2 3l1.5 2.7l3 1l6-.5l10.5-3.2l6.5-3l3.9-3l.9-3l-2.4-3l-4.4-1.4l-6-.3l-6 .9M952 375.6l-1 .4l1.3 3l5.7 .7l8.6-.7l1.9-3l-4.5-1.9l-3-.2l-3 .2l-6 1.5M1611.5 183.5l-17.5 5.5l-21 5.6l-6 2.2l-9 5l-36.1 24.2l-6.9 6l-7.2 9l-4.4 9l-5.5 18l-2.9 5.2l-3 3.1l-3 1.8l-3 1l-3 .3l-6-.8l-27-9.8l-6-1.4l-9-1.1l-15-.7l-18 .1l-15 .8l-10.9 1.5l-10.5 3l-5.6 2.7l-5 3.3l-30 24l-5.5 6l-1.7 3l-.7 3l.8 3l2.2 3l3.5 3l9.7 6l8.7 3.9l9 2.2l36 3.5l6-.8l5.4-2.8l15.6-14.4l6-3.7l6-2l6-.1l3 .5l6 2.7l3 2.4l4.8 5.6l7.2 11.6l3 3l3 1.8l3 .9l3 .3l3-.5l4.9-2.1l3.9-3l9.2-9.6l4.3-2.4l4.7-1.1h3l6 1l15 4.9l9 1.9l9 .4l6-1l3-1.1l3-1.9l3-3l1.8-3.1l4.2-12l3.1-6l2.9-3.3l3-2.2l3-1.3l3-.5l3 .2l3 1l3 2.2l3 3.8l1.5 3.1l2.1 6l1 4.6M715.4 271.8l2.6 2.7l3 1.6l3 .5l6-1l49.4-19M875.2 237.5l10.8-.4l6-1.1l7.8-2.3M915.2 228l4.2-2M1081.7 195.5l7 9.5l4.3 4.6l3 2.1l3 1.2l3 .2l3-.7l2.8-1.4l2.7-3l1.1-3l-1.2-3l-7.5-6l-1.2-1.9M1114.1 187.9l5.9 7.1l3 1l3-.4l12-2.8l18-3.1l9-2.4l6-2.5l15-7.6l11.7-4.6M1229.5 165.5l6.3-.5M1252.4 165l8.6 1.5l18 5.2l9 2l18 3.6l9 1.3l15 1l12 .2l12-1.1l12-2l9-3l6-3.8l4.1-3.9l10.9-14l3-2.3l3-1.2l3-.5l6 .6l10.9 2.4h4.1l3-.7l4.6-2.3l3.5-3l9.9-13.7l4.6-4.3l4.4-2.5l3-1l6-.8l18 2.4l6-.2l3-.7l6-3.1l3-2.4l3.6-3.7l2.4-3.4M1213 286l-15 2.2l-15 3.8l-18 6.9l-9 5l-17.1 12.1l-23.3 21l-4.9 6l-.6 3l1.6 3l3.6 3l7.7 4l9 2.5l15 2.6l9 .7l9-.1l39-2.2l15-1.6l21-3.1l12-2.3l12.9-3.5l9.8-3l7.3-3.2l6-4.4l3.7-4.4l1.7-3l2.3-6l.8-6l-.4-3l-1.3-3l-2.3-3l-3.1-3l-8.1-6l-5.1-3l-6.5-3l-17.7-5l-9-1.7l-15-2l-9-.6l-6 .3M1021 337l-24 3l-57 11.2l-9 3.1l-6 3.2l-4.6 3.5l-4.4 4.5l-3.3 4.5l-2.6 6l-.6 3l.3 6l1 3l1.8 3l3.4 3.2l5.5 2.8l6.5 1.5l9.9 1.5l11.1 .8l18 .2l12-.5l30-4.4l24-5.1l12-3.1l9.2-2.9l6.4-3l4.2-3l5.6-6l3.6-6l1.2-3l1.7-6l.3-3l-.4-3l-1.7-3l-3.5-3l-7-3l-13.1-3l-18.5-2.7l-12-.3M1604.4 165.6l-7.4 3.7l-6 1.5h-3l-3-.6l-2.6-1.2l-3.4-3.5l-1.8-5.5l-.9-15l-1.2-9l-4.7-21l-.7-6l-.1-9M685.6 274.5l5.4 2.8l11.1 8.7l6.9 4.5l6 2.4l6 .7l6-.5l9-1.9l15-5.1l6-1.6l24-3.2l18-3l9 .1l18 2.9l6 .3l21-2.6l15 .4l9-.7l7-1.7l8-3.7l6-4.7l9.2-9.6l6.9-6l8.8-6l11.1-6.4l9-4.2l6-2.1l12-2.8l9-1.2l18-.3l9 1.1l21 4.9l12 3.5l20.2 7.5l18.8 6l9 1.6l3-.1l2.2-1.5l-.5-3l-1.7-4.1l-2.4-4.9l-2.1-3l-4.5-4.4l-9-6.8l-1.8-.8l-1.2-1.3l-3-.3l-9 3.6l-6 1.4l-3 .2l-6-.8l-17.5-5.8l-12.5-5.2l-1.5-.8l-2.5-3l.1-3.2M1029 205.8l12.5 5.2l10.4 6l2.1 1.7l6 2.8l6-1.2h3l3 .6l4.7 2.1l7.3 4.8l3 1.4l6 1.6l6 .1l6-.9l6-1.9l21-9.3l9-3.2l30-8.7l45-14.1l12-3l12-2.1l12-1.1l12 .1l15 1.3l33 4l27 2.7l12 .7h15l9-.9l18-3l24-5.7l9-3.2l24-11.5l12-3.8l9-1.8l18-.6l9 .3l9 .8l9 1.7l6 1.7l5.8 2.6l3.9 3l2.3 3.4l.7 2.6l-.2 3l-1.1 3l-2 3l-2.8 3l-7.1 6l-29.5 22.6l-9 5.6l-6 2.5l-6 1.4l-12 1.3l-9 .1l-21-.9l-6 .6l-6 1.2l-18 6.2l-15 6.2l-30 15.1l-6 2.6l-21 5.8l-18 3.8l-27 2.7l-18 .8l-15-1l-33-3.8l-9-.1l-6 .7l-9 2.3l-15 4.7l-36 13.8l-21 7.5l-24 6.3l-18 3.9l-38.5 11.1l-24.5 5.5l-30 5.3l-24 3.1l-21 1.8l-12.6 2.3l-8.4 2.8l-6 3.1l-8.1 6.1l-6.2 6l-7.1 9l-3.3 6l-2.1 6l-.8 6l.6 5.6l1.1 3.4l3.6 6l3 3l4.2 3l9.1 4l9 1.8l33 3.5l36 1.6l27 2.1l9-1.1l9-2.8l9-3.6l17.2-8.5l9.8-3.3l6-1l9-.8l18 .1l6-1.3l9-3.8l6-1.4l21-2.3l12-1.8l9-2.4l27-10.7l9-2.1l6-.2l21 1l24-.8l18 1.7l9 .3l11.5-1.2l15.5-3.6l6-.7l3 .4l3 1l12.3 8.6M1248.1 208l15.9-1.4l18-.4l19.8 1.8l13.2 1.9l24 5.2l6.9 1.9l8.1 3l5 3l1 1.1l1.5 1.9l.6 3l-1 3l-2.1 3l-3.1 3l-8.2 6l-5.7 2.9l-7.7 3.1l-13.3 4.4l-19.4 4.6l-10.6 1.6l-21 2l-9 .1l-12-1.3l-9-1.9l-9-3l-7.2-3.5l-10.8-6.3l-3-1.3l-3-.6l-3 .4l-3 2.1l-10 11.7l-3.5 3l-4.6 3l-12 6l-8.9 3.2l-12 3l-12 1l-18-1.2l-3-1.1l-3.1-1.9l2.1-3l10-4.7l3-3.2l1.8-4.1l.4-3l-.9-9l1.4-3l4.2-3l6.9-3l7.2-2.3l12-2.3l15-1l18 1l6-.5l3-1.4l14.4-11.5l9.2-6l9.4-3.6l11.1-2.4M476.9 317.6l25.1 4.4l15 1.9l12 .5l9-1l6-1.4l7.3-3l5.4-3l18.8-12l7.5-4.1l6-2.2l6-.9l6 .2l5.7 1l15.3 4.2l6 1.2l6 .7l9 .3l6-.4l9-1.5l6-1.6l12-4.5l6-.8l6 1.2l18 7.5l6 1.4l9 .5l12-1.2l21-4.4l36-4.3l21-2l24-.1l27-1.3l12 .5l18 1.7l6-.3l3-.8l3-1.4l3-2.4l3.4-4.2l8.9-15l5.2-6l6.7-6l5.8-3.9l9-4.4l9-3.1l9-1.9l9-.4l12 .4l21 3.3l16.5 4l18.8 6l6.7 2.9l6 3.2l8.3 5.9l2.9 3l2 3l1.1 3l.3 3l-.6 3l-1.4 3l-2.3 3l-3.2 3l-7.1 4.8l-13.5 7.2l-20.6 9l-10.9 3.6l-21.9 5.4l-17.1 2.7l-15 1.5l-15-.2l-21-2.1l-6 .5l-3 .9l-3 1.5l-6 4.5l-23 20.7l-8.4 9l-6 9l-2.3 6l-1.2 6l-.2 6l.9 6l2.3 6l1.7 3l3.2 4.3l4.8 4.7l7.2 4.6l9 3.5l12 3.2l30 6.2l27.8 9.5l2.8 3v3.7M1049.3 432.1l11-8.1l5.7-3l3-.7l3-.3l6 .8l9.1 3.6M1130.2 416.8l7.8-3l15.4-4.3M1154.4 409.2l7.6-2.2l6-2.4l6-3.8l12.3-9.8l5.4-3l3.3-1.1l6-.6l6 1.3l14.5 7.1M1262.2 229l10.8-1.8l9-.3l6 .5l9 1.8l5.1 2.8l1.6 3l-.7 3l-3.7 3l-2.3 1l-6.4 2l-14.6 2.2l-9 .4l-6-.7l-9-1.9l-6.3-3l-1.2-3l3-3l6.2-3l8.5-3M971.9 259l13.1-.8l6 .4l6 1.2l7.3 2.2l7.2 3l5 3l3.7 3l2.8 3l2 3l1.2 3l.4 3l-.1 3l-1.6 6l-3.3 6l-2.3 3l-3 3l-4 3l-5.4 3l-7.1 3l-11.8 3.8l-18 3.6l-15 1.5l-9-.4l-6-1l-4.9-1.5l-4.1-1.9l-3-2l-5-5.1l-1.6-3l-.9-3l-.2-3l.4-3l1.9-6l2.9-6l4.1-6l7.4-7.3l9-6l6-2.6l9-2.9l10.9-2.2M387.7 332.9l54.3 5.8l45 3.6l27 1.4l45-.2l9 .7l6 1.6l6 3.1l6 4.5l14.4 13.6l5.8 3l3.8 .4l3-.8l3-2.2l2.3-3.4l1.1-3l3.7-15l3.5-6l2.7-3l4.7-3.6l3-1.6l6-2l9-1.5l42-3.4l33-4.3l36-3.3l9-1.8l21-5.5l24-4.3l9-.3l18 .7l18-.9l9 1l6 2.2l2.8 1.6l3.3 3l1.8 3l.8 3v3l-.8 3l-1.4 3l-2.2 3l-4.3 3.9l-6 3.5l-9 3.3l-2.1 1.3l-6.7 9l-12.2 14l-6 8.9l-4.8 10.1l-1.5 6l.3 6.2l2.8 5.8l3.2 3.6l19.5 17.4l7.9 6l5.5 3l6.1 2.4l21 6.1l12 4.5l9.2 5l6.9 5.6M963.8 274l9.2-1.8l9-.6l6 .5l6.9 1.9l5.1 2.7l3.5 3.3l1.7 3l.8 3v3l-.8 3l-1.5 3l-2.5 3l-3.5 3l-3.7 2.2l-9 3.7l-11.1 3.1l-12.9 2.6l-9 .8l-6-.6l-7.6-2.8l-3.4-3l-1.7-3l-.6-3l.1-3l.9-3l3.3-5.6l6-5.9l6-4.1l6-2.7l8.8-2.7M313.1 348.1l59.9 6l90 6.2l21 .5l39-.9l39 2.3l6 1l6 1.8l24 12.6l6 1.8l6 .4l6-1.4l3-1.6l3-2.4l3-3.5l2.3-3.9l5.4-12l1.9-3l2.4-2.9l3-2.3l6-2.5l3-.6l6-.1l18 1.7l15-.8l12-2.3l24-7.9l6-1.2l9-.9l9 .2l9 .8l18 2.3l18 3l6 .1l3-1.6l4.6-9l2.3-3l3.5-3l4.6-2.3l3-.8l3-.3l6 .6l7.6 2.8l4.4 3l3 3.8l.8 2.2v3l-.8 3.1l-3 4.7l-12.5 13.2l-4.5 6l-3.2 6l-2.5 6l-3.1 12l-.7 9l1.1 9l2.3 6l8.1 12.4l3 3.2l6 4.6l17.6 9.8l27.4 11.4l6 3l6 3.6l6.9 5.6M247.4 363.4l14.6 8.2l3.7 1.4l5.3 .8l6-.3l9-1.5l6-.3l33 2.6l45 2l21 1.9l9 .2h27l21-1l21 .2l48-3.2h15l18 1.3l15-.3l9 1.8l21 8.3l6 1.4l6 .5l6-.6l3-.9l6-3l3-2.3l4.3-4.6l7.7-12.2l3-3.9l3-2.5l3-1.3l3-.8l6-.2l21 1.8l15-1.1l12-2.6l24-8.5l9-1.9l6-.2l6 .5l6 1l9 2.3l12 4.8l9 5.7l7.6 7.1l2.3 3l3.3 6l2.3 6l1.7 6l3.8 22.1l3.8 13.9l.2 6l-3 15l-2.4 6l-4.6 6.4l-6 5l-9 5.3l-6 2.4l-9 2.8l-22.4 5.1l-8.8 3l-6.1 3l-4 3l-3.7 5.5l-2.6 11.2M764.5 493.1l1.1-3.1l2.4-3l4-1.9l3-.3l12 .4l6-1.5l3-1.5l3-2.3l9-9.8l3-2.3l6-2.8l15-3.2l10.9-7.8l7.1-1.9h6l5.6 1.9l3.8 3l2.4 3l1.3 3l-1.1 3.3l-12-2.9l-6-.8l-6-.1l-6 1.2l-2.1 2.3l-.6 3l.1 3l1.4 5.9M201.6 371l9.4 8.8l6 3.9l12 4.9l18 4.9l12 1.7l9 .5l42-1.8l57 3.4l9 1.5l6 1.6l9 3.4l12 5.8l3 1.1l3 .3l6-1.3l27-9.5l9-2.5l36-4.4l39-3.8l9-.5l15 .2l18-1.4l9 1.5l18 5.2l9 1l6-.4l6-1.5l3-1.3l6-3.8l7.1-6.5l10.9-12.4l3-2.2l3-1.3l6-1l18 .1l9-.5l18-2.2l15-3.4l15-5.7l9-2.1l6 .1l6 .9l6 1.5l9 3.2l9 4.9l6 5.3l3 3.5l3.6 5.3l3.9 9l2.9 12l1.6 15l-.4 12l-1 6l-1.7 6l-2.9 5.4l-3 3.7l-6 5.4l-5.4 3.5l-9.6 4.3l-36 12.9l-7.6 3.8l-4.3 3l-3.3 3l-4.5 6l-2.8 6l-2.3 7.7M169.4 393l3.3 1l2.3 2l.5 1l-3.8 18l-.8 6v4.9M177 444.9l7.5 12.1l14.5 20.5l11.6 18.5l3.4 4.1l3 2.5l3 1.2l3 .5l12-1l9-1.3l9-2.2l18-7.7l6-1.5l6-.7l3-1l3-1.9l1.4-3l-.1-3l-1.3-3.1l-3-3.5l-6-4.4l-9.1-4l-20.9-4.8l-9-3l-3-1.4l-4.4-2.8l-3-3l-1.9-3l-1-3l-.1-3l.6-3l1.4-3l2.2-3l3.2-3.1l6-4.1l6-2.9l6-1.9l24-2.3l21-4.3l6-.8l9 .7l6 1.8l4.2 1.9l4.8 3.1l6 5.9l4.6 6l3.6 6l2.8 6l.9 3l2.9 18l2.1 6l1.6 3l2.1 3l3.4 3.3l3 1.8l2.6 .9l3.4 .2l3-1l3-1.9l2.4-3.3l1.3-3l1-6l-.4-6l-1.4-6l-2.5-6l-6.1-12l-1.4-6l.4-6l1.1-3l2-3l3.6-2.3l3-.5l3 .9l3 2.1l3 4.1l6.3 10.7l2.7 2.9l3 2.2l6 2.1l3 .3l6-.4l9-2.2l9-4.3l15-10l9.9-8.6l5.1-2.8l6-2.1l9-2.3l18-2.7l60-7.2l12-1.1l9 .5l21 5.1l6 .5l6-.6l6-1.8l6-3l9-6.9l15-13.5l3-2l6-2.5l6-1.2l39-4.5l18-2.7l6-1.6l12-4.8l6-1.5l6-.1l6 1l9 3l6 2.8l6 4.2l6 6.6l4.6 8.2l3 9l1.9 12l.1 9l-1.4 9l-3.2 9l-3.8 6l-2.6 3l-3.3 3l-4.4 3l-12.8 6l-32.1 12.9l-9 4.5l-5.5 3.6l-6.9 6l-2.7 3l-4.2 6l-4.3 9l-2.7 8.9M184.6 488.6l14 13.4l7.3 6l5 3l3.1 1.2l6 1.2h6l6-.7l18-2.4l12-2.2l15-4.3l15-3.1l18-7l9-1.6l6 .3l6 1.1l18 5.2l6 1.2l9 .6l6-.7l9-2.9l7.4-3.9l19.6-14.4l6-3.8l9-4.2l12-4.6l5.2-3l3.8-3.9l5-8.1l4.4-6l8.6-9l6-5.1l3-2l9-3.6l15-3.5l30-4.4l39-7l6 .1l6 1l9 3.1l15 6.9l3 .5l3-.4l3-1.5l3-2.5l30-27.1l6-4.2l9-3.7l15-2.6l48-5.6l6-1.8l12-4.7l6-.9l3 .1l6 1.4l6 2.6l6 3.6l5 4.3l4.6 6l3.9 9l2.2 9l.5 9l-1.2 8.8l-2 6.2l-4 7.2l-3 3.6l-3 2.7l-7.1 4.5l-12.4 6l-36.2 15l-11.9 6l-9.9 6l-11.1 9l-5.7 6l-4.7 7l-2.8 8.4M192.3 510.2l6.8 3.8l8.9 3.8l9 2.1l6 .5l24-1.6l33-4.1l9-1.9l15-4.9l9-1.6l12 .3l24 3.8l9 1.1l9-.2l9-1.5l6.9-1.8l8.1-2.8l21.3-9.2l34.2-18l4.5-3.7l3-3.7l9.5-16.6l5.5-7.2l5.3-4.8l3.7-2.5l9-4l12-3.1l21-3.7l27-6.2l12-2l6-.2l4.8 .7l4.2 1.2l6 3l6 4.4l3.3 3.4l8.7 11.2l3 2.3l3 1l3-.3l3-1.6l3.2-3.6l2.3-6l2.3-9l2.3-6l5.9-9l8-8.6l6-5.3l6-4.2l6-3l9-2.8l9-1.5l18-2l30-2.5l15-5.1l6-1.3l5.7 .3l3.3 .9l6 2.8l6 4.3l3.8 4l3.5 6l2.1 6l1 6l-.3 9l-1.4 6l-2.6 6l-3.1 4.3l-4.9 4.7l-4.2 3l-11.9 6.5l-20.4 8.5l-48.6 17.8l-6.6 3.2l-4.8 3l-3.7 3l-5.1 6l-9.1 18l-2.5 6l-1.2 4l-.9 1M632.2 516l-3.3-2l-9.9-2.5l-18-5.7l-6-.7l-6 .4l-6 1.7l-3 1.6l-2.6 2.2l-1.6 3l-.3 3l.7 3l3.1 5.7M734.7 385l4.3-.2l3 .3l6 2.2l3 1.8l3 2.3l3 3.4l2.8 5.2l.9 3l.5 3v6l-1.4 6l-2.8 5.6l-2.5 3.4l-6.5 6.1l-9.2 5.9l-14.8 6.6l-30 10.2l-21 6.1l-18 3.8l-12 1.1l-9-.8l-3-.8l-3.9-2.2l-1.8-3l-.4-21l.7-6l1.4-6l2.2-6l3.5-6l4.9-6l8.4-7.3l9-4.8l12-3.3l18-2.1l30-1.5l19.7-5M192.3 519.9l12.7 4l11.6 2.1l9.4 .7l21 .2l36-2.3l9-1.9l15-4.7l6-1l9 .1l39 4.6l12-.6l18-3.1l27-7.6l17.1-5.4l12.9-5.3l9-5.3l6-4.8l5.2-5.6l3.6-6l4.2-12l2.7-6l2.3-3.2l3-2.8l3-1.9l3-1.4l6-1.8l21-5.1l18-7l9-2.6l15-2.4l6-.1l3 .5l3.1 .8l5.2 3l3 3l2 3l1.4 3l1.7 6l.7 6l-.3 6l-.7 3l-2.9 6l-4.8 6l-8.4 7.1l-17.5 10.9l-3.5 3l-2.3 3l-1.4 3l-.8 3l-.3 6l1.7 9l2.6 8.3M724.1 397l5.9-1.5l3-.2l3 .3l4.6 1.4l4.4 2.7l3 3.3l1.5 3l.8 3l.1 3l-.5 3l-2.7 6l-5.4 6l-8.7 6l-6 3l-7.4 3l-26.2 9l-17.5 5.2l-9 1.7l-12 .6l-6-.7l-3-1l-4.7-2.8l-4.3-5.2l-1.6-3.8l-.9-6l.7-6l1.5-6l2.8-6l2.1-3l4.4-4.7l6-4.4l9-3.9l12-2.4l15-.8l27 .7l3-.4l6.1-2.1M192.3 528.1l21.7 3.5l39 3.9l21-.8l12-1.2l6-1.2l15-4.2l6-.9l12 .7l33 4.3l6 .2l9-.6l21-3.1l30-6.8l30-3.2l9.1-1.7l2.9-1.2l2.6-1.8l1.8-3l2.4-6l2.2-3l3-2l3-1.3l6-.8l6.2 1.1l8.8 4.1l6 4.7l3 3.9l3.7 8.3l1.3 6l1.1 9l1 3.9M661.5 409l5.5-1.3l6-.6l9 .6l9 1.6l8.3 2.7l4.6 3l2.5 3l1 3l-1.1 3l-5.9 6l-7.6 6l-10.1 6l-6.7 2.6l-6 1.4l-6 .5l-6-.6l-3-1l-3-1.6l-4.2-4.3l-1.8-3l-1.1-3l-.5-6l1.6-6l3-4.4l3-2.8l3-2l6.5-2.8M197.3 536.3l28.7 2.8l10.2 1.9l16.8 4.2l6 .6l9-.3l18-2.2l6-1.3l15-4.3l6-.8l9 .6l33 5.8l12 .6l30-2.4l6-1.1l12-3.3l9-1.1l6 .4l6 1.5l12 5.8l6 1.9h3l3-.7l12-3.9l6-.5l6 1.2l3 1.3l3.8 2.6M659 418l5-1.9l3-.5l6 .6l4.2 1.8l3 3l1.2 3l-.2 3l-1.2 3l-2.6 3l-4.9 3l-5.5 1.1l-3-.2l-3.1-.9l-4.2-3l-2.1-3l-.9-3l.2-3l1.1-2.4l4-3.6M199.9 543.8l14.1 .2l9 1.1l6 1.3l10 3.6l11 5.7l6 1.8l6 .3l6-.5l21-2l18-2.7l6-.1l9 1.1l42 8.9l9 1.2l7.8 .3M199.9 552.7l8.1-1.2h6l9 1.2l6 1.8l3.6 1.5l5.4 3.7l2.2 2.3l6.1 9l3.7 3.1l9 3.4l21 4l4.2 1.5l.9 1.7M207.5 575.9l3.2-4.9l5.8-3l6.5-.4l3 .5l3 2.2l3.6 6.7l2.2 3l7.4 6l2.9 3l1.2 3.3" fill="none" stroke="#101018" stroke-width="0.9" stroke-opacity="0.75" stroke-linejoin="round" mask="url(#lmb)"/></g>
</g>
<g font-size="33" fill="#26262e" text-anchor="middle">
<text x="455" y="1249.21" textLength="66.03" lengthAdjust="spacingAndGlyphs" transform="rotate(10 455 1237.5)">-200</text>
<text x="329" y="1284.21" textLength="66.03" lengthAdjust="spacingAndGlyphs" transform="rotate(5 329 1272.5)">-100</text>
<text x="271" y="1329.21" textLength="18.35" lengthAdjust="spacingAndGlyphs" transform="rotate(0 271 1317.5)">0</text>
<text x="664" y="1285.21" textLength="18.35" lengthAdjust="spacingAndGlyphs" transform="rotate(0 664 1273.5)">0</text>
<text x="417.5" y="1401.71" textLength="55.04" lengthAdjust="spacingAndGlyphs" transform="rotate(-25 417.5 1390)">100</text>
<text x="760" y="1196.71" textLength="66.03" lengthAdjust="spacingAndGlyphs" transform="rotate(-15 760 1185)">-300</text>
<text x="862.5" y="1334.21" textLength="66.03" lengthAdjust="spacingAndGlyphs" transform="rotate(35 862.5 1322.5)">-200</text>
<text x="1172.5" y="1114.21" textLength="66.03" lengthAdjust="spacingAndGlyphs" transform="rotate(-15 1172.5 1102.5)">-300</text>
<text x="1310" y="1180.21" textLength="66.03" lengthAdjust="spacingAndGlyphs" transform="rotate(-8 1310 1168.5)">-300</text>
<text x="1155" y="1291.71" textLength="66.03" lengthAdjust="spacingAndGlyphs" transform="rotate(-15 1155 1280)">-300</text>
</g>
<clipPath id="bcb"><path d="M794.56 1123.27C799.08 1122.85 808.68 1124.12 814.89 1124.97C821.11 1125.81 826.19 1127.51 831.84 1128.36C837.49 1129.2 843.14 1129.49 848.79 1130.05C854.44 1130.62 860.09 1131.18 865.74 1131.75C871.39 1132.31 878.17 1131.89 882.69 1133.44C887.21 1134.99 890.04 1138.1 892.86 1141.07C895.69 1144.03 898.23 1147.28 899.64 1151.24C901.05 1155.19 900.49 1160.28 901.34 1164.8C902.18 1169.32 903.31 1174.4 904.73 1178.36C906.14 1182.31 907.83 1184.85 909.81 1188.53C911.79 1192.2 913.76 1197 916.59 1200.39C919.41 1203.78 923.65 1205.76 926.76 1208.86C929.87 1211.97 932.97 1215.64 935.23 1219.03C937.49 1222.42 938.62 1225.25 940.32 1229.2C942.01 1233.16 943.99 1238.53 945.4 1242.76C946.82 1247 948.37 1250.67 948.79 1254.63C949.22 1258.58 949.08 1262.82 947.95 1266.49C946.82 1270.16 944.7 1273.27 942.01 1276.66C939.33 1280.05 934.95 1283.72 931.84 1286.83C928.74 1289.94 925.21 1292.76 923.37 1295.31C921.53 1297.85 919.13 1300.11 920.83 1302.08C922.52 1304.06 929.16 1305.47 933.54 1307.17C937.92 1308.86 943.43 1309.99 947.1 1312.25C950.77 1314.51 953.6 1317.06 955.57 1320.73C957.55 1324.4 958.68 1330.05 958.96 1334.29C959.25 1338.53 958.68 1342.76 957.27 1346.15C955.86 1349.54 953.6 1352.37 950.49 1354.63C947.38 1356.89 942.86 1358.72 938.62 1359.71C934.39 1360.7 929.3 1360.84 925.06 1360.56C920.83 1360.28 916.87 1360.14 913.2 1358.02C909.53 1355.9 905.71 1351.24 903.03 1347.85C900.35 1344.46 898.79 1341.63 897.1 1337.68C895.4 1333.72 893.99 1328.36 892.86 1324.12C891.73 1319.88 890.04 1316.21 890.32 1312.25C890.6 1308.3 892.72 1303.78 894.56 1300.39C896.39 1297 901.05 1294.74 901.34 1291.92C901.62 1289.09 897.95 1286.55 896.25 1283.44C894.56 1280.33 892.3 1277.23 891.17 1273.27C890.04 1269.32 889.75 1264.23 889.47 1259.71C889.19 1255.19 889.75 1250.67 889.47 1246.15C889.19 1241.63 888.62 1236.55 887.78 1232.59C886.93 1228.64 886.36 1224.68 884.39 1222.42C882.41 1220.16 879.02 1219.32 875.91 1219.03C872.8 1218.75 869.7 1219.32 865.74 1220.73C861.79 1222.14 856.42 1225.25 852.18 1227.51C847.95 1229.77 844.27 1232.59 840.32 1234.29C836.36 1235.98 832.69 1236.97 828.45 1237.68C824.22 1238.38 819.41 1238.24 814.89 1238.53C810.38 1238.81 805.57 1239.8 801.34 1239.37C797.1 1238.95 793.43 1237.4 789.47 1235.98C785.52 1234.57 781.28 1232.59 777.61 1230.9C773.93 1229.2 769.98 1227.79 767.44 1225.81C764.89 1223.84 763.34 1221.01 762.35 1219.03C761.36 1217.06 761.22 1215.64 761.51 1213.95C761.79 1212.25 764.47 1210.56 764.05 1208.86C763.62 1207.17 760.52 1205.76 758.96 1203.78C757.41 1201.8 755.29 1199.26 754.73 1197C754.16 1194.74 754.3 1192.76 755.57 1190.22C756.84 1187.68 760.66 1184.85 762.35 1181.75C764.05 1178.64 765.18 1174.97 765.74 1171.58C766.31 1168.19 766.02 1164.8 765.74 1161.41C765.46 1158.02 763.48 1154.06 764.05 1151.24C764.61 1148.41 766.31 1147 769.13 1144.46C771.96 1141.92 777.89 1138.81 781 1135.98C784.1 1133.16 785.52 1129.63 787.78 1127.51C790.04 1125.39 790.04 1123.69 794.56 1123.27Z"/></clipPath>
<g clip-path="url(#bcb)">
<path d="M794.56 1123.27C799.08 1122.85 808.68 1124.12 814.89 1124.97C821.11 1125.81 826.19 1127.51 831.84 1128.36C837.49 1129.2 843.14 1129.49 848.79 1130.05C854.44 1130.62 860.09 1131.18 865.74 1131.75C871.39 1132.31 878.17 1131.89 882.69 1133.44C887.21 1134.99 890.04 1138.1 892.86 1141.07C895.69 1144.03 898.23 1147.28 899.64 1151.24C901.05 1155.19 900.49 1160.28 901.34 1164.8C902.18 1169.32 903.31 1174.4 904.73 1178.36C906.14 1182.31 907.83 1184.85 909.81 1188.53C911.79 1192.2 913.76 1197 916.59 1200.39C919.41 1203.78 923.65 1205.76 926.76 1208.86C929.87 1211.97 932.97 1215.64 935.23 1219.03C937.49 1222.42 938.62 1225.25 940.32 1229.2C942.01 1233.16 943.99 1238.53 945.4 1242.76C946.82 1247 948.37 1250.67 948.79 1254.63C949.22 1258.58 949.08 1262.82 947.95 1266.49C946.82 1270.16 944.7 1273.27 942.01 1276.66C939.33 1280.05 934.95 1283.72 931.84 1286.83C928.74 1289.94 925.21 1292.76 923.37 1295.31C921.53 1297.85 919.13 1300.11 920.83 1302.08C922.52 1304.06 929.16 1305.47 933.54 1307.17C937.92 1308.86 943.43 1309.99 947.1 1312.25C950.77 1314.51 953.6 1317.06 955.57 1320.73C957.55 1324.4 958.68 1330.05 958.96 1334.29C959.25 1338.53 958.68 1342.76 957.27 1346.15C955.86 1349.54 953.6 1352.37 950.49 1354.63C947.38 1356.89 942.86 1358.72 938.62 1359.71C934.39 1360.7 929.3 1360.84 925.06 1360.56C920.83 1360.28 916.87 1360.14 913.2 1358.02C909.53 1355.9 905.71 1351.24 903.03 1347.85C900.35 1344.46 898.79 1341.63 897.1 1337.68C895.4 1333.72 893.99 1328.36 892.86 1324.12C891.73 1319.88 890.04 1316.21 890.32 1312.25C890.6 1308.3 892.72 1303.78 894.56 1300.39C896.39 1297 901.05 1294.74 901.34 1291.92C901.62 1289.09 897.95 1286.55 896.25 1283.44C894.56 1280.33 892.3 1277.23 891.17 1273.27C890.04 1269.32 889.75 1264.23 889.47 1259.71C889.19 1255.19 889.75 1250.67 889.47 1246.15C889.19 1241.63 888.62 1236.55 887.78 1232.59C886.93 1228.64 886.36 1224.68 884.39 1222.42C882.41 1220.16 879.02 1219.32 875.91 1219.03C872.8 1218.75 869.7 1219.32 865.74 1220.73C861.79 1222.14 856.42 1225.25 852.18 1227.51C847.95 1229.77 844.27 1232.59 840.32 1234.29C836.36 1235.98 832.69 1236.97 828.45 1237.68C824.22 1238.38 819.41 1238.24 814.89 1238.53C810.38 1238.81 805.57 1239.8 801.34 1239.37C797.1 1238.95 793.43 1237.4 789.47 1235.98C785.52 1234.57 781.28 1232.59 777.61 1230.9C773.93 1229.2 769.98 1227.79 767.44 1225.81C764.89 1223.84 763.34 1221.01 762.35 1219.03C761.36 1217.06 761.22 1215.64 761.51 1213.95C761.79 1212.25 764.47 1210.56 764.05 1208.86C763.62 1207.17 760.52 1205.76 758.96 1203.78C757.41 1201.8 755.29 1199.26 754.73 1197C754.16 1194.74 754.3 1192.76 755.57 1190.22C756.84 1187.68 760.66 1184.85 762.35 1181.75C764.05 1178.64 765.18 1174.97 765.74 1171.58C766.31 1168.19 766.02 1164.8 765.74 1161.41C765.46 1158.02 763.48 1154.06 764.05 1151.24C764.61 1148.41 766.31 1147 769.13 1144.46C771.96 1141.92 777.89 1138.81 781 1135.98C784.1 1133.16 785.52 1129.63 787.78 1127.51C790.04 1125.39 790.04 1123.69 794.56 1123.27Z" fill="#666b66" fill-opacity="0.5"/>
<path d="M794.56 1123.27C799.08 1122.85 808.68 1124.12 814.89 1124.97C821.11 1125.81 826.19 1127.51 831.84 1128.36C837.49 1129.2 843.14 1129.49 848.79 1130.05C854.44 1130.62 860.09 1131.18 865.74 1131.75C871.39 1132.31 878.17 1131.89 882.69 1133.44C887.21 1134.99 890.04 1138.1 892.86 1141.07C895.69 1144.03 898.23 1147.28 899.64 1151.24C901.05 1155.19 900.49 1160.28 901.34 1164.8C902.18 1169.32 903.31 1174.4 904.73 1178.36C906.14 1182.31 907.83 1184.85 909.81 1188.53C911.79 1192.2 913.76 1197 916.59 1200.39C919.41 1203.78 923.65 1205.76 926.76 1208.86C929.87 1211.97 932.97 1215.64 935.23 1219.03C937.49 1222.42 938.62 1225.25 940.32 1229.2C942.01 1233.16 943.99 1238.53 945.4 1242.76C946.82 1247 948.37 1250.67 948.79 1254.63C949.22 1258.58 949.08 1262.82 947.95 1266.49C946.82 1270.16 944.7 1273.27 942.01 1276.66C939.33 1280.05 934.95 1283.72 931.84 1286.83C928.74 1289.94 925.21 1292.76 923.37 1295.31C921.53 1297.85 919.13 1300.11 920.83 1302.08C922.52 1304.06 929.16 1305.47 933.54 1307.17C937.92 1308.86 943.43 1309.99 947.1 1312.25C950.77 1314.51 953.6 1317.06 955.57 1320.73C957.55 1324.4 958.68 1330.05 958.96 1334.29C959.25 1338.53 958.68 1342.76 957.27 1346.15C955.86 1349.54 953.6 1352.37 950.49 1354.63C947.38 1356.89 942.86 1358.72 938.62 1359.71C934.39 1360.7 929.3 1360.84 925.06 1360.56C920.83 1360.28 916.87 1360.14 913.2 1358.02C909.53 1355.9 905.71 1351.24 903.03 1347.85C900.35 1344.46 898.79 1341.63 897.1 1337.68C895.4 1333.72 893.99 1328.36 892.86 1324.12C891.73 1319.88 890.04 1316.21 890.32 1312.25C890.6 1308.3 892.72 1303.78 894.56 1300.39C896.39 1297 901.05 1294.74 901.34 1291.92C901.62 1289.09 897.95 1286.55 896.25 1283.44C894.56 1280.33 892.3 1277.23 891.17 1273.27C890.04 1269.32 889.75 1264.23 889.47 1259.71C889.19 1255.19 889.75 1250.67 889.47 1246.15C889.19 1241.63 888.62 1236.55 887.78 1232.59C886.93 1228.64 886.36 1224.68 884.39 1222.42C882.41 1220.16 879.02 1219.32 875.91 1219.03C872.8 1218.75 869.7 1219.32 865.74 1220.73C861.79 1222.14 856.42 1225.25 852.18 1227.51C847.95 1229.77 844.27 1232.59 840.32 1234.29C836.36 1235.98 832.69 1236.97 828.45 1237.68C824.22 1238.38 819.41 1238.24 814.89 1238.53C810.38 1238.81 805.57 1239.8 801.34 1239.37C797.1 1238.95 793.43 1237.4 789.47 1235.98C785.52 1234.57 781.28 1232.59 777.61 1230.9C773.93 1229.2 769.98 1227.79 767.44 1225.81C764.89 1223.84 763.34 1221.01 762.35 1219.03C761.36 1217.06 761.22 1215.64 761.51 1213.95C761.79 1212.25 764.47 1210.56 764.05 1208.86C763.62 1207.17 760.52 1205.76 758.96 1203.78C757.41 1201.8 755.29 1199.26 754.73 1197C754.16 1194.74 754.3 1192.76 755.57 1190.22C756.84 1187.68 760.66 1184.85 762.35 1181.75C764.05 1178.64 765.18 1174.97 765.74 1171.58C766.31 1168.19 766.02 1164.8 765.74 1161.41C765.46 1158.02 763.48 1154.06 764.05 1151.24C764.61 1148.41 766.31 1147 769.13 1144.46C771.96 1141.92 777.89 1138.81 781 1135.98C784.1 1133.16 785.52 1129.63 787.78 1127.51C790.04 1125.39 790.04 1123.69 794.56 1123.27Z" fill="#fff" filter="url(#tex)" opacity="0.42"/>
<path d="M794.56 1123.27C799.08 1122.85 808.68 1124.12 814.89 1124.97C821.11 1125.81 826.19 1127.51 831.84 1128.36C837.49 1129.2 843.14 1129.49 848.79 1130.05C854.44 1130.62 860.09 1131.18 865.74 1131.75C871.39 1132.31 878.17 1131.89 882.69 1133.44C887.21 1134.99 890.04 1138.1 892.86 1141.07C895.69 1144.03 898.23 1147.28 899.64 1151.24C901.05 1155.19 900.49 1160.28 901.34 1164.8C902.18 1169.32 903.31 1174.4 904.73 1178.36C906.14 1182.31 907.83 1184.85 909.81 1188.53C911.79 1192.2 913.76 1197 916.59 1200.39C919.41 1203.78 923.65 1205.76 926.76 1208.86C929.87 1211.97 932.97 1215.64 935.23 1219.03C937.49 1222.42 938.62 1225.25 940.32 1229.2C942.01 1233.16 943.99 1238.53 945.4 1242.76C946.82 1247 948.37 1250.67 948.79 1254.63C949.22 1258.58 949.08 1262.82 947.95 1266.49C946.82 1270.16 944.7 1273.27 942.01 1276.66C939.33 1280.05 934.95 1283.72 931.84 1286.83C928.74 1289.94 925.21 1292.76 923.37 1295.31C921.53 1297.85 919.13 1300.11 920.83 1302.08C922.52 1304.06 929.16 1305.47 933.54 1307.17C937.92 1308.86 943.43 1309.99 947.1 1312.25C950.77 1314.51 953.6 1317.06 955.57 1320.73C957.55 1324.4 958.68 1330.05 958.96 1334.29C959.25 1338.53 958.68 1342.76 957.27 1346.15C955.86 1349.54 953.6 1352.37 950.49 1354.63C947.38 1356.89 942.86 1358.72 938.62 1359.71C934.39 1360.7 929.3 1360.84 925.06 1360.56C920.83 1360.28 916.87 1360.14 913.2 1358.02C909.53 1355.9 905.71 1351.24 903.03 1347.85C900.35 1344.46 898.79 1341.63 897.1 1337.68C895.4 1333.72 893.99 1328.36 892.86 1324.12C891.73 1319.88 890.04 1316.21 890.32 1312.25C890.6 1308.3 892.72 1303.78 894.56 1300.39C896.39 1297 901.05 1294.74 901.34 1291.92C901.62 1289.09 897.95 1286.55 896.25 1283.44C894.56 1280.33 892.3 1277.23 891.17 1273.27C890.04 1269.32 889.75 1264.23 889.47 1259.71C889.19 1255.19 889.75 1250.67 889.47 1246.15C889.19 1241.63 888.62 1236.55 887.78 1232.59C886.93 1228.64 886.36 1224.68 884.39 1222.42C882.41 1220.16 879.02 1219.32 875.91 1219.03C872.8 1218.75 869.7 1219.32 865.74 1220.73C861.79 1222.14 856.42 1225.25 852.18 1227.51C847.95 1229.77 844.27 1232.59 840.32 1234.29C836.36 1235.98 832.69 1236.97 828.45 1237.68C824.22 1238.38 819.41 1238.24 814.89 1238.53C810.38 1238.81 805.57 1239.8 801.34 1239.37C797.1 1238.95 793.43 1237.4 789.47 1235.98C785.52 1234.57 781.28 1232.59 777.61 1230.9C773.93 1229.2 769.98 1227.79 767.44 1225.81C764.89 1223.84 763.34 1221.01 762.35 1219.03C761.36 1217.06 761.22 1215.64 761.51 1213.95C761.79 1212.25 764.47 1210.56 764.05 1208.86C763.62 1207.17 760.52 1205.76 758.96 1203.78C757.41 1201.8 755.29 1199.26 754.73 1197C754.16 1194.74 754.3 1192.76 755.57 1190.22C756.84 1187.68 760.66 1184.85 762.35 1181.75C764.05 1178.64 765.18 1174.97 765.74 1171.58C766.31 1168.19 766.02 1164.8 765.74 1161.41C765.46 1158.02 763.48 1154.06 764.05 1151.24C764.61 1148.41 766.31 1147 769.13 1144.46C771.96 1141.92 777.89 1138.81 781 1135.98C784.1 1133.16 785.52 1129.63 787.78 1127.51C790.04 1125.39 790.04 1123.69 794.56 1123.27Z" fill="#000" filter="url(#texd)" opacity="0.30"/>
<path d="M794.56 1123.27C799.08 1122.85 808.68 1124.12 814.89 1124.97C821.11 1125.81 826.19 1127.51 831.84 1128.36C837.49 1129.2 843.14 1129.49 848.79 1130.05C854.44 1130.62 860.09 1131.18 865.74 1131.75C871.39 1132.31 878.17 1131.89 882.69 1133.44C887.21 1134.99 890.04 1138.1 892.86 1141.07C895.69 1144.03 898.23 1147.28 899.64 1151.24C901.05 1155.19 900.49 1160.28 901.34 1164.8C902.18 1169.32 903.31 1174.4 904.73 1178.36C906.14 1182.31 907.83 1184.85 909.81 1188.53C911.79 1192.2 913.76 1197 916.59 1200.39C919.41 1203.78 923.65 1205.76 926.76 1208.86C929.87 1211.97 932.97 1215.64 935.23 1219.03C937.49 1222.42 938.62 1225.25 940.32 1229.2C942.01 1233.16 943.99 1238.53 945.4 1242.76C946.82 1247 948.37 1250.67 948.79 1254.63C949.22 1258.58 949.08 1262.82 947.95 1266.49C946.82 1270.16 944.7 1273.27 942.01 1276.66C939.33 1280.05 934.95 1283.72 931.84 1286.83C928.74 1289.94 925.21 1292.76 923.37 1295.31C921.53 1297.85 919.13 1300.11 920.83 1302.08C922.52 1304.06 929.16 1305.47 933.54 1307.17C937.92 1308.86 943.43 1309.99 947.1 1312.25C950.77 1314.51 953.6 1317.06 955.57 1320.73C957.55 1324.4 958.68 1330.05 958.96 1334.29C959.25 1338.53 958.68 1342.76 957.27 1346.15C955.86 1349.54 953.6 1352.37 950.49 1354.63C947.38 1356.89 942.86 1358.72 938.62 1359.71C934.39 1360.7 929.3 1360.84 925.06 1360.56C920.83 1360.28 916.87 1360.14 913.2 1358.02C909.53 1355.9 905.71 1351.24 903.03 1347.85C900.35 1344.46 898.79 1341.63 897.1 1337.68C895.4 1333.72 893.99 1328.36 892.86 1324.12C891.73 1319.88 890.04 1316.21 890.32 1312.25C890.6 1308.3 892.72 1303.78 894.56 1300.39C896.39 1297 901.05 1294.74 901.34 1291.92C901.62 1289.09 897.95 1286.55 896.25 1283.44C894.56 1280.33 892.3 1277.23 891.17 1273.27C890.04 1269.32 889.75 1264.23 889.47 1259.71C889.19 1255.19 889.75 1250.67 889.47 1246.15C889.19 1241.63 888.62 1236.55 887.78 1232.59C886.93 1228.64 886.36 1224.68 884.39 1222.42C882.41 1220.16 879.02 1219.32 875.91 1219.03C872.8 1218.75 869.7 1219.32 865.74 1220.73C861.79 1222.14 856.42 1225.25 852.18 1227.51C847.95 1229.77 844.27 1232.59 840.32 1234.29C836.36 1235.98 832.69 1236.97 828.45 1237.68C824.22 1238.38 819.41 1238.24 814.89 1238.53C810.38 1238.81 805.57 1239.8 801.34 1239.37C797.1 1238.95 793.43 1237.4 789.47 1235.98C785.52 1234.57 781.28 1232.59 777.61 1230.9C773.93 1229.2 769.98 1227.79 767.44 1225.81C764.89 1223.84 763.34 1221.01 762.35 1219.03C761.36 1217.06 761.22 1215.64 761.51 1213.95C761.79 1212.25 764.47 1210.56 764.05 1208.86C763.62 1207.17 760.52 1205.76 758.96 1203.78C757.41 1201.8 755.29 1199.26 754.73 1197C754.16 1194.74 754.3 1192.76 755.57 1190.22C756.84 1187.68 760.66 1184.85 762.35 1181.75C764.05 1178.64 765.18 1174.97 765.74 1171.58C766.31 1168.19 766.02 1164.8 765.74 1161.41C765.46 1158.02 763.48 1154.06 764.05 1151.24C764.61 1148.41 766.31 1147 769.13 1144.46C771.96 1141.92 777.89 1138.81 781 1135.98C784.1 1133.16 785.52 1129.63 787.78 1127.51C790.04 1125.39 790.04 1123.69 794.56 1123.27Z" fill="none" stroke="#23302a" stroke-opacity="0.5" stroke-width="9" filter="url(#glow)"/>
</g>
<path d="M794.56 1123.27C799.08 1122.85 808.68 1124.12 814.89 1124.97C821.11 1125.81 826.19 1127.51 831.84 1128.36C837.49 1129.2 843.14 1129.49 848.79 1130.05C854.44 1130.62 860.09 1131.18 865.74 1131.75C871.39 1132.31 878.17 1131.89 882.69 1133.44C887.21 1134.99 890.04 1138.1 892.86 1141.07C895.69 1144.03 898.23 1147.28 899.64 1151.24C901.05 1155.19 900.49 1160.28 901.34 1164.8C902.18 1169.32 903.31 1174.4 904.73 1178.36C906.14 1182.31 907.83 1184.85 909.81 1188.53C911.79 1192.2 913.76 1197 916.59 1200.39C919.41 1203.78 923.65 1205.76 926.76 1208.86C929.87 1211.97 932.97 1215.64 935.23 1219.03C937.49 1222.42 938.62 1225.25 940.32 1229.2C942.01 1233.16 943.99 1238.53 945.4 1242.76C946.82 1247 948.37 1250.67 948.79 1254.63C949.22 1258.58 949.08 1262.82 947.95 1266.49C946.82 1270.16 944.7 1273.27 942.01 1276.66C939.33 1280.05 934.95 1283.72 931.84 1286.83C928.74 1289.94 925.21 1292.76 923.37 1295.31C921.53 1297.85 919.13 1300.11 920.83 1302.08C922.52 1304.06 929.16 1305.47 933.54 1307.17C937.92 1308.86 943.43 1309.99 947.1 1312.25C950.77 1314.51 953.6 1317.06 955.57 1320.73C957.55 1324.4 958.68 1330.05 958.96 1334.29C959.25 1338.53 958.68 1342.76 957.27 1346.15C955.86 1349.54 953.6 1352.37 950.49 1354.63C947.38 1356.89 942.86 1358.72 938.62 1359.71C934.39 1360.7 929.3 1360.84 925.06 1360.56C920.83 1360.28 916.87 1360.14 913.2 1358.02C909.53 1355.9 905.71 1351.24 903.03 1347.85C900.35 1344.46 898.79 1341.63 897.1 1337.68C895.4 1333.72 893.99 1328.36 892.86 1324.12C891.73 1319.88 890.04 1316.21 890.32 1312.25C890.6 1308.3 892.72 1303.78 894.56 1300.39C896.39 1297 901.05 1294.74 901.34 1291.92C901.62 1289.09 897.95 1286.55 896.25 1283.44C894.56 1280.33 892.3 1277.23 891.17 1273.27C890.04 1269.32 889.75 1264.23 889.47 1259.71C889.19 1255.19 889.75 1250.67 889.47 1246.15C889.19 1241.63 888.62 1236.55 887.78 1232.59C886.93 1228.64 886.36 1224.68 884.39 1222.42C882.41 1220.16 879.02 1219.32 875.91 1219.03C872.8 1218.75 869.7 1219.32 865.74 1220.73C861.79 1222.14 856.42 1225.25 852.18 1227.51C847.95 1229.77 844.27 1232.59 840.32 1234.29C836.36 1235.98 832.69 1236.97 828.45 1237.68C824.22 1238.38 819.41 1238.24 814.89 1238.53C810.38 1238.81 805.57 1239.8 801.34 1239.37C797.1 1238.95 793.43 1237.4 789.47 1235.98C785.52 1234.57 781.28 1232.59 777.61 1230.9C773.93 1229.2 769.98 1227.79 767.44 1225.81C764.89 1223.84 763.34 1221.01 762.35 1219.03C761.36 1217.06 761.22 1215.64 761.51 1213.95C761.79 1212.25 764.47 1210.56 764.05 1208.86C763.62 1207.17 760.52 1205.76 758.96 1203.78C757.41 1201.8 755.29 1199.26 754.73 1197C754.16 1194.74 754.3 1192.76 755.57 1190.22C756.84 1187.68 760.66 1184.85 762.35 1181.75C764.05 1178.64 765.18 1174.97 765.74 1171.58C766.31 1168.19 766.02 1164.8 765.74 1161.41C765.46 1158.02 763.48 1154.06 764.05 1151.24C764.61 1148.41 766.31 1147 769.13 1144.46C771.96 1141.92 777.89 1138.81 781 1135.98C784.1 1133.16 785.52 1129.63 787.78 1127.51C790.04 1125.39 790.04 1123.69 794.56 1123.27Z" fill="none" stroke="#4c5650" stroke-opacity="0.5" stroke-width="1"/>
<line x1="193" y1="1411.15" x2="1598" y2="1134.65" stroke="#fff" stroke-width="7.8"/>
<path d="M1600.3 1123.7L1615.6 1131.1L1605.9 1144.6L1596.8 1139L1595.8 1130.3Z" fill="#fff"/>
<path d="M1600.3 1123.7L1610 1128.4L1596 1131.5Z" fill="#777" fill-opacity="0.45"/>
<path d="M188.8 1406.2L199 1405.5L206.5 1408.5L204 1420.5L188.8 1414.4Z" fill="#fff"/>
<text x="200.6" y="1451.4" font-size="41" textLength="58.4" lengthAdjust="spacingAndGlyphs" fill="#fff" filter="url(#tglow)">SW</text>
<text x="1566" y="1122.9" font-size="41.5" textLength="48.8" lengthAdjust="spacingAndGlyphs" fill="#fff" filter="url(#tglow)">NE</text>
<g fill="none" stroke="#666" stroke-width="1.5">
<rect x="123.1" y="59" width="1548.9" height="578.9"/>
<rect x="121.5" y="957.1" width="1550.5" height="575.8"/>
<path d="M202.5 39.8V59M202.5 638V657.5M200.88 937.6V957.1M200.88 1532.9V1552.2M507.4 39.8V59M507.4 638V657.5M506.12 937.6V957.1M506.12 1532.9V1552.2M812.3 39.8V59M812.3 638V657.5M811.35 937.6V957.1M811.35 1532.9V1552.2M1117.2 39.8V59M1117.2 638V657.5M1116.59 937.6V957.1M1116.59 1532.9V1552.2M1422.1 39.8V59M1422.1 638V657.5M1421.82 937.6V957.1M1421.82 1532.9V1552.2M103.7 181.4H123.2M1672.5 181.4H1691.5M102 1078.83H121.5M1672.5 1078.83H1691.5M103.7 487.5H123.2M1672.5 487.5H1691.5M102 1383.24H121.5M1672.5 1383.24H1691.5"/>
</g>
<g font-size="33" fill="#161616" stroke="#161616" stroke-width="0.35" text-anchor="middle">
<text x="202.5" y="26.3" textLength="109.4" lengthAdjust="spacingAndGlyphs">505650</text>
<text x="202.5" y="695.6" textLength="109.4" lengthAdjust="spacingAndGlyphs">505650</text>
<text x="200.88" y="924.1" textLength="109.4" lengthAdjust="spacingAndGlyphs">505650</text>
<text x="200.88" y="1590.5" textLength="109.4" lengthAdjust="spacingAndGlyphs">505650</text>
<text x="507.4" y="26.3" textLength="109.4" lengthAdjust="spacingAndGlyphs">505750</text>
<text x="507.4" y="695.6" textLength="109.4" lengthAdjust="spacingAndGlyphs">505750</text>
<text x="506.12" y="924.1" textLength="109.4" lengthAdjust="spacingAndGlyphs">505750</text>
<text x="506.12" y="1590.5" textLength="109.4" lengthAdjust="spacingAndGlyphs">505750</text>
<text x="812.3" y="26.3" textLength="109.4" lengthAdjust="spacingAndGlyphs">505850</text>
<text x="812.3" y="695.6" textLength="109.4" lengthAdjust="spacingAndGlyphs">505850</text>
<text x="811.35" y="924.1" textLength="109.4" lengthAdjust="spacingAndGlyphs">505850</text>
<text x="811.35" y="1590.5" textLength="109.4" lengthAdjust="spacingAndGlyphs">505850</text>
<text x="1117.2" y="26.3" textLength="109.4" lengthAdjust="spacingAndGlyphs">505950</text>
<text x="1117.2" y="695.6" textLength="109.4" lengthAdjust="spacingAndGlyphs">505950</text>
<text x="1116.59" y="924.1" textLength="109.4" lengthAdjust="spacingAndGlyphs">505950</text>
<text x="1116.59" y="1590.5" textLength="109.4" lengthAdjust="spacingAndGlyphs">505950</text>
<text x="1422.1" y="26.3" textLength="109.4" lengthAdjust="spacingAndGlyphs">506050</text>
<text x="1422.1" y="695.6" textLength="109.4" lengthAdjust="spacingAndGlyphs">506050</text>
<text x="1421.82" y="924.1" textLength="109.4" lengthAdjust="spacingAndGlyphs">506050</text>
<text x="1421.82" y="1590.5" textLength="109.4" lengthAdjust="spacingAndGlyphs">506050</text>
<text x="90.7" y="181.4" textLength="127.2" lengthAdjust="spacingAndGlyphs" transform="rotate(-90 90.7 181.4)">4567500</text>
<text x="1704.6" y="181.4" textLength="127.2" lengthAdjust="spacingAndGlyphs" transform="rotate(90 1704.6 181.4)">4567500</text>
<text x="88.6" y="1078.83" textLength="127.2" lengthAdjust="spacingAndGlyphs" transform="rotate(-90 88.6 1078.83)">4567500</text>
<text x="1704.6" y="1078.83" textLength="127.2" lengthAdjust="spacingAndGlyphs" transform="rotate(90 1704.6 1078.83)">4567500</text>
<text x="90.7" y="487.5" textLength="127.2" lengthAdjust="spacingAndGlyphs" transform="rotate(-90 90.7 487.5)">4567400</text>
<text x="1704.6" y="487.5" textLength="127.2" lengthAdjust="spacingAndGlyphs" transform="rotate(90 1704.6 487.5)">4567400</text>
<text x="88.6" y="1383.24" textLength="127.2" lengthAdjust="spacingAndGlyphs" transform="rotate(-90 88.6 1383.24)">4567400</text>
<text x="1704.6" y="1383.24" textLength="127.2" lengthAdjust="spacingAndGlyphs" transform="rotate(90 1704.6 1383.24)">4567400</text>
</g>
<g font-size="57.5" fill="#111"><text x="0" y="0" transform="translate(-0.1 701.7) scale(1 1.075)">a</text><text x="-0.1" y="1591.7">b</text></g>
<rect x="88.7" y="1761" width="1550.8" height="65.4" fill="url(#cb)" stroke="#111" stroke-width="1"/>
<g font-size="37" fill="#161616" stroke="#161616" stroke-width="0.35" text-anchor="middle">
<text x="113.12" y="1899.4">-450</text>
<text x="353.91" y="1899.4">-300</text>
<text x="594.71" y="1899.4">-150</text>
<text x="835.5" y="1899.4">0</text>
<text x="1076.3" y="1899.4">150</text>
<text x="1317.09" y="1899.4">300</text>
<text x="1557.88" y="1899.4">450</text>
<text x="856.3" y="1735.5" font-size="36.2">V (mV)</text>
</g>
<path d="M113.12 1826.4V1848M353.91 1826.4V1848M594.71 1826.4V1848M835.5 1826.4V1848M1076.3 1826.4V1848M1317.09 1826.4V1848M1557.88 1826.4V1848" fill="none" stroke="#666" stroke-width="1.4"/>
<path d="M1746.4 1732.3L1768 1790.2L1767.6 1791L1761.5 1791L1746.4 1781.3L1731.3 1791L1725.2 1791L1724.8 1790.2Z" fill="#000"/>
<text x="1746.3" y="1721.8" font-size="25.5" text-anchor="middle" textLength="20.6" lengthAdjust="spacingAndGlyphs" fill="#000" stroke="#000" stroke-width="0.9">N</text>
</svg></body></html>
